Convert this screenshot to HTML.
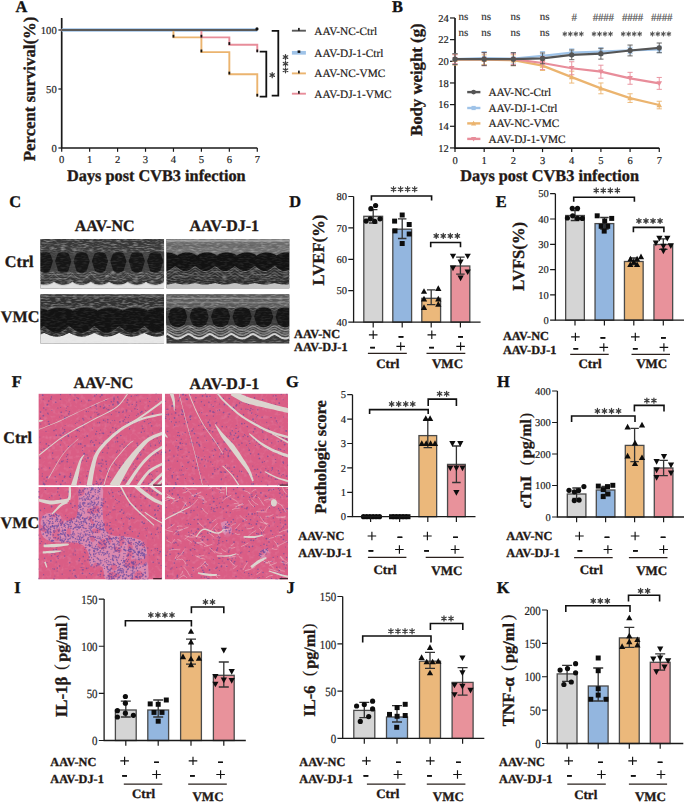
<!DOCTYPE html>
<html><head><meta charset="utf-8"><style>
html,body{margin:0;padding:0;background:#fff;overflow:hidden;}
svg{display:block;font-family:"Liberation Serif",serif;text-rendering:geometricPrecision;}
</style></head><body>
<svg width="685" height="802" viewBox="0 0 685 802" fill="#231815">
<rect width="685" height="802" fill="#fff"/>
<defs>
<linearGradient id="brg" x1="0" y1="0" x2="0" y2="1"><stop offset="0" stop-color="#cfcfcf"/><stop offset="0.5" stop-color="#efefef"/><stop offset="1" stop-color="#bdbdbd"/></linearGradient>
<filter id="echoNoise" x="0" y="0" width="100%" height="100%"><feTurbulence type="fractalNoise" baseFrequency="0.18 0.7" numOctaves="2" seed="3"/><feColorMatrix type="matrix" values="0 0 0 0 0.62  0 0 0 0 0.62  0 0 0 0 0.62  2.2 0 0 0 -0.95"/></filter>
<filter id="histNoise" x="0" y="0" width="100%" height="100%"><feTurbulence type="fractalNoise" baseFrequency="0.25" numOctaves="2" seed="5"/><feColorMatrix type="matrix" values="0 0 0 0 1  0 0 0 0 0.85  0 0 0 0 0.95  1.5 0 0 0 -0.7"/></filter>
</defs><clipPath id="ec1"><rect x="40.3" y="239" width="123.8" height="49.8"/></clipPath><g clip-path="url(#ec1)"><rect x="40.3" y="239" width="123.8" height="49.8" fill="#353535"/><polygon points="40.3,239 164.1,239 164.1,255.7 163.5,255 162.8,254.4 162.1,254 161.4,253.5 160.7,253.2 160,252.8 159.3,252.6 158.6,252.3 157.9,252.1 157.2,252 156.5,251.9 155.8,251.8 155.1,251.8 154.4,251.8 153.7,251.9 153,252 152.3,252.2 151.6,252.4 150.9,252.6 150.2,252.9 149.5,253.3 148.8,253.6 148.1,254.1 147.4,254.6 146.7,255.2 146,256.2 145.3,255.2 144.6,254.6 143.9,254.1 143.2,253.6 142.5,253.3 141.8,252.9 141.1,252.6 140.4,252.4 139.7,252.2 139,252 138.3,251.9 137.6,251.8 136.9,251.8 136.2,251.8 135.5,251.9 134.8,252 134.1,252.1 133.4,252.3 132.7,252.6 132,252.8 131.3,253.2 130.6,253.5 129.9,254 129.2,254.4 128.5,255 127.8,255.8 127.1,255.4 126.4,254.8 125.7,254.2 125,253.8 124.3,253.4 123.6,253 122.9,252.7 122.2,252.4 121.5,252.2 120.8,252.1 120.1,251.9 119.4,251.8 118.7,251.8 118,251.8 117.3,251.9 116.6,251.9 115.9,252.1 115.2,252.3 114.5,252.5 113.8,252.7 113.1,253.1 112.4,253.4 111.7,253.8 111,254.3 110.3,254.8 109.6,255.5 108.9,255.7 108.2,254.9 107.5,254.4 106.8,253.9 106.1,253.5 105.4,253.1 104.7,252.8 104,252.5 103.3,252.3 102.6,252.1 101.9,252 101.2,251.9 100.5,251.8 99.8,251.8 99.1,251.8 98.4,251.9 97.7,252 97,252.2 96.3,252.4 95.6,252.7 94.9,253 94.2,253.3 93.5,253.7 92.8,254.2 92.1,254.7 91.4,255.3 90.7,255.9 90,255.1 89.3,254.5 88.6,254 87.9,253.6 87.2,253.2 86.5,252.9 85.8,252.6 85.1,252.3 84.4,252.2 83.7,252 83,251.9 82.3,251.8 81.6,251.8 80.9,251.8 80.2,251.9 79.5,252 78.8,252.2 78.1,252.3 77.4,252.6 76.7,252.9 76,253.2 75.3,253.6 74.6,254 73.9,254.5 73.2,255.1 72.5,255.9 71.8,255.3 71.1,254.7 70.4,254.2 69.7,253.7 69,253.3 68.3,253 67.6,252.7 66.9,252.4 66.2,252.2 65.5,252 64.8,251.9 64.1,251.8 63.4,251.8 62.7,251.8 62,251.9 61.3,252 60.6,252.1 59.9,252.3 59.2,252.5 58.5,252.8 57.8,253.1 57.1,253.5 56.4,253.9 55.7,254.4 55,254.9 54.3,255.7 53.6,255.5 52.9,254.8 52.2,254.3 51.5,253.8 50.8,253.4 50.1,253.1 49.4,252.7 48.7,252.5 48,252.3 47.3,252.1 46.6,251.9 45.9,251.9 45.2,251.8 44.5,251.8 43.8,251.8 43.1,251.9 42.4,252.1 41.7,252.2 41,252.4 40.3,252.7" fill="#383838"/><polyline points="40.3,250.2 41,249.9 41.7,249.7 42.4,249.6 43.1,249.4 43.8,249.3 44.5,249.3 45.2,249.3 45.9,249.4 46.6,249.4 47.3,249.6 48,249.8 48.7,250 49.4,250.2 50.1,250.6 50.8,250.9 51.5,251.3 52.2,251.8 52.9,252.3 53.6,253 54.3,253.2 55,252.4 55.7,251.9 56.4,251.4 57.1,251 57.8,250.6 58.5,250.3 59.2,250 59.9,249.8 60.6,249.6 61.3,249.5 62,249.4 62.7,249.3 63.4,249.3 64.1,249.3 64.8,249.4 65.5,249.5 66.2,249.7 66.9,249.9 67.6,250.2 68.3,250.5 69,250.8 69.7,251.2 70.4,251.7 71.1,252.2 71.8,252.8 72.5,253.4 73.2,252.6 73.9,252 74.6,251.5 75.3,251.1 76,250.7 76.7,250.4 77.4,250.1 78.1,249.8 78.8,249.7 79.5,249.5 80.2,249.4 80.9,249.3 81.6,249.3 82.3,249.3 83,249.4 83.7,249.5 84.4,249.7 85.1,249.8 85.8,250.1 86.5,250.4 87.2,250.7 87.9,251.1 88.6,251.5 89.3,252 90,252.6 90.7,253.4 91.4,252.8 92.1,252.2 92.8,251.7 93.5,251.2 94.2,250.8 94.9,250.5 95.6,250.2 96.3,249.9 97,249.7 97.7,249.5 98.4,249.4 99.1,249.3 99.8,249.3 100.5,249.3 101.2,249.4 101.9,249.5 102.6,249.6 103.3,249.8 104,250 104.7,250.3 105.4,250.6 106.1,251 106.8,251.4 107.5,251.9 108.2,252.4 108.9,253.2 109.6,253 110.3,252.3 111,251.8 111.7,251.3 112.4,250.9 113.1,250.6 113.8,250.2 114.5,250 115.2,249.8 115.9,249.6 116.6,249.4 117.3,249.4 118,249.3 118.7,249.3 119.4,249.3 120.1,249.4 120.8,249.6 121.5,249.7 122.2,249.9 122.9,250.2 123.6,250.5 124.3,250.9 125,251.3 125.7,251.7 126.4,252.3 127.1,252.9 127.8,253.3 128.5,252.5 129.2,251.9 129.9,251.5 130.6,251 131.3,250.7 132,250.3 132.7,250.1 133.4,249.8 134.1,249.6 134.8,249.5 135.5,249.4 136.2,249.3 136.9,249.3 137.6,249.3 138.3,249.4 139,249.5 139.7,249.7 140.4,249.9 141.1,250.1 141.8,250.4 142.5,250.8 143.2,251.1 143.9,251.6 144.6,252.1 145.3,252.7 146,253.7 146.7,252.7 147.4,252.1 148.1,251.6 148.8,251.1 149.5,250.8 150.2,250.4 150.9,250.1 151.6,249.9 152.3,249.7 153,249.5 153.7,249.4 154.4,249.3 155.1,249.3 155.8,249.3 156.5,249.4 157.2,249.5 157.9,249.6 158.6,249.8 159.3,250.1 160,250.3 160.7,250.7 161.4,251 162.1,251.5 162.8,251.9 163.5,252.5 164.1,253.2" fill="none" stroke="#4c4c4c" stroke-width="1.2"/><polyline points="40.3,246.7 41,246.4 41.7,246.2 42.4,246.1 43.1,245.9 43.8,245.8 44.5,245.8 45.2,245.8 45.9,245.9 46.6,245.9 47.3,246.1 48,246.3 48.7,246.5 49.4,246.7 50.1,247.1 50.8,247.4 51.5,247.8 52.2,248.3 52.9,248.8 53.6,249.5 54.3,249.7 55,248.9 55.7,248.4 56.4,247.9 57.1,247.5 57.8,247.1 58.5,246.8 59.2,246.5 59.9,246.3 60.6,246.1 61.3,246 62,245.9 62.7,245.8 63.4,245.8 64.1,245.8 64.8,245.9 65.5,246 66.2,246.2 66.9,246.4 67.6,246.7 68.3,247 69,247.3 69.7,247.7 70.4,248.2 71.1,248.7 71.8,249.3 72.5,249.9 73.2,249.1 73.9,248.5 74.6,248 75.3,247.6 76,247.2 76.7,246.9 77.4,246.6 78.1,246.3 78.8,246.2 79.5,246 80.2,245.9 80.9,245.8 81.6,245.8 82.3,245.8 83,245.9 83.7,246 84.4,246.2 85.1,246.3 85.8,246.6 86.5,246.9 87.2,247.2 87.9,247.6 88.6,248 89.3,248.5 90,249.1 90.7,249.9 91.4,249.3 92.1,248.7 92.8,248.2 93.5,247.7 94.2,247.3 94.9,247 95.6,246.7 96.3,246.4 97,246.2 97.7,246 98.4,245.9 99.1,245.8 99.8,245.8 100.5,245.8 101.2,245.9 101.9,246 102.6,246.1 103.3,246.3 104,246.5 104.7,246.8 105.4,247.1 106.1,247.5 106.8,247.9 107.5,248.4 108.2,248.9 108.9,249.7 109.6,249.5 110.3,248.8 111,248.3 111.7,247.8 112.4,247.4 113.1,247.1 113.8,246.7 114.5,246.5 115.2,246.3 115.9,246.1 116.6,245.9 117.3,245.9 118,245.8 118.7,245.8 119.4,245.8 120.1,245.9 120.8,246.1 121.5,246.2 122.2,246.4 122.9,246.7 123.6,247 124.3,247.4 125,247.8 125.7,248.2 126.4,248.8 127.1,249.4 127.8,249.8 128.5,249 129.2,248.4 129.9,248 130.6,247.5 131.3,247.2 132,246.8 132.7,246.6 133.4,246.3 134.1,246.1 134.8,246 135.5,245.9 136.2,245.8 136.9,245.8 137.6,245.8 138.3,245.9 139,246 139.7,246.2 140.4,246.4 141.1,246.6 141.8,246.9 142.5,247.3 143.2,247.6 143.9,248.1 144.6,248.6 145.3,249.2 146,250.2 146.7,249.2 147.4,248.6 148.1,248.1 148.8,247.6 149.5,247.3 150.2,246.9 150.9,246.6 151.6,246.4 152.3,246.2 153,246 153.7,245.9 154.4,245.8 155.1,245.8 155.8,245.8 156.5,245.9 157.2,246 157.9,246.1 158.6,246.3 159.3,246.6 160,246.8 160.7,247.2 161.4,247.5 162.1,248 162.8,248.4 163.5,249 164.1,249.7" fill="none" stroke="#444" stroke-width="1.2"/><polyline points="40.3,272.7 41,273 41.7,273.4 42.4,273.6 43.1,273.8 43.8,273.9 44.5,274 45.2,274 45.9,273.9 46.6,273.8 47.3,273.6 48,273.3 48.7,273 49.4,272.6 50.1,272.1 50.8,271.6 51.5,271 52.2,270.3 52.9,269.5 53.6,268.5 54.3,268.3 55,269.4 55.7,270.2 56.4,270.9 57.1,271.5 57.8,272.1 58.5,272.5 59.2,272.9 59.9,273.3 60.6,273.6 61.3,273.8 62,273.9 62.7,274 63.4,274 64.1,273.9 64.8,273.8 65.5,273.6 66.2,273.4 66.9,273.1 67.6,272.7 68.3,272.3 69,271.8 69.7,271.2 70.4,270.5 71.1,269.8 71.8,268.8 72.5,267.9 73.2,269.1 73.9,270 74.6,270.7 75.3,271.4 76,271.9 76.7,272.4 77.4,272.8 78.1,273.2 78.8,273.5 79.5,273.7 80.2,273.9 80.9,274 81.6,274 82.3,274 83,273.9 83.7,273.7 84.4,273.5 85.1,273.2 85.8,272.8 86.5,272.4 87.2,271.9 87.9,271.4 88.6,270.7 89.3,270 90,269.1 90.7,267.9 91.4,268.8 92.1,269.8 92.8,270.5 93.5,271.2 94.2,271.8 94.9,272.3 95.6,272.7 96.3,273.1 97,273.4 97.7,273.6 98.4,273.8 99.1,273.9 99.8,274 100.5,274 101.2,273.9 101.9,273.8 102.6,273.6 103.3,273.3 104,272.9 104.7,272.5 105.4,272.1 106.1,271.5 106.8,270.9 107.5,270.2 108.2,269.4 108.9,268.3 109.6,268.5 110.3,269.5 111,270.3 111.7,271 112.4,271.6 113.1,272.1 113.8,272.6 114.5,273 115.2,273.3 115.9,273.6 116.6,273.8 117.3,273.9 118,274 118.7,274 119.4,273.9 120.1,273.8 120.8,273.6 121.5,273.4 122.2,273 122.9,272.7 123.6,272.2 124.3,271.7 125,271.1 125.7,270.4 126.4,269.6 127.1,268.7 127.8,268.1 128.5,269.2 129.2,270.1 129.9,270.8 130.6,271.4 131.3,272 132,272.5 132.7,272.9 133.4,273.2 134.1,273.5 134.8,273.7 135.5,273.9 136.2,274 136.9,274 137.6,274 138.3,273.9 139,273.7 139.7,273.4 140.4,273.1 141.1,272.8 141.8,272.3 142.5,271.8 143.2,271.3 143.9,270.6 144.6,269.9 145.3,269 146,267.5 146.7,269 147.4,269.9 148.1,270.6 148.8,271.3 149.5,271.8 150.2,272.3 150.9,272.8 151.6,273.1 152.3,273.4 153,273.7 153.7,273.9 154.4,274 155.1,274 155.8,274 156.5,273.9 157.2,273.7 157.9,273.5 158.6,273.2 159.3,272.9 160,272.5 160.7,272 161.4,271.4 162.1,270.8 162.8,270.1 163.5,269.2 164.1,268.3" fill="none" stroke="#555" stroke-width="1.3"/><polyline points="40.3,275.2 41,275.5 41.7,275.9 42.4,276.1 43.1,276.3 43.8,276.4 44.5,276.5 45.2,276.5 45.9,276.4 46.6,276.3 47.3,276.1 48,275.8 48.7,275.5 49.4,275.1 50.1,274.6 50.8,274.1 51.5,273.5 52.2,272.8 52.9,272 53.6,271 54.3,270.8 55,271.9 55.7,272.7 56.4,273.4 57.1,274 57.8,274.6 58.5,275 59.2,275.4 59.9,275.8 60.6,276.1 61.3,276.3 62,276.4 62.7,276.5 63.4,276.5 64.1,276.4 64.8,276.3 65.5,276.1 66.2,275.9 66.9,275.6 67.6,275.2 68.3,274.8 69,274.3 69.7,273.7 70.4,273 71.1,272.3 71.8,271.3 72.5,270.4 73.2,271.6 73.9,272.5 74.6,273.2 75.3,273.9 76,274.4 76.7,274.9 77.4,275.3 78.1,275.7 78.8,276 79.5,276.2 80.2,276.4 80.9,276.5 81.6,276.5 82.3,276.5 83,276.4 83.7,276.2 84.4,276 85.1,275.7 85.8,275.3 86.5,274.9 87.2,274.4 87.9,273.9 88.6,273.2 89.3,272.5 90,271.6 90.7,270.4 91.4,271.3 92.1,272.3 92.8,273 93.5,273.7 94.2,274.3 94.9,274.8 95.6,275.2 96.3,275.6 97,275.9 97.7,276.1 98.4,276.3 99.1,276.4 99.8,276.5 100.5,276.5 101.2,276.4 101.9,276.3 102.6,276.1 103.3,275.8 104,275.4 104.7,275 105.4,274.6 106.1,274 106.8,273.4 107.5,272.7 108.2,271.9 108.9,270.8 109.6,271 110.3,272 111,272.8 111.7,273.5 112.4,274.1 113.1,274.6 113.8,275.1 114.5,275.5 115.2,275.8 115.9,276.1 116.6,276.3 117.3,276.4 118,276.5 118.7,276.5 119.4,276.4 120.1,276.3 120.8,276.1 121.5,275.9 122.2,275.5 122.9,275.2 123.6,274.7 124.3,274.2 125,273.6 125.7,272.9 126.4,272.1 127.1,271.2 127.8,270.6 128.5,271.7 129.2,272.6 129.9,273.3 130.6,273.9 131.3,274.5 132,275 132.7,275.4 133.4,275.7 134.1,276 134.8,276.2 135.5,276.4 136.2,276.5 136.9,276.5 137.6,276.5 138.3,276.4 139,276.2 139.7,275.9 140.4,275.6 141.1,275.3 141.8,274.8 142.5,274.3 143.2,273.8 143.9,273.1 144.6,272.4 145.3,271.5 146,270 146.7,271.5 147.4,272.4 148.1,273.1 148.8,273.8 149.5,274.3 150.2,274.8 150.9,275.3 151.6,275.6 152.3,275.9 153,276.2 153.7,276.4 154.4,276.5 155.1,276.5 155.8,276.5 156.5,276.4 157.2,276.2 157.9,276 158.6,275.7 159.3,275.4 160,275 160.7,274.5 161.4,273.9 162.1,273.3 162.8,272.6 163.5,271.7 164.1,270.8" fill="none" stroke="#4a4a4a" stroke-width="1.2"/><polyline points="40.3,277.7 41,278 41.7,278.4 42.4,278.6 43.1,278.8 43.8,278.9 44.5,279 45.2,279 45.9,278.9 46.6,278.8 47.3,278.6 48,278.3 48.7,278 49.4,277.6 50.1,277.1 50.8,276.6 51.5,276 52.2,275.3 52.9,274.5 53.6,273.5 54.3,273.3 55,274.4 55.7,275.2 56.4,275.9 57.1,276.5 57.8,277.1 58.5,277.5 59.2,277.9 59.9,278.3 60.6,278.6 61.3,278.8 62,278.9 62.7,279 63.4,279 64.1,278.9 64.8,278.8 65.5,278.6 66.2,278.4 66.9,278.1 67.6,277.7 68.3,277.3 69,276.8 69.7,276.2 70.4,275.5 71.1,274.8 71.8,273.8 72.5,272.9 73.2,274.1 73.9,275 74.6,275.7 75.3,276.4 76,276.9 76.7,277.4 77.4,277.8 78.1,278.2 78.8,278.5 79.5,278.7 80.2,278.9 80.9,279 81.6,279 82.3,279 83,278.9 83.7,278.7 84.4,278.5 85.1,278.2 85.8,277.8 86.5,277.4 87.2,276.9 87.9,276.4 88.6,275.7 89.3,275 90,274.1 90.7,272.9 91.4,273.8 92.1,274.8 92.8,275.5 93.5,276.2 94.2,276.8 94.9,277.3 95.6,277.7 96.3,278.1 97,278.4 97.7,278.6 98.4,278.8 99.1,278.9 99.8,279 100.5,279 101.2,278.9 101.9,278.8 102.6,278.6 103.3,278.3 104,277.9 104.7,277.5 105.4,277.1 106.1,276.5 106.8,275.9 107.5,275.2 108.2,274.4 108.9,273.3 109.6,273.5 110.3,274.5 111,275.3 111.7,276 112.4,276.6 113.1,277.1 113.8,277.6 114.5,278 115.2,278.3 115.9,278.6 116.6,278.8 117.3,278.9 118,279 118.7,279 119.4,278.9 120.1,278.8 120.8,278.6 121.5,278.4 122.2,278 122.9,277.7 123.6,277.2 124.3,276.7 125,276.1 125.7,275.4 126.4,274.6 127.1,273.7 127.8,273.1 128.5,274.2 129.2,275.1 129.9,275.8 130.6,276.4 131.3,277 132,277.5 132.7,277.9 133.4,278.2 134.1,278.5 134.8,278.7 135.5,278.9 136.2,279 136.9,279 137.6,279 138.3,278.9 139,278.7 139.7,278.4 140.4,278.1 141.1,277.8 141.8,277.3 142.5,276.8 143.2,276.3 143.9,275.6 144.6,274.9 145.3,274 146,272.5 146.7,274 147.4,274.9 148.1,275.6 148.8,276.3 149.5,276.8 150.2,277.3 150.9,277.8 151.6,278.1 152.3,278.4 153,278.7 153.7,278.9 154.4,279 155.1,279 155.8,279 156.5,278.9 157.2,278.7 157.9,278.5 158.6,278.2 159.3,277.9 160,277.5 160.7,277 161.4,276.4 162.1,275.8 162.8,275.1 163.5,274.2 164.1,273.3" fill="none" stroke="#5a5a5a" stroke-width="1.2"/><polyline points="40.3,280.2 41,280.5 41.7,280.9 42.4,281.1 43.1,281.3 43.8,281.4 44.5,281.5 45.2,281.5 45.9,281.4 46.6,281.3 47.3,281.1 48,280.8 48.7,280.5 49.4,280.1 50.1,279.6 50.8,279.1 51.5,278.5 52.2,277.8 52.9,277 53.6,276 54.3,275.8 55,276.9 55.7,277.7 56.4,278.4 57.1,279 57.8,279.6 58.5,280 59.2,280.4 59.9,280.8 60.6,281.1 61.3,281.3 62,281.4 62.7,281.5 63.4,281.5 64.1,281.4 64.8,281.3 65.5,281.1 66.2,280.9 66.9,280.6 67.6,280.2 68.3,279.8 69,279.3 69.7,278.7 70.4,278 71.1,277.3 71.8,276.3 72.5,275.4 73.2,276.6 73.9,277.5 74.6,278.2 75.3,278.9 76,279.4 76.7,279.9 77.4,280.3 78.1,280.7 78.8,281 79.5,281.2 80.2,281.4 80.9,281.5 81.6,281.5 82.3,281.5 83,281.4 83.7,281.2 84.4,281 85.1,280.7 85.8,280.3 86.5,279.9 87.2,279.4 87.9,278.9 88.6,278.2 89.3,277.5 90,276.6 90.7,275.4 91.4,276.3 92.1,277.3 92.8,278 93.5,278.7 94.2,279.3 94.9,279.8 95.6,280.2 96.3,280.6 97,280.9 97.7,281.1 98.4,281.3 99.1,281.4 99.8,281.5 100.5,281.5 101.2,281.4 101.9,281.3 102.6,281.1 103.3,280.8 104,280.4 104.7,280 105.4,279.6 106.1,279 106.8,278.4 107.5,277.7 108.2,276.9 108.9,275.8 109.6,276 110.3,277 111,277.8 111.7,278.5 112.4,279.1 113.1,279.6 113.8,280.1 114.5,280.5 115.2,280.8 115.9,281.1 116.6,281.3 117.3,281.4 118,281.5 118.7,281.5 119.4,281.4 120.1,281.3 120.8,281.1 121.5,280.9 122.2,280.5 122.9,280.2 123.6,279.7 124.3,279.2 125,278.6 125.7,277.9 126.4,277.1 127.1,276.2 127.8,275.6 128.5,276.7 129.2,277.6 129.9,278.3 130.6,278.9 131.3,279.5 132,280 132.7,280.4 133.4,280.7 134.1,281 134.8,281.2 135.5,281.4 136.2,281.5 136.9,281.5 137.6,281.5 138.3,281.4 139,281.2 139.7,280.9 140.4,280.6 141.1,280.3 141.8,279.8 142.5,279.3 143.2,278.8 143.9,278.1 144.6,277.4 145.3,276.5 146,275 146.7,276.5 147.4,277.4 148.1,278.1 148.8,278.8 149.5,279.3 150.2,279.8 150.9,280.3 151.6,280.6 152.3,280.9 153,281.2 153.7,281.4 154.4,281.5 155.1,281.5 155.8,281.5 156.5,281.4 157.2,281.2 157.9,281 158.6,280.7 159.3,280.4 160,280 160.7,279.5 161.4,278.9 162.1,278.3 162.8,277.6 163.5,276.7 164.1,275.8" fill="none" stroke="#444" stroke-width="1.2"/><rect x="40.3" y="239" width="123.8" height="49.8" filter="url(#echoNoise)" opacity="0.5"/><polygon points="40.3,284.3 41,284.5 41.7,284.7 42.4,284.8 43.1,284.9 43.8,285 44.5,285 45.2,285 45.9,285 46.6,284.9 47.3,284.8 48,284.7 48.7,284.5 49.4,284.3 50.1,284.1 50.8,283.8 51.5,283.5 52.2,283.2 52.9,282.8 53.6,282.3 54.3,282.2 55,282.7 55.7,283.1 56.4,283.5 57.1,283.8 57.8,284 58.5,284.3 59.2,284.5 59.9,284.6 60.6,284.8 61.3,284.9 62,285 62.7,285 63.4,285 64.1,285 64.8,284.9 65.5,284.8 66.2,284.7 66.9,284.6 67.6,284.4 68.3,284.2 69,283.9 69.7,283.6 70.4,283.3 71.1,282.9 71.8,282.4 72.5,282 73.2,282.6 73.9,283 74.6,283.4 75.3,283.7 76,284 76.7,284.2 77.4,284.4 78.1,284.6 78.8,284.7 79.5,284.9 80.2,284.9 80.9,285 81.6,285 82.3,285 83,284.9 83.7,284.9 84.4,284.7 85.1,284.6 85.8,284.4 86.5,284.2 87.2,284 87.9,283.7 88.6,283.4 89.3,283 90,282.6 90.7,282 91.4,282.4 92.1,282.9 92.8,283.3 93.5,283.6 94.2,283.9 94.9,284.2 95.6,284.4 96.3,284.6 97,284.7 97.7,284.8 98.4,284.9 99.1,285 99.8,285 100.5,285 101.2,285 101.9,284.9 102.6,284.8 103.3,284.6 104,284.5 104.7,284.3 105.4,284 106.1,283.8 106.8,283.5 107.5,283.1 108.2,282.7 108.9,282.2 109.6,282.3 110.3,282.8 111,283.2 111.7,283.5 112.4,283.8 113.1,284.1 113.8,284.3 114.5,284.5 115.2,284.7 115.9,284.8 116.6,284.9 117.3,285 118,285 118.7,285 119.4,285 120.1,284.9 120.8,284.8 121.5,284.7 122.2,284.5 122.9,284.3 123.6,284.1 124.3,283.9 125,283.6 125.7,283.2 126.4,282.8 127.1,282.4 127.8,282.1 128.5,282.7 129.2,283.1 129.9,283.4 130.6,283.7 131.3,284 132,284.2 132.7,284.5 133.4,284.6 134.1,284.8 134.8,284.9 135.5,284.9 136.2,285 136.9,285 137.6,285 138.3,284.9 139,284.8 139.7,284.7 140.4,284.6 141.1,284.4 141.8,284.2 142.5,283.9 143.2,283.7 143.9,283.3 144.6,283 145.3,282.5 146,281.8 146.7,282.5 147.4,283 148.1,283.3 148.8,283.7 149.5,283.9 150.2,284.2 150.9,284.4 151.6,284.6 152.3,284.7 153,284.8 153.7,284.9 154.4,285 155.1,285 155.8,285 156.5,284.9 157.2,284.9 157.9,284.8 158.6,284.6 159.3,284.5 160,284.2 160.7,284 161.4,283.7 162.1,283.4 162.8,283.1 163.5,282.7 164.1,282.2 164.1,288.8 40.3,288.8" fill="#e2e2e2"/><polyline points="40.3,284.5 41,284.7 41.7,284.9 42.4,285 43.1,285.1 43.8,285.2 44.5,285.2 45.2,285.2 45.9,285.2 46.6,285.1 47.3,285 48,284.9 48.7,284.7 49.4,284.5 50.1,284.3 50.8,284 51.5,283.7 52.2,283.4 52.9,283 53.6,282.5 54.3,282.4 55,282.9 55.7,283.3 56.4,283.7 57.1,284 57.8,284.2 58.5,284.5 59.2,284.7 59.9,284.8 60.6,285 61.3,285.1 62,285.2 62.7,285.2 63.4,285.2 64.1,285.2 64.8,285.1 65.5,285 66.2,284.9 66.9,284.8 67.6,284.6 68.3,284.4 69,284.1 69.7,283.8 70.4,283.5 71.1,283.1 71.8,282.6 72.5,282.2 73.2,282.8 73.9,283.2 74.6,283.6 75.3,283.9 76,284.2 76.7,284.4 77.4,284.6 78.1,284.8 78.8,284.9 79.5,285.1 80.2,285.1 80.9,285.2 81.6,285.2 82.3,285.2 83,285.1 83.7,285.1 84.4,284.9 85.1,284.8 85.8,284.6 86.5,284.4 87.2,284.2 87.9,283.9 88.6,283.6 89.3,283.2 90,282.8 90.7,282.2 91.4,282.6 92.1,283.1 92.8,283.5 93.5,283.8 94.2,284.1 94.9,284.4 95.6,284.6 96.3,284.8 97,284.9 97.7,285 98.4,285.1 99.1,285.2 99.8,285.2 100.5,285.2 101.2,285.2 101.9,285.1 102.6,285 103.3,284.8 104,284.7 104.7,284.5 105.4,284.2 106.1,284 106.8,283.7 107.5,283.3 108.2,282.9 108.9,282.4 109.6,282.5 110.3,283 111,283.4 111.7,283.7 112.4,284 113.1,284.3 113.8,284.5 114.5,284.7 115.2,284.9 115.9,285 116.6,285.1 117.3,285.2 118,285.2 118.7,285.2 119.4,285.2 120.1,285.1 120.8,285 121.5,284.9 122.2,284.7 122.9,284.5 123.6,284.3 124.3,284.1 125,283.8 125.7,283.4 126.4,283 127.1,282.6 127.8,282.3 128.5,282.9 129.2,283.3 129.9,283.6 130.6,283.9 131.3,284.2 132,284.4 132.7,284.7 133.4,284.8 134.1,285 134.8,285.1 135.5,285.1 136.2,285.2 136.9,285.2 137.6,285.2 138.3,285.1 139,285 139.7,284.9 140.4,284.8 141.1,284.6 141.8,284.4 142.5,284.1 143.2,283.9 143.9,283.5 144.6,283.2 145.3,282.7 146,282 146.7,282.7 147.4,283.2 148.1,283.5 148.8,283.9 149.5,284.1 150.2,284.4 150.9,284.6 151.6,284.8 152.3,284.9 153,285 153.7,285.1 154.4,285.2 155.1,285.2 155.8,285.2 156.5,285.1 157.2,285.1 157.9,285 158.6,284.8 159.3,284.7 160,284.4 160.7,284.2 161.4,283.9 162.1,283.6 162.8,283.3 163.5,282.9 164.1,282.4" fill="none" stroke="#c8c8c8" stroke-width="1"/><polygon points="40.3,252.7 41,252.4 41.7,252.2 42.4,252.1 43.1,251.9 43.8,251.8 44.5,251.8 45.2,251.8 45.9,251.9 46.6,251.9 47.3,252.1 48,252.3 48.7,252.5 49.4,252.7 50.1,253.1 50.8,253.4 51.5,253.8 52.2,254.3 52.9,254.8 53.6,255.5 54.3,255.7 55,254.9 55.7,254.4 56.4,253.9 57.1,253.5 57.8,253.1 58.5,252.8 59.2,252.5 59.9,252.3 60.6,252.1 61.3,252 62,251.9 62.7,251.8 63.4,251.8 64.1,251.8 64.8,251.9 65.5,252 66.2,252.2 66.9,252.4 67.6,252.7 68.3,253 69,253.3 69.7,253.7 70.4,254.2 71.1,254.7 71.8,255.3 72.5,255.9 73.2,255.1 73.9,254.5 74.6,254 75.3,253.6 76,253.2 76.7,252.9 77.4,252.6 78.1,252.3 78.8,252.2 79.5,252 80.2,251.9 80.9,251.8 81.6,251.8 82.3,251.8 83,251.9 83.7,252 84.4,252.2 85.1,252.3 85.8,252.6 86.5,252.9 87.2,253.2 87.9,253.6 88.6,254 89.3,254.5 90,255.1 90.7,255.9 91.4,255.3 92.1,254.7 92.8,254.2 93.5,253.7 94.2,253.3 94.9,253 95.6,252.7 96.3,252.4 97,252.2 97.7,252 98.4,251.9 99.1,251.8 99.8,251.8 100.5,251.8 101.2,251.9 101.9,252 102.6,252.1 103.3,252.3 104,252.5 104.7,252.8 105.4,253.1 106.1,253.5 106.8,253.9 107.5,254.4 108.2,254.9 108.9,255.7 109.6,255.5 110.3,254.8 111,254.3 111.7,253.8 112.4,253.4 113.1,253.1 113.8,252.7 114.5,252.5 115.2,252.3 115.9,252.1 116.6,251.9 117.3,251.9 118,251.8 118.7,251.8 119.4,251.8 120.1,251.9 120.8,252.1 121.5,252.2 122.2,252.4 122.9,252.7 123.6,253 124.3,253.4 125,253.8 125.7,254.2 126.4,254.8 127.1,255.4 127.8,255.8 128.5,255 129.2,254.4 129.9,254 130.6,253.5 131.3,253.2 132,252.8 132.7,252.6 133.4,252.3 134.1,252.1 134.8,252 135.5,251.9 136.2,251.8 136.9,251.8 137.6,251.8 138.3,251.9 139,252 139.7,252.2 140.4,252.4 141.1,252.6 141.8,252.9 142.5,253.3 143.2,253.6 143.9,254.1 144.6,254.6 145.3,255.2 146,256.2 146.7,255.2 147.4,254.6 148.1,254.1 148.8,253.6 149.5,253.3 150.2,252.9 150.9,252.6 151.6,252.4 152.3,252.2 153,252 153.7,251.9 154.4,251.8 155.1,251.8 155.8,251.8 156.5,251.9 157.2,252 157.9,252.1 158.6,252.3 159.3,252.6 160,252.8 160.7,253.2 161.4,253.5 162.1,254 162.8,254.4 163.5,255 164.1,255.7 164.1,266.8 163.5,267.7 162.8,268.6 162.1,269.3 161.4,269.9 160.7,270.5 160,271 159.3,271.4 158.6,271.7 157.9,272 157.2,272.2 156.5,272.4 155.8,272.5 155.1,272.5 154.4,272.5 153.7,272.4 153,272.2 152.3,271.9 151.6,271.6 150.9,271.3 150.2,270.8 149.5,270.3 148.8,269.8 148.1,269.1 147.4,268.4 146.7,267.5 146,266 145.3,267.5 144.6,268.4 143.9,269.1 143.2,269.8 142.5,270.3 141.8,270.8 141.1,271.3 140.4,271.6 139.7,271.9 139,272.2 138.3,272.4 137.6,272.5 136.9,272.5 136.2,272.5 135.5,272.4 134.8,272.2 134.1,272 133.4,271.7 132.7,271.4 132,271 131.3,270.5 130.6,269.9 129.9,269.3 129.2,268.6 128.5,267.7 127.8,266.6 127.1,267.2 126.4,268.1 125.7,268.9 125,269.6 124.3,270.2 123.6,270.7 122.9,271.2 122.2,271.5 121.5,271.9 120.8,272.1 120.1,272.3 119.4,272.4 118.7,272.5 118,272.5 117.3,272.4 116.6,272.3 115.9,272.1 115.2,271.8 114.5,271.5 113.8,271.1 113.1,270.6 112.4,270.1 111.7,269.5 111,268.8 110.3,268 109.6,267 108.9,266.8 108.2,267.9 107.5,268.7 106.8,269.4 106.1,270 105.4,270.6 104.7,271 104,271.4 103.3,271.8 102.6,272.1 101.9,272.3 101.2,272.4 100.5,272.5 99.8,272.5 99.1,272.4 98.4,272.3 97.7,272.1 97,271.9 96.3,271.6 95.6,271.2 94.9,270.8 94.2,270.3 93.5,269.7 92.8,269 92.1,268.3 91.4,267.3 90.7,266.4 90,267.6 89.3,268.5 88.6,269.2 87.9,269.9 87.2,270.4 86.5,270.9 85.8,271.3 85.1,271.7 84.4,272 83.7,272.2 83,272.4 82.3,272.5 81.6,272.5 80.9,272.5 80.2,272.4 79.5,272.2 78.8,272 78.1,271.7 77.4,271.3 76.7,270.9 76,270.4 75.3,269.9 74.6,269.2 73.9,268.5 73.2,267.6 72.5,266.4 71.8,267.3 71.1,268.3 70.4,269 69.7,269.7 69,270.3 68.3,270.8 67.6,271.2 66.9,271.6 66.2,271.9 65.5,272.1 64.8,272.3 64.1,272.4 63.4,272.5 62.7,272.5 62,272.4 61.3,272.3 60.6,272.1 59.9,271.8 59.2,271.4 58.5,271 57.8,270.6 57.1,270 56.4,269.4 55.7,268.7 55,267.9 54.3,266.8 53.6,267 52.9,268 52.2,268.8 51.5,269.5 50.8,270.1 50.1,270.6 49.4,271.1 48.7,271.5 48,271.8 47.3,272.1 46.6,272.3 45.9,272.4 45.2,272.5 44.5,272.5 43.8,272.4 43.1,272.3 42.4,272.1 41.7,271.9 41,271.5 40.3,271.2" fill="#161616"/><path d="M13 252.4L21.4 252.4L18.3 261.1L21.4 271.3L13 271.3L16.1 261.1ZM31.4 252.4L39.8 252.4L36.7 261.1L39.8 271.3L31.4 271.3L34.5 261.1ZM49.8 252.4L58.2 252.4L55.1 261.1L58.2 271.3L49.8 271.3L52.9 261.1ZM68.2 252.4L76.6 252.4L73.5 261.1L76.6 271.3L68.2 271.3L71.3 261.1ZM86.6 252.4L95 252.4L91.9 261.1L95 271.3L86.6 271.3L89.7 261.1ZM105 252.4L113.4 252.4L110.3 261.1L113.4 271.3L105 271.3L108.1 261.1ZM123.4 252.4L131.8 252.4L128.7 261.1L131.8 271.3L123.4 271.3L126.5 261.1ZM141.8 252.4L150.2 252.4L147.1 261.1L150.2 271.3L141.8 271.3L144.9 261.1ZM160.2 252.4L168.6 252.4L165.5 261.1L168.6 271.3L160.2 271.3L163.3 261.1Z" fill="#404040"/><polyline points="40.3,252.7 41,252.4 41.7,252.2 42.4,252.1 43.1,251.9 43.8,251.8 44.5,251.8 45.2,251.8 45.9,251.9 46.6,251.9 47.3,252.1 48,252.3 48.7,252.5 49.4,252.7 50.1,253.1 50.8,253.4 51.5,253.8 52.2,254.3 52.9,254.8 53.6,255.5 54.3,255.7 55,254.9 55.7,254.4 56.4,253.9 57.1,253.5 57.8,253.1 58.5,252.8 59.2,252.5 59.9,252.3 60.6,252.1 61.3,252 62,251.9 62.7,251.8 63.4,251.8 64.1,251.8 64.8,251.9 65.5,252 66.2,252.2 66.9,252.4 67.6,252.7 68.3,253 69,253.3 69.7,253.7 70.4,254.2 71.1,254.7 71.8,255.3 72.5,255.9 73.2,255.1 73.9,254.5 74.6,254 75.3,253.6 76,253.2 76.7,252.9 77.4,252.6 78.1,252.3 78.8,252.2 79.5,252 80.2,251.9 80.9,251.8 81.6,251.8 82.3,251.8 83,251.9 83.7,252 84.4,252.2 85.1,252.3 85.8,252.6 86.5,252.9 87.2,253.2 87.9,253.6 88.6,254 89.3,254.5 90,255.1 90.7,255.9 91.4,255.3 92.1,254.7 92.8,254.2 93.5,253.7 94.2,253.3 94.9,253 95.6,252.7 96.3,252.4 97,252.2 97.7,252 98.4,251.9 99.1,251.8 99.8,251.8 100.5,251.8 101.2,251.9 101.9,252 102.6,252.1 103.3,252.3 104,252.5 104.7,252.8 105.4,253.1 106.1,253.5 106.8,253.9 107.5,254.4 108.2,254.9 108.9,255.7 109.6,255.5 110.3,254.8 111,254.3 111.7,253.8 112.4,253.4 113.1,253.1 113.8,252.7 114.5,252.5 115.2,252.3 115.9,252.1 116.6,251.9 117.3,251.9 118,251.8 118.7,251.8 119.4,251.8 120.1,251.9 120.8,252.1 121.5,252.2 122.2,252.4 122.9,252.7 123.6,253 124.3,253.4 125,253.8 125.7,254.2 126.4,254.8 127.1,255.4 127.8,255.8 128.5,255 129.2,254.4 129.9,254 130.6,253.5 131.3,253.2 132,252.8 132.7,252.6 133.4,252.3 134.1,252.1 134.8,252 135.5,251.9 136.2,251.8 136.9,251.8 137.6,251.8 138.3,251.9 139,252 139.7,252.2 140.4,252.4 141.1,252.6 141.8,252.9 142.5,253.3 143.2,253.6 143.9,254.1 144.6,254.6 145.3,255.2 146,256.2 146.7,255.2 147.4,254.6 148.1,254.1 148.8,253.6 149.5,253.3 150.2,252.9 150.9,252.6 151.6,252.4 152.3,252.2 153,252 153.7,251.9 154.4,251.8 155.1,251.8 155.8,251.8 156.5,251.9 157.2,252 157.9,252.1 158.6,252.3 159.3,252.6 160,252.8 160.7,253.2 161.4,253.5 162.1,254 162.8,254.4 163.5,255 164.1,255.7" fill="none" stroke="#4a4a4a" stroke-width="0.9"/><rect x="40.3" y="239" width="123.8" height="49.8" filter="url(#echoNoise)" opacity="0.14"/></g><clipPath id="ec2"><rect x="166.3" y="239.1" width="123.2" height="49.5"/></clipPath><g clip-path="url(#ec2)"><rect x="166.3" y="239.1" width="123.2" height="49.5" fill="#2c2c2c"/><polygon points="166.3,239.1 289.5,239.1 289.5,252.2 289.5,252.2 288.8,252.1 288.1,252.1 287.4,252 286.7,252 286,252 285.3,252.1 284.6,252.1 283.9,252.2 283.2,252.3 282.5,252.5 281.8,252.7 281.1,252.9 280.4,253.1 279.7,253.4 279,253.7 278.3,254 277.6,254.5 276.9,255 276.2,254.7 275.5,254.3 274.8,253.9 274.1,253.6 273.4,253.3 272.7,253 272,252.8 271.3,252.6 270.6,252.4 269.9,252.3 269.2,252.2 268.5,252.1 267.8,252 267.1,252 266.4,252 265.7,252 265,252.1 264.3,252.2 263.6,252.3 262.9,252.4 262.2,252.6 261.5,252.8 260.8,253 260.1,253.3 259.4,253.6 258.7,253.9 258,254.3 257.3,254.7 256.6,255 255.9,254.5 255.2,254 254.5,253.7 253.8,253.4 253.1,253.1 252.4,252.9 251.7,252.7 251,252.5 250.3,252.3 249.6,252.2 248.9,252.1 248.2,252.1 247.5,252 246.8,252 246.1,252 245.4,252.1 244.7,252.1 244,252.2 243.3,252.4 242.6,252.5 241.9,252.7 241.2,252.9 240.5,253.2 239.8,253.4 239.1,253.7 238.4,254.1 237.7,254.5 237,255.1 236.3,254.7 235.6,254.2 234.9,253.8 234.2,253.5 233.5,253.2 232.8,253 232.1,252.8 231.4,252.6 230.7,252.4 230,252.3 229.3,252.2 228.6,252.1 227.9,252 227.2,252 226.5,252 225.8,252 225.1,252.1 224.4,252.2 223.7,252.3 223,252.4 222.3,252.6 221.6,252.8 220.9,253.1 220.2,253.3 219.5,253.6 218.8,253.9 218.1,254.3 217.4,254.8 216.7,254.9 216,254.4 215.3,254 214.6,253.7 213.9,253.4 213.2,253.1 212.5,252.9 211.8,252.6 211.1,252.5 210.4,252.3 209.7,252.2 209,252.1 208.3,252 207.6,252 206.9,252 206.2,252 205.5,252.1 204.8,252.1 204.1,252.3 203.4,252.4 202.7,252.5 202,252.7 201.3,253 200.6,253.2 199.9,253.5 199.2,253.8 198.5,254.2 197.8,254.6 197.1,255.3 196.4,254.6 195.7,254.2 195,253.8 194.3,253.5 193.6,253.2 192.9,253 192.2,252.7 191.5,252.5 190.8,252.4 190.1,252.3 189.4,252.1 188.7,252.1 188,252 187.3,252 186.6,252 185.9,252 185.2,252.1 184.5,252.2 183.8,252.3 183.1,252.5 182.4,252.6 181.7,252.9 181,253.1 180.3,253.4 179.6,253.7 178.9,254 178.2,254.4 177.5,254.9 176.8,254.8 176.1,254.3 175.4,253.9 174.7,253.6 174,253.3 173.3,253.1 172.6,252.8 171.9,252.6 171.2,252.4 170.5,252.3 169.8,252.2 169.1,252.1 168.4,252 167.7,252 167,252 166.3,252" fill="#6c6c6c"/><rect x="166.3" y="239.6" width="123.2" height="2.0" fill="#9a9a9a"/><polyline points="166.3,249 167,249 167.7,249 168.4,249 169.1,249.1 169.8,249.2 170.5,249.3 171.2,249.4 171.9,249.6 172.6,249.8 173.3,250.1 174,250.3 174.7,250.6 175.4,250.9 176.1,251.3 176.8,251.8 177.5,251.9 178.2,251.4 178.9,251 179.6,250.7 180.3,250.4 181,250.1 181.7,249.9 182.4,249.6 183.1,249.5 183.8,249.3 184.5,249.2 185.2,249.1 185.9,249 186.6,249 187.3,249 188,249 188.7,249.1 189.4,249.1 190.1,249.3 190.8,249.4 191.5,249.5 192.2,249.7 192.9,250 193.6,250.2 194.3,250.5 195,250.8 195.7,251.2 196.4,251.6 197.1,252.3 197.8,251.6 198.5,251.2 199.2,250.8 199.9,250.5 200.6,250.2 201.3,250 202,249.7 202.7,249.5 203.4,249.4 204.1,249.3 204.8,249.1 205.5,249.1 206.2,249 206.9,249 207.6,249 208.3,249 209,249.1 209.7,249.2 210.4,249.3 211.1,249.5 211.8,249.6 212.5,249.9 213.2,250.1 213.9,250.4 214.6,250.7 215.3,251 216,251.4 216.7,251.9 217.4,251.8 218.1,251.3 218.8,250.9 219.5,250.6 220.2,250.3 220.9,250.1 221.6,249.8 222.3,249.6 223,249.4 223.7,249.3 224.4,249.2 225.1,249.1 225.8,249 226.5,249 227.2,249 227.9,249 228.6,249.1 229.3,249.2 230,249.3 230.7,249.4 231.4,249.6 232.1,249.8 232.8,250 233.5,250.2 234.2,250.5 234.9,250.8 235.6,251.2 236.3,251.7 237,252.1 237.7,251.5 238.4,251.1 239.1,250.7 239.8,250.4 240.5,250.2 241.2,249.9 241.9,249.7 242.6,249.5 243.3,249.4 244,249.2 244.7,249.1 245.4,249.1 246.1,249 246.8,249 247.5,249 248.2,249.1 248.9,249.1 249.6,249.2 250.3,249.3 251,249.5 251.7,249.7 252.4,249.9 253.1,250.1 253.8,250.4 254.5,250.7 255.2,251 255.9,251.5 256.6,252 257.3,251.7 258,251.3 258.7,250.9 259.4,250.6 260.1,250.3 260.8,250 261.5,249.8 262.2,249.6 262.9,249.4 263.6,249.3 264.3,249.2 265,249.1 265.7,249 266.4,249 267.1,249 267.8,249 268.5,249.1 269.2,249.2 269.9,249.3 270.6,249.4 271.3,249.6 272,249.8 272.7,250 273.4,250.3 274.1,250.6 274.8,250.9 275.5,251.3 276.2,251.7 276.9,252 277.6,251.5 278.3,251 279,250.7 279.7,250.4 280.4,250.1 281.1,249.9 281.8,249.7 282.5,249.5 283.2,249.3 283.9,249.2 284.6,249.1 285.3,249.1 286,249 286.7,249 287.4,249 288.1,249.1 288.8,249.1 289.5,249.2 289.5,249.2" fill="none" stroke="#777" stroke-width="1.2"/><polyline points="166.3,245 167,245 167.7,245 168.4,245 169.1,245.1 169.8,245.2 170.5,245.3 171.2,245.4 171.9,245.6 172.6,245.8 173.3,246.1 174,246.3 174.7,246.6 175.4,246.9 176.1,247.3 176.8,247.8 177.5,247.9 178.2,247.4 178.9,247 179.6,246.7 180.3,246.4 181,246.1 181.7,245.9 182.4,245.6 183.1,245.5 183.8,245.3 184.5,245.2 185.2,245.1 185.9,245 186.6,245 187.3,245 188,245 188.7,245.1 189.4,245.1 190.1,245.3 190.8,245.4 191.5,245.5 192.2,245.7 192.9,246 193.6,246.2 194.3,246.5 195,246.8 195.7,247.2 196.4,247.6 197.1,248.3 197.8,247.6 198.5,247.2 199.2,246.8 199.9,246.5 200.6,246.2 201.3,246 202,245.7 202.7,245.5 203.4,245.4 204.1,245.3 204.8,245.1 205.5,245.1 206.2,245 206.9,245 207.6,245 208.3,245 209,245.1 209.7,245.2 210.4,245.3 211.1,245.5 211.8,245.6 212.5,245.9 213.2,246.1 213.9,246.4 214.6,246.7 215.3,247 216,247.4 216.7,247.9 217.4,247.8 218.1,247.3 218.8,246.9 219.5,246.6 220.2,246.3 220.9,246.1 221.6,245.8 222.3,245.6 223,245.4 223.7,245.3 224.4,245.2 225.1,245.1 225.8,245 226.5,245 227.2,245 227.9,245 228.6,245.1 229.3,245.2 230,245.3 230.7,245.4 231.4,245.6 232.1,245.8 232.8,246 233.5,246.2 234.2,246.5 234.9,246.8 235.6,247.2 236.3,247.7 237,248.1 237.7,247.5 238.4,247.1 239.1,246.7 239.8,246.4 240.5,246.2 241.2,245.9 241.9,245.7 242.6,245.5 243.3,245.4 244,245.2 244.7,245.1 245.4,245.1 246.1,245 246.8,245 247.5,245 248.2,245.1 248.9,245.1 249.6,245.2 250.3,245.3 251,245.5 251.7,245.7 252.4,245.9 253.1,246.1 253.8,246.4 254.5,246.7 255.2,247 255.9,247.5 256.6,248 257.3,247.7 258,247.3 258.7,246.9 259.4,246.6 260.1,246.3 260.8,246 261.5,245.8 262.2,245.6 262.9,245.4 263.6,245.3 264.3,245.2 265,245.1 265.7,245 266.4,245 267.1,245 267.8,245 268.5,245.1 269.2,245.2 269.9,245.3 270.6,245.4 271.3,245.6 272,245.8 272.7,246 273.4,246.3 274.1,246.6 274.8,246.9 275.5,247.3 276.2,247.7 276.9,248 277.6,247.5 278.3,247 279,246.7 279.7,246.4 280.4,246.1 281.1,245.9 281.8,245.7 282.5,245.5 283.2,245.3 283.9,245.2 284.6,245.1 285.3,245.1 286,245 286.7,245 287.4,245 288.1,245.1 288.8,245.1 289.5,245.2 289.5,245.2" fill="none" stroke="#626262" stroke-width="1.2"/><polyline points="166.3,271.3 167,271.2 167.7,271 168.4,270.7 169.1,270.3 169.8,270 170.5,269.5 171.2,269.1 171.9,268.6 172.6,268.1 173.3,267.6 174,267.1 174.7,266.6 175.4,266.5 176.1,266.9 176.8,267.3 177.5,267.8 178.2,268.3 178.9,268.8 179.6,269.3 180.3,269.8 181,270.2 181.7,270.5 182.4,270.8 183.1,271.1 183.8,271.3 184.5,271.4 185.2,271.4 185.9,271.4 186.6,271.2 187.3,271.1 188,270.8 188.7,270.5 189.4,270.1 190.1,269.7 190.8,269.3 191.5,268.8 192.2,268.3 192.9,267.8 193.6,267.3 194.3,266.8 195,266.4 195.7,266.7 196.4,267.1 197.1,267.6 197.8,268.1 198.5,268.6 199.2,269.1 199.9,269.6 200.6,270 201.3,270.4 202,270.7 202.7,271 203.4,271.2 204.1,271.3 204.8,271.4 205.5,271.4 206.2,271.3 206.9,271.1 207.6,270.9 208.3,270.6 209,270.3 209.7,269.9 210.4,269.5 211.1,269 211.8,268.5 212.5,268 213.2,267.5 213.9,267 214.6,266.6 215.3,266.5 216,266.9 216.7,267.4 217.4,267.9 218.1,268.4 218.8,268.9 219.5,269.4 220.2,269.8 220.9,270.2 221.6,270.6 222.3,270.9 223,271.1 223.7,271.3 224.4,271.4 225.1,271.4 225.8,271.3 226.5,271.2 227.2,271 227.9,270.8 228.6,270.4 229.3,270.1 230,269.7 230.7,269.2 231.4,268.7 232.1,268.2 232.8,267.7 233.5,267.2 234.2,266.8 234.9,266.4 235.6,266.8 236.3,267.2 237,267.7 237.7,268.2 238.4,268.7 239.1,269.2 239.8,269.7 240.5,270.1 241.2,270.4 241.9,270.8 242.6,271 243.3,271.2 244,271.3 244.7,271.4 245.4,271.4 246.1,271.3 246.8,271.1 247.5,270.9 248.2,270.6 248.9,270.2 249.6,269.8 250.3,269.4 251,268.9 251.7,268.4 252.4,267.9 253.1,267.4 253.8,266.9 254.5,266.5 255.2,266.6 255.9,267 256.6,267.5 257.3,268 258,268.5 258.7,269 259.4,269.5 260.1,269.9 260.8,270.3 261.5,270.6 262.2,270.9 262.9,271.1 263.6,271.3 264.3,271.4 265,271.4 265.7,271.3 266.4,271.2 267.1,271 267.8,270.7 268.5,270.4 269.2,270 269.9,269.6 270.6,269.1 271.3,268.6 272,268.1 272.7,267.6 273.4,267.1 274.1,266.7 274.8,266.4 275.5,266.8 276.2,267.3 276.9,267.8 277.6,268.3 278.3,268.8 279,269.3 279.7,269.7 280.4,270.1 281.1,270.5 281.8,270.8 282.5,271.1 283.2,271.2 283.9,271.4 284.6,271.4 285.3,271.4 286,271.3 286.7,271.1 287.4,270.8 288.1,270.5 288.8,270.2 289.5,269.8 289.5,269.8" fill="none" stroke="#555" stroke-width="1.3"/><polyline points="166.3,274 167,273.9 167.7,273.7 168.4,273.4 169.1,273 169.8,272.7 170.5,272.2 171.2,271.8 171.9,271.3 172.6,270.8 173.3,270.3 174,269.8 174.7,269.3 175.4,269.2 176.1,269.6 176.8,270 177.5,270.5 178.2,271 178.9,271.5 179.6,272 180.3,272.5 181,272.9 181.7,273.2 182.4,273.5 183.1,273.8 183.8,274 184.5,274.1 185.2,274.1 185.9,274.1 186.6,273.9 187.3,273.8 188,273.5 188.7,273.2 189.4,272.8 190.1,272.4 190.8,272 191.5,271.5 192.2,271 192.9,270.5 193.6,270 194.3,269.5 195,269.1 195.7,269.4 196.4,269.8 197.1,270.3 197.8,270.8 198.5,271.3 199.2,271.8 199.9,272.3 200.6,272.7 201.3,273.1 202,273.4 202.7,273.7 203.4,273.9 204.1,274 204.8,274.1 205.5,274.1 206.2,274 206.9,273.8 207.6,273.6 208.3,273.3 209,273 209.7,272.6 210.4,272.2 211.1,271.7 211.8,271.2 212.5,270.7 213.2,270.2 213.9,269.7 214.6,269.3 215.3,269.2 216,269.6 216.7,270.1 217.4,270.6 218.1,271.1 218.8,271.6 219.5,272.1 220.2,272.5 220.9,272.9 221.6,273.3 222.3,273.6 223,273.8 223.7,274 224.4,274.1 225.1,274.1 225.8,274 226.5,273.9 227.2,273.7 227.9,273.5 228.6,273.1 229.3,272.8 230,272.4 230.7,271.9 231.4,271.4 232.1,270.9 232.8,270.4 233.5,269.9 234.2,269.5 234.9,269.1 235.6,269.5 236.3,269.9 237,270.4 237.7,270.9 238.4,271.4 239.1,271.9 239.8,272.4 240.5,272.8 241.2,273.1 241.9,273.5 242.6,273.7 243.3,273.9 244,274 244.7,274.1 245.4,274.1 246.1,274 246.8,273.8 247.5,273.6 248.2,273.3 248.9,272.9 249.6,272.5 250.3,272.1 251,271.6 251.7,271.1 252.4,270.6 253.1,270.1 253.8,269.6 254.5,269.2 255.2,269.3 255.9,269.7 256.6,270.2 257.3,270.7 258,271.2 258.7,271.7 259.4,272.2 260.1,272.6 260.8,273 261.5,273.3 262.2,273.6 262.9,273.8 263.6,274 264.3,274.1 265,274.1 265.7,274 266.4,273.9 267.1,273.7 267.8,273.4 268.5,273.1 269.2,272.7 269.9,272.3 270.6,271.8 271.3,271.3 272,270.8 272.7,270.3 273.4,269.8 274.1,269.4 274.8,269.1 275.5,269.5 276.2,270 276.9,270.5 277.6,271 278.3,271.5 279,272 279.7,272.4 280.4,272.8 281.1,273.2 281.8,273.5 282.5,273.8 283.2,273.9 283.9,274.1 284.6,274.1 285.3,274.1 286,274 286.7,273.8 287.4,273.5 288.1,273.2 288.8,272.9 289.5,272.5 289.5,272.5" fill="none" stroke="#4a4a4a" stroke-width="1.3"/><polyline points="166.3,277 167,276.9 167.7,276.7 168.4,276.4 169.1,276 169.8,275.7 170.5,275.2 171.2,274.8 171.9,274.3 172.6,273.8 173.3,273.3 174,272.8 174.7,272.3 175.4,272.2 176.1,272.6 176.8,273 177.5,273.5 178.2,274 178.9,274.5 179.6,275 180.3,275.5 181,275.9 181.7,276.2 182.4,276.5 183.1,276.8 183.8,277 184.5,277.1 185.2,277.1 185.9,277.1 186.6,276.9 187.3,276.8 188,276.5 188.7,276.2 189.4,275.8 190.1,275.4 190.8,275 191.5,274.5 192.2,274 192.9,273.5 193.6,273 194.3,272.5 195,272.1 195.7,272.4 196.4,272.8 197.1,273.3 197.8,273.8 198.5,274.3 199.2,274.8 199.9,275.3 200.6,275.7 201.3,276.1 202,276.4 202.7,276.7 203.4,276.9 204.1,277 204.8,277.1 205.5,277.1 206.2,277 206.9,276.8 207.6,276.6 208.3,276.3 209,276 209.7,275.6 210.4,275.2 211.1,274.7 211.8,274.2 212.5,273.7 213.2,273.2 213.9,272.7 214.6,272.3 215.3,272.2 216,272.6 216.7,273.1 217.4,273.6 218.1,274.1 218.8,274.6 219.5,275.1 220.2,275.5 220.9,275.9 221.6,276.3 222.3,276.6 223,276.8 223.7,277 224.4,277.1 225.1,277.1 225.8,277 226.5,276.9 227.2,276.7 227.9,276.5 228.6,276.1 229.3,275.8 230,275.4 230.7,274.9 231.4,274.4 232.1,273.9 232.8,273.4 233.5,272.9 234.2,272.5 234.9,272.1 235.6,272.5 236.3,272.9 237,273.4 237.7,273.9 238.4,274.4 239.1,274.9 239.8,275.4 240.5,275.8 241.2,276.1 241.9,276.5 242.6,276.7 243.3,276.9 244,277 244.7,277.1 245.4,277.1 246.1,277 246.8,276.8 247.5,276.6 248.2,276.3 248.9,275.9 249.6,275.5 250.3,275.1 251,274.6 251.7,274.1 252.4,273.6 253.1,273.1 253.8,272.6 254.5,272.2 255.2,272.3 255.9,272.7 256.6,273.2 257.3,273.7 258,274.2 258.7,274.7 259.4,275.2 260.1,275.6 260.8,276 261.5,276.3 262.2,276.6 262.9,276.8 263.6,277 264.3,277.1 265,277.1 265.7,277 266.4,276.9 267.1,276.7 267.8,276.4 268.5,276.1 269.2,275.7 269.9,275.3 270.6,274.8 271.3,274.3 272,273.8 272.7,273.3 273.4,272.8 274.1,272.4 274.8,272.1 275.5,272.5 276.2,273 276.9,273.5 277.6,274 278.3,274.5 279,275 279.7,275.4 280.4,275.8 281.1,276.2 281.8,276.5 282.5,276.8 283.2,276.9 283.9,277.1 284.6,277.1 285.3,277.1 286,277 286.7,276.8 287.4,276.5 288.1,276.2 288.8,275.9 289.5,275.5 289.5,275.5" fill="none" stroke="#505050" stroke-width="1.3"/><polyline points="166.3,280 167,279.9 167.7,279.7 168.4,279.4 169.1,279 169.8,278.7 170.5,278.2 171.2,277.8 171.9,277.3 172.6,276.8 173.3,276.3 174,275.8 174.7,275.3 175.4,275.2 176.1,275.6 176.8,276 177.5,276.5 178.2,277 178.9,277.5 179.6,278 180.3,278.5 181,278.9 181.7,279.2 182.4,279.5 183.1,279.8 183.8,280 184.5,280.1 185.2,280.1 185.9,280.1 186.6,279.9 187.3,279.8 188,279.5 188.7,279.2 189.4,278.8 190.1,278.4 190.8,278 191.5,277.5 192.2,277 192.9,276.5 193.6,276 194.3,275.5 195,275.1 195.7,275.4 196.4,275.8 197.1,276.3 197.8,276.8 198.5,277.3 199.2,277.8 199.9,278.3 200.6,278.7 201.3,279.1 202,279.4 202.7,279.7 203.4,279.9 204.1,280 204.8,280.1 205.5,280.1 206.2,280 206.9,279.8 207.6,279.6 208.3,279.3 209,279 209.7,278.6 210.4,278.2 211.1,277.7 211.8,277.2 212.5,276.7 213.2,276.2 213.9,275.7 214.6,275.3 215.3,275.2 216,275.6 216.7,276.1 217.4,276.6 218.1,277.1 218.8,277.6 219.5,278.1 220.2,278.5 220.9,278.9 221.6,279.3 222.3,279.6 223,279.8 223.7,280 224.4,280.1 225.1,280.1 225.8,280 226.5,279.9 227.2,279.7 227.9,279.5 228.6,279.1 229.3,278.8 230,278.4 230.7,277.9 231.4,277.4 232.1,276.9 232.8,276.4 233.5,275.9 234.2,275.5 234.9,275.1 235.6,275.5 236.3,275.9 237,276.4 237.7,276.9 238.4,277.4 239.1,277.9 239.8,278.4 240.5,278.8 241.2,279.1 241.9,279.5 242.6,279.7 243.3,279.9 244,280 244.7,280.1 245.4,280.1 246.1,280 246.8,279.8 247.5,279.6 248.2,279.3 248.9,278.9 249.6,278.5 250.3,278.1 251,277.6 251.7,277.1 252.4,276.6 253.1,276.1 253.8,275.6 254.5,275.2 255.2,275.3 255.9,275.7 256.6,276.2 257.3,276.7 258,277.2 258.7,277.7 259.4,278.2 260.1,278.6 260.8,279 261.5,279.3 262.2,279.6 262.9,279.8 263.6,280 264.3,280.1 265,280.1 265.7,280 266.4,279.9 267.1,279.7 267.8,279.4 268.5,279.1 269.2,278.7 269.9,278.3 270.6,277.8 271.3,277.3 272,276.8 272.7,276.3 273.4,275.8 274.1,275.4 274.8,275.1 275.5,275.5 276.2,276 276.9,276.5 277.6,277 278.3,277.5 279,278 279.7,278.4 280.4,278.8 281.1,279.2 281.8,279.5 282.5,279.8 283.2,279.9 283.9,280.1 284.6,280.1 285.3,280.1 286,280 286.7,279.8 287.4,279.5 288.1,279.2 288.8,278.9 289.5,278.5 289.5,278.5" fill="none" stroke="#454545" stroke-width="1.2"/><rect x="166.3" y="239.1" width="123.2" height="49.5" filter="url(#echoNoise)" opacity="0.4"/><polygon points="166.3,284.6 167,284.5 167.7,284.5 168.4,284.4 169.1,284.3 169.8,284.2 170.5,284 171.2,283.9 171.9,283.7 172.6,283.6 173.3,283.4 174,283.3 174.7,283.2 175.4,283.1 176.1,283.2 176.8,283.4 177.5,283.5 178.2,283.7 178.9,283.8 179.6,284 180.3,284.1 181,284.2 181.7,284.3 182.4,284.4 183.1,284.5 183.8,284.6 184.5,284.6 185.2,284.6 185.9,284.6 186.6,284.6 187.3,284.5 188,284.4 188.7,284.3 189.4,284.2 190.1,284.1 190.8,284 191.5,283.8 192.2,283.7 192.9,283.5 193.6,283.4 194.3,283.2 195,283.1 195.7,283.2 196.4,283.3 197.1,283.5 197.8,283.6 198.5,283.8 199.2,283.9 199.9,284.1 200.6,284.2 201.3,284.3 202,284.4 202.7,284.5 203.4,284.5 204.1,284.6 204.8,284.6 205.5,284.6 206.2,284.6 206.9,284.5 207.6,284.5 208.3,284.4 209,284.3 209.7,284.1 210.4,284 211.1,283.9 211.8,283.7 212.5,283.6 213.2,283.4 213.9,283.3 214.6,283.2 215.3,283.1 216,283.3 216.7,283.4 217.4,283.6 218.1,283.7 218.8,283.9 219.5,284 220.2,284.1 220.9,284.3 221.6,284.4 222.3,284.4 223,284.5 223.7,284.6 224.4,284.6 225.1,284.6 225.8,284.6 226.5,284.5 227.2,284.5 227.9,284.4 228.6,284.3 229.3,284.2 230,284.1 230.7,283.9 231.4,283.8 232.1,283.6 232.8,283.5 233.5,283.3 234.2,283.2 234.9,283.1 235.6,283.2 236.3,283.3 237,283.5 237.7,283.6 238.4,283.8 239.1,283.9 239.8,284.1 240.5,284.2 241.2,284.3 241.9,284.4 242.6,284.5 243.3,284.5 244,284.6 244.7,284.6 245.4,284.6 246.1,284.6 246.8,284.5 247.5,284.4 248.2,284.4 248.9,284.3 249.6,284.1 250.3,284 251,283.9 251.7,283.7 252.4,283.6 253.1,283.4 253.8,283.3 254.5,283.1 255.2,283.2 255.9,283.3 256.6,283.4 257.3,283.6 258,283.7 258.7,283.9 259.4,284 260.1,284.1 260.8,284.3 261.5,284.4 262.2,284.5 262.9,284.5 263.6,284.6 264.3,284.6 265,284.6 265.7,284.6 266.4,284.5 267.1,284.5 267.8,284.4 268.5,284.3 269.2,284.2 269.9,284.1 270.6,283.9 271.3,283.8 272,283.6 272.7,283.5 273.4,283.3 274.1,283.2 274.8,283.1 275.5,283.2 276.2,283.4 276.9,283.5 277.6,283.7 278.3,283.8 279,284 279.7,284.1 280.4,284.2 281.1,284.3 281.8,284.4 282.5,284.5 283.2,284.6 283.9,284.6 284.6,284.6 285.3,284.6 286,284.6 286.7,284.5 287.4,284.4 288.1,284.3 288.8,284.2 289.5,284.1 289.5,284.1 289.5,288.6 166.3,288.6" fill="#c4c4c4"/><polygon points="166.3,252 167,252 167.7,252 168.4,252 169.1,252.1 169.8,252.2 170.5,252.3 171.2,252.4 171.9,252.6 172.6,252.8 173.3,253.1 174,253.3 174.7,253.6 175.4,253.9 176.1,254.3 176.8,254.8 177.5,254.9 178.2,254.4 178.9,254 179.6,253.7 180.3,253.4 181,253.1 181.7,252.9 182.4,252.6 183.1,252.5 183.8,252.3 184.5,252.2 185.2,252.1 185.9,252 186.6,252 187.3,252 188,252 188.7,252.1 189.4,252.1 190.1,252.3 190.8,252.4 191.5,252.5 192.2,252.7 192.9,253 193.6,253.2 194.3,253.5 195,253.8 195.7,254.2 196.4,254.6 197.1,255.3 197.8,254.6 198.5,254.2 199.2,253.8 199.9,253.5 200.6,253.2 201.3,253 202,252.7 202.7,252.5 203.4,252.4 204.1,252.3 204.8,252.1 205.5,252.1 206.2,252 206.9,252 207.6,252 208.3,252 209,252.1 209.7,252.2 210.4,252.3 211.1,252.5 211.8,252.6 212.5,252.9 213.2,253.1 213.9,253.4 214.6,253.7 215.3,254 216,254.4 216.7,254.9 217.4,254.8 218.1,254.3 218.8,253.9 219.5,253.6 220.2,253.3 220.9,253.1 221.6,252.8 222.3,252.6 223,252.4 223.7,252.3 224.4,252.2 225.1,252.1 225.8,252 226.5,252 227.2,252 227.9,252 228.6,252.1 229.3,252.2 230,252.3 230.7,252.4 231.4,252.6 232.1,252.8 232.8,253 233.5,253.2 234.2,253.5 234.9,253.8 235.6,254.2 236.3,254.7 237,255.1 237.7,254.5 238.4,254.1 239.1,253.7 239.8,253.4 240.5,253.2 241.2,252.9 241.9,252.7 242.6,252.5 243.3,252.4 244,252.2 244.7,252.1 245.4,252.1 246.1,252 246.8,252 247.5,252 248.2,252.1 248.9,252.1 249.6,252.2 250.3,252.3 251,252.5 251.7,252.7 252.4,252.9 253.1,253.1 253.8,253.4 254.5,253.7 255.2,254 255.9,254.5 256.6,255 257.3,254.7 258,254.3 258.7,253.9 259.4,253.6 260.1,253.3 260.8,253 261.5,252.8 262.2,252.6 262.9,252.4 263.6,252.3 264.3,252.2 265,252.1 265.7,252 266.4,252 267.1,252 267.8,252 268.5,252.1 269.2,252.2 269.9,252.3 270.6,252.4 271.3,252.6 272,252.8 272.7,253 273.4,253.3 274.1,253.6 274.8,253.9 275.5,254.3 276.2,254.7 276.9,255 277.6,254.5 278.3,254 279,253.7 279.7,253.4 280.4,253.1 281.1,252.9 281.8,252.7 282.5,252.5 283.2,252.3 283.9,252.2 284.6,252.1 285.3,252.1 286,252 286.7,252 287.4,252 288.1,252.1 288.8,252.1 289.5,252.2 289.5,252.2 289.5,269.5 289.5,269.5 288.8,269.9 288.1,270.2 287.4,270.5 286.7,270.8 286,271 285.3,271.1 284.6,271.1 283.9,271.1 283.2,270.9 282.5,270.8 281.8,270.5 281.1,270.2 280.4,269.8 279.7,269.4 279,269 278.3,268.5 277.6,268 276.9,267.5 276.2,267 275.5,266.5 274.8,266.1 274.1,266.4 273.4,266.8 272.7,267.3 272,267.8 271.3,268.3 270.6,268.8 269.9,269.3 269.2,269.7 268.5,270.1 267.8,270.4 267.1,270.7 266.4,270.9 265.7,271 265,271.1 264.3,271.1 263.6,271 262.9,270.8 262.2,270.6 261.5,270.3 260.8,270 260.1,269.6 259.4,269.2 258.7,268.7 258,268.2 257.3,267.7 256.6,267.2 255.9,266.7 255.2,266.3 254.5,266.2 253.8,266.6 253.1,267.1 252.4,267.6 251.7,268.1 251,268.6 250.3,269.1 249.6,269.5 248.9,269.9 248.2,270.3 247.5,270.6 246.8,270.8 246.1,271 245.4,271.1 244.7,271.1 244,271 243.3,270.9 242.6,270.7 241.9,270.5 241.2,270.1 240.5,269.8 239.8,269.4 239.1,268.9 238.4,268.4 237.7,267.9 237,267.4 236.3,266.9 235.6,266.5 234.9,266.1 234.2,266.5 233.5,266.9 232.8,267.4 232.1,267.9 231.4,268.4 230.7,268.9 230,269.4 229.3,269.8 228.6,270.1 227.9,270.5 227.2,270.7 226.5,270.9 225.8,271 225.1,271.1 224.4,271.1 223.7,271 223,270.8 222.3,270.6 221.6,270.3 220.9,269.9 220.2,269.5 219.5,269.1 218.8,268.6 218.1,268.1 217.4,267.6 216.7,267.1 216,266.6 215.3,266.2 214.6,266.3 213.9,266.7 213.2,267.2 212.5,267.7 211.8,268.2 211.1,268.7 210.4,269.2 209.7,269.6 209,270 208.3,270.3 207.6,270.6 206.9,270.8 206.2,271 205.5,271.1 204.8,271.1 204.1,271 203.4,270.9 202.7,270.7 202,270.4 201.3,270.1 200.6,269.7 199.9,269.3 199.2,268.8 198.5,268.3 197.8,267.8 197.1,267.3 196.4,266.8 195.7,266.4 195,266.1 194.3,266.5 193.6,267 192.9,267.5 192.2,268 191.5,268.5 190.8,269 190.1,269.4 189.4,269.8 188.7,270.2 188,270.5 187.3,270.8 186.6,270.9 185.9,271.1 185.2,271.1 184.5,271.1 183.8,271 183.1,270.8 182.4,270.5 181.7,270.2 181,269.9 180.3,269.5 179.6,269 178.9,268.5 178.2,268 177.5,267.5 176.8,267 176.1,266.6 175.4,266.2 174.7,266.3 174,266.8 173.3,267.3 172.6,267.8 171.9,268.3 171.2,268.8 170.5,269.2 169.8,269.7 169.1,270 168.4,270.4 167.7,270.7 167,270.9 166.3,271" fill="#121212"/><polyline points="166.3,252 167,252 167.7,252 168.4,252 169.1,252.1 169.8,252.2 170.5,252.3 171.2,252.4 171.9,252.6 172.6,252.8 173.3,253.1 174,253.3 174.7,253.6 175.4,253.9 176.1,254.3 176.8,254.8 177.5,254.9 178.2,254.4 178.9,254 179.6,253.7 180.3,253.4 181,253.1 181.7,252.9 182.4,252.6 183.1,252.5 183.8,252.3 184.5,252.2 185.2,252.1 185.9,252 186.6,252 187.3,252 188,252 188.7,252.1 189.4,252.1 190.1,252.3 190.8,252.4 191.5,252.5 192.2,252.7 192.9,253 193.6,253.2 194.3,253.5 195,253.8 195.7,254.2 196.4,254.6 197.1,255.3 197.8,254.6 198.5,254.2 199.2,253.8 199.9,253.5 200.6,253.2 201.3,253 202,252.7 202.7,252.5 203.4,252.4 204.1,252.3 204.8,252.1 205.5,252.1 206.2,252 206.9,252 207.6,252 208.3,252 209,252.1 209.7,252.2 210.4,252.3 211.1,252.5 211.8,252.6 212.5,252.9 213.2,253.1 213.9,253.4 214.6,253.7 215.3,254 216,254.4 216.7,254.9 217.4,254.8 218.1,254.3 218.8,253.9 219.5,253.6 220.2,253.3 220.9,253.1 221.6,252.8 222.3,252.6 223,252.4 223.7,252.3 224.4,252.2 225.1,252.1 225.8,252 226.5,252 227.2,252 227.9,252 228.6,252.1 229.3,252.2 230,252.3 230.7,252.4 231.4,252.6 232.1,252.8 232.8,253 233.5,253.2 234.2,253.5 234.9,253.8 235.6,254.2 236.3,254.7 237,255.1 237.7,254.5 238.4,254.1 239.1,253.7 239.8,253.4 240.5,253.2 241.2,252.9 241.9,252.7 242.6,252.5 243.3,252.4 244,252.2 244.7,252.1 245.4,252.1 246.1,252 246.8,252 247.5,252 248.2,252.1 248.9,252.1 249.6,252.2 250.3,252.3 251,252.5 251.7,252.7 252.4,252.9 253.1,253.1 253.8,253.4 254.5,253.7 255.2,254 255.9,254.5 256.6,255 257.3,254.7 258,254.3 258.7,253.9 259.4,253.6 260.1,253.3 260.8,253 261.5,252.8 262.2,252.6 262.9,252.4 263.6,252.3 264.3,252.2 265,252.1 265.7,252 266.4,252 267.1,252 267.8,252 268.5,252.1 269.2,252.2 269.9,252.3 270.6,252.4 271.3,252.6 272,252.8 272.7,253 273.4,253.3 274.1,253.6 274.8,253.9 275.5,254.3 276.2,254.7 276.9,255 277.6,254.5 278.3,254 279,253.7 279.7,253.4 280.4,253.1 281.1,252.9 281.8,252.7 282.5,252.5 283.2,252.3 283.9,252.2 284.6,252.1 285.3,252.1 286,252 286.7,252 287.4,252 288.1,252.1 288.8,252.1 289.5,252.2 289.5,252.2" fill="none" stroke="#777" stroke-width="0.9"/><rect x="166.3" y="239.1" width="123.2" height="49.5" filter="url(#echoNoise)" opacity="0.14"/></g><clipPath id="ec3"><rect x="40.3" y="294.2" width="123.8" height="49.5"/></clipPath><g clip-path="url(#ec3)"><rect x="40.3" y="294.2" width="123.8" height="49.5" fill="#2c2c2c"/><polygon points="40.3,294.2 164.1,294.2 164.1,307.5 163.5,307.4 162.8,307.3 162.1,307.3 161.4,307.2 160.7,307.2 160,307.2 159.3,307.2 158.6,307.2 157.9,307.3 157.2,307.4 156.5,307.5 155.8,307.6 155.1,307.7 154.4,307.8 153.7,308 153,308.2 152.3,308.4 151.6,308.6 150.9,308.8 150.2,309 149.5,309.3 148.8,309.6 148.1,309.9 147.4,310 146.7,309.6 146,309.3 145.3,309.1 144.6,308.8 143.9,308.6 143.2,308.4 142.5,308.2 141.8,308 141.1,307.8 140.4,307.7 139.7,307.6 139,307.5 138.3,307.4 137.6,307.3 136.9,307.3 136.2,307.2 135.5,307.2 134.8,307.2 134.1,307.2 133.4,307.3 132.7,307.3 132,307.4 131.3,307.5 130.6,307.6 129.9,307.7 129.2,307.9 128.5,308 127.8,308.2 127.1,308.4 126.4,308.6 125.7,308.9 125,309.1 124.3,309.4 123.6,309.7 122.9,310 122.2,309.9 121.5,309.5 120.8,309.3 120.1,309 119.4,308.8 118.7,308.5 118,308.3 117.3,308.1 116.6,308 115.9,307.8 115.2,307.7 114.5,307.5 113.8,307.4 113.1,307.4 112.4,307.3 111.7,307.2 111,307.2 110.3,307.2 109.6,307.2 108.9,307.2 108.2,307.3 107.5,307.3 106.8,307.4 106.1,307.5 105.4,307.6 104.7,307.8 104,307.9 103.3,308.1 102.6,308.3 101.9,308.5 101.2,308.7 100.5,308.9 99.8,309.2 99.1,309.5 98.4,309.8 97.7,310.2 97,309.8 96.3,309.5 95.6,309.2 94.9,308.9 94.2,308.7 93.5,308.5 92.8,308.3 92.1,308.1 91.4,307.9 90.7,307.8 90,307.6 89.3,307.5 88.6,307.4 87.9,307.3 87.2,307.3 86.5,307.2 85.8,307.2 85.1,307.2 84.4,307.2 83.7,307.2 83,307.3 82.3,307.4 81.6,307.4 80.9,307.5 80.2,307.7 79.5,307.8 78.8,308 78.1,308.1 77.4,308.3 76.7,308.5 76,308.8 75.3,309 74.6,309.3 73.9,309.5 73.2,309.9 72.5,310 71.8,309.7 71.1,309.4 70.4,309.1 69.7,308.9 69,308.6 68.3,308.4 67.6,308.2 66.9,308 66.2,307.9 65.5,307.7 64.8,307.6 64.1,307.5 63.4,307.4 62.7,307.3 62,307.3 61.3,307.2 60.6,307.2 59.9,307.2 59.2,307.2 58.5,307.3 57.8,307.3 57.1,307.4 56.4,307.5 55.7,307.6 55,307.7 54.3,307.8 53.6,308 52.9,308.2 52.2,308.4 51.5,308.6 50.8,308.8 50.1,309.1 49.4,309.3 48.7,309.6 48,310 47.3,309.9 46.6,309.6 45.9,309.3 45.2,309 44.5,308.8 43.8,308.6 43.1,308.4 42.4,308.2 41.7,308 41,307.8 40.3,307.7" fill="#323232"/><rect x="40.3" y="295.7" width="123.8" height="1.6" fill="#555"/><polyline points="40.3,306.8 41,306.9 41.7,307.1 42.4,307.3 43.1,307.5 43.8,307.7 44.5,307.9 45.2,308.1 45.9,308.4 46.6,308.7 47.3,309 48,309.1 48.7,308.7 49.4,308.4 50.1,308.2 50.8,307.9 51.5,307.7 52.2,307.5 52.9,307.3 53.6,307.1 54.3,306.9 55,306.8 55.7,306.7 56.4,306.6 57.1,306.5 57.8,306.4 58.5,306.4 59.2,306.3 59.9,306.3 60.6,306.3 61.3,306.3 62,306.4 62.7,306.4 63.4,306.5 64.1,306.6 64.8,306.7 65.5,306.8 66.2,307 66.9,307.1 67.6,307.3 68.3,307.5 69,307.7 69.7,308 70.4,308.2 71.1,308.5 71.8,308.8 72.5,309.1 73.2,309 73.9,308.6 74.6,308.4 75.3,308.1 76,307.9 76.7,307.6 77.4,307.4 78.1,307.2 78.8,307.1 79.5,306.9 80.2,306.8 80.9,306.6 81.6,306.5 82.3,306.5 83,306.4 83.7,306.3 84.4,306.3 85.1,306.3 85.8,306.3 86.5,306.3 87.2,306.4 87.9,306.4 88.6,306.5 89.3,306.6 90,306.7 90.7,306.9 91.4,307 92.1,307.2 92.8,307.4 93.5,307.6 94.2,307.8 94.9,308 95.6,308.3 96.3,308.6 97,308.9 97.7,309.3 98.4,308.9 99.1,308.6 99.8,308.3 100.5,308 101.2,307.8 101.9,307.6 102.6,307.4 103.3,307.2 104,307 104.7,306.9 105.4,306.7 106.1,306.6 106.8,306.5 107.5,306.4 108.2,306.4 108.9,306.3 109.6,306.3 110.3,306.3 111,306.3 111.7,306.3 112.4,306.4 113.1,306.5 113.8,306.5 114.5,306.6 115.2,306.8 115.9,306.9 116.6,307.1 117.3,307.2 118,307.4 118.7,307.6 119.4,307.9 120.1,308.1 120.8,308.4 121.5,308.6 122.2,309 122.9,309.1 123.6,308.8 124.3,308.5 125,308.2 125.7,308 126.4,307.7 127.1,307.5 127.8,307.3 128.5,307.1 129.2,307 129.9,306.8 130.6,306.7 131.3,306.6 132,306.5 132.7,306.4 133.4,306.4 134.1,306.3 134.8,306.3 135.5,306.3 136.2,306.3 136.9,306.4 137.6,306.4 138.3,306.5 139,306.6 139.7,306.7 140.4,306.8 141.1,306.9 141.8,307.1 142.5,307.3 143.2,307.5 143.9,307.7 144.6,307.9 145.3,308.2 146,308.4 146.7,308.7 147.4,309.1 148.1,309 148.8,308.7 149.5,308.4 150.2,308.1 150.9,307.9 151.6,307.7 152.3,307.5 153,307.3 153.7,307.1 154.4,306.9 155.1,306.8 155.8,306.7 156.5,306.6 157.2,306.5 157.9,306.4 158.6,306.3 159.3,306.3 160,306.3 160.7,306.3 161.4,306.3 162.1,306.4 162.8,306.4 163.5,306.5 164.1,306.6" fill="none" stroke="#555" stroke-width="1.4"/><polyline points="40.3,329.5 41,328.9 41.7,328.4 42.4,327.8 43.1,327.2 43.8,326.6 44.5,326.5 45.2,327.1 45.9,327.7 46.6,328.3 47.3,328.9 48,329.4 48.7,330 49.4,330.5 50.1,330.9 50.8,331.4 51.5,331.8 52.2,332.1 52.9,332.4 53.6,332.7 54.3,332.9 55,333 55.7,333.1 56.4,333.2 57.1,333.2 57.8,333.1 58.5,333 59.2,332.9 59.9,332.6 60.6,332.4 61.3,332.1 62,331.7 62.7,331.3 63.4,330.9 64.1,330.4 64.8,329.9 65.5,329.3 66.2,328.8 66.9,328.2 67.6,327.6 68.3,327 69,326.4 69.7,326.6 70.4,327.3 71.1,327.9 71.8,328.4 72.5,329 73.2,329.6 73.9,330.1 74.6,330.6 75.3,331.1 76,331.5 76.7,331.9 77.4,332.2 78.1,332.5 78.8,332.7 79.5,332.9 80.2,333.1 80.9,333.2 81.6,333.2 82.3,333.2 83,333.1 83.7,333 84.4,332.8 85.1,332.6 85.8,332.3 86.5,332 87.2,331.6 87.9,331.2 88.6,330.7 89.3,330.2 90,329.7 90.7,329.2 91.4,328.6 92.1,328 92.8,327.4 93.5,326.8 94.2,326.2 94.9,326.8 95.6,327.4 96.3,328 97,328.6 97.7,329.2 98.4,329.7 99.1,330.2 99.8,330.7 100.5,331.2 101.2,331.6 101.9,332 102.6,332.3 103.3,332.6 104,332.8 104.7,333 105.4,333.1 106.1,333.2 106.8,333.2 107.5,333.2 108.2,333.1 108.9,332.9 109.6,332.7 110.3,332.5 111,332.2 111.7,331.9 112.4,331.5 113.1,331.1 113.8,330.6 114.5,330.1 115.2,329.6 115.9,329 116.6,328.4 117.3,327.9 118,327.3 118.7,326.6 119.4,326.4 120.1,327 120.8,327.6 121.5,328.2 122.2,328.8 122.9,329.3 123.6,329.9 124.3,330.4 125,330.9 125.7,331.3 126.4,331.7 127.1,332.1 127.8,332.4 128.5,332.6 129.2,332.9 129.9,333 130.6,333.1 131.3,333.2 132,333.2 132.7,333.1 133.4,333 134.1,332.9 134.8,332.7 135.5,332.4 136.2,332.1 136.9,331.8 137.6,331.4 138.3,330.9 139,330.5 139.7,330 140.4,329.4 141.1,328.9 141.8,328.3 142.5,327.7 143.2,327.1 143.9,326.5 144.6,326.6 145.3,327.2 146,327.8 146.7,328.4 147.4,328.9 148.1,329.5 148.8,330 149.5,330.5 150.2,331 150.9,331.4 151.6,331.8 152.3,332.2 153,332.5 153.7,332.7 154.4,332.9 155.1,333.1 155.8,333.2 156.5,333.2 157.2,333.2 157.9,333.1 158.6,333 159.3,332.8 160,332.6 160.7,332.3 161.4,332 162.1,331.6 162.8,331.2 163.5,330.8 164.1,330.4" fill="none" stroke="#3a3a3a" stroke-width="1.2"/><rect x="40.3" y="294.2" width="123.8" height="49.5" filter="url(#echoNoise)" opacity="0.45"/><polygon points="40.3,334.7 41,334.4 41.7,334.1 42.4,333.8 43.1,333.4 43.8,333.1 44.5,333 45.2,333.4 45.9,333.7 46.6,334 47.3,334.3 48,334.6 48.7,334.9 49.4,335.2 50.1,335.5 50.8,335.7 51.5,335.9 52.2,336.1 52.9,336.3 53.6,336.4 54.3,336.5 55,336.6 55.7,336.7 56.4,336.7 57.1,336.7 57.8,336.7 58.5,336.6 59.2,336.5 59.9,336.4 60.6,336.3 61.3,336.1 62,335.9 62.7,335.7 63.4,335.4 64.1,335.2 64.8,334.9 65.5,334.6 66.2,334.3 66.9,334 67.6,333.7 68.3,333.3 69,333 69.7,333.1 70.4,333.5 71.1,333.8 71.8,334.1 72.5,334.4 73.2,334.7 73.9,335 74.6,335.3 75.3,335.5 76,335.8 76.7,336 77.4,336.2 78.1,336.3 78.8,336.5 79.5,336.6 80.2,336.6 80.9,336.7 81.6,336.7 82.3,336.7 83,336.6 83.7,336.6 84.4,336.5 85.1,336.4 85.8,336.2 86.5,336 87.2,335.8 87.9,335.6 88.6,335.4 89.3,335.1 90,334.8 90.7,334.5 91.4,334.2 92.1,333.9 92.8,333.6 93.5,333.2 94.2,332.9 94.9,333.2 95.6,333.6 96.3,333.9 97,334.2 97.7,334.5 98.4,334.8 99.1,335.1 99.8,335.4 100.5,335.6 101.2,335.8 101.9,336 102.6,336.2 103.3,336.4 104,336.5 104.7,336.6 105.4,336.6 106.1,336.7 106.8,336.7 107.5,336.7 108.2,336.6 108.9,336.6 109.6,336.5 110.3,336.3 111,336.2 111.7,336 112.4,335.8 113.1,335.5 113.8,335.3 114.5,335 115.2,334.7 115.9,334.4 116.6,334.1 117.3,333.8 118,333.5 118.7,333.1 119.4,333 120.1,333.3 120.8,333.7 121.5,334 122.2,334.3 122.9,334.6 123.6,334.9 124.3,335.2 125,335.4 125.7,335.7 126.4,335.9 127.1,336.1 127.8,336.3 128.5,336.4 129.2,336.5 129.9,336.6 130.6,336.7 131.3,336.7 132,336.7 132.7,336.7 133.4,336.6 134.1,336.5 134.8,336.4 135.5,336.3 136.2,336.1 136.9,335.9 137.6,335.7 138.3,335.5 139,335.2 139.7,334.9 140.4,334.6 141.1,334.3 141.8,334 142.5,333.7 143.2,333.4 143.9,333 144.6,333.1 145.3,333.4 146,333.8 146.7,334.1 147.4,334.4 148.1,334.7 148.8,335 149.5,335.2 150.2,335.5 150.9,335.7 151.6,335.9 152.3,336.1 153,336.3 153.7,336.4 154.4,336.5 155.1,336.6 155.8,336.7 156.5,336.7 157.2,336.7 157.9,336.7 158.6,336.6 159.3,336.5 160,336.4 160.7,336.2 161.4,336.1 162.1,335.9 162.8,335.6 163.5,335.4 164.1,335.2 164.1,343.7 40.3,343.7" fill="#e8e8e8"/><polygon points="40.3,307.7 41,307.8 41.7,308 42.4,308.2 43.1,308.4 43.8,308.6 44.5,308.8 45.2,309 45.9,309.3 46.6,309.6 47.3,309.9 48,310 48.7,309.6 49.4,309.3 50.1,309.1 50.8,308.8 51.5,308.6 52.2,308.4 52.9,308.2 53.6,308 54.3,307.8 55,307.7 55.7,307.6 56.4,307.5 57.1,307.4 57.8,307.3 58.5,307.3 59.2,307.2 59.9,307.2 60.6,307.2 61.3,307.2 62,307.3 62.7,307.3 63.4,307.4 64.1,307.5 64.8,307.6 65.5,307.7 66.2,307.9 66.9,308 67.6,308.2 68.3,308.4 69,308.6 69.7,308.9 70.4,309.1 71.1,309.4 71.8,309.7 72.5,310 73.2,309.9 73.9,309.5 74.6,309.3 75.3,309 76,308.8 76.7,308.5 77.4,308.3 78.1,308.1 78.8,308 79.5,307.8 80.2,307.7 80.9,307.5 81.6,307.4 82.3,307.4 83,307.3 83.7,307.2 84.4,307.2 85.1,307.2 85.8,307.2 86.5,307.2 87.2,307.3 87.9,307.3 88.6,307.4 89.3,307.5 90,307.6 90.7,307.8 91.4,307.9 92.1,308.1 92.8,308.3 93.5,308.5 94.2,308.7 94.9,308.9 95.6,309.2 96.3,309.5 97,309.8 97.7,310.2 98.4,309.8 99.1,309.5 99.8,309.2 100.5,308.9 101.2,308.7 101.9,308.5 102.6,308.3 103.3,308.1 104,307.9 104.7,307.8 105.4,307.6 106.1,307.5 106.8,307.4 107.5,307.3 108.2,307.3 108.9,307.2 109.6,307.2 110.3,307.2 111,307.2 111.7,307.2 112.4,307.3 113.1,307.4 113.8,307.4 114.5,307.5 115.2,307.7 115.9,307.8 116.6,308 117.3,308.1 118,308.3 118.7,308.5 119.4,308.8 120.1,309 120.8,309.3 121.5,309.5 122.2,309.9 122.9,310 123.6,309.7 124.3,309.4 125,309.1 125.7,308.9 126.4,308.6 127.1,308.4 127.8,308.2 128.5,308 129.2,307.9 129.9,307.7 130.6,307.6 131.3,307.5 132,307.4 132.7,307.3 133.4,307.3 134.1,307.2 134.8,307.2 135.5,307.2 136.2,307.2 136.9,307.3 137.6,307.3 138.3,307.4 139,307.5 139.7,307.6 140.4,307.7 141.1,307.8 141.8,308 142.5,308.2 143.2,308.4 143.9,308.6 144.6,308.8 145.3,309.1 146,309.3 146.7,309.6 147.4,310 148.1,309.9 148.8,309.6 149.5,309.3 150.2,309 150.9,308.8 151.6,308.6 152.3,308.4 153,308.2 153.7,308 154.4,307.8 155.1,307.7 155.8,307.6 156.5,307.5 157.2,307.4 157.9,307.3 158.6,307.2 159.3,307.2 160,307.2 160.7,307.2 161.4,307.2 162.1,307.3 162.8,307.3 163.5,307.4 164.1,307.5 164.1,329.9 163.5,330.3 162.8,330.7 162.1,331.1 161.4,331.5 160.7,331.8 160,332.1 159.3,332.3 158.6,332.5 157.9,332.6 157.2,332.7 156.5,332.7 155.8,332.7 155.1,332.6 154.4,332.4 153.7,332.2 153,332 152.3,331.7 151.6,331.3 150.9,330.9 150.2,330.5 149.5,330 148.8,329.5 148.1,329 147.4,328.4 146.7,327.9 146,327.3 145.3,326.7 144.6,326.1 143.9,326 143.2,326.6 142.5,327.2 141.8,327.8 141.1,328.4 140.4,328.9 139.7,329.5 139,330 138.3,330.4 137.6,330.9 136.9,331.3 136.2,331.6 135.5,331.9 134.8,332.2 134.1,332.4 133.4,332.5 132.7,332.6 132,332.7 131.3,332.7 130.6,332.6 129.9,332.5 129.2,332.4 128.5,332.1 127.8,331.9 127.1,331.6 126.4,331.2 125.7,330.8 125,330.4 124.3,329.9 123.6,329.4 122.9,328.8 122.2,328.3 121.5,327.7 120.8,327.1 120.1,326.5 119.4,325.9 118.7,326.1 118,326.8 117.3,327.4 116.6,327.9 115.9,328.5 115.2,329.1 114.5,329.6 113.8,330.1 113.1,330.6 112.4,331 111.7,331.4 111,331.7 110.3,332 109.6,332.2 108.9,332.4 108.2,332.6 107.5,332.7 106.8,332.7 106.1,332.7 105.4,332.6 104.7,332.5 104,332.3 103.3,332.1 102.6,331.8 101.9,331.5 101.2,331.1 100.5,330.7 99.8,330.2 99.1,329.7 98.4,329.2 97.7,328.7 97,328.1 96.3,327.5 95.6,326.9 94.9,326.3 94.2,325.7 93.5,326.3 92.8,326.9 92.1,327.5 91.4,328.1 90.7,328.7 90,329.2 89.3,329.7 88.6,330.2 87.9,330.7 87.2,331.1 86.5,331.5 85.8,331.8 85.1,332.1 84.4,332.3 83.7,332.5 83,332.6 82.3,332.7 81.6,332.7 80.9,332.7 80.2,332.6 79.5,332.4 78.8,332.2 78.1,332 77.4,331.7 76.7,331.4 76,331 75.3,330.6 74.6,330.1 73.9,329.6 73.2,329.1 72.5,328.5 71.8,327.9 71.1,327.4 70.4,326.8 69.7,326.1 69,325.9 68.3,326.5 67.6,327.1 66.9,327.7 66.2,328.3 65.5,328.8 64.8,329.4 64.1,329.9 63.4,330.4 62.7,330.8 62,331.2 61.3,331.6 60.6,331.9 59.9,332.1 59.2,332.4 58.5,332.5 57.8,332.6 57.1,332.7 56.4,332.7 55.7,332.6 55,332.5 54.3,332.4 53.6,332.2 52.9,331.9 52.2,331.6 51.5,331.3 50.8,330.9 50.1,330.4 49.4,330 48.7,329.5 48,328.9 47.3,328.4 46.6,327.8 45.9,327.2 45.2,326.6 44.5,326 43.8,326.1 43.1,326.7 42.4,327.3 41.7,327.9 41,328.4 40.3,329" fill="#131313"/><polyline points="40.3,307.7 41,307.8 41.7,308 42.4,308.2 43.1,308.4 43.8,308.6 44.5,308.8 45.2,309 45.9,309.3 46.6,309.6 47.3,309.9 48,310 48.7,309.6 49.4,309.3 50.1,309.1 50.8,308.8 51.5,308.6 52.2,308.4 52.9,308.2 53.6,308 54.3,307.8 55,307.7 55.7,307.6 56.4,307.5 57.1,307.4 57.8,307.3 58.5,307.3 59.2,307.2 59.9,307.2 60.6,307.2 61.3,307.2 62,307.3 62.7,307.3 63.4,307.4 64.1,307.5 64.8,307.6 65.5,307.7 66.2,307.9 66.9,308 67.6,308.2 68.3,308.4 69,308.6 69.7,308.9 70.4,309.1 71.1,309.4 71.8,309.7 72.5,310 73.2,309.9 73.9,309.5 74.6,309.3 75.3,309 76,308.8 76.7,308.5 77.4,308.3 78.1,308.1 78.8,308 79.5,307.8 80.2,307.7 80.9,307.5 81.6,307.4 82.3,307.4 83,307.3 83.7,307.2 84.4,307.2 85.1,307.2 85.8,307.2 86.5,307.2 87.2,307.3 87.9,307.3 88.6,307.4 89.3,307.5 90,307.6 90.7,307.8 91.4,307.9 92.1,308.1 92.8,308.3 93.5,308.5 94.2,308.7 94.9,308.9 95.6,309.2 96.3,309.5 97,309.8 97.7,310.2 98.4,309.8 99.1,309.5 99.8,309.2 100.5,308.9 101.2,308.7 101.9,308.5 102.6,308.3 103.3,308.1 104,307.9 104.7,307.8 105.4,307.6 106.1,307.5 106.8,307.4 107.5,307.3 108.2,307.3 108.9,307.2 109.6,307.2 110.3,307.2 111,307.2 111.7,307.2 112.4,307.3 113.1,307.4 113.8,307.4 114.5,307.5 115.2,307.7 115.9,307.8 116.6,308 117.3,308.1 118,308.3 118.7,308.5 119.4,308.8 120.1,309 120.8,309.3 121.5,309.5 122.2,309.9 122.9,310 123.6,309.7 124.3,309.4 125,309.1 125.7,308.9 126.4,308.6 127.1,308.4 127.8,308.2 128.5,308 129.2,307.9 129.9,307.7 130.6,307.6 131.3,307.5 132,307.4 132.7,307.3 133.4,307.3 134.1,307.2 134.8,307.2 135.5,307.2 136.2,307.2 136.9,307.3 137.6,307.3 138.3,307.4 139,307.5 139.7,307.6 140.4,307.7 141.1,307.8 141.8,308 142.5,308.2 143.2,308.4 143.9,308.6 144.6,308.8 145.3,309.1 146,309.3 146.7,309.6 147.4,310 148.1,309.9 148.8,309.6 149.5,309.3 150.2,309 150.9,308.8 151.6,308.6 152.3,308.4 153,308.2 153.7,308 154.4,307.8 155.1,307.7 155.8,307.6 156.5,307.5 157.2,307.4 157.9,307.3 158.6,307.2 159.3,307.2 160,307.2 160.7,307.2 161.4,307.2 162.1,307.3 162.8,307.3 163.5,307.4 164.1,307.5" fill="none" stroke="#5a5a5a" stroke-width="0.9"/><rect x="40.3" y="294.2" width="123.8" height="49.5" filter="url(#echoNoise)" opacity="0.14"/></g><clipPath id="ec4"><rect x="166.3" y="294.2" width="123.2" height="49.5"/></clipPath><g clip-path="url(#ec4)"><rect x="166.3" y="294.2" width="123.2" height="49.5" fill="#3c3c3c"/><polygon points="166.3,294.2 289.5,294.2 289.5,307.7 289.5,307.7 288.8,307.5 288.1,307.3 287.4,307.2 286.7,307.1 286,307 285.3,307 284.6,307 283.9,307.1 283.2,307.1 282.5,307.3 281.8,307.4 281.1,307.6 280.4,307.8 279.7,308 279,308.3 278.3,308.6 277.6,308.9 276.9,309.3 276.2,309.7 275.5,310.1 274.8,310.5 274.1,310.6 273.4,310.1 272.7,309.7 272,309.3 271.3,309 270.6,308.7 269.9,308.4 269.2,308.1 268.5,307.8 267.8,307.6 267.1,307.4 266.4,307.3 265.7,307.2 265,307.1 264.3,307 263.6,307 262.9,307 262.2,307.1 261.5,307.2 260.8,307.3 260.1,307.5 259.4,307.6 258.7,307.9 258,308.1 257.3,308.4 256.6,308.7 255.9,309 255.2,309.4 254.5,309.8 253.8,310.2 253.1,310.6 252.4,310.4 251.7,310 251,309.6 250.3,309.2 249.6,308.9 248.9,308.6 248.2,308.3 247.5,308 246.8,307.8 246.1,307.6 245.4,307.4 244.7,307.2 244,307.1 243.3,307 242.6,307 241.9,307 241.2,307 240.5,307.1 239.8,307.2 239.1,307.3 238.4,307.5 237.7,307.7 237,307.9 236.3,308.2 235.6,308.5 234.9,308.8 234.2,309.1 233.5,309.5 232.8,309.9 232.1,310.3 231.4,310.8 230.7,310.3 230,309.9 229.3,309.5 228.6,309.1 227.9,308.8 227.2,308.5 226.5,308.2 225.8,307.9 225.1,307.7 224.4,307.5 223.7,307.3 223,307.2 222.3,307.1 221.6,307 220.9,307 220.2,307 219.5,307 218.8,307.1 218.1,307.2 217.4,307.4 216.7,307.6 216,307.8 215.3,308 214.6,308.3 213.9,308.6 213.2,308.9 212.5,309.2 211.8,309.6 211.1,310 210.4,310.4 209.7,310.6 209,310.2 208.3,309.8 207.6,309.4 206.9,309 206.2,308.7 205.5,308.4 204.8,308.1 204.1,307.9 203.4,307.6 202.7,307.5 202,307.3 201.3,307.2 200.6,307.1 199.9,307 199.2,307 198.5,307 197.8,307.1 197.1,307.2 196.4,307.3 195.7,307.4 195,307.6 194.3,307.8 193.6,308.1 192.9,308.4 192.2,308.7 191.5,309 190.8,309.3 190.1,309.7 189.4,310.1 188.7,310.6 188,310.5 187.3,310.1 186.6,309.7 185.9,309.3 185.2,308.9 184.5,308.6 183.8,308.3 183.1,308 182.4,307.8 181.7,307.6 181,307.4 180.3,307.3 179.6,307.1 178.9,307.1 178.2,307 177.5,307 176.8,307 176.1,307.1 175.4,307.2 174.7,307.3 174,307.5 173.3,307.7 172.6,307.9 171.9,308.2 171.2,308.4 170.5,308.8 169.8,309.1 169.1,309.5 168.4,309.8 167.7,310.3 167,310.7 166.3,310.4" fill="#5a5a5a"/><rect x="166.3" y="297.7" width="123.2" height="1.2" fill="#8a8a8a"/><rect x="166.3" y="301.7" width="123.2" height="1.5" fill="#7a7a7a"/><polyline points="166.3,308.9 167,309.2 167.7,308.8 168.4,308.3 169.1,308 169.8,307.6 170.5,307.3 171.2,306.9 171.9,306.7 172.6,306.4 173.3,306.2 174,306 174.7,305.8 175.4,305.7 176.1,305.6 176.8,305.5 177.5,305.5 178.2,305.5 178.9,305.6 179.6,305.6 180.3,305.8 181,305.9 181.7,306.1 182.4,306.3 183.1,306.5 183.8,306.8 184.5,307.1 185.2,307.4 185.9,307.8 186.6,308.2 187.3,308.6 188,309 188.7,309.1 189.4,308.6 190.1,308.2 190.8,307.8 191.5,307.5 192.2,307.2 192.9,306.9 193.6,306.6 194.3,306.3 195,306.1 195.7,305.9 196.4,305.8 197.1,305.7 197.8,305.6 198.5,305.5 199.2,305.5 199.9,305.5 200.6,305.6 201.3,305.7 202,305.8 202.7,306 203.4,306.1 204.1,306.4 204.8,306.6 205.5,306.9 206.2,307.2 206.9,307.5 207.6,307.9 208.3,308.3 209,308.7 209.7,309.1 210.4,308.9 211.1,308.5 211.8,308.1 212.5,307.7 213.2,307.4 213.9,307.1 214.6,306.8 215.3,306.5 216,306.3 216.7,306.1 217.4,305.9 218.1,305.7 218.8,305.6 219.5,305.5 220.2,305.5 220.9,305.5 221.6,305.5 222.3,305.6 223,305.7 223.7,305.8 224.4,306 225.1,306.2 225.8,306.4 226.5,306.7 227.2,307 227.9,307.3 228.6,307.6 229.3,308 230,308.4 230.7,308.8 231.4,309.3 232.1,308.8 232.8,308.4 233.5,308 234.2,307.6 234.9,307.3 235.6,307 236.3,306.7 237,306.4 237.7,306.2 238.4,306 239.1,305.8 239.8,305.7 240.5,305.6 241.2,305.5 241.9,305.5 242.6,305.5 243.3,305.5 244,305.6 244.7,305.7 245.4,305.9 246.1,306.1 246.8,306.3 247.5,306.5 248.2,306.8 248.9,307.1 249.6,307.4 250.3,307.7 251,308.1 251.7,308.5 252.4,308.9 253.1,309.1 253.8,308.7 254.5,308.3 255.2,307.9 255.9,307.5 256.6,307.2 257.3,306.9 258,306.6 258.7,306.4 259.4,306.1 260.1,306 260.8,305.8 261.5,305.7 262.2,305.6 262.9,305.5 263.6,305.5 264.3,305.5 265,305.6 265.7,305.7 266.4,305.8 267.1,305.9 267.8,306.1 268.5,306.3 269.2,306.6 269.9,306.9 270.6,307.2 271.3,307.5 272,307.8 272.7,308.2 273.4,308.6 274.1,309.1 274.8,309 275.5,308.6 276.2,308.2 276.9,307.8 277.6,307.4 278.3,307.1 279,306.8 279.7,306.5 280.4,306.3 281.1,306.1 281.8,305.9 282.5,305.8 283.2,305.6 283.9,305.6 284.6,305.5 285.3,305.5 286,305.5 286.7,305.6 287.4,305.7 288.1,305.8 288.8,306 289.5,306.2 289.5,306.2" fill="none" stroke="#6a6a6a" stroke-width="1.2"/><polyline points="166.3,323.3 167,323.2 167.7,323.4 168.4,323.7 169.1,324.1 169.8,324.5 170.5,324.9 171.2,325.3 171.9,325.8 172.6,326.2 173.3,326.5 174,326.9 174.7,327.1 175.4,327.4 176.1,327.5 176.8,327.7 177.5,327.7 178.2,327.7 178.9,327.6 179.6,327.4 180.3,327.2 181,327 181.7,326.7 182.4,326.3 183.1,325.9 183.8,325.5 184.5,325.1 185.2,324.7 185.9,324.3 186.6,323.9 187.3,323.5 188,323.3 188.7,323.3 189.4,323.5 190.1,323.8 190.8,324.2 191.5,324.6 192.2,325 192.9,325.5 193.6,325.9 194.3,326.3 195,326.6 195.7,326.9 196.4,327.2 197.1,327.4 197.8,327.6 198.5,327.7 199.2,327.7 199.9,327.7 200.6,327.6 201.3,327.4 202,327.2 202.7,326.9 203.4,326.6 204.1,326.2 204.8,325.8 205.5,325.4 206.2,325 206.9,324.6 207.6,324.2 208.3,323.8 209,323.5 209.7,323.2 210.4,323.3 211.1,323.6 211.8,323.9 212.5,324.3 213.2,324.7 213.9,325.2 214.6,325.6 215.3,326 216,326.4 216.7,326.7 217.4,327 218.1,327.3 218.8,327.5 219.5,327.6 220.2,327.7 220.9,327.7 221.6,327.6 222.3,327.5 223,327.3 223.7,327.1 224.4,326.8 225.1,326.5 225.8,326.1 226.5,325.7 227.2,325.3 227.9,324.9 228.6,324.4 229.3,324 230,323.7 230.7,323.4 231.4,323.2 232.1,323.4 232.8,323.7 233.5,324 234.2,324.4 234.9,324.9 235.6,325.3 236.3,325.7 237,326.1 237.7,326.5 238.4,326.8 239.1,327.1 239.8,327.3 240.5,327.5 241.2,327.6 241.9,327.7 242.6,327.7 243.3,327.6 244,327.5 244.7,327.3 245.4,327 246.1,326.7 246.8,326.4 247.5,326 248.2,325.6 248.9,325.2 249.6,324.7 250.3,324.3 251,323.9 251.7,323.6 252.4,323.3 253.1,323.2 253.8,323.5 254.5,323.8 255.2,324.2 255.9,324.6 256.6,325 257.3,325.4 258,325.8 258.7,326.2 259.4,326.6 260.1,326.9 260.8,327.2 261.5,327.4 262.2,327.6 262.9,327.7 263.6,327.7 264.3,327.7 265,327.6 265.7,327.4 266.4,327.2 267.1,326.9 267.8,326.6 268.5,326.3 269.2,325.9 269.9,325.5 270.6,325 271.3,324.6 272,324.2 272.7,323.8 273.4,323.5 274.1,323.3 274.8,323.3 275.5,323.5 276.2,323.9 276.9,324.3 277.6,324.7 278.3,325.1 279,325.5 279.7,325.9 280.4,326.3 281.1,326.7 281.8,327 282.5,327.2 283.2,327.4 283.9,327.6 284.6,327.7 285.3,327.7 286,327.7 286.7,327.5 287.4,327.4 288.1,327.1 288.8,326.9 289.5,326.5 289.5,326.5" fill="none" stroke="#6a6a6a" stroke-width="1.3"/><polyline points="166.3,325.8 167,325.7 167.7,325.9 168.4,326.2 169.1,326.6 169.8,327 170.5,327.4 171.2,327.8 171.9,328.3 172.6,328.7 173.3,329 174,329.4 174.7,329.6 175.4,329.9 176.1,330 176.8,330.2 177.5,330.2 178.2,330.2 178.9,330.1 179.6,329.9 180.3,329.7 181,329.5 181.7,329.2 182.4,328.8 183.1,328.4 183.8,328 184.5,327.6 185.2,327.2 185.9,326.8 186.6,326.4 187.3,326 188,325.8 188.7,325.8 189.4,326 190.1,326.3 190.8,326.7 191.5,327.1 192.2,327.5 192.9,328 193.6,328.4 194.3,328.8 195,329.1 195.7,329.4 196.4,329.7 197.1,329.9 197.8,330.1 198.5,330.2 199.2,330.2 199.9,330.2 200.6,330.1 201.3,329.9 202,329.7 202.7,329.4 203.4,329.1 204.1,328.7 204.8,328.3 205.5,327.9 206.2,327.5 206.9,327.1 207.6,326.7 208.3,326.3 209,326 209.7,325.7 210.4,325.8 211.1,326.1 211.8,326.4 212.5,326.8 213.2,327.2 213.9,327.7 214.6,328.1 215.3,328.5 216,328.9 216.7,329.2 217.4,329.5 218.1,329.8 218.8,330 219.5,330.1 220.2,330.2 220.9,330.2 221.6,330.1 222.3,330 223,329.8 223.7,329.6 224.4,329.3 225.1,329 225.8,328.6 226.5,328.2 227.2,327.8 227.9,327.4 228.6,326.9 229.3,326.5 230,326.2 230.7,325.9 231.4,325.7 232.1,325.9 232.8,326.2 233.5,326.5 234.2,326.9 234.9,327.4 235.6,327.8 236.3,328.2 237,328.6 237.7,329 238.4,329.3 239.1,329.6 239.8,329.8 240.5,330 241.2,330.1 241.9,330.2 242.6,330.2 243.3,330.1 244,330 244.7,329.8 245.4,329.5 246.1,329.2 246.8,328.9 247.5,328.5 248.2,328.1 248.9,327.7 249.6,327.2 250.3,326.8 251,326.4 251.7,326.1 252.4,325.8 253.1,325.7 253.8,326 254.5,326.3 255.2,326.7 255.9,327.1 256.6,327.5 257.3,327.9 258,328.3 258.7,328.7 259.4,329.1 260.1,329.4 260.8,329.7 261.5,329.9 262.2,330.1 262.9,330.2 263.6,330.2 264.3,330.2 265,330.1 265.7,329.9 266.4,329.7 267.1,329.4 267.8,329.1 268.5,328.8 269.2,328.4 269.9,328 270.6,327.5 271.3,327.1 272,326.7 272.7,326.3 273.4,326 274.1,325.8 274.8,325.8 275.5,326 276.2,326.4 276.9,326.8 277.6,327.2 278.3,327.6 279,328 279.7,328.4 280.4,328.8 281.1,329.2 281.8,329.5 282.5,329.7 283.2,329.9 283.9,330.1 284.6,330.2 285.3,330.2 286,330.2 286.7,330 287.4,329.9 288.1,329.6 288.8,329.4 289.5,329 289.5,329" fill="none" stroke="#858585" stroke-width="1.4"/><polyline points="166.3,328.3 167,328.2 167.7,328.4 168.4,328.7 169.1,329.1 169.8,329.5 170.5,329.9 171.2,330.3 171.9,330.8 172.6,331.2 173.3,331.5 174,331.9 174.7,332.1 175.4,332.4 176.1,332.5 176.8,332.7 177.5,332.7 178.2,332.7 178.9,332.6 179.6,332.4 180.3,332.2 181,332 181.7,331.7 182.4,331.3 183.1,330.9 183.8,330.5 184.5,330.1 185.2,329.7 185.9,329.3 186.6,328.9 187.3,328.5 188,328.3 188.7,328.3 189.4,328.5 190.1,328.8 190.8,329.2 191.5,329.6 192.2,330 192.9,330.5 193.6,330.9 194.3,331.3 195,331.6 195.7,331.9 196.4,332.2 197.1,332.4 197.8,332.6 198.5,332.7 199.2,332.7 199.9,332.7 200.6,332.6 201.3,332.4 202,332.2 202.7,331.9 203.4,331.6 204.1,331.2 204.8,330.8 205.5,330.4 206.2,330 206.9,329.6 207.6,329.2 208.3,328.8 209,328.5 209.7,328.2 210.4,328.3 211.1,328.6 211.8,328.9 212.5,329.3 213.2,329.7 213.9,330.2 214.6,330.6 215.3,331 216,331.4 216.7,331.7 217.4,332 218.1,332.3 218.8,332.5 219.5,332.6 220.2,332.7 220.9,332.7 221.6,332.6 222.3,332.5 223,332.3 223.7,332.1 224.4,331.8 225.1,331.5 225.8,331.1 226.5,330.7 227.2,330.3 227.9,329.9 228.6,329.4 229.3,329 230,328.7 230.7,328.4 231.4,328.2 232.1,328.4 232.8,328.7 233.5,329 234.2,329.4 234.9,329.9 235.6,330.3 236.3,330.7 237,331.1 237.7,331.5 238.4,331.8 239.1,332.1 239.8,332.3 240.5,332.5 241.2,332.6 241.9,332.7 242.6,332.7 243.3,332.6 244,332.5 244.7,332.3 245.4,332 246.1,331.7 246.8,331.4 247.5,331 248.2,330.6 248.9,330.2 249.6,329.7 250.3,329.3 251,328.9 251.7,328.6 252.4,328.3 253.1,328.2 253.8,328.5 254.5,328.8 255.2,329.2 255.9,329.6 256.6,330 257.3,330.4 258,330.8 258.7,331.2 259.4,331.6 260.1,331.9 260.8,332.2 261.5,332.4 262.2,332.6 262.9,332.7 263.6,332.7 264.3,332.7 265,332.6 265.7,332.4 266.4,332.2 267.1,331.9 267.8,331.6 268.5,331.3 269.2,330.9 269.9,330.5 270.6,330 271.3,329.6 272,329.2 272.7,328.8 273.4,328.5 274.1,328.3 274.8,328.3 275.5,328.5 276.2,328.9 276.9,329.3 277.6,329.7 278.3,330.1 279,330.5 279.7,330.9 280.4,331.3 281.1,331.7 281.8,332 282.5,332.2 283.2,332.4 283.9,332.6 284.6,332.7 285.3,332.7 286,332.7 286.7,332.5 287.4,332.4 288.1,332.1 288.8,331.9 289.5,331.5 289.5,331.5" fill="none" stroke="#6e6e6e" stroke-width="1.3"/><polyline points="166.3,330.8 167,330.7 167.7,330.9 168.4,331.2 169.1,331.6 169.8,332 170.5,332.4 171.2,332.8 171.9,333.3 172.6,333.7 173.3,334 174,334.4 174.7,334.6 175.4,334.9 176.1,335 176.8,335.2 177.5,335.2 178.2,335.2 178.9,335.1 179.6,334.9 180.3,334.7 181,334.5 181.7,334.2 182.4,333.8 183.1,333.4 183.8,333 184.5,332.6 185.2,332.2 185.9,331.8 186.6,331.4 187.3,331 188,330.8 188.7,330.8 189.4,331 190.1,331.3 190.8,331.7 191.5,332.1 192.2,332.5 192.9,333 193.6,333.4 194.3,333.8 195,334.1 195.7,334.4 196.4,334.7 197.1,334.9 197.8,335.1 198.5,335.2 199.2,335.2 199.9,335.2 200.6,335.1 201.3,334.9 202,334.7 202.7,334.4 203.4,334.1 204.1,333.7 204.8,333.3 205.5,332.9 206.2,332.5 206.9,332.1 207.6,331.7 208.3,331.3 209,331 209.7,330.7 210.4,330.8 211.1,331.1 211.8,331.4 212.5,331.8 213.2,332.2 213.9,332.7 214.6,333.1 215.3,333.5 216,333.9 216.7,334.2 217.4,334.5 218.1,334.8 218.8,335 219.5,335.1 220.2,335.2 220.9,335.2 221.6,335.1 222.3,335 223,334.8 223.7,334.6 224.4,334.3 225.1,334 225.8,333.6 226.5,333.2 227.2,332.8 227.9,332.4 228.6,331.9 229.3,331.5 230,331.2 230.7,330.9 231.4,330.7 232.1,330.9 232.8,331.2 233.5,331.5 234.2,331.9 234.9,332.4 235.6,332.8 236.3,333.2 237,333.6 237.7,334 238.4,334.3 239.1,334.6 239.8,334.8 240.5,335 241.2,335.1 241.9,335.2 242.6,335.2 243.3,335.1 244,335 244.7,334.8 245.4,334.5 246.1,334.2 246.8,333.9 247.5,333.5 248.2,333.1 248.9,332.7 249.6,332.2 250.3,331.8 251,331.4 251.7,331.1 252.4,330.8 253.1,330.7 253.8,331 254.5,331.3 255.2,331.7 255.9,332.1 256.6,332.5 257.3,332.9 258,333.3 258.7,333.7 259.4,334.1 260.1,334.4 260.8,334.7 261.5,334.9 262.2,335.1 262.9,335.2 263.6,335.2 264.3,335.2 265,335.1 265.7,334.9 266.4,334.7 267.1,334.4 267.8,334.1 268.5,333.8 269.2,333.4 269.9,333 270.6,332.5 271.3,332.1 272,331.7 272.7,331.3 273.4,331 274.1,330.8 274.8,330.8 275.5,331 276.2,331.4 276.9,331.8 277.6,332.2 278.3,332.6 279,333 279.7,333.4 280.4,333.8 281.1,334.2 281.8,334.5 282.5,334.7 283.2,334.9 283.9,335.1 284.6,335.2 285.3,335.2 286,335.2 286.7,335 287.4,334.9 288.1,334.6 288.8,334.4 289.5,334 289.5,334" fill="none" stroke="#8a8a8a" stroke-width="1.4"/><polyline points="166.3,333.3 167,333.2 167.7,333.4 168.4,333.7 169.1,334.1 169.8,334.5 170.5,334.9 171.2,335.3 171.9,335.8 172.6,336.2 173.3,336.5 174,336.9 174.7,337.1 175.4,337.4 176.1,337.5 176.8,337.7 177.5,337.7 178.2,337.7 178.9,337.6 179.6,337.4 180.3,337.2 181,337 181.7,336.7 182.4,336.3 183.1,335.9 183.8,335.5 184.5,335.1 185.2,334.7 185.9,334.3 186.6,333.9 187.3,333.5 188,333.3 188.7,333.3 189.4,333.5 190.1,333.8 190.8,334.2 191.5,334.6 192.2,335 192.9,335.5 193.6,335.9 194.3,336.3 195,336.6 195.7,336.9 196.4,337.2 197.1,337.4 197.8,337.6 198.5,337.7 199.2,337.7 199.9,337.7 200.6,337.6 201.3,337.4 202,337.2 202.7,336.9 203.4,336.6 204.1,336.2 204.8,335.8 205.5,335.4 206.2,335 206.9,334.6 207.6,334.2 208.3,333.8 209,333.5 209.7,333.2 210.4,333.3 211.1,333.6 211.8,333.9 212.5,334.3 213.2,334.7 213.9,335.2 214.6,335.6 215.3,336 216,336.4 216.7,336.7 217.4,337 218.1,337.3 218.8,337.5 219.5,337.6 220.2,337.7 220.9,337.7 221.6,337.6 222.3,337.5 223,337.3 223.7,337.1 224.4,336.8 225.1,336.5 225.8,336.1 226.5,335.7 227.2,335.3 227.9,334.9 228.6,334.4 229.3,334 230,333.7 230.7,333.4 231.4,333.2 232.1,333.4 232.8,333.7 233.5,334 234.2,334.4 234.9,334.9 235.6,335.3 236.3,335.7 237,336.1 237.7,336.5 238.4,336.8 239.1,337.1 239.8,337.3 240.5,337.5 241.2,337.6 241.9,337.7 242.6,337.7 243.3,337.6 244,337.5 244.7,337.3 245.4,337 246.1,336.7 246.8,336.4 247.5,336 248.2,335.6 248.9,335.2 249.6,334.7 250.3,334.3 251,333.9 251.7,333.6 252.4,333.3 253.1,333.2 253.8,333.5 254.5,333.8 255.2,334.2 255.9,334.6 256.6,335 257.3,335.4 258,335.8 258.7,336.2 259.4,336.6 260.1,336.9 260.8,337.2 261.5,337.4 262.2,337.6 262.9,337.7 263.6,337.7 264.3,337.7 265,337.6 265.7,337.4 266.4,337.2 267.1,336.9 267.8,336.6 268.5,336.3 269.2,335.9 269.9,335.5 270.6,335 271.3,334.6 272,334.2 272.7,333.8 273.4,333.5 274.1,333.3 274.8,333.3 275.5,333.5 276.2,333.9 276.9,334.3 277.6,334.7 278.3,335.1 279,335.5 279.7,335.9 280.4,336.3 281.1,336.7 281.8,337 282.5,337.2 283.2,337.4 283.9,337.6 284.6,337.7 285.3,337.7 286,337.7 286.7,337.5 287.4,337.4 288.1,337.1 288.8,336.9 289.5,336.5 289.5,336.5" fill="none" stroke="#6a6a6a" stroke-width="1.2"/><rect x="166.3" y="294.2" width="123.2" height="49.5" filter="url(#echoNoise)" opacity="0.4"/><polyline points="166.3,334.1 167,334 167.7,334.2 168.4,334.5 169.1,334.9 169.8,335.3 170.5,335.7 171.2,336.1 171.9,336.6 172.6,337 173.3,337.3 174,337.7 174.7,337.9 175.4,338.2 176.1,338.3 176.8,338.5 177.5,338.5 178.2,338.5 178.9,338.4 179.6,338.2 180.3,338 181,337.8 181.7,337.5 182.4,337.1 183.1,336.7 183.8,336.3 184.5,335.9 185.2,335.5 185.9,335.1 186.6,334.7 187.3,334.3 188,334.1 188.7,334.1 189.4,334.3 190.1,334.6 190.8,335 191.5,335.4 192.2,335.8 192.9,336.3 193.6,336.7 194.3,337.1 195,337.4 195.7,337.7 196.4,338 197.1,338.2 197.8,338.4 198.5,338.5 199.2,338.5 199.9,338.5 200.6,338.4 201.3,338.2 202,338 202.7,337.7 203.4,337.4 204.1,337 204.8,336.6 205.5,336.2 206.2,335.8 206.9,335.4 207.6,335 208.3,334.6 209,334.3 209.7,334 210.4,334.1 211.1,334.4 211.8,334.7 212.5,335.1 213.2,335.5 213.9,336 214.6,336.4 215.3,336.8 216,337.2 216.7,337.5 217.4,337.8 218.1,338.1 218.8,338.3 219.5,338.4 220.2,338.5 220.9,338.5 221.6,338.4 222.3,338.3 223,338.1 223.7,337.9 224.4,337.6 225.1,337.3 225.8,336.9 226.5,336.5 227.2,336.1 227.9,335.7 228.6,335.2 229.3,334.8 230,334.5 230.7,334.2 231.4,334 232.1,334.2 232.8,334.5 233.5,334.8 234.2,335.2 234.9,335.7 235.6,336.1 236.3,336.5 237,336.9 237.7,337.3 238.4,337.6 239.1,337.9 239.8,338.1 240.5,338.3 241.2,338.4 241.9,338.5 242.6,338.5 243.3,338.4 244,338.3 244.7,338.1 245.4,337.8 246.1,337.5 246.8,337.2 247.5,336.8 248.2,336.4 248.9,336 249.6,335.5 250.3,335.1 251,334.7 251.7,334.4 252.4,334.1 253.1,334 253.8,334.3 254.5,334.6 255.2,335 255.9,335.4 256.6,335.8 257.3,336.2 258,336.6 258.7,337 259.4,337.4 260.1,337.7 260.8,338 261.5,338.2 262.2,338.4 262.9,338.5 263.6,338.5 264.3,338.5 265,338.4 265.7,338.2 266.4,338 267.1,337.7 267.8,337.4 268.5,337.1 269.2,336.7 269.9,336.3 270.6,335.8 271.3,335.4 272,335 272.7,334.6 273.4,334.3 274.1,334.1 274.8,334.1 275.5,334.3 276.2,334.7 276.9,335.1 277.6,335.5 278.3,335.9 279,336.3 279.7,336.7 280.4,337.1 281.1,337.5 281.8,337.8 282.5,338 283.2,338.2 283.9,338.4 284.6,338.5 285.3,338.5 286,338.5 286.7,338.3 287.4,338.2 288.1,337.9 288.8,337.7 289.5,337.3 289.5,337.3" fill="none" stroke="#d4d4d4" stroke-width="1.9"/><polyline points="166.3,336.7 167,336.6 167.7,336.8 168.4,337.1 169.1,337.5 169.8,337.9 170.5,338.3 171.2,338.7 171.9,339.2 172.6,339.6 173.3,339.9 174,340.3 174.7,340.5 175.4,340.8 176.1,340.9 176.8,341.1 177.5,341.1 178.2,341.1 178.9,341 179.6,340.8 180.3,340.6 181,340.4 181.7,340.1 182.4,339.7 183.1,339.3 183.8,338.9 184.5,338.5 185.2,338.1 185.9,337.7 186.6,337.3 187.3,336.9 188,336.7 188.7,336.7 189.4,336.9 190.1,337.2 190.8,337.6 191.5,338 192.2,338.4 192.9,338.9 193.6,339.3 194.3,339.7 195,340 195.7,340.3 196.4,340.6 197.1,340.8 197.8,341 198.5,341.1 199.2,341.1 199.9,341.1 200.6,341 201.3,340.8 202,340.6 202.7,340.3 203.4,340 204.1,339.6 204.8,339.2 205.5,338.8 206.2,338.4 206.9,338 207.6,337.6 208.3,337.2 209,336.9 209.7,336.6 210.4,336.7 211.1,337 211.8,337.3 212.5,337.7 213.2,338.1 213.9,338.6 214.6,339 215.3,339.4 216,339.8 216.7,340.1 217.4,340.4 218.1,340.7 218.8,340.9 219.5,341 220.2,341.1 220.9,341.1 221.6,341 222.3,340.9 223,340.7 223.7,340.5 224.4,340.2 225.1,339.9 225.8,339.5 226.5,339.1 227.2,338.7 227.9,338.3 228.6,337.8 229.3,337.4 230,337.1 230.7,336.8 231.4,336.6 232.1,336.8 232.8,337.1 233.5,337.4 234.2,337.8 234.9,338.3 235.6,338.7 236.3,339.1 237,339.5 237.7,339.9 238.4,340.2 239.1,340.5 239.8,340.7 240.5,340.9 241.2,341 241.9,341.1 242.6,341.1 243.3,341 244,340.9 244.7,340.7 245.4,340.4 246.1,340.1 246.8,339.8 247.5,339.4 248.2,339 248.9,338.6 249.6,338.1 250.3,337.7 251,337.3 251.7,337 252.4,336.7 253.1,336.6 253.8,336.9 254.5,337.2 255.2,337.6 255.9,338 256.6,338.4 257.3,338.8 258,339.2 258.7,339.6 259.4,340 260.1,340.3 260.8,340.6 261.5,340.8 262.2,341 262.9,341.1 263.6,341.1 264.3,341.1 265,341 265.7,340.8 266.4,340.6 267.1,340.3 267.8,340 268.5,339.7 269.2,339.3 269.9,338.9 270.6,338.4 271.3,338 272,337.6 272.7,337.2 273.4,336.9 274.1,336.7 274.8,336.7 275.5,336.9 276.2,337.3 276.9,337.7 277.6,338.1 278.3,338.5 279,338.9 279.7,339.3 280.4,339.7 281.1,340.1 281.8,340.4 282.5,340.6 283.2,340.8 283.9,341 284.6,341.1 285.3,341.1 286,341.1 286.7,340.9 287.4,340.8 288.1,340.5 288.8,340.3 289.5,339.9 289.5,339.9" fill="none" stroke="#333" stroke-width="1.6"/><polygon points="166.3,310.4 167,310.7 167.7,310.3 168.4,309.8 169.1,309.5 169.8,309.1 170.5,308.8 171.2,308.4 171.9,308.2 172.6,307.9 173.3,307.7 174,307.5 174.7,307.3 175.4,307.2 176.1,307.1 176.8,307 177.5,307 178.2,307 178.9,307.1 179.6,307.1 180.3,307.3 181,307.4 181.7,307.6 182.4,307.8 183.1,308 183.8,308.3 184.5,308.6 185.2,308.9 185.9,309.3 186.6,309.7 187.3,310.1 188,310.5 188.7,310.6 189.4,310.1 190.1,309.7 190.8,309.3 191.5,309 192.2,308.7 192.9,308.4 193.6,308.1 194.3,307.8 195,307.6 195.7,307.4 196.4,307.3 197.1,307.2 197.8,307.1 198.5,307 199.2,307 199.9,307 200.6,307.1 201.3,307.2 202,307.3 202.7,307.5 203.4,307.6 204.1,307.9 204.8,308.1 205.5,308.4 206.2,308.7 206.9,309 207.6,309.4 208.3,309.8 209,310.2 209.7,310.6 210.4,310.4 211.1,310 211.8,309.6 212.5,309.2 213.2,308.9 213.9,308.6 214.6,308.3 215.3,308 216,307.8 216.7,307.6 217.4,307.4 218.1,307.2 218.8,307.1 219.5,307 220.2,307 220.9,307 221.6,307 222.3,307.1 223,307.2 223.7,307.3 224.4,307.5 225.1,307.7 225.8,307.9 226.5,308.2 227.2,308.5 227.9,308.8 228.6,309.1 229.3,309.5 230,309.9 230.7,310.3 231.4,310.8 232.1,310.3 232.8,309.9 233.5,309.5 234.2,309.1 234.9,308.8 235.6,308.5 236.3,308.2 237,307.9 237.7,307.7 238.4,307.5 239.1,307.3 239.8,307.2 240.5,307.1 241.2,307 241.9,307 242.6,307 243.3,307 244,307.1 244.7,307.2 245.4,307.4 246.1,307.6 246.8,307.8 247.5,308 248.2,308.3 248.9,308.6 249.6,308.9 250.3,309.2 251,309.6 251.7,310 252.4,310.4 253.1,310.6 253.8,310.2 254.5,309.8 255.2,309.4 255.9,309 256.6,308.7 257.3,308.4 258,308.1 258.7,307.9 259.4,307.6 260.1,307.5 260.8,307.3 261.5,307.2 262.2,307.1 262.9,307 263.6,307 264.3,307 265,307.1 265.7,307.2 266.4,307.3 267.1,307.4 267.8,307.6 268.5,307.8 269.2,308.1 269.9,308.4 270.6,308.7 271.3,309 272,309.3 272.7,309.7 273.4,310.1 274.1,310.6 274.8,310.5 275.5,310.1 276.2,309.7 276.9,309.3 277.6,308.9 278.3,308.6 279,308.3 279.7,308 280.4,307.8 281.1,307.6 281.8,307.4 282.5,307.3 283.2,307.1 283.9,307.1 284.6,307 285.3,307 286,307 286.7,307.1 287.4,307.2 288.1,307.3 288.8,307.5 289.5,307.7 289.5,307.7 289.5,326 289.5,326 288.8,326.4 288.1,326.6 287.4,326.9 286.7,327 286,327.2 285.3,327.2 284.6,327.2 283.9,327.1 283.2,326.9 282.5,326.7 281.8,326.5 281.1,326.2 280.4,325.8 279.7,325.4 279,325 278.3,324.6 277.6,324.2 276.9,323.8 276.2,323.4 275.5,323 274.8,322.8 274.1,322.8 273.4,323 272.7,323.3 272,323.7 271.3,324.1 270.6,324.5 269.9,325 269.2,325.4 268.5,325.8 267.8,326.1 267.1,326.4 266.4,326.7 265.7,326.9 265,327.1 264.3,327.2 263.6,327.2 262.9,327.2 262.2,327.1 261.5,326.9 260.8,326.7 260.1,326.4 259.4,326.1 258.7,325.7 258,325.3 257.3,324.9 256.6,324.5 255.9,324.1 255.2,323.7 254.5,323.3 253.8,323 253.1,322.7 252.4,322.8 251.7,323.1 251,323.4 250.3,323.8 249.6,324.2 248.9,324.7 248.2,325.1 247.5,325.5 246.8,325.9 246.1,326.2 245.4,326.5 244.7,326.8 244,327 243.3,327.1 242.6,327.2 241.9,327.2 241.2,327.1 240.5,327 239.8,326.8 239.1,326.6 238.4,326.3 237.7,326 237,325.6 236.3,325.2 235.6,324.8 234.9,324.4 234.2,323.9 233.5,323.5 232.8,323.2 232.1,322.9 231.4,322.7 230.7,322.9 230,323.2 229.3,323.5 228.6,323.9 227.9,324.4 227.2,324.8 226.5,325.2 225.8,325.6 225.1,326 224.4,326.3 223.7,326.6 223,326.8 222.3,327 221.6,327.1 220.9,327.2 220.2,327.2 219.5,327.1 218.8,327 218.1,326.8 217.4,326.5 216.7,326.2 216,325.9 215.3,325.5 214.6,325.1 213.9,324.7 213.2,324.2 212.5,323.8 211.8,323.4 211.1,323.1 210.4,322.8 209.7,322.7 209,323 208.3,323.3 207.6,323.7 206.9,324.1 206.2,324.5 205.5,324.9 204.8,325.3 204.1,325.7 203.4,326.1 202.7,326.4 202,326.7 201.3,326.9 200.6,327.1 199.9,327.2 199.2,327.2 198.5,327.2 197.8,327.1 197.1,326.9 196.4,326.7 195.7,326.4 195,326.1 194.3,325.8 193.6,325.4 192.9,325 192.2,324.5 191.5,324.1 190.8,323.7 190.1,323.3 189.4,323 188.7,322.8 188,322.8 187.3,323 186.6,323.4 185.9,323.8 185.2,324.2 184.5,324.6 183.8,325 183.1,325.4 182.4,325.8 181.7,326.2 181,326.5 180.3,326.7 179.6,326.9 178.9,327.1 178.2,327.2 177.5,327.2 176.8,327.2 176.1,327 175.4,326.9 174.7,326.6 174,326.4 173.3,326 172.6,325.7 171.9,325.3 171.2,324.8 170.5,324.4 169.8,324 169.1,323.6 168.4,323.2 167.7,322.9 167,322.7 166.3,322.8" fill="#141414"/><path d="M119.9 308.1L127.9 308.1L125.1 316.7L127.9 325.2L119.9 325.2L122.7 316.7ZM141.4 308.1L149.4 308.1L146.6 316.7L149.4 325.2L141.4 325.2L144.2 316.7ZM162.9 308.1L170.9 308.1L168.1 316.7L170.9 325.2L162.9 325.2L165.7 316.7ZM184.4 308.1L192.4 308.1L189.6 316.7L192.4 325.2L184.4 325.2L187.2 316.7ZM205.9 308.1L213.9 308.1L211.1 316.7L213.9 325.2L205.9 325.2L208.7 316.7ZM227.4 308.1L235.4 308.1L232.6 316.8L235.4 325.2L227.4 325.2L230.2 316.8ZM248.9 308.1L256.9 308.1L254.1 316.8L256.9 325.2L248.9 325.2L251.7 316.8ZM270.4 308.1L278.4 308.1L275.6 316.7L278.4 325.2L270.4 325.2L273.2 316.7Z" fill="#3a3a3a"/><polyline points="166.3,310.4 167,310.7 167.7,310.3 168.4,309.8 169.1,309.5 169.8,309.1 170.5,308.8 171.2,308.4 171.9,308.2 172.6,307.9 173.3,307.7 174,307.5 174.7,307.3 175.4,307.2 176.1,307.1 176.8,307 177.5,307 178.2,307 178.9,307.1 179.6,307.1 180.3,307.3 181,307.4 181.7,307.6 182.4,307.8 183.1,308 183.8,308.3 184.5,308.6 185.2,308.9 185.9,309.3 186.6,309.7 187.3,310.1 188,310.5 188.7,310.6 189.4,310.1 190.1,309.7 190.8,309.3 191.5,309 192.2,308.7 192.9,308.4 193.6,308.1 194.3,307.8 195,307.6 195.7,307.4 196.4,307.3 197.1,307.2 197.8,307.1 198.5,307 199.2,307 199.9,307 200.6,307.1 201.3,307.2 202,307.3 202.7,307.5 203.4,307.6 204.1,307.9 204.8,308.1 205.5,308.4 206.2,308.7 206.9,309 207.6,309.4 208.3,309.8 209,310.2 209.7,310.6 210.4,310.4 211.1,310 211.8,309.6 212.5,309.2 213.2,308.9 213.9,308.6 214.6,308.3 215.3,308 216,307.8 216.7,307.6 217.4,307.4 218.1,307.2 218.8,307.1 219.5,307 220.2,307 220.9,307 221.6,307 222.3,307.1 223,307.2 223.7,307.3 224.4,307.5 225.1,307.7 225.8,307.9 226.5,308.2 227.2,308.5 227.9,308.8 228.6,309.1 229.3,309.5 230,309.9 230.7,310.3 231.4,310.8 232.1,310.3 232.8,309.9 233.5,309.5 234.2,309.1 234.9,308.8 235.6,308.5 236.3,308.2 237,307.9 237.7,307.7 238.4,307.5 239.1,307.3 239.8,307.2 240.5,307.1 241.2,307 241.9,307 242.6,307 243.3,307 244,307.1 244.7,307.2 245.4,307.4 246.1,307.6 246.8,307.8 247.5,308 248.2,308.3 248.9,308.6 249.6,308.9 250.3,309.2 251,309.6 251.7,310 252.4,310.4 253.1,310.6 253.8,310.2 254.5,309.8 255.2,309.4 255.9,309 256.6,308.7 257.3,308.4 258,308.1 258.7,307.9 259.4,307.6 260.1,307.5 260.8,307.3 261.5,307.2 262.2,307.1 262.9,307 263.6,307 264.3,307 265,307.1 265.7,307.2 266.4,307.3 267.1,307.4 267.8,307.6 268.5,307.8 269.2,308.1 269.9,308.4 270.6,308.7 271.3,309 272,309.3 272.7,309.7 273.4,310.1 274.1,310.6 274.8,310.5 275.5,310.1 276.2,309.7 276.9,309.3 277.6,308.9 278.3,308.6 279,308.3 279.7,308 280.4,307.8 281.1,307.6 281.8,307.4 282.5,307.3 283.2,307.1 283.9,307.1 284.6,307 285.3,307 286,307 286.7,307.1 287.4,307.2 288.1,307.3 288.8,307.5 289.5,307.7 289.5,307.7" fill="none" stroke="#6a6a6a" stroke-width="0.9"/><rect x="166.3" y="294.2" width="123.2" height="49.5" filter="url(#echoNoise)" opacity="0.14"/></g><clipPath id="hc1"><rect x="38.4" y="393.6" width="123.8" height="91.9"/></clipPath><g clip-path="url(#hc1)"><rect x="38.4" y="393.6" width="123.8" height="91.9" fill="#da5d85"/><rect x="38.4" y="393.6" width="123.8" height="91.9" filter="url(#histNoise)" opacity="0.22"/><g fill="#6a4b9e" opacity="0.7"><circle cx="94.4" cy="445" r="0.9"/><circle cx="96" cy="440.3" r="0.7"/><circle cx="61.3" cy="440.6" r="0.7"/><circle cx="136.6" cy="402.2" r="0.6"/><circle cx="49.6" cy="468" r="0.8"/><circle cx="43.6" cy="483.9" r="0.9"/><circle cx="119.4" cy="450.2" r="0.5"/><circle cx="40.3" cy="442.2" r="0.5"/><circle cx="61.9" cy="415.8" r="0.5"/><circle cx="95.8" cy="434.1" r="0.8"/><circle cx="102.7" cy="452.4" r="0.7"/><circle cx="120.4" cy="435.6" r="0.6"/><circle cx="161.9" cy="485.1" r="0.8"/><circle cx="126" cy="422.6" r="0.6"/><circle cx="74.2" cy="400.1" r="0.8"/><circle cx="88" cy="471.4" r="0.6"/><circle cx="157" cy="471.5" r="0.5"/><circle cx="64.4" cy="477.3" r="0.7"/><circle cx="159.8" cy="430.1" r="0.5"/><circle cx="116.3" cy="465.1" r="0.6"/><circle cx="49.2" cy="424.2" r="0.9"/><circle cx="132.2" cy="404.4" r="0.6"/><circle cx="50.9" cy="399.1" r="0.8"/><circle cx="60.4" cy="445" r="0.7"/><circle cx="62" cy="460.9" r="0.5"/><circle cx="118.1" cy="404.3" r="0.6"/><circle cx="64.8" cy="418.4" r="0.9"/><circle cx="137.9" cy="421.6" r="0.8"/><circle cx="64.5" cy="429.8" r="0.8"/><circle cx="117.9" cy="402.8" r="0.9"/><circle cx="64.8" cy="417.3" r="0.8"/><circle cx="79.1" cy="420.8" r="0.5"/><circle cx="49.6" cy="447.2" r="0.6"/><circle cx="112.8" cy="427.8" r="0.7"/><circle cx="157.1" cy="438.1" r="0.7"/><circle cx="145.7" cy="410.4" r="0.5"/><circle cx="150.9" cy="468.8" r="0.6"/><circle cx="61.9" cy="461.6" r="0.9"/><circle cx="62.7" cy="480.9" r="0.8"/><circle cx="113.1" cy="432.3" r="0.5"/><circle cx="43.2" cy="482.1" r="0.6"/><circle cx="125.6" cy="417.2" r="0.8"/><circle cx="112.2" cy="420.6" r="0.5"/><circle cx="127.6" cy="399.9" r="0.6"/><circle cx="107.6" cy="471.9" r="0.7"/><circle cx="73.1" cy="477.9" r="0.5"/><circle cx="40.5" cy="418.3" r="0.7"/><circle cx="45.9" cy="409.8" r="0.6"/><circle cx="109.2" cy="405.7" r="0.6"/><circle cx="148.7" cy="483.7" r="0.7"/><circle cx="124" cy="447.3" r="0.5"/><circle cx="42.7" cy="395.2" r="0.9"/><circle cx="125.2" cy="482.1" r="0.5"/><circle cx="117.2" cy="437.9" r="0.8"/><circle cx="77.9" cy="485.4" r="0.5"/><circle cx="106" cy="461.3" r="0.9"/><circle cx="129.7" cy="458.3" r="0.8"/><circle cx="151.7" cy="425.9" r="0.8"/><circle cx="149.9" cy="473.7" r="0.6"/><circle cx="136.3" cy="473" r="0.7"/><circle cx="115.8" cy="428.7" r="0.7"/><circle cx="113.8" cy="401" r="0.7"/><circle cx="161.4" cy="474.5" r="0.8"/><circle cx="86.5" cy="461.2" r="0.7"/><circle cx="92.9" cy="470.6" r="0.5"/><circle cx="131.3" cy="396.3" r="0.7"/><circle cx="97.9" cy="414.8" r="0.8"/><circle cx="100" cy="450.1" r="0.9"/><circle cx="70.1" cy="394.6" r="0.6"/><circle cx="122.4" cy="412.2" r="0.5"/><circle cx="150.5" cy="454.3" r="0.6"/><circle cx="148.8" cy="423.6" r="0.7"/><circle cx="63" cy="433.2" r="0.8"/><circle cx="151.6" cy="474.5" r="0.6"/><circle cx="110.6" cy="422.7" r="0.5"/><circle cx="99.9" cy="470.5" r="0.8"/><circle cx="126.4" cy="480.9" r="0.6"/><circle cx="59.3" cy="435" r="0.6"/><circle cx="64.9" cy="431.6" r="0.7"/><circle cx="99.5" cy="422.6" r="0.8"/><circle cx="160" cy="435.2" r="0.5"/><circle cx="42.3" cy="473.8" r="0.5"/><circle cx="126.1" cy="446" r="0.6"/><circle cx="136.4" cy="395.4" r="0.5"/><circle cx="94.7" cy="395.9" r="0.8"/><circle cx="67.8" cy="406.5" r="0.5"/><circle cx="116.3" cy="434.6" r="0.7"/><circle cx="119.5" cy="467.8" r="0.9"/><circle cx="123.1" cy="411.9" r="0.7"/><circle cx="60.5" cy="394.6" r="0.7"/><circle cx="126.8" cy="410.1" r="0.6"/><circle cx="81.2" cy="457.7" r="0.7"/><circle cx="114.5" cy="463.1" r="0.6"/><circle cx="136.4" cy="476.9" r="0.5"/><circle cx="153.9" cy="460" r="0.5"/><circle cx="94.5" cy="451.1" r="0.9"/><circle cx="85" cy="445.9" r="0.8"/><circle cx="137" cy="480.4" r="0.7"/><circle cx="119" cy="412.4" r="0.8"/><circle cx="139.7" cy="452.6" r="0.8"/><circle cx="64.8" cy="476.3" r="0.9"/><circle cx="159.4" cy="442.9" r="0.8"/><circle cx="78.1" cy="477.2" r="0.8"/><circle cx="81.5" cy="401.2" r="0.6"/><circle cx="106.5" cy="464.2" r="0.7"/><circle cx="41.9" cy="468" r="0.5"/><circle cx="137.4" cy="409.5" r="0.6"/><circle cx="135.9" cy="406.5" r="0.5"/><circle cx="102.3" cy="460.1" r="0.8"/><circle cx="123.7" cy="480.5" r="0.7"/><circle cx="155.9" cy="401.5" r="0.5"/><circle cx="103.6" cy="420.3" r="0.8"/><circle cx="117.5" cy="441.6" r="0.8"/><circle cx="107.7" cy="422.2" r="0.6"/><circle cx="143" cy="476.4" r="0.5"/><circle cx="143.7" cy="482.6" r="0.7"/><circle cx="109.3" cy="412.1" r="0.7"/><circle cx="100.7" cy="449.2" r="0.5"/><circle cx="158.4" cy="441" r="0.6"/><circle cx="137.6" cy="445.3" r="0.7"/><circle cx="123.9" cy="399.7" r="0.7"/><circle cx="89.6" cy="481.5" r="0.9"/><circle cx="71.7" cy="437.1" r="0.5"/><circle cx="92.1" cy="468.6" r="0.9"/><circle cx="97.4" cy="422.8" r="0.5"/><circle cx="114.9" cy="478.6" r="0.5"/><circle cx="134.9" cy="395.7" r="0.5"/><circle cx="66.5" cy="456.7" r="0.6"/><circle cx="82.4" cy="450.6" r="0.5"/><circle cx="128.9" cy="404.9" r="0.7"/><circle cx="69.4" cy="411.8" r="0.7"/><circle cx="92.5" cy="428.1" r="0.6"/><circle cx="103.9" cy="408.3" r="0.5"/><circle cx="116.6" cy="452.3" r="0.7"/><circle cx="143.8" cy="449.8" r="0.8"/><circle cx="67.2" cy="461.7" r="0.8"/><circle cx="150.2" cy="422.6" r="0.6"/><circle cx="152.6" cy="413.6" r="0.9"/><circle cx="148.3" cy="405.9" r="0.6"/><circle cx="128.4" cy="417.4" r="0.5"/><circle cx="141.4" cy="432.3" r="0.8"/><circle cx="54" cy="430.6" r="0.8"/><circle cx="40.6" cy="412.1" r="0.8"/><circle cx="151.2" cy="482.6" r="0.5"/><circle cx="101" cy="463.3" r="0.7"/><circle cx="123.3" cy="411" r="0.5"/><circle cx="51.5" cy="397" r="0.7"/><circle cx="102.1" cy="445.9" r="0.5"/><circle cx="61.2" cy="412.3" r="0.8"/><circle cx="161" cy="478.8" r="0.5"/><circle cx="46.1" cy="481" r="0.7"/><circle cx="133.1" cy="423.6" r="0.7"/><circle cx="102.2" cy="433.1" r="0.7"/><circle cx="40" cy="458" r="0.8"/><circle cx="60.8" cy="435.3" r="0.8"/><circle cx="88.6" cy="411.5" r="0.5"/><circle cx="101.9" cy="395" r="0.9"/><circle cx="137.7" cy="458.4" r="0.8"/><circle cx="116.3" cy="430.8" r="0.7"/><circle cx="100.8" cy="483.9" r="0.8"/><circle cx="70.4" cy="477.3" r="0.8"/><circle cx="134.7" cy="468.5" r="0.6"/><circle cx="149.4" cy="474.5" r="0.8"/><circle cx="133.4" cy="463.9" r="0.6"/><circle cx="127.9" cy="400.1" r="0.6"/><circle cx="96.4" cy="394.6" r="0.6"/><circle cx="117.5" cy="450.9" r="0.6"/><circle cx="155.4" cy="454.8" r="0.6"/><circle cx="120.1" cy="445.9" r="0.7"/><circle cx="86.6" cy="485.5" r="0.7"/><circle cx="125.2" cy="463.6" r="0.9"/><circle cx="41.2" cy="450.2" r="0.8"/><circle cx="70.2" cy="430.5" r="0.5"/><circle cx="62.6" cy="428.1" r="0.5"/><circle cx="69.5" cy="476.8" r="0.7"/><circle cx="101.3" cy="482.5" r="0.7"/><circle cx="161.6" cy="452.2" r="0.8"/><circle cx="47.8" cy="448.5" r="0.8"/><circle cx="44" cy="479.1" r="0.5"/><circle cx="96.8" cy="409.1" r="0.7"/><circle cx="114.1" cy="399" r="0.9"/><circle cx="90.5" cy="442" r="0.7"/><circle cx="83.7" cy="419.9" r="0.7"/><circle cx="107.8" cy="419.7" r="0.8"/><circle cx="75" cy="394.9" r="0.6"/><circle cx="43.7" cy="408" r="0.8"/><circle cx="86.7" cy="476.1" r="0.8"/><circle cx="44.6" cy="484.5" r="0.9"/><circle cx="47.5" cy="476.8" r="0.6"/><circle cx="97.5" cy="483" r="0.6"/><circle cx="103.2" cy="479.7" r="0.8"/><circle cx="96.4" cy="483.6" r="0.8"/><circle cx="113.1" cy="404.2" r="0.7"/><circle cx="94.8" cy="412.3" r="0.5"/><circle cx="103.8" cy="405" r="0.6"/><circle cx="121.1" cy="435.5" r="0.6"/><circle cx="110.5" cy="432.2" r="0.8"/><circle cx="104.1" cy="485.3" r="0.9"/><circle cx="129.3" cy="415.5" r="0.5"/><circle cx="148.9" cy="465.7" r="0.7"/><circle cx="82.9" cy="418.6" r="0.8"/><circle cx="108.3" cy="448" r="0.7"/><circle cx="131.7" cy="411" r="0.6"/><circle cx="159.7" cy="477.8" r="0.8"/><circle cx="43.3" cy="399.2" r="0.6"/><circle cx="91" cy="450.9" r="0.5"/><circle cx="105.5" cy="400.3" r="0.5"/><circle cx="122.1" cy="444.2" r="0.7"/><circle cx="84.6" cy="437.6" r="0.5"/><circle cx="81" cy="462" r="0.8"/><circle cx="47.6" cy="404.6" r="0.8"/><circle cx="115.6" cy="464.2" r="0.5"/><circle cx="90.9" cy="417.3" r="0.8"/><circle cx="84.1" cy="453.7" r="0.9"/><circle cx="78.7" cy="444" r="0.8"/><circle cx="152.4" cy="432.9" r="0.6"/><circle cx="50.4" cy="474" r="0.5"/><circle cx="48.7" cy="445.5" r="0.7"/><circle cx="123.2" cy="421.1" r="0.8"/><circle cx="47.8" cy="413.2" r="0.7"/><circle cx="48.5" cy="421.5" r="0.8"/><circle cx="124.3" cy="419.6" r="0.5"/><circle cx="82.7" cy="460.3" r="0.6"/><circle cx="52.9" cy="458.8" r="0.7"/><circle cx="152.1" cy="480" r="0.9"/><circle cx="92.6" cy="467.4" r="0.6"/><circle cx="77.7" cy="430.3" r="0.9"/><circle cx="149.2" cy="416.4" r="0.6"/><circle cx="83.7" cy="427" r="0.6"/><circle cx="86.4" cy="411.5" r="0.7"/><circle cx="137.1" cy="443.3" r="0.8"/><circle cx="108.1" cy="409.8" r="0.8"/><circle cx="147.5" cy="419.5" r="0.5"/><circle cx="102.2" cy="443.6" r="0.7"/><circle cx="158" cy="453.4" r="0.8"/><circle cx="46.3" cy="443.9" r="0.8"/><circle cx="48.8" cy="401.1" r="0.8"/><circle cx="149.7" cy="401.4" r="0.7"/><circle cx="56.2" cy="462.1" r="0.7"/><circle cx="68.8" cy="413.9" r="0.8"/><circle cx="103" cy="463.9" r="0.6"/><circle cx="80.2" cy="482.6" r="0.8"/><circle cx="99.5" cy="443" r="0.8"/><circle cx="126.1" cy="477.7" r="0.6"/><circle cx="140.7" cy="454.9" r="0.8"/><circle cx="138.2" cy="470.2" r="0.8"/><circle cx="157" cy="452.4" r="0.7"/><circle cx="126.3" cy="467.3" r="0.6"/><circle cx="90.5" cy="407" r="0.8"/><circle cx="161.1" cy="428.1" r="0.5"/><circle cx="63.7" cy="432.7" r="0.6"/><circle cx="158.5" cy="399" r="0.6"/><circle cx="52.6" cy="453.1" r="0.8"/><circle cx="60.6" cy="399.3" r="0.7"/><circle cx="110.7" cy="477.2" r="0.5"/><circle cx="51.9" cy="410.6" r="0.5"/><circle cx="67.5" cy="459.5" r="0.7"/><circle cx="66.1" cy="410.6" r="0.6"/><circle cx="59.8" cy="463.2" r="0.6"/><circle cx="106.3" cy="468.7" r="0.7"/><circle cx="70.6" cy="475.2" r="0.9"/><circle cx="80.7" cy="443.9" r="0.9"/><circle cx="98.1" cy="413.9" r="0.5"/><circle cx="155.7" cy="467.3" r="0.6"/><circle cx="103.7" cy="441" r="0.6"/><circle cx="161" cy="454" r="0.6"/><circle cx="39.7" cy="437" r="0.6"/><circle cx="137" cy="459.2" r="0.7"/><circle cx="57.9" cy="408" r="0.6"/><circle cx="70.5" cy="473.5" r="0.7"/><circle cx="117.3" cy="484.9" r="0.6"/><circle cx="104.6" cy="407.4" r="0.8"/><circle cx="38.6" cy="469.1" r="0.8"/><circle cx="140.2" cy="401.2" r="0.6"/><circle cx="127.1" cy="402.5" r="0.7"/><circle cx="96.4" cy="481.4" r="0.7"/><circle cx="144.5" cy="421.5" r="0.8"/><circle cx="90" cy="477.9" r="0.5"/><circle cx="140.7" cy="412.8" r="0.7"/><circle cx="103.5" cy="408.1" r="0.8"/><circle cx="77" cy="422.2" r="0.5"/><circle cx="76.2" cy="436.5" r="0.8"/><circle cx="82.9" cy="456.7" r="0.5"/><circle cx="87.2" cy="436" r="0.9"/><circle cx="141.1" cy="453.7" r="0.5"/><circle cx="85.1" cy="458.8" r="0.6"/><circle cx="108.2" cy="435.7" r="0.5"/><circle cx="161.2" cy="467.1" r="0.5"/><circle cx="114.7" cy="420.3" r="0.6"/><circle cx="105.2" cy="421" r="0.6"/><circle cx="87" cy="454.9" r="0.6"/><circle cx="63.2" cy="460.8" r="0.6"/><circle cx="155.4" cy="445.3" r="0.8"/><circle cx="79.5" cy="469.6" r="0.5"/><circle cx="55.8" cy="402.3" r="0.8"/><circle cx="126.1" cy="410.1" r="0.6"/><circle cx="142" cy="448.1" r="0.5"/><circle cx="66.5" cy="408" r="0.5"/><circle cx="88.8" cy="400.3" r="0.9"/><circle cx="91.3" cy="440.6" r="0.7"/><circle cx="133.3" cy="469.1" r="0.6"/><circle cx="79.4" cy="431.5" r="0.5"/><circle cx="88" cy="457.9" r="0.9"/><circle cx="136.2" cy="454.3" r="0.7"/><circle cx="40.7" cy="424" r="0.6"/><circle cx="119" cy="403.4" r="0.6"/><circle cx="101.5" cy="466.1" r="0.8"/><circle cx="114.1" cy="408.2" r="0.8"/><circle cx="150.2" cy="444" r="0.6"/><circle cx="100.4" cy="406.6" r="0.8"/><circle cx="160.6" cy="441" r="0.8"/><circle cx="141.8" cy="411.7" r="0.9"/><circle cx="116" cy="411.8" r="0.5"/><circle cx="68.7" cy="446.6" r="0.8"/><circle cx="79.2" cy="479" r="0.6"/><circle cx="95.7" cy="405" r="0.9"/><circle cx="55.2" cy="476.7" r="0.7"/><circle cx="107.8" cy="445.1" r="0.6"/><circle cx="151" cy="484.8" r="0.8"/><circle cx="112.9" cy="404.9" r="0.8"/><circle cx="74.1" cy="476" r="0.6"/><circle cx="109.4" cy="469.9" r="0.5"/><circle cx="106.2" cy="400.6" r="0.5"/><circle cx="60.7" cy="484.3" r="0.9"/><circle cx="119.9" cy="421.9" r="0.8"/><circle cx="129.7" cy="428.7" r="0.7"/><circle cx="137.9" cy="395.1" r="0.5"/><circle cx="96.3" cy="406.7" r="0.6"/><circle cx="108.9" cy="409.6" r="0.7"/><circle cx="71" cy="445.8" r="0.6"/><circle cx="117.8" cy="397.1" r="0.8"/><circle cx="56.3" cy="481.8" r="0.7"/><circle cx="96.6" cy="431.4" r="0.7"/><circle cx="123.7" cy="463.3" r="0.8"/><circle cx="98.5" cy="485" r="0.8"/><circle cx="144.3" cy="431.2" r="0.6"/><circle cx="108.5" cy="476.8" r="0.7"/><circle cx="103.4" cy="433.3" r="0.9"/><circle cx="78.1" cy="398.6" r="0.8"/><circle cx="149.8" cy="460.9" r="0.7"/><circle cx="131.5" cy="421.6" r="0.7"/><circle cx="47" cy="405" r="0.7"/><circle cx="100.6" cy="430.1" r="0.5"/><circle cx="124.4" cy="442" r="0.6"/><circle cx="76.3" cy="429.9" r="0.6"/><circle cx="46.9" cy="477.3" r="0.9"/><circle cx="120.8" cy="473.2" r="0.6"/><circle cx="138.1" cy="414" r="0.8"/><circle cx="108.6" cy="476.6" r="0.5"/><circle cx="136.5" cy="405" r="0.7"/><circle cx="156.1" cy="393.7" r="0.6"/><circle cx="75.4" cy="423.4" r="0.5"/><circle cx="149.2" cy="468.5" r="0.6"/><circle cx="82.5" cy="447.4" r="0.5"/><circle cx="42.3" cy="476.2" r="0.6"/><circle cx="100.1" cy="479.4" r="0.9"/><circle cx="96.9" cy="412.6" r="0.6"/><circle cx="152.6" cy="476" r="0.5"/><circle cx="142.1" cy="426.1" r="0.7"/><circle cx="59.7" cy="474.4" r="0.9"/><circle cx="63.4" cy="451.7" r="0.5"/><circle cx="147.4" cy="398.2" r="0.5"/><circle cx="128.3" cy="422.4" r="0.9"/><circle cx="146.1" cy="459.1" r="0.5"/><circle cx="124.6" cy="479.8" r="0.7"/><circle cx="48.2" cy="414.1" r="0.6"/><circle cx="126.4" cy="411.7" r="0.5"/><circle cx="67.5" cy="454.7" r="0.8"/><circle cx="84.5" cy="454.4" r="0.8"/><circle cx="111.4" cy="414.6" r="0.6"/><circle cx="153.1" cy="454.9" r="0.6"/><circle cx="117.6" cy="401.9" r="0.9"/><circle cx="92.9" cy="442.2" r="0.7"/><circle cx="44" cy="448.7" r="0.6"/><circle cx="69.5" cy="467.4" r="0.5"/><circle cx="73.7" cy="463" r="0.6"/><circle cx="73" cy="444" r="0.5"/><circle cx="149.5" cy="484.4" r="0.5"/><circle cx="95.6" cy="462.6" r="0.6"/><circle cx="153.4" cy="439.5" r="0.5"/><circle cx="107.2" cy="452.9" r="0.6"/><circle cx="119.9" cy="465.6" r="0.7"/><circle cx="101" cy="471.3" r="0.8"/><circle cx="102.8" cy="481" r="0.5"/><circle cx="134.9" cy="408.8" r="0.7"/><circle cx="67.5" cy="434.1" r="0.8"/><circle cx="135.8" cy="466.3" r="0.6"/><circle cx="99" cy="413.9" r="0.7"/><circle cx="100.2" cy="396.8" r="0.7"/><circle cx="126.9" cy="446.2" r="0.8"/><circle cx="60.7" cy="407.6" r="0.5"/><circle cx="99.8" cy="433.5" r="0.6"/><circle cx="71" cy="467" r="0.5"/><circle cx="150.7" cy="445.9" r="0.7"/><circle cx="136.4" cy="415.5" r="0.5"/><circle cx="76.9" cy="397.5" r="0.6"/><circle cx="115.3" cy="441.9" r="0.6"/><circle cx="111.3" cy="401.7" r="0.8"/><circle cx="59.6" cy="417" r="0.5"/><circle cx="123.9" cy="470" r="0.8"/><circle cx="46" cy="431.3" r="0.6"/><circle cx="65.2" cy="482.8" r="0.5"/><circle cx="99" cy="463.6" r="0.9"/><circle cx="56.3" cy="435.4" r="0.8"/><circle cx="43.3" cy="415.7" r="0.9"/><circle cx="55.9" cy="429.7" r="0.6"/><circle cx="90.9" cy="400.6" r="0.5"/><circle cx="161.7" cy="463.7" r="0.8"/><circle cx="66.9" cy="416.9" r="0.7"/><circle cx="68.3" cy="436" r="0.9"/><circle cx="83.5" cy="424.6" r="0.9"/><circle cx="114" cy="397.2" r="0.6"/><circle cx="118.8" cy="399" r="0.6"/><circle cx="124.4" cy="473" r="0.7"/><circle cx="148.1" cy="436.1" r="0.6"/><circle cx="142.8" cy="428.6" r="0.8"/><circle cx="65.1" cy="425.5" r="0.5"/><circle cx="106.4" cy="408.7" r="0.5"/><circle cx="64.9" cy="436.6" r="0.6"/><circle cx="93.8" cy="484.9" r="0.8"/></g><g fill="#dcd5cf"><polygon points="38.7,456 41.4,453.9 45.1,450.9 49.4,447.4 54.2,443.7 59,440.1 63.7,436.9 68.3,434 73,431.2 77.9,428.5 82.8,425.9 87.6,423.3 92.1,420.8 96.6,418.5 101.1,416.3 105.5,414.1 109.7,412 113.5,409.8 116.9,407.5 119.8,404.9 122.3,402.1 124.4,399.3 126.2,396.7 127.7,394.5 128.8,392.9 128,392.3 126.9,393.9 125.4,396.1 123.6,398.7 121.5,401.5 119.1,404.2 116.3,406.7 113,408.9 109.2,411.1 105.1,413.2 100.7,415.4 96.2,417.6 91.7,420 87.1,422.4 82.3,425 77.4,427.6 72.5,430.4 67.7,433.2 63.1,436.1 58.4,439.3 53.6,443 48.8,446.7 44.4,450.1 40.8,453.1 38.1,455.2"/><polygon points="76.1,487.3 76.3,485.9 76.7,483.9 77.2,481.6 77.8,479 78.3,476.5 78.8,474.1 79.3,471.8 79.7,469.3 80.2,466.8 80.6,464.5 81.1,462.3 81.5,460.6 82.1,459.2 82.6,458 83.2,457 83.8,456.1 84.3,455.4 84.6,454.8 84.2,454.4 83.7,454.8 83,455.4 82.2,456.2 81.4,457.1 80.5,458.3 79.7,459.8 78.9,461.6 78.1,463.7 77.3,466.1 76.5,468.5 75.7,470.8 75,473.1 74.2,475.4 73.4,477.9 72.6,480.3 71.9,482.6 71.2,484.5 70.7,485.9"/><polygon points="91.8,487.1 92.1,485.1 92.4,482.3 92.9,479 93.4,475.6 94,472.2 94.6,469.1 95.2,466.3 95.7,463.6 96.3,461 97,458.4 97.9,456 99.1,453.5 100.7,451 102.7,448.4 104.8,445.9 107.2,443.3 109.6,440.9 111.9,438.6 114.3,436.4 116.6,434.4 119.1,432.4 121.6,430.6 124.1,428.8 126.7,427.2 129.4,425.7 132.1,424.2 134.8,422.9 137.7,421.7 140.6,420.6 143.5,419.5 146.8,418.6 150.5,417.7 154.3,416.9 157.9,416.1 160.9,415.5 163.1,415.1 162.7,413.1 160.5,413.5 157.5,414.1 153.9,414.8 150.1,415.6 146.3,416.5 142.9,417.5 139.8,418.5 136.8,419.6 133.9,420.8 131,422.1 128.2,423.5 125.5,425 122.7,426.6 120.1,428.4 117.4,430.2 114.9,432.2 112.3,434.2 109.9,436.4 107.4,438.7 104.9,441.1 102.4,443.7 100.1,446.3 97.9,449 96.1,451.7 94.6,454.4 93.4,457.1 92.5,459.9 91.7,462.6 91,465.3 90.2,468.1 89.4,471.2 88.7,474.7 88,478.2 87.3,481.4 86.8,484.2 86.4,486.1"/><polygon points="103.8,486.7 104.5,484.4 105.4,481.3 106.6,477.6 107.9,473.6 109.5,469.7 111.2,466.1 113.4,462.7 116,459.2 118.8,455.7 121.6,452.5 124.2,449.6 126.4,447.1 128.1,445.3 129.6,443.9 130.9,442.8 132,442 132.9,441.4 133.6,440.8 133.2,440.4 132.5,440.9 131.6,441.5 130.5,442.3 129.2,443.4 127.6,444.8 125.8,446.7 123.7,449.1 121.1,452 118.2,455.3 115.4,458.7 112.8,462.3 110.6,465.7 108.8,469.3 107.2,473.3 105.8,477.3 104.7,481.1 103.7,484.2 103,486.5"/><polygon points="117.8,489 119,486.6 120.7,483.2 122.7,479.3 124.9,475.2 127.1,471.2 129,467.8 130.8,464.9 132.5,462.1 134.3,459.5 136,457 137.7,454.6 139.4,452.3 141.2,450.1 142.9,447.9 144.6,445.9 146.3,444 148,442.3 149.9,440.8 152.1,439.4 154.6,438.1 157.2,437 159.7,436 161.9,435.2 163.5,434.5 162.3,431.7 160.8,432.3 158.6,433 156,434 153.2,435.1 150.4,436.4 147.9,437.8 145.7,439.4 143.5,441.1 141.5,443 139.5,444.9 137.6,447 135.6,449.1 133.6,451.3 131.5,453.5 129.5,455.9 127.4,458.4 125.3,461.1 123.2,464 120.8,467.3 118.2,471.1 115.6,475.1 113.2,478.8 111.1,482 109.6,484.2"/><polygon points="127.7,487.6 128.9,485.6 130.5,483 132.5,479.9 134.6,476.6 136.7,473.4 138.7,470.6 140.5,468.1 142.3,465.8 144.1,463.5 146,461.4 147.9,459.4 149.8,457.4 152.1,455.5 154.7,453.6 157.3,451.8 159.9,450.1 162,448.7 163.6,447.6 162.2,445.6 160.7,446.6 158.5,447.9 155.9,449.6 153.1,451.4 150.4,453.4 148,455.4 145.8,457.4 143.8,459.5 141.9,461.7 140,464 138.2,466.3 136.3,468.8 134.2,471.6 132,474.8 129.8,478.1 127.7,481.2 126,483.8 124.7,485.6"/><polygon points="138.7,487.5 139.9,485.7 141.6,483.3 143.5,480.4 145.6,477.5 147.8,474.8 149.8,472.6 152,470.9 154.6,469.3 157.2,467.8 159.7,466.6 161.9,465.5 163.5,464.7 162.3,462.5 160.8,463.2 158.6,464.2 156,465.5 153.2,467 150.5,468.6 148,470.6 145.7,472.9 143.3,475.8 141.1,478.8 139.1,481.6 137.5,484 136.3,485.7"/><polygon points="149.9,487.7 151.6,486 154,483.6 156.9,480.8 159.7,478.1 162.1,475.7 163.8,474 162,472.2 160.3,473.8 157.8,476.1 154.9,478.9 152.1,481.6 149.6,483.9 147.9,485.5"/><polygon points="157.3,487.5 158.1,486.6 159.2,485.3 160.5,483.9 161.8,482.4 162.9,481.2 163.6,480.3 162.2,478.9 161.4,479.7 160.2,480.9 158.8,482.3 157.5,483.7 156.3,484.9 155.5,485.7"/><polygon points="118.7,430.3 121.3,429 124.8,427.1 128.9,424.8 133.3,422.4 137.7,419.8 141.8,417.4 145.7,414.7 150,411.8 154.1,408.8 158,406 161.2,403.7 163.6,402 162.2,400.2 159.9,402 156.7,404.4 152.9,407.2 148.8,410.2 144.7,413.2 140.8,415.8 136.9,418.4 132.6,421 128.2,423.6 124.1,426 120.7,428 118.3,429.5"/><polygon points="37.5,422.6 38.2,422.3 39.3,422 40.5,421.7 41.7,421.4 42.7,421.1 43.4,420.8 43.4,420.4 42.6,420.2 41.6,420.1 40.3,420 39.1,419.9 38,419.8 37.3,419.6"/><polygon points="38.5,429.9 40.6,429.1 43.5,428 46.9,426.6 50.7,425.1 54.7,423.5 58.5,421.9 62.4,420.1 66.5,418.1 70.7,416 75,413.9 79.3,411.8 83.5,409.8 88,407.8 92.8,405.7 97.6,403.6 102,401.6 105.8,400 108.5,398.8 108.3,398.4 105.6,399.6 101.8,401.2 97.4,403.1 92.6,405.2 87.8,407.4 83.3,409.4 79.1,411.4 74.8,413.4 70.5,415.5 66.2,417.6 62.2,419.6 58.3,421.3 54.4,423 50.5,424.6 46.7,426.1 43.3,427.4 40.4,428.5 38.3,429.3"/><polygon points="48.6,478.7 50.2,475.9 52.5,471.9 55.2,467.2 58.1,462.2 60.9,457.6 63.6,453.8 66.3,450.5 69.1,447.5 72,444.7 74.7,442.3 76.9,440.3 78.5,438.7 78.3,438.5 76.6,440 74.4,442 71.7,444.4 68.8,447.1 65.9,450.2 63.2,453.5 60.5,457.3 57.6,462 54.7,466.9 52.1,471.6 49.8,475.6 48.2,478.5"/></g></g><clipPath id="hc2"><rect x="164.8" y="393.6" width="123.3" height="91.9"/></clipPath><g clip-path="url(#hc2)"><rect x="164.8" y="393.6" width="123.3" height="91.9" fill="#da5d85"/><rect x="164.8" y="393.6" width="123.3" height="91.9" filter="url(#histNoise)" opacity="0.22"/><g fill="#6a4b9e" opacity="0.7"><circle cx="223.3" cy="454" r="0.7"/><circle cx="182.4" cy="394.6" r="0.6"/><circle cx="198.6" cy="468.1" r="0.8"/><circle cx="239" cy="444.9" r="0.7"/><circle cx="182.7" cy="434" r="0.5"/><circle cx="276.5" cy="399" r="0.8"/><circle cx="174" cy="456.7" r="0.6"/><circle cx="214.7" cy="471" r="0.5"/><circle cx="172.3" cy="477.7" r="0.7"/><circle cx="176" cy="484.3" r="0.9"/><circle cx="178.7" cy="432.5" r="0.5"/><circle cx="203.3" cy="450.7" r="0.5"/><circle cx="250.7" cy="398.3" r="0.5"/><circle cx="265.4" cy="430.4" r="0.6"/><circle cx="238.3" cy="437.4" r="0.6"/><circle cx="168.6" cy="460.3" r="0.9"/><circle cx="285.2" cy="454.6" r="0.6"/><circle cx="209.6" cy="457" r="0.8"/><circle cx="178.8" cy="415.2" r="0.6"/><circle cx="227.8" cy="468" r="0.7"/><circle cx="168.3" cy="469.2" r="0.6"/><circle cx="228.8" cy="414" r="0.6"/><circle cx="212.7" cy="464.5" r="0.5"/><circle cx="232.6" cy="410" r="0.8"/><circle cx="169.3" cy="419" r="0.6"/><circle cx="243.3" cy="398.4" r="0.7"/><circle cx="190.5" cy="419.5" r="0.7"/><circle cx="283" cy="437.8" r="0.9"/><circle cx="185.5" cy="478.5" r="0.6"/><circle cx="188.1" cy="462.4" r="0.9"/><circle cx="165.6" cy="418.3" r="0.8"/><circle cx="206.9" cy="415.8" r="0.5"/><circle cx="169.7" cy="450.5" r="0.9"/><circle cx="287.9" cy="439.9" r="0.5"/><circle cx="204.6" cy="466" r="0.8"/><circle cx="243.6" cy="414.7" r="0.7"/><circle cx="223.7" cy="451.2" r="0.6"/><circle cx="281.5" cy="475.8" r="0.5"/><circle cx="200.7" cy="473.8" r="0.6"/><circle cx="281.2" cy="440.9" r="0.8"/><circle cx="251.7" cy="413.3" r="0.6"/><circle cx="196.2" cy="456.4" r="0.8"/><circle cx="181" cy="475.1" r="0.6"/><circle cx="194.5" cy="433.6" r="0.9"/><circle cx="233.8" cy="451" r="0.9"/><circle cx="283.4" cy="463.5" r="0.6"/><circle cx="237.4" cy="476.4" r="0.8"/><circle cx="236.3" cy="425.5" r="0.6"/><circle cx="255.5" cy="445.4" r="0.5"/><circle cx="252.4" cy="476.7" r="0.8"/><circle cx="275.5" cy="477.3" r="0.7"/><circle cx="262.1" cy="428.5" r="0.5"/><circle cx="208.3" cy="422.3" r="0.9"/><circle cx="249.8" cy="443.4" r="0.7"/><circle cx="180.2" cy="442.7" r="0.8"/><circle cx="213.4" cy="416.2" r="0.6"/><circle cx="204.7" cy="456.6" r="0.5"/><circle cx="176" cy="422.3" r="0.8"/><circle cx="258.5" cy="454.2" r="0.9"/><circle cx="209.9" cy="396.3" r="0.7"/><circle cx="219.5" cy="410.1" r="0.8"/><circle cx="206.9" cy="415.5" r="0.6"/><circle cx="281.2" cy="394.3" r="0.6"/><circle cx="199.3" cy="412.1" r="0.6"/><circle cx="192" cy="478" r="0.7"/><circle cx="250.9" cy="408.5" r="0.7"/><circle cx="239.6" cy="471.1" r="0.6"/><circle cx="221.5" cy="472.2" r="0.8"/><circle cx="192.9" cy="443" r="0.8"/><circle cx="213.5" cy="455.5" r="0.7"/><circle cx="284.7" cy="444.5" r="0.8"/><circle cx="208" cy="460.9" r="0.6"/><circle cx="226.4" cy="426.8" r="0.6"/><circle cx="181.6" cy="414.3" r="0.7"/><circle cx="195.9" cy="397.8" r="0.8"/><circle cx="200" cy="479.6" r="0.7"/><circle cx="212.8" cy="473.8" r="0.9"/><circle cx="204.4" cy="405.2" r="0.7"/><circle cx="268.7" cy="449.5" r="0.8"/><circle cx="215.7" cy="450.4" r="0.6"/><circle cx="215" cy="428.5" r="0.6"/><circle cx="214.1" cy="467.8" r="0.5"/><circle cx="190.1" cy="417" r="0.9"/><circle cx="229.3" cy="398.5" r="0.8"/><circle cx="272.5" cy="469.1" r="0.6"/><circle cx="255.4" cy="421.7" r="0.5"/><circle cx="271.5" cy="470.2" r="0.5"/><circle cx="273.3" cy="395.9" r="0.6"/><circle cx="166.4" cy="409.3" r="0.5"/><circle cx="253.1" cy="420.9" r="0.5"/><circle cx="187.5" cy="422.3" r="0.8"/><circle cx="239.6" cy="403" r="0.8"/><circle cx="230.9" cy="434.8" r="0.7"/><circle cx="245.1" cy="467.2" r="0.7"/><circle cx="243.2" cy="436.5" r="0.7"/><circle cx="212.7" cy="431.7" r="0.7"/><circle cx="253" cy="419.2" r="0.9"/><circle cx="225.4" cy="472.2" r="0.8"/><circle cx="282.7" cy="456.3" r="0.6"/><circle cx="214.8" cy="449.4" r="0.8"/><circle cx="268.3" cy="405.5" r="0.5"/><circle cx="178.1" cy="401.3" r="0.5"/><circle cx="165.8" cy="416.5" r="0.5"/><circle cx="249.3" cy="450.2" r="0.9"/><circle cx="283.2" cy="462.2" r="0.9"/><circle cx="168.3" cy="414.5" r="0.9"/><circle cx="223.4" cy="412.6" r="0.8"/><circle cx="217" cy="443.5" r="0.6"/><circle cx="194.6" cy="401.6" r="0.7"/><circle cx="282.3" cy="484.3" r="0.8"/><circle cx="279.9" cy="426.9" r="0.6"/><circle cx="278.7" cy="448.8" r="0.8"/><circle cx="166.3" cy="414.6" r="0.7"/><circle cx="254.9" cy="469.5" r="0.8"/><circle cx="206.7" cy="428.7" r="0.8"/><circle cx="286.8" cy="438.2" r="0.5"/><circle cx="241.8" cy="442.9" r="0.6"/><circle cx="193.2" cy="429" r="0.7"/><circle cx="180.4" cy="443.3" r="0.9"/><circle cx="256.7" cy="416.8" r="0.6"/><circle cx="177.4" cy="461.3" r="0.7"/><circle cx="186.1" cy="444" r="0.7"/><circle cx="236" cy="428.4" r="0.6"/><circle cx="208.6" cy="485.3" r="0.6"/><circle cx="226.8" cy="435.9" r="0.5"/><circle cx="214.1" cy="412.4" r="0.6"/><circle cx="210.1" cy="425.8" r="0.9"/><circle cx="201.4" cy="424.1" r="0.7"/><circle cx="213.8" cy="441" r="0.7"/><circle cx="173.9" cy="455.3" r="0.5"/><circle cx="195.7" cy="468" r="0.9"/><circle cx="247.9" cy="409.4" r="0.6"/><circle cx="199.6" cy="470.9" r="0.6"/><circle cx="189" cy="452.2" r="0.7"/><circle cx="237.5" cy="437.6" r="0.9"/><circle cx="221.3" cy="479.7" r="0.6"/><circle cx="222.2" cy="426.6" r="0.8"/><circle cx="257.5" cy="415.6" r="0.7"/><circle cx="254.4" cy="439.7" r="0.7"/><circle cx="240.8" cy="459.2" r="0.6"/><circle cx="202.6" cy="395.9" r="0.9"/><circle cx="262.2" cy="429.5" r="0.9"/><circle cx="276.1" cy="407.5" r="0.8"/><circle cx="216.7" cy="422.5" r="0.6"/><circle cx="215.8" cy="398.4" r="0.5"/><circle cx="179.2" cy="421.8" r="0.5"/><circle cx="179.8" cy="470.1" r="0.6"/><circle cx="225.3" cy="448.9" r="0.9"/><circle cx="182.8" cy="414.6" r="0.8"/><circle cx="277" cy="479.2" r="0.7"/><circle cx="210.1" cy="410.9" r="0.9"/><circle cx="259.2" cy="444.3" r="0.8"/><circle cx="196.9" cy="442.6" r="0.9"/><circle cx="178.2" cy="450.3" r="0.5"/><circle cx="268.1" cy="470.7" r="0.7"/><circle cx="218.6" cy="395.6" r="0.7"/><circle cx="209.1" cy="430.4" r="0.5"/><circle cx="278.3" cy="441.6" r="0.7"/><circle cx="268.7" cy="476" r="0.7"/><circle cx="231.9" cy="471.4" r="0.6"/><circle cx="275.8" cy="395.8" r="0.8"/><circle cx="229.9" cy="450.8" r="0.9"/><circle cx="191.9" cy="431" r="0.8"/><circle cx="256.9" cy="441.8" r="0.8"/><circle cx="248.3" cy="473.5" r="0.7"/><circle cx="209.6" cy="420" r="0.5"/><circle cx="180" cy="397.5" r="0.9"/><circle cx="182.1" cy="449" r="0.5"/><circle cx="283.9" cy="442.6" r="0.5"/><circle cx="266.7" cy="472.6" r="0.9"/><circle cx="192.3" cy="430.6" r="0.7"/><circle cx="199.6" cy="445.9" r="0.8"/><circle cx="257.5" cy="469.3" r="0.8"/><circle cx="200" cy="463" r="0.6"/><circle cx="185.7" cy="395.5" r="0.7"/><circle cx="208.9" cy="402.2" r="0.7"/><circle cx="216" cy="423.5" r="0.7"/><circle cx="231.2" cy="442.3" r="0.9"/><circle cx="276.4" cy="421" r="0.8"/><circle cx="203.7" cy="479.7" r="0.5"/><circle cx="204" cy="479.2" r="0.7"/><circle cx="251.9" cy="412.4" r="0.5"/><circle cx="283.1" cy="399.7" r="0.5"/><circle cx="217.9" cy="468.9" r="0.8"/><circle cx="287.9" cy="465.2" r="0.6"/><circle cx="277.2" cy="422.7" r="0.5"/><circle cx="283.1" cy="474.6" r="0.7"/><circle cx="224" cy="412.3" r="0.5"/><circle cx="173.1" cy="402.2" r="0.7"/><circle cx="275.3" cy="479.3" r="0.7"/><circle cx="247.8" cy="436.6" r="0.8"/><circle cx="251.9" cy="484.1" r="0.8"/><circle cx="248.4" cy="447.9" r="0.5"/><circle cx="222.9" cy="434.7" r="0.5"/><circle cx="189.7" cy="431.4" r="0.5"/><circle cx="241.8" cy="423.7" r="0.9"/><circle cx="249.1" cy="441.1" r="0.6"/><circle cx="213.1" cy="412" r="0.9"/><circle cx="277.4" cy="453.3" r="0.7"/><circle cx="182.6" cy="443.4" r="0.5"/><circle cx="204.8" cy="447.6" r="0.5"/><circle cx="193.5" cy="460.7" r="0.7"/><circle cx="274.5" cy="408.2" r="0.5"/><circle cx="280.5" cy="449.5" r="0.8"/><circle cx="233.4" cy="407.3" r="0.9"/><circle cx="225.9" cy="477.2" r="0.5"/><circle cx="198.7" cy="444.1" r="0.6"/><circle cx="270.8" cy="417.6" r="0.5"/><circle cx="184.9" cy="418.6" r="0.9"/><circle cx="273.1" cy="455.1" r="0.6"/><circle cx="169.9" cy="470" r="0.5"/><circle cx="189.5" cy="433.6" r="0.8"/><circle cx="187.3" cy="399.3" r="0.9"/><circle cx="165.8" cy="461.1" r="0.5"/><circle cx="201.7" cy="412.7" r="0.6"/><circle cx="278.4" cy="470.8" r="0.7"/><circle cx="175.6" cy="409.7" r="0.6"/><circle cx="262.7" cy="477.8" r="0.5"/><circle cx="206" cy="481.8" r="0.5"/><circle cx="174.6" cy="418" r="0.9"/><circle cx="197.2" cy="459.9" r="0.5"/><circle cx="245.9" cy="409.1" r="0.7"/><circle cx="256.4" cy="474.3" r="0.6"/><circle cx="286.2" cy="430.9" r="0.9"/><circle cx="277.5" cy="485.4" r="0.5"/><circle cx="198.5" cy="457.6" r="0.8"/><circle cx="196.5" cy="464.2" r="0.7"/><circle cx="165.3" cy="401.4" r="0.5"/><circle cx="193" cy="479.3" r="0.8"/><circle cx="271.2" cy="477.8" r="0.6"/><circle cx="250.6" cy="453.7" r="0.8"/><circle cx="176.2" cy="475.3" r="0.5"/><circle cx="219.7" cy="456.8" r="0.8"/><circle cx="266.7" cy="422.3" r="0.6"/><circle cx="254.5" cy="397.9" r="0.8"/><circle cx="203.7" cy="429.7" r="0.6"/><circle cx="252.8" cy="409.6" r="0.5"/><circle cx="173" cy="405.6" r="0.7"/><circle cx="286.7" cy="394.1" r="0.7"/><circle cx="208.6" cy="422.1" r="0.6"/><circle cx="178.1" cy="432.5" r="0.6"/><circle cx="172.2" cy="406" r="0.9"/><circle cx="253.4" cy="483.9" r="0.8"/><circle cx="255.8" cy="414.4" r="0.5"/><circle cx="286.1" cy="456.5" r="0.8"/><circle cx="182.5" cy="466.4" r="0.7"/><circle cx="175.6" cy="412.9" r="0.9"/><circle cx="241.6" cy="401.9" r="0.5"/><circle cx="257.3" cy="426" r="0.7"/><circle cx="181.7" cy="410" r="0.7"/><circle cx="217.5" cy="410.7" r="0.5"/><circle cx="219.6" cy="404" r="0.5"/><circle cx="223.2" cy="398.3" r="0.8"/><circle cx="259.5" cy="458.4" r="0.9"/><circle cx="185.2" cy="432.4" r="0.6"/><circle cx="173.7" cy="472.6" r="0.5"/><circle cx="286" cy="455.7" r="0.9"/><circle cx="172.2" cy="475.7" r="0.9"/><circle cx="260.8" cy="446.9" r="0.7"/><circle cx="224.2" cy="472" r="0.7"/><circle cx="232.3" cy="430.8" r="0.7"/><circle cx="237.1" cy="480" r="0.8"/><circle cx="205.5" cy="459.8" r="0.6"/><circle cx="224.2" cy="441.9" r="0.8"/><circle cx="173.7" cy="407.1" r="0.5"/><circle cx="241.2" cy="409.3" r="0.7"/><circle cx="273.5" cy="432.9" r="0.6"/><circle cx="238.4" cy="431.4" r="0.6"/><circle cx="186.8" cy="456.3" r="0.6"/><circle cx="286.3" cy="439.2" r="0.8"/><circle cx="278.8" cy="484" r="0.5"/><circle cx="279.2" cy="403.1" r="0.9"/><circle cx="262.1" cy="417.2" r="0.8"/><circle cx="234.2" cy="435.2" r="0.7"/><circle cx="221.1" cy="454" r="0.8"/><circle cx="165.5" cy="452.3" r="0.8"/><circle cx="271.7" cy="442.9" r="0.7"/><circle cx="182.7" cy="411.6" r="0.9"/><circle cx="172.5" cy="476.4" r="0.5"/><circle cx="212.2" cy="450.8" r="0.5"/><circle cx="219.9" cy="467" r="0.6"/><circle cx="186.5" cy="399.1" r="0.9"/><circle cx="177.7" cy="455.1" r="0.7"/><circle cx="199.3" cy="444.9" r="0.8"/><circle cx="190.4" cy="416.1" r="0.9"/><circle cx="190.4" cy="438.5" r="0.7"/><circle cx="260.7" cy="472.4" r="0.8"/><circle cx="242" cy="443.3" r="0.5"/><circle cx="235.6" cy="433.4" r="0.8"/><circle cx="211.2" cy="404.8" r="0.6"/><circle cx="267.3" cy="439.2" r="0.8"/><circle cx="171.8" cy="414" r="0.6"/><circle cx="224.5" cy="404.5" r="0.9"/><circle cx="205.6" cy="393.7" r="0.6"/><circle cx="226.7" cy="450.2" r="0.8"/><circle cx="175.5" cy="482.8" r="0.8"/><circle cx="228.2" cy="453.1" r="0.6"/><circle cx="183.1" cy="394.5" r="0.9"/><circle cx="274.6" cy="434.6" r="0.7"/><circle cx="223.6" cy="456.9" r="0.5"/><circle cx="257.8" cy="409.7" r="0.7"/><circle cx="241.6" cy="471.5" r="0.7"/><circle cx="186.8" cy="468.5" r="0.6"/><circle cx="234.2" cy="467.2" r="0.9"/><circle cx="177.6" cy="435.4" r="0.6"/><circle cx="269.2" cy="430.2" r="0.9"/><circle cx="262.7" cy="432.1" r="0.8"/><circle cx="248.6" cy="404.4" r="0.6"/><circle cx="181.5" cy="470.1" r="0.6"/><circle cx="201.9" cy="459.5" r="0.9"/><circle cx="182.2" cy="457.1" r="0.6"/><circle cx="262.4" cy="462.2" r="0.8"/><circle cx="236.7" cy="404.9" r="0.8"/><circle cx="178.4" cy="446.9" r="0.9"/><circle cx="197.9" cy="437.8" r="0.8"/><circle cx="244.5" cy="423.3" r="0.6"/><circle cx="275.3" cy="459.4" r="0.5"/><circle cx="248.6" cy="471.9" r="0.7"/><circle cx="275.1" cy="417.9" r="0.6"/><circle cx="271.5" cy="417.2" r="0.5"/><circle cx="183.1" cy="474.7" r="0.8"/><circle cx="189.2" cy="461.8" r="0.5"/><circle cx="241.4" cy="394.6" r="0.7"/><circle cx="257.3" cy="440" r="0.7"/><circle cx="179.3" cy="435.7" r="0.8"/><circle cx="210.8" cy="462" r="0.7"/><circle cx="264.4" cy="461.5" r="0.6"/><circle cx="265.8" cy="468.7" r="0.6"/><circle cx="253.4" cy="431.7" r="0.7"/><circle cx="204.8" cy="436" r="0.6"/><circle cx="275.1" cy="449.9" r="0.7"/><circle cx="229.3" cy="436.3" r="0.5"/><circle cx="244.6" cy="434.6" r="0.6"/><circle cx="228" cy="405.6" r="0.7"/><circle cx="261.3" cy="427.3" r="0.5"/><circle cx="284.2" cy="450.6" r="0.6"/><circle cx="175.9" cy="446.3" r="0.5"/><circle cx="275.6" cy="459.5" r="0.6"/><circle cx="215" cy="401.6" r="0.6"/><circle cx="233.6" cy="474.7" r="0.6"/><circle cx="283.5" cy="417.1" r="0.5"/><circle cx="268.3" cy="428.3" r="0.6"/><circle cx="219.6" cy="449.8" r="0.5"/><circle cx="177.9" cy="448.5" r="0.7"/><circle cx="233.9" cy="408.3" r="0.8"/><circle cx="217.8" cy="443.4" r="0.8"/><circle cx="181.3" cy="439.2" r="0.6"/><circle cx="243.5" cy="414.3" r="0.6"/><circle cx="192.8" cy="444.9" r="0.6"/><circle cx="279.1" cy="473.6" r="0.8"/><circle cx="214.9" cy="469.4" r="0.7"/><circle cx="261.3" cy="481.3" r="0.5"/><circle cx="258.7" cy="476.7" r="0.6"/><circle cx="206.9" cy="396.5" r="0.9"/><circle cx="190.3" cy="394.4" r="0.5"/><circle cx="228.3" cy="456.3" r="0.9"/><circle cx="246.7" cy="402.9" r="0.9"/><circle cx="272.3" cy="467.8" r="0.9"/><circle cx="267.8" cy="456.4" r="0.8"/><circle cx="167.6" cy="484.6" r="0.5"/><circle cx="217.3" cy="445.9" r="0.7"/><circle cx="206.6" cy="440.3" r="0.6"/><circle cx="246.4" cy="396.4" r="0.6"/><circle cx="245.1" cy="435.6" r="0.5"/><circle cx="221.4" cy="478.9" r="0.7"/><circle cx="254.9" cy="428.8" r="0.9"/><circle cx="229.6" cy="468.1" r="0.7"/><circle cx="265.1" cy="429.7" r="0.9"/><circle cx="286.6" cy="476.1" r="0.9"/><circle cx="209.7" cy="424.7" r="0.9"/><circle cx="266.6" cy="447.9" r="0.7"/><circle cx="166.3" cy="445" r="0.5"/><circle cx="229.7" cy="414.1" r="0.7"/><circle cx="184.3" cy="423.7" r="0.8"/><circle cx="236.2" cy="405.8" r="0.9"/><circle cx="167.5" cy="431.5" r="0.8"/><circle cx="236.5" cy="453.6" r="0.9"/><circle cx="176.6" cy="440.3" r="0.6"/><circle cx="238.7" cy="436.3" r="0.7"/><circle cx="263.5" cy="439.7" r="0.6"/><circle cx="233.4" cy="409" r="0.9"/><circle cx="212.9" cy="439.4" r="0.8"/><circle cx="267.6" cy="485.3" r="0.8"/><circle cx="230.3" cy="433.1" r="0.8"/><circle cx="241.3" cy="394.6" r="0.7"/><circle cx="247.3" cy="426.6" r="0.8"/><circle cx="256.2" cy="475" r="0.6"/><circle cx="246.4" cy="445.2" r="0.6"/><circle cx="201.5" cy="401.7" r="0.8"/><circle cx="198.8" cy="425.4" r="0.6"/><circle cx="233.4" cy="439" r="0.8"/><circle cx="174.6" cy="425.1" r="0.8"/><circle cx="262.7" cy="399.5" r="0.7"/><circle cx="287.2" cy="483.6" r="0.6"/><circle cx="256.6" cy="424" r="0.5"/><circle cx="275.4" cy="405.1" r="0.9"/><circle cx="220.5" cy="472" r="0.7"/><circle cx="275.8" cy="462.2" r="0.5"/><circle cx="167.8" cy="409.3" r="0.7"/><circle cx="178.4" cy="400.4" r="0.6"/><circle cx="171.4" cy="421.8" r="0.7"/><circle cx="192.8" cy="466.3" r="0.6"/><circle cx="209.8" cy="430.7" r="0.8"/><circle cx="170.7" cy="468.2" r="0.5"/><circle cx="284.5" cy="444.7" r="0.8"/><circle cx="228.3" cy="455.2" r="0.8"/><circle cx="182.8" cy="411.4" r="0.9"/><circle cx="191.8" cy="415.9" r="0.5"/><circle cx="252.8" cy="466" r="0.5"/><circle cx="271.1" cy="404.1" r="0.7"/><circle cx="228.2" cy="416.8" r="0.6"/><circle cx="225.4" cy="465.6" r="0.6"/><circle cx="193.5" cy="483.4" r="0.6"/><circle cx="177.6" cy="479.2" r="0.9"/><circle cx="191.2" cy="442.2" r="0.8"/><circle cx="204.4" cy="424.9" r="0.5"/><circle cx="180.8" cy="449.4" r="0.7"/><circle cx="271.1" cy="434.5" r="0.6"/><circle cx="213.3" cy="406.4" r="0.7"/><circle cx="250.1" cy="410.5" r="0.7"/></g><g fill="#dcd5cf"><polygon points="169.5,393.2 169.9,394.1 170.4,395.4 171,397 171.6,398.6 172.1,400.3 172.6,401.8 172.9,403.3 173.2,405.1 173.5,406.8 173.7,408.5 173.8,409.9 174.1,410.9 174.3,410.9 174.5,409.9 174.7,408.5 174.8,406.8 175,405 175,403.1 175,401.4 174.8,399.7 174.5,397.9 174.1,396.1 173.8,394.4 173.5,393 173.3,392"/><polygon points="188.1,392.8 189.1,395 190.3,398.2 191.8,401.9 193.5,405.8 195.1,409.7 196.6,413 198.1,415.8 199.5,418.5 200.9,421 202.3,423.5 203.7,425.8 205.2,428.2 206.8,430.5 208.4,432.8 210,435 211.7,437.1 213.3,439.2 214.8,441.4 216.3,443.6 217.8,446 219.3,448.4 220.6,450.5 221.8,452.4 222.6,453.7 223,453.5 222.2,452.1 221,450.3 219.7,448.1 218.2,445.7 216.7,443.3 215.2,441 213.8,438.9 212.2,436.7 210.6,434.6 208.9,432.4 207.3,430.1 205.8,427.8 204.3,425.5 202.9,423.1 201.5,420.7 200.1,418.1 198.8,415.5 197.4,412.6 195.9,409.3 194.2,405.5 192.6,401.6 191.1,397.9 189.8,394.7 188.9,392.4"/><polygon points="178.6,392.7 179.4,396 180.6,400.7 182.1,406.3 183.6,412.3 185.1,418.2 186.6,423.7 187.9,428.7 189.2,433.6 190.6,438.5 191.9,443.5 193.2,448.5 194.6,453.7 196,459.4 197.5,465.7 199.1,472 200.5,478 201.7,483 202.6,486.7 203,486.5 202.2,482.9 201,477.9 199.5,471.9 198,465.5 196.5,459.2 195,453.5 193.7,448.4 192.4,443.4 191,438.4 189.7,433.5 188.4,428.6 187,423.5 185.6,418.1 184.1,412.1 182.5,406.2 181.1,400.6 179.9,395.9 179,392.5"/><polygon points="214.8,424.3 215.4,425.7 216.3,427.6 217.4,429.7 218.6,432.1 219.9,434.4 221.2,436.7 222.6,438.7 224,440.7 225.5,442.6 227,444.6 228.5,446.5 229.9,448.6 231.6,450.6 233.2,452.8 234.9,455 236.6,457.2 238.2,459.4 239.8,461.5 241.3,463.5 242.8,465.4 244.2,467.2 245.6,469 246.8,470.7 247.9,472.3 248.8,474 249.7,475.7 250.5,477.5 251.2,479 251.8,480.4 252.3,481.4 253.7,480.8 253.5,479.8 253.1,478.4 252.6,476.7 252,474.8 251.3,472.8 250.5,470.9 249.6,469 248.5,467.1 247.3,465.1 246.1,463.1 244.8,461 243.4,458.9 242,456.7 240.6,454.5 239,452.1 237.4,449.7 235.8,447.4 234.3,445.2 232.5,443.3 230.7,441.4 228.9,439.6 227.2,437.9 225.6,436.3 224,434.5 222.4,432.7 220.7,430.7 219,428.6 217.5,426.8 216.2,425.2 215.2,424.1"/><polygon points="230.7,395.2 232.1,396 234.1,397.2 236.4,398.6 239,400 241.7,401.4 244.2,402.5 246.6,403.3 248.9,404 251.1,404.6 253.4,405.1 255.6,405.7 257.9,406.2 260.4,406.8 262.9,407.3 265.5,407.9 268.1,408.4 270.7,409 273.3,409.5 276,410.2 279,410.9 282,411.5 284.7,412.2 287.1,412.7 288.8,413.1 289.8,408.7 288.2,408.3 285.9,407.6 283.1,406.9 280.2,406.2 277.2,405.4 274.5,404.7 271.9,404 269.4,403.2 266.8,402.5 264.3,401.8 261.8,401.1 259.5,400.4 257.1,399.8 254.9,399.2 252.7,398.6 250.7,398 248.6,397.3 246.6,396.5 244.4,395.5 241.9,394.4 239.4,393.1 237,391.8 235,390.7 233.5,390"/><polygon points="216.3,393.1 217,394 218,395.2 219.1,396.7 220.5,398.4 222.1,400.2 223.9,402 226,404.1 228.4,406.3 231,408.7 233.7,411.1 236.5,413.4 239.1,415.5 241.7,417.4 244.2,419.1 246.8,420.7 249.3,422.2 251.8,423.7 254.4,425.2 256.8,426.6 259.3,428 261.7,429.3 264.2,430.6 266.8,431.8 269.7,433 272.9,434.1 276.6,435.2 280.3,436.3 283.8,437.3 286.8,438.1 289,438.7 289.6,436.3 287.5,435.7 284.5,434.9 281,433.9 277.3,432.9 273.7,431.7 270.5,430.6 267.8,429.5 265.3,428.4 262.8,427.2 260.4,425.9 257.9,424.6 255.4,423.2 252.9,421.8 250.4,420.4 247.8,418.9 245.3,417.4 242.8,415.7 240.3,413.9 237.7,411.9 235,409.6 232.3,407.3 229.6,405 227.2,402.7 225.1,400.8 223.3,399 221.8,397.2 220.4,395.6 219.2,394.2 218.2,393 217.5,392.1"/><polygon points="248.9,434 250,435.1 251.6,436.7 253.5,438.5 255.7,440.4 257.8,442.3 260,444 262.1,445.5 264.2,446.9 266.4,448.2 268.6,449.5 270.9,450.8 273.3,452 276,453.1 278.9,454.3 281.9,455.4 284.8,456.4 287.1,457.2 288.8,457.8 289.8,455 288.1,454.4 285.7,453.6 282.9,452.7 279.9,451.6 277.1,450.5 274.5,449.4 272.1,448.4 269.9,447.2 267.6,446.1 265.4,444.8 263.3,443.5 261.2,442.2 259.1,440.7 256.8,439 254.6,437.3 252.5,435.6 250.8,434.2 249.5,433.2"/><polygon points="271.8,434 273.8,435.3 276.8,437 280.3,439 283.8,441 286.8,442.8 288.8,444 289.8,442.2 287.7,441.2 284.6,439.6 281,437.7 277.4,435.8 274.4,434.2 272.2,433.2"/><polygon points="222.3,466.2 223.4,467.2 224.8,468.6 226.6,470.3 228.4,472.1 230.2,473.9 231.7,475.7 233.1,477.6 234.6,479.7 236,481.9 237.3,483.9 238.4,485.7 239.2,486.9 240.2,486.3 239.4,485 238.3,483.3 237,481.3 235.5,479.1 234,477 232.5,475.1 230.9,473.3 229.1,471.4 227.2,469.6 225.4,468 223.9,466.6 222.9,465.6"/><polygon points="162.7,434.6 163.3,435 164.1,435.5 165.1,436.2 166,436.9 166.8,437.4 167.4,437.8 167.8,437.4 167.5,436.8 167,436 166.3,435 165.7,434 165.2,433.2 164.9,432.6"/><polygon points="264.6,472 265.8,472.8 267.6,473.7 269.7,474.9 272,476.1 274.3,477.3 276.5,478.3 278.7,479.2 281.1,480 283.5,480.8 285.8,481.5 287.7,482.1 289,482.6 289.6,480.6 288.2,480.3 286.3,479.8 284.1,479.1 281.6,478.4 279.3,477.7 277.1,476.9 274.9,476 272.6,474.9 270.3,473.8 268.2,472.7 266.4,471.8 265,471.2"/></g></g><clipPath id="hc3"><rect x="38.4" y="486.9" width="123.8" height="92.7"/></clipPath><g clip-path="url(#hc3)"><rect x="38.4" y="486.9" width="123.8" height="92.7" fill="#da5d85"/><rect x="38.4" y="486.9" width="123.8" height="92.7" filter="url(#histNoise)" opacity="0.22"/><polygon points="78.4,484.9 85.2,484.1 94.5,483.3 101.4,484.9 103.3,490.7 102.8,498.9 102.4,506.9 102.8,514.2 103.4,521.2 104.4,526.9 105.7,530.7 107.4,533.1 110.4,534.9 115.6,535.9 122.1,536.2 128.4,536.9 134.4,538.1 140.1,539.8 144.4,542.9 146.5,548.2 147.3,555 147.4,561.9 148.4,569.2 148.8,576.7 145.4,581.9 134.5,583.9 119.7,583.8 108.4,581.9 104.3,577.5 103.7,571.4 102.4,566.9 98.5,566 93.9,566.6 90.4,565.9 89.3,562.3 89.3,557.5 88.4,552.9 86.3,549 83.2,545.5 78.4,542.9 70.4,542.2 60.5,542.4 52.4,541.9 47.2,540.1 43.6,537.6 41.4,533.9 40.4,528.1 40.7,521.2 42.4,515.9 46.3,513.4 51.5,512.5 56.4,512.9 60,515.2 63.2,518.7 66.4,520.9 70,520.9 73.7,519.5 76.4,516.9 77.7,512.8 78.2,507.5 78.4,501.9 78.5,495.8 78.5,489.4 78.4,484.9" fill="#dc9cc0" opacity="0.7"/><g fill="#d9668e" opacity="0.85"><ellipse cx="113.9" cy="567.3" rx="2.7" ry="2.2" transform="rotate(26 113.9 567.3)"/><ellipse cx="55.2" cy="536.4" rx="2.7" ry="2.4" transform="rotate(77 55.2 536.4)"/><ellipse cx="130.2" cy="543.9" rx="2.1" ry="2.3" transform="rotate(26 130.2 543.9)"/><ellipse cx="133.8" cy="563.4" rx="4.8" ry="4" transform="rotate(134 133.8 563.4)"/><ellipse cx="142" cy="561.9" rx="2.9" ry="4" transform="rotate(87 142 561.9)"/><ellipse cx="121.4" cy="539.6" rx="3.5" ry="2.6" transform="rotate(77 121.4 539.6)"/><ellipse cx="128.3" cy="562.3" rx="5.4" ry="3.6" transform="rotate(99 128.3 562.3)"/><ellipse cx="96.8" cy="509.5" rx="3.6" ry="3.3" transform="rotate(71 96.8 509.5)"/><ellipse cx="55.3" cy="532.5" rx="2.8" ry="2.2" transform="rotate(35 55.3 532.5)"/><ellipse cx="80.2" cy="492" rx="4.3" ry="4.4" transform="rotate(70 80.2 492)"/><ellipse cx="117.6" cy="575.4" rx="2.2" ry="1.9" transform="rotate(145 117.6 575.4)"/><ellipse cx="130.2" cy="546.9" rx="2.6" ry="2.7" transform="rotate(156 130.2 546.9)"/><ellipse cx="135.3" cy="562.8" rx="2.7" ry="4.1" transform="rotate(67 135.3 562.8)"/><ellipse cx="144.4" cy="543.4" rx="4.5" ry="2.1" transform="rotate(111 144.4 543.4)"/><ellipse cx="103" cy="542.2" rx="3.3" ry="3.7" transform="rotate(61 103 542.2)"/><ellipse cx="109.6" cy="538.8" rx="3.9" ry="1.6" transform="rotate(79 109.6 538.8)"/><ellipse cx="54.3" cy="514.1" rx="2.9" ry="3.3" transform="rotate(13 54.3 514.1)"/><ellipse cx="91.2" cy="520.5" rx="4.9" ry="1.5" transform="rotate(60 91.2 520.5)"/><ellipse cx="96.2" cy="530.9" rx="4.3" ry="2.4" transform="rotate(5 96.2 530.9)"/><ellipse cx="113.9" cy="567.3" rx="2.9" ry="3.3" transform="rotate(64 113.9 567.3)"/><ellipse cx="63" cy="518.9" rx="2.1" ry="2.7" transform="rotate(15 63 518.9)"/><ellipse cx="121.8" cy="543.1" rx="2" ry="3.8" transform="rotate(34 121.8 543.1)"/><ellipse cx="92.4" cy="538.7" rx="3.2" ry="2.4" transform="rotate(78 92.4 538.7)"/><ellipse cx="82.6" cy="488.1" rx="2.4" ry="2.6" transform="rotate(79 82.6 488.1)"/><ellipse cx="134.3" cy="580.9" rx="2.2" ry="3.1" transform="rotate(23 134.3 580.9)"/><ellipse cx="57.3" cy="531.4" rx="3.3" ry="2.5" transform="rotate(144 57.3 531.4)"/><ellipse cx="112.1" cy="575.6" rx="3.8" ry="4.3" transform="rotate(79 112.1 575.6)"/><ellipse cx="102.2" cy="545.1" rx="4.9" ry="4.2" transform="rotate(20 102.2 545.1)"/><ellipse cx="55.9" cy="536.7" rx="4.8" ry="3.1" transform="rotate(53 55.9 536.7)"/><ellipse cx="133.2" cy="581.9" rx="4.8" ry="2.8" transform="rotate(111 133.2 581.9)"/><ellipse cx="129.7" cy="554.4" rx="3" ry="3.8" transform="rotate(19 129.7 554.4)"/><ellipse cx="91.4" cy="510.9" rx="4.7" ry="2.9" transform="rotate(0 91.4 510.9)"/><ellipse cx="146.7" cy="558.8" rx="3.7" ry="2.3" transform="rotate(82 146.7 558.8)"/><ellipse cx="62" cy="521.3" rx="3.7" ry="2.1" transform="rotate(103 62 521.3)"/><ellipse cx="96.7" cy="565.8" rx="2.8" ry="3.7" transform="rotate(116 96.7 565.8)"/><ellipse cx="68.7" cy="532.1" rx="4.1" ry="2.2" transform="rotate(95 68.7 532.1)"/><ellipse cx="42.4" cy="528.5" rx="4.7" ry="2.5" transform="rotate(39 42.4 528.5)"/><ellipse cx="138.3" cy="575.3" rx="4.9" ry="4" transform="rotate(122 138.3 575.3)"/><ellipse cx="117.8" cy="549.6" rx="4.1" ry="2.3" transform="rotate(24 117.8 549.6)"/></g><g fill="#6a4b9e" opacity="0.7"><circle cx="128.3" cy="542.2" r="0.5"/><circle cx="117.8" cy="543.5" r="0.7"/><circle cx="134.3" cy="568.1" r="0.6"/><circle cx="139.3" cy="533.2" r="0.7"/><circle cx="89.6" cy="573.4" r="0.7"/><circle cx="156.3" cy="518.3" r="0.8"/><circle cx="151.4" cy="550.3" r="0.6"/><circle cx="48" cy="531.2" r="0.6"/><circle cx="139.2" cy="559.6" r="0.9"/><circle cx="93.8" cy="525" r="0.7"/><circle cx="131.2" cy="494.3" r="0.5"/><circle cx="56.4" cy="517" r="0.6"/><circle cx="158.3" cy="506.2" r="0.9"/><circle cx="74.9" cy="505.8" r="0.9"/><circle cx="49.4" cy="497.4" r="0.5"/><circle cx="46.7" cy="522.7" r="0.5"/><circle cx="58.1" cy="488.4" r="0.8"/><circle cx="44.5" cy="508.4" r="0.7"/><circle cx="147.8" cy="548" r="0.8"/><circle cx="125.1" cy="560.8" r="0.8"/><circle cx="57.6" cy="491.9" r="0.7"/><circle cx="102.6" cy="535.2" r="0.8"/><circle cx="60" cy="552.4" r="0.6"/><circle cx="90.6" cy="509.6" r="0.6"/><circle cx="110.1" cy="538.3" r="0.9"/><circle cx="73.1" cy="553.2" r="0.5"/><circle cx="119.1" cy="501.8" r="0.8"/><circle cx="157.9" cy="510.5" r="0.8"/><circle cx="65.6" cy="515.2" r="0.5"/><circle cx="93.1" cy="496.6" r="0.8"/><circle cx="109.6" cy="525.8" r="0.8"/><circle cx="67.3" cy="517.6" r="0.6"/><circle cx="38.7" cy="569.1" r="0.5"/><circle cx="50.9" cy="560.9" r="0.8"/><circle cx="93.8" cy="526" r="0.5"/><circle cx="38.6" cy="535.1" r="0.6"/><circle cx="57.1" cy="570.9" r="0.5"/><circle cx="83.3" cy="556.6" r="0.8"/><circle cx="51.6" cy="555.7" r="0.7"/><circle cx="116.4" cy="574.3" r="0.8"/><circle cx="112.6" cy="558.3" r="0.7"/><circle cx="106.7" cy="562.7" r="0.7"/><circle cx="85" cy="488.8" r="0.8"/><circle cx="80.5" cy="526.7" r="0.6"/><circle cx="107.2" cy="524.1" r="0.8"/><circle cx="112" cy="538.7" r="0.8"/><circle cx="92.9" cy="536.6" r="0.8"/><circle cx="127.8" cy="555.8" r="0.9"/><circle cx="107.5" cy="538.4" r="0.5"/><circle cx="68.3" cy="527.2" r="0.7"/><circle cx="149.7" cy="490.9" r="0.6"/><circle cx="130" cy="529.4" r="0.8"/><circle cx="58.2" cy="558.4" r="0.6"/><circle cx="108.7" cy="492.2" r="0.6"/><circle cx="137.8" cy="555" r="0.7"/><circle cx="90.8" cy="490.5" r="0.8"/><circle cx="93.7" cy="554" r="0.7"/><circle cx="88.2" cy="568" r="0.5"/><circle cx="157.1" cy="494.9" r="0.9"/><circle cx="111" cy="528.4" r="0.9"/><circle cx="101.8" cy="534" r="0.5"/><circle cx="137.1" cy="546.2" r="0.6"/><circle cx="52.5" cy="525.8" r="0.9"/><circle cx="146.2" cy="530" r="0.5"/><circle cx="141" cy="505.6" r="0.8"/><circle cx="100.2" cy="576.2" r="0.5"/><circle cx="136.7" cy="553.7" r="0.5"/><circle cx="108.4" cy="514.2" r="0.8"/><circle cx="157.4" cy="548.6" r="0.7"/><circle cx="113.1" cy="509.9" r="0.7"/><circle cx="52.8" cy="553.7" r="0.5"/><circle cx="103.6" cy="503.5" r="0.7"/><circle cx="45.4" cy="489.4" r="0.7"/><circle cx="127.5" cy="569.2" r="0.8"/><circle cx="161.7" cy="500.1" r="0.7"/><circle cx="117.2" cy="503.2" r="0.5"/><circle cx="68.2" cy="535.4" r="0.8"/><circle cx="126.4" cy="539.9" r="0.5"/><circle cx="127.8" cy="534.4" r="0.5"/><circle cx="114.9" cy="509.7" r="0.6"/><circle cx="94.3" cy="556.5" r="0.5"/><circle cx="93.2" cy="508.7" r="0.8"/><circle cx="139.4" cy="511.4" r="0.8"/><circle cx="95.8" cy="507.1" r="0.6"/><circle cx="105" cy="561.7" r="0.7"/><circle cx="38.5" cy="559.3" r="0.7"/><circle cx="90.7" cy="509.3" r="0.6"/><circle cx="124.1" cy="512" r="0.5"/><circle cx="147.2" cy="527.9" r="0.5"/><circle cx="148.7" cy="497" r="0.6"/><circle cx="115" cy="548.5" r="0.9"/><circle cx="60.2" cy="539.7" r="0.8"/><circle cx="96.3" cy="553.1" r="0.7"/><circle cx="127.1" cy="575.7" r="0.6"/><circle cx="129.6" cy="518.9" r="0.8"/><circle cx="133" cy="566.4" r="0.8"/><circle cx="112.1" cy="575" r="0.5"/><circle cx="109.4" cy="493.8" r="0.7"/><circle cx="123.5" cy="513.3" r="0.8"/><circle cx="90.1" cy="505.2" r="0.5"/><circle cx="110" cy="522.5" r="0.5"/><circle cx="76.3" cy="577.2" r="0.7"/><circle cx="123" cy="526.4" r="0.5"/><circle cx="114.2" cy="506.4" r="0.5"/><circle cx="114.8" cy="549.5" r="0.5"/><circle cx="155.5" cy="488.8" r="0.5"/><circle cx="79.1" cy="560.8" r="0.8"/><circle cx="130.4" cy="526.7" r="0.9"/><circle cx="54.9" cy="576" r="0.5"/><circle cx="57.4" cy="556.5" r="0.8"/><circle cx="121.7" cy="509.9" r="0.8"/><circle cx="102.2" cy="506" r="0.5"/><circle cx="160.8" cy="492.1" r="0.5"/><circle cx="82.5" cy="569.7" r="0.8"/><circle cx="142.6" cy="545.4" r="0.5"/><circle cx="129.8" cy="504.6" r="0.9"/><circle cx="158.5" cy="493" r="0.8"/><circle cx="68.3" cy="496.6" r="0.8"/><circle cx="93.2" cy="514.2" r="0.7"/><circle cx="46.4" cy="526.2" r="0.7"/><circle cx="145.4" cy="498.3" r="0.9"/><circle cx="51.4" cy="506" r="0.6"/><circle cx="59.3" cy="495.3" r="0.7"/><circle cx="87.8" cy="504.5" r="0.7"/><circle cx="53.7" cy="550.1" r="0.9"/><circle cx="96.2" cy="526" r="0.6"/><circle cx="83.8" cy="525.2" r="0.5"/><circle cx="75.1" cy="550.9" r="0.7"/><circle cx="46.8" cy="500.4" r="0.8"/><circle cx="82.1" cy="563.8" r="0.7"/><circle cx="115.8" cy="519.9" r="0.7"/><circle cx="89.8" cy="534.8" r="0.9"/><circle cx="51.7" cy="506.7" r="0.9"/><circle cx="153.2" cy="562.2" r="0.8"/><circle cx="51.2" cy="553.5" r="0.5"/><circle cx="143.4" cy="523.6" r="0.7"/><circle cx="102.8" cy="506" r="0.7"/><circle cx="145.2" cy="528.5" r="0.6"/><circle cx="83.8" cy="504.6" r="0.6"/><circle cx="142.1" cy="576.4" r="0.6"/><circle cx="74" cy="518.2" r="0.8"/><circle cx="70.9" cy="503.8" r="0.6"/><circle cx="49.1" cy="500.5" r="0.6"/><circle cx="119" cy="573" r="0.6"/><circle cx="74.7" cy="541.3" r="0.5"/><circle cx="49.4" cy="540.1" r="0.7"/><circle cx="81.9" cy="525.4" r="0.5"/><circle cx="70.6" cy="503.3" r="0.6"/><circle cx="47" cy="562.5" r="0.5"/><circle cx="89.7" cy="502.8" r="0.5"/><circle cx="132.4" cy="576" r="0.9"/><circle cx="79.4" cy="537.1" r="0.6"/><circle cx="48.3" cy="526.1" r="0.7"/><circle cx="87.8" cy="559.7" r="0.7"/><circle cx="74.8" cy="569.9" r="0.7"/><circle cx="70" cy="570.7" r="0.7"/><circle cx="113.1" cy="530.3" r="0.8"/><circle cx="129" cy="527.9" r="0.6"/><circle cx="134" cy="564.5" r="0.7"/><circle cx="146.5" cy="535.8" r="0.6"/><circle cx="77.6" cy="511.9" r="0.5"/><circle cx="152.7" cy="538.1" r="0.5"/><circle cx="64.2" cy="526.2" r="0.8"/><circle cx="144.4" cy="557.3" r="0.6"/><circle cx="91.3" cy="574.7" r="0.6"/><circle cx="118.8" cy="491.6" r="0.7"/><circle cx="101.1" cy="571.2" r="0.9"/><circle cx="131.5" cy="517.7" r="0.8"/><circle cx="151.7" cy="494" r="0.6"/><circle cx="106.6" cy="515.2" r="0.6"/><circle cx="135.6" cy="506.3" r="0.7"/><circle cx="40.9" cy="529.7" r="0.9"/><circle cx="38.9" cy="496.9" r="0.9"/><circle cx="151.6" cy="533.8" r="0.6"/><circle cx="75.3" cy="554.9" r="0.7"/><circle cx="93.7" cy="551" r="0.5"/><circle cx="86.6" cy="568.3" r="0.9"/><circle cx="98.5" cy="559.4" r="0.8"/><circle cx="103" cy="500.1" r="0.5"/><circle cx="121.5" cy="518.5" r="0.7"/><circle cx="43.6" cy="574.7" r="0.6"/><circle cx="116.9" cy="544.6" r="0.6"/><circle cx="64.3" cy="539" r="0.6"/><circle cx="47.9" cy="503.2" r="0.5"/><circle cx="149.6" cy="505.7" r="0.9"/><circle cx="115" cy="575.6" r="0.7"/><circle cx="70" cy="494.7" r="0.7"/><circle cx="124.5" cy="549.9" r="0.9"/><circle cx="50.6" cy="546.7" r="0.8"/><circle cx="154.9" cy="510.1" r="0.9"/><circle cx="41.6" cy="541.5" r="0.6"/><circle cx="102.6" cy="503" r="0.6"/><circle cx="81.6" cy="529.9" r="0.6"/><circle cx="65.4" cy="502.5" r="0.7"/><circle cx="161.1" cy="565.5" r="0.5"/><circle cx="116.9" cy="500.5" r="0.6"/><circle cx="161.7" cy="518.3" r="0.5"/><circle cx="107.9" cy="541.3" r="0.7"/><circle cx="155.7" cy="534.4" r="0.6"/><circle cx="64.2" cy="540.8" r="0.8"/><circle cx="100.7" cy="523.1" r="0.6"/><circle cx="143" cy="578.8" r="0.7"/><circle cx="126.4" cy="517" r="0.5"/><circle cx="45.4" cy="544.1" r="0.9"/><circle cx="123.9" cy="549.3" r="0.8"/><circle cx="89.4" cy="526.6" r="0.6"/><circle cx="141.3" cy="550.9" r="0.7"/><circle cx="134.8" cy="571.5" r="0.5"/><circle cx="65.6" cy="530.2" r="0.8"/><circle cx="68.3" cy="527.9" r="0.7"/><circle cx="74.8" cy="549" r="0.5"/><circle cx="89.5" cy="546.1" r="0.8"/><circle cx="101.7" cy="548.5" r="0.7"/><circle cx="118.6" cy="528.7" r="0.6"/><circle cx="54.2" cy="569.1" r="0.8"/><circle cx="119" cy="556.7" r="0.6"/><circle cx="60.3" cy="536.2" r="0.7"/><circle cx="118.7" cy="567.8" r="0.6"/><circle cx="84.7" cy="552.2" r="0.8"/><circle cx="108.5" cy="542" r="0.9"/><circle cx="152.4" cy="491.1" r="0.9"/><circle cx="50.2" cy="538" r="0.7"/><circle cx="159.6" cy="508.6" r="0.5"/><circle cx="157.1" cy="529.3" r="0.7"/><circle cx="91.2" cy="512.6" r="0.5"/><circle cx="107.3" cy="506.9" r="0.7"/><circle cx="161.7" cy="578.1" r="0.6"/><circle cx="79.8" cy="498.2" r="0.7"/><circle cx="60.6" cy="498.6" r="0.9"/><circle cx="107.6" cy="569.4" r="0.5"/><circle cx="60.3" cy="540.5" r="0.8"/><circle cx="60.5" cy="533.4" r="0.7"/><circle cx="100.2" cy="516" r="0.7"/><circle cx="52" cy="496" r="0.5"/><circle cx="141.6" cy="510" r="0.8"/><circle cx="52.6" cy="568.8" r="0.5"/><circle cx="138.1" cy="536.2" r="0.9"/><circle cx="148.6" cy="488" r="0.5"/><circle cx="69.3" cy="491" r="0.8"/><circle cx="56.2" cy="549.6" r="0.9"/><circle cx="125.3" cy="579.2" r="0.7"/><circle cx="86.5" cy="577.1" r="0.5"/><circle cx="107" cy="525.4" r="0.7"/><circle cx="75.3" cy="575.9" r="0.9"/><circle cx="124.9" cy="533" r="0.9"/><circle cx="155.7" cy="491.4" r="0.8"/><circle cx="51.8" cy="495.6" r="0.6"/><circle cx="84.3" cy="531.8" r="0.9"/><circle cx="56.9" cy="546.8" r="0.7"/><circle cx="54" cy="579.2" r="0.9"/><circle cx="81.2" cy="567.6" r="0.7"/><circle cx="121.8" cy="572.9" r="0.7"/><circle cx="83.1" cy="491.8" r="0.7"/><circle cx="110" cy="512.2" r="0.7"/><circle cx="40.4" cy="510.3" r="0.7"/><circle cx="98.1" cy="552.4" r="0.6"/><circle cx="73.2" cy="554.8" r="0.6"/><circle cx="57" cy="544.6" r="0.6"/><circle cx="111.3" cy="576.7" r="0.9"/><circle cx="136.4" cy="577.1" r="0.8"/><circle cx="82.9" cy="573.4" r="0.5"/><circle cx="64.3" cy="533.8" r="0.5"/><circle cx="113.1" cy="537.5" r="0.5"/><circle cx="130.4" cy="494.6" r="0.7"/><circle cx="72.4" cy="573.8" r="0.5"/><circle cx="85.5" cy="553" r="0.6"/><circle cx="140.9" cy="497.4" r="0.5"/><circle cx="40" cy="538.5" r="0.7"/><circle cx="104.7" cy="530.7" r="0.8"/><circle cx="65.2" cy="500.5" r="0.6"/><circle cx="141.5" cy="562.1" r="0.5"/><circle cx="38.5" cy="578.6" r="0.9"/><circle cx="72.5" cy="536.2" r="0.5"/><circle cx="101.4" cy="502.9" r="0.8"/><circle cx="57.7" cy="539.2" r="0.6"/><circle cx="98.1" cy="575" r="0.7"/><circle cx="159.1" cy="553.7" r="0.6"/><circle cx="69.7" cy="562.7" r="0.8"/><circle cx="56.2" cy="562" r="0.6"/><circle cx="108.6" cy="569.6" r="0.9"/><circle cx="60" cy="500.1" r="0.6"/><circle cx="113.4" cy="576.4" r="0.7"/><circle cx="132.8" cy="563.1" r="0.7"/><circle cx="84.9" cy="560.9" r="0.7"/><circle cx="147.8" cy="579.3" r="0.7"/><circle cx="81" cy="498.8" r="0.7"/><circle cx="77.4" cy="516.1" r="0.7"/><circle cx="128.6" cy="550" r="0.7"/><circle cx="119" cy="545.1" r="0.9"/><circle cx="123" cy="565.6" r="0.6"/><circle cx="143.8" cy="487.5" r="0.8"/><circle cx="40.2" cy="543.4" r="0.6"/><circle cx="58.5" cy="555.8" r="0.5"/><circle cx="122.6" cy="494.5" r="0.5"/><circle cx="87.4" cy="539.8" r="0.7"/><circle cx="82.9" cy="567.2" r="0.5"/><circle cx="62.3" cy="523.3" r="0.7"/><circle cx="119.4" cy="569.1" r="0.6"/><circle cx="117.8" cy="550.9" r="0.5"/><circle cx="83.9" cy="528" r="0.7"/><circle cx="103.9" cy="499.7" r="0.5"/><circle cx="79" cy="495" r="0.8"/><circle cx="149.3" cy="554.9" r="0.5"/><circle cx="111.2" cy="489.9" r="0.5"/><circle cx="69.9" cy="542.3" r="0.7"/><circle cx="105.4" cy="501.8" r="0.7"/><circle cx="130.9" cy="567.8" r="0.6"/><circle cx="94" cy="567.6" r="0.5"/><circle cx="113.1" cy="496.4" r="0.8"/><circle cx="122" cy="493.5" r="0.5"/><circle cx="154.9" cy="515.3" r="0.7"/><circle cx="110.2" cy="522.4" r="0.5"/><circle cx="128" cy="517.9" r="0.6"/><circle cx="137.6" cy="573.9" r="0.6"/><circle cx="79.7" cy="558.8" r="0.7"/><circle cx="148.9" cy="521.5" r="0.5"/><circle cx="73.7" cy="570.2" r="0.7"/><circle cx="159" cy="563.1" r="0.8"/><circle cx="60.6" cy="525.4" r="0.5"/><circle cx="79.8" cy="507.1" r="0.9"/><circle cx="57.7" cy="518.9" r="0.5"/><circle cx="57.4" cy="551.4" r="0.6"/><circle cx="100.9" cy="562.9" r="0.8"/><circle cx="64.7" cy="556.1" r="0.8"/><circle cx="111.3" cy="533.4" r="0.9"/><circle cx="112.6" cy="492.5" r="0.8"/><circle cx="120.1" cy="511.6" r="0.8"/><circle cx="153.7" cy="554.9" r="0.7"/><circle cx="140.8" cy="494.4" r="0.5"/><circle cx="88.5" cy="535" r="0.7"/><circle cx="119.8" cy="534.9" r="0.6"/><circle cx="129.2" cy="538.6" r="0.5"/><circle cx="109.8" cy="529.4" r="0.8"/><circle cx="125.4" cy="578.2" r="0.8"/><circle cx="101.8" cy="549" r="0.6"/><circle cx="106.9" cy="578.8" r="0.5"/><circle cx="91" cy="526.8" r="0.8"/><circle cx="61.9" cy="550.3" r="0.5"/><circle cx="157.7" cy="494.4" r="0.7"/><circle cx="131.1" cy="538.2" r="0.6"/><circle cx="83.2" cy="569.7" r="0.7"/><circle cx="108" cy="575.4" r="0.7"/><circle cx="139.1" cy="542.5" r="0.8"/><circle cx="115.6" cy="499.4" r="0.6"/><circle cx="72.6" cy="507.4" r="0.7"/><circle cx="90.2" cy="520.8" r="0.5"/><circle cx="160.5" cy="531.9" r="0.5"/><circle cx="120.4" cy="495.3" r="0.5"/><circle cx="155.2" cy="548.7" r="0.6"/><circle cx="54.9" cy="554.2" r="0.6"/><circle cx="78.9" cy="512.9" r="0.7"/><circle cx="68.5" cy="491.9" r="0.8"/><circle cx="103.9" cy="498.6" r="0.5"/><circle cx="151.3" cy="534.2" r="0.7"/><circle cx="149.9" cy="489.1" r="0.5"/><circle cx="64" cy="551.7" r="0.5"/><circle cx="108" cy="560.4" r="0.6"/><circle cx="120.8" cy="490.8" r="0.7"/><circle cx="84.7" cy="549.5" r="0.6"/><circle cx="120.2" cy="570.2" r="0.9"/><circle cx="139" cy="552.4" r="0.9"/><circle cx="91.6" cy="488.8" r="0.8"/><circle cx="82.9" cy="518" r="0.9"/><circle cx="88" cy="499.2" r="0.9"/><circle cx="38.8" cy="491.7" r="0.8"/><circle cx="59.8" cy="553.8" r="0.5"/><circle cx="74.5" cy="523.6" r="0.7"/><circle cx="130.5" cy="549.7" r="0.5"/><circle cx="144.1" cy="491.9" r="0.6"/><circle cx="44.6" cy="558.2" r="0.7"/><circle cx="92.8" cy="573.6" r="0.6"/><circle cx="119.4" cy="551.5" r="0.5"/><circle cx="133.8" cy="518.5" r="0.8"/><circle cx="131.6" cy="518" r="0.6"/><circle cx="89.3" cy="496.2" r="0.7"/><circle cx="128.2" cy="575.9" r="0.6"/><circle cx="106.2" cy="546.2" r="0.8"/><circle cx="120.6" cy="575.6" r="0.8"/><circle cx="157.8" cy="527.9" r="0.7"/><circle cx="59.2" cy="534.5" r="0.7"/><circle cx="82.4" cy="573.4" r="0.8"/><circle cx="139.9" cy="514.6" r="0.7"/><circle cx="144.4" cy="523.2" r="0.7"/><circle cx="62.2" cy="574.1" r="0.7"/><circle cx="94.1" cy="566.5" r="0.6"/><circle cx="104.2" cy="524.9" r="0.9"/><circle cx="100.3" cy="574.6" r="0.8"/><circle cx="52.2" cy="541.3" r="0.7"/><circle cx="57.3" cy="568.1" r="0.8"/><circle cx="158.6" cy="532.2" r="0.5"/><circle cx="119.4" cy="564.6" r="0.6"/><circle cx="132.4" cy="531.6" r="0.6"/><circle cx="160.1" cy="551.7" r="0.9"/><circle cx="134.3" cy="563.7" r="0.5"/><circle cx="130.7" cy="496.1" r="0.8"/><circle cx="123.6" cy="524" r="0.7"/><circle cx="157.6" cy="550.3" r="0.6"/><circle cx="157.7" cy="559.3" r="0.6"/><circle cx="90.1" cy="518.8" r="0.6"/><circle cx="142.2" cy="522.1" r="0.9"/><circle cx="76.4" cy="519.8" r="0.6"/><circle cx="136" cy="497" r="0.5"/><circle cx="138.7" cy="555.9" r="0.5"/><circle cx="90.8" cy="492.4" r="0.8"/><circle cx="147" cy="490.6" r="0.8"/><circle cx="69" cy="578.1" r="0.5"/><circle cx="155.5" cy="514.3" r="0.7"/><circle cx="106.4" cy="560.7" r="0.6"/><circle cx="135.2" cy="561.1" r="0.7"/><circle cx="44.8" cy="528.6" r="0.5"/><circle cx="161.6" cy="525.9" r="0.8"/><circle cx="90.1" cy="510.9" r="0.5"/><circle cx="127.1" cy="496.3" r="0.7"/><circle cx="104" cy="575.4" r="0.8"/><circle cx="47" cy="520.1" r="0.6"/><circle cx="134.4" cy="496.6" r="0.8"/><circle cx="74.4" cy="543.1" r="0.6"/><circle cx="59.6" cy="566" r="0.8"/><circle cx="82.8" cy="521.4" r="0.5"/><circle cx="81.7" cy="525.3" r="0.5"/></g><g fill="#5a44a0" opacity="0.7"><circle cx="58.5" cy="530.9" r="0.7"/><circle cx="99" cy="517.1" r="0.8"/><circle cx="67.2" cy="521.7" r="0.8"/><circle cx="133.5" cy="563.2" r="0.8"/><circle cx="93.4" cy="526.2" r="0.9"/><circle cx="76.9" cy="524.9" r="0.8"/><circle cx="138.3" cy="552.8" r="0.9"/><circle cx="95.4" cy="518.2" r="0.7"/><circle cx="96.1" cy="499.4" r="0.6"/><circle cx="130.9" cy="551.5" r="0.8"/><circle cx="57.5" cy="526.6" r="0.8"/><circle cx="144.1" cy="554" r="0.9"/><circle cx="87.7" cy="496.6" r="0.7"/><circle cx="92" cy="539" r="0.5"/><circle cx="136.7" cy="545.6" r="0.6"/><circle cx="138.3" cy="559.3" r="0.7"/><circle cx="94.2" cy="551.9" r="0.6"/><circle cx="89.8" cy="487.2" r="0.5"/><circle cx="104.9" cy="536.2" r="0.8"/><circle cx="109" cy="556.7" r="0.8"/><circle cx="143" cy="574.9" r="0.8"/><circle cx="101.3" cy="529.6" r="0.8"/><circle cx="103" cy="565.5" r="0.7"/><circle cx="64.7" cy="534.9" r="0.6"/><circle cx="48.8" cy="532.9" r="0.7"/><circle cx="101" cy="543.2" r="0.6"/><circle cx="92.3" cy="505.3" r="0.8"/><circle cx="109.2" cy="553.6" r="0.6"/><circle cx="90" cy="518.5" r="0.5"/><circle cx="92.1" cy="547.2" r="0.7"/><circle cx="114.7" cy="564.4" r="0.8"/><circle cx="129.4" cy="566.9" r="0.8"/><circle cx="45.4" cy="516.6" r="0.6"/><circle cx="122.8" cy="576.6" r="0.9"/><circle cx="54.3" cy="526.9" r="0.8"/><circle cx="88.2" cy="507" r="0.7"/><circle cx="135.4" cy="542.5" r="0.6"/><circle cx="95.7" cy="549" r="0.5"/><circle cx="70.2" cy="522.2" r="0.6"/><circle cx="120.5" cy="563.6" r="0.5"/><circle cx="79" cy="522.6" r="0.7"/><circle cx="100.7" cy="529.3" r="0.9"/><circle cx="118.1" cy="541.8" r="0.8"/><circle cx="89.9" cy="506.7" r="0.7"/><circle cx="111.9" cy="580.9" r="0.8"/><circle cx="95.8" cy="521.2" r="0.8"/><circle cx="118.7" cy="548.3" r="0.7"/><circle cx="69.9" cy="538.8" r="0.7"/><circle cx="99.9" cy="564" r="0.7"/><circle cx="101.2" cy="507.4" r="0.5"/><circle cx="110.2" cy="571" r="0.5"/><circle cx="90.7" cy="514.1" r="0.7"/><circle cx="64.5" cy="534.6" r="0.8"/><circle cx="80.2" cy="505.3" r="0.8"/><circle cx="116.5" cy="557.4" r="0.9"/><circle cx="78.8" cy="542.3" r="0.7"/><circle cx="85.2" cy="528.6" r="0.7"/><circle cx="83.1" cy="527.4" r="0.8"/><circle cx="108.1" cy="571.8" r="0.9"/><circle cx="55.6" cy="521.2" r="0.7"/><circle cx="76.8" cy="521.1" r="0.8"/><circle cx="121.4" cy="546.9" r="0.8"/><circle cx="128.2" cy="540.1" r="0.6"/><circle cx="89.7" cy="560.3" r="0.9"/><circle cx="137.3" cy="575.9" r="0.6"/><circle cx="92.3" cy="502.5" r="0.8"/><circle cx="123.1" cy="575.7" r="0.7"/><circle cx="64.9" cy="530" r="0.7"/><circle cx="95.2" cy="539.7" r="0.7"/><circle cx="81.3" cy="537.8" r="0.9"/><circle cx="110.7" cy="559.5" r="0.6"/><circle cx="86.1" cy="522.4" r="0.6"/><circle cx="88.7" cy="519.8" r="0.7"/><circle cx="43.5" cy="533.9" r="0.6"/><circle cx="133.6" cy="562.4" r="0.5"/><circle cx="138.4" cy="555" r="0.7"/><circle cx="108.7" cy="579.3" r="0.7"/><circle cx="119.2" cy="566.5" r="0.8"/><circle cx="84.9" cy="503" r="0.8"/><circle cx="114.6" cy="545.1" r="0.8"/><circle cx="122.5" cy="568.8" r="0.7"/><circle cx="81.8" cy="513.2" r="0.6"/><circle cx="124.2" cy="549.5" r="0.7"/><circle cx="139.8" cy="549" r="0.5"/><circle cx="107.5" cy="551.6" r="0.9"/><circle cx="85.5" cy="534.2" r="0.9"/><circle cx="52.6" cy="521.7" r="0.6"/><circle cx="52.3" cy="518.8" r="0.9"/><circle cx="138.9" cy="552.5" r="0.7"/><circle cx="94" cy="550.8" r="0.9"/><circle cx="138.4" cy="544.1" r="0.9"/><circle cx="86.3" cy="531" r="0.8"/><circle cx="133.1" cy="564.2" r="0.7"/><circle cx="47.1" cy="535.6" r="0.8"/><circle cx="91.6" cy="543.1" r="0.8"/><circle cx="68.9" cy="536" r="0.8"/><circle cx="144.2" cy="572.4" r="0.5"/><circle cx="107.1" cy="552.3" r="0.8"/><circle cx="85.6" cy="494" r="0.8"/><circle cx="120.7" cy="568.4" r="0.6"/><circle cx="78.3" cy="539.9" r="0.7"/><circle cx="138.7" cy="580.4" r="0.8"/><circle cx="95.6" cy="516.4" r="0.9"/><circle cx="93.2" cy="519.9" r="0.7"/><circle cx="54" cy="528.3" r="0.6"/><circle cx="74.6" cy="527.8" r="0.6"/><circle cx="58.4" cy="538.3" r="0.8"/><circle cx="104" cy="552.7" r="0.7"/><circle cx="137.1" cy="554.6" r="0.8"/><circle cx="111.9" cy="549" r="0.6"/><circle cx="136.7" cy="567.2" r="0.8"/><circle cx="144.4" cy="558.6" r="0.6"/><circle cx="139.3" cy="551.4" r="0.9"/><circle cx="91.9" cy="487.4" r="0.6"/><circle cx="100.3" cy="528.7" r="0.6"/><circle cx="130" cy="580.3" r="0.7"/><circle cx="124.2" cy="574.6" r="0.9"/><circle cx="56.9" cy="515.5" r="0.8"/><circle cx="106.5" cy="538.7" r="0.6"/><circle cx="139.2" cy="558.1" r="0.5"/><circle cx="76.3" cy="541.7" r="0.8"/><circle cx="94.9" cy="548.5" r="0.9"/><circle cx="116.5" cy="580.9" r="0.7"/><circle cx="130.4" cy="549.2" r="0.9"/><circle cx="83" cy="490.4" r="0.8"/><circle cx="97.2" cy="550.1" r="0.8"/><circle cx="145.1" cy="550.6" r="0.9"/><circle cx="50.5" cy="534.6" r="0.8"/><circle cx="134.2" cy="539.5" r="0.9"/><circle cx="80.5" cy="515.4" r="0.8"/><circle cx="105.8" cy="548" r="0.7"/><circle cx="143.1" cy="574.5" r="0.7"/><circle cx="126.5" cy="567.3" r="0.7"/><circle cx="125.1" cy="578.2" r="0.8"/><circle cx="85.9" cy="498.9" r="0.6"/><circle cx="81.3" cy="485.4" r="0.6"/><circle cx="56.2" cy="519.7" r="0.8"/><circle cx="54.9" cy="525.8" r="0.7"/><circle cx="43.4" cy="516.6" r="0.9"/><circle cx="88.7" cy="492.1" r="0.8"/><circle cx="77.1" cy="529.8" r="0.8"/><circle cx="80.3" cy="534.3" r="0.7"/><circle cx="124" cy="560.9" r="0.8"/><circle cx="81" cy="533.1" r="0.7"/><circle cx="75.5" cy="524.4" r="0.6"/><circle cx="64.2" cy="524.5" r="0.9"/><circle cx="95.6" cy="486.1" r="0.5"/><circle cx="65.5" cy="527.6" r="0.5"/><circle cx="131.7" cy="562.7" r="0.9"/><circle cx="90.3" cy="529.9" r="0.8"/><circle cx="124.4" cy="538" r="0.5"/><circle cx="49.1" cy="514.7" r="0.8"/><circle cx="138.4" cy="557.5" r="0.5"/><circle cx="107.1" cy="535.5" r="0.7"/><circle cx="109.5" cy="578.4" r="0.6"/><circle cx="79.3" cy="499.1" r="0.6"/><circle cx="141.8" cy="543.4" r="0.8"/><circle cx="89.7" cy="545.3" r="0.9"/><circle cx="143" cy="545.3" r="0.8"/><circle cx="45.7" cy="532.5" r="0.9"/><circle cx="56" cy="525.3" r="0.6"/><circle cx="81.4" cy="485.3" r="0.8"/><circle cx="62.9" cy="534.3" r="0.6"/><circle cx="64.8" cy="525.3" r="0.5"/><circle cx="87.5" cy="488.8" r="0.7"/><circle cx="134.1" cy="572.9" r="0.7"/><circle cx="48.2" cy="529.7" r="0.9"/><circle cx="92.7" cy="533.8" r="0.7"/><circle cx="101.9" cy="544.7" r="0.7"/><circle cx="43.5" cy="522.9" r="0.6"/><circle cx="133.7" cy="561.7" r="0.6"/><circle cx="79.9" cy="504.3" r="0.6"/><circle cx="102.3" cy="526.3" r="0.5"/><circle cx="114.1" cy="538.4" r="0.7"/><circle cx="57.2" cy="519.3" r="0.8"/><circle cx="61.1" cy="533.7" r="0.6"/><circle cx="86.1" cy="506.1" r="0.6"/><circle cx="63.3" cy="533.3" r="0.6"/><circle cx="97.2" cy="558.1" r="0.8"/><circle cx="89.5" cy="552" r="0.6"/><circle cx="121.4" cy="570.4" r="0.7"/><circle cx="62.4" cy="522.1" r="0.8"/><circle cx="95.5" cy="546.4" r="0.7"/><circle cx="121.5" cy="539.3" r="0.8"/><circle cx="47.3" cy="530.5" r="0.7"/><circle cx="101.7" cy="504.9" r="0.9"/><circle cx="96.6" cy="504.9" r="0.9"/><circle cx="96.6" cy="498" r="0.7"/><circle cx="137.6" cy="577.7" r="0.7"/><circle cx="133.7" cy="550.5" r="0.9"/><circle cx="56.6" cy="514.6" r="0.6"/><circle cx="119.5" cy="555.1" r="0.8"/><circle cx="77.9" cy="517.1" r="0.7"/><circle cx="129.1" cy="575.6" r="0.6"/><circle cx="78.7" cy="527.1" r="0.8"/><circle cx="131" cy="544.3" r="0.6"/><circle cx="136.9" cy="564.8" r="0.5"/><circle cx="131.9" cy="577.7" r="0.6"/><circle cx="114.2" cy="580.8" r="0.7"/><circle cx="137.5" cy="543.5" r="0.8"/><circle cx="91.3" cy="531" r="0.8"/><circle cx="107.6" cy="564.3" r="0.6"/><circle cx="90.4" cy="562.7" r="0.5"/><circle cx="59.5" cy="529.9" r="0.6"/><circle cx="43.8" cy="528.8" r="0.5"/><circle cx="123.9" cy="553.6" r="0.7"/><circle cx="113.3" cy="560.3" r="0.9"/><circle cx="90.5" cy="554.6" r="0.8"/><circle cx="70.2" cy="522.1" r="0.5"/><circle cx="53.3" cy="535" r="0.8"/><circle cx="146" cy="554.5" r="0.6"/><circle cx="103.1" cy="528.6" r="0.8"/><circle cx="97.2" cy="538.2" r="0.7"/><circle cx="60.6" cy="520.1" r="0.6"/><circle cx="132.6" cy="562" r="0.6"/><circle cx="106.3" cy="558.6" r="0.7"/><circle cx="117.9" cy="573" r="0.8"/><circle cx="94.7" cy="503.3" r="0.8"/><circle cx="118.7" cy="550.6" r="0.7"/><circle cx="142.4" cy="555.6" r="0.6"/><circle cx="139.6" cy="576.9" r="0.8"/><circle cx="97.5" cy="528.5" r="0.7"/><circle cx="114.5" cy="544" r="0.7"/><circle cx="100.1" cy="537.2" r="0.6"/><circle cx="77.3" cy="517.4" r="0.9"/><circle cx="124.6" cy="566.6" r="0.6"/><circle cx="97.9" cy="563.6" r="0.9"/><circle cx="79.3" cy="541.8" r="0.8"/><circle cx="102.5" cy="537.2" r="0.6"/><circle cx="109.2" cy="546.5" r="0.5"/><circle cx="130.9" cy="540.4" r="0.5"/><circle cx="124.2" cy="565.2" r="0.9"/><circle cx="126.3" cy="559.4" r="0.6"/><circle cx="89.5" cy="542.1" r="0.9"/><circle cx="89.1" cy="549.7" r="0.6"/><circle cx="92.9" cy="489.8" r="0.7"/><circle cx="98.3" cy="487.8" r="0.8"/><circle cx="142.7" cy="552.5" r="0.7"/><circle cx="80.5" cy="536.1" r="0.7"/><circle cx="117.6" cy="580" r="0.8"/><circle cx="101.5" cy="554.8" r="0.6"/><circle cx="94.5" cy="551.2" r="0.8"/><circle cx="55.3" cy="537.7" r="0.8"/><circle cx="82.5" cy="537.3" r="0.9"/><circle cx="72.9" cy="541.9" r="0.8"/><circle cx="98" cy="516.2" r="0.6"/><circle cx="113.7" cy="578.1" r="0.6"/><circle cx="110.6" cy="562.2" r="0.6"/><circle cx="99.7" cy="489.2" r="0.9"/><circle cx="111" cy="549.2" r="0.5"/><circle cx="127.8" cy="538.8" r="0.8"/><circle cx="99.8" cy="527.3" r="0.7"/><circle cx="134.5" cy="552.2" r="0.9"/><circle cx="98" cy="495.7" r="0.5"/><circle cx="138.7" cy="552.7" r="0.9"/><circle cx="132.9" cy="557.1" r="0.6"/><circle cx="85.6" cy="547.6" r="0.7"/><circle cx="103.4" cy="530.2" r="0.8"/><circle cx="82.5" cy="525.5" r="0.7"/><circle cx="91.6" cy="524.4" r="0.6"/><circle cx="138.5" cy="564.9" r="0.6"/><circle cx="141.4" cy="581" r="0.6"/><circle cx="126.6" cy="556" r="0.6"/><circle cx="84.8" cy="520.5" r="0.7"/><circle cx="133" cy="566.9" r="0.6"/><circle cx="118.4" cy="538.3" r="0.6"/><circle cx="82.1" cy="498" r="0.8"/><circle cx="50.2" cy="521.6" r="0.5"/><circle cx="118.2" cy="557.7" r="0.7"/><circle cx="116.3" cy="537.1" r="0.7"/><circle cx="80.4" cy="516.8" r="0.7"/><circle cx="143.7" cy="554.7" r="0.6"/><circle cx="90.4" cy="559.9" r="0.6"/><circle cx="126.4" cy="574.8" r="0.8"/><circle cx="117.5" cy="578.9" r="0.6"/><circle cx="113.5" cy="537.9" r="0.7"/><circle cx="99.6" cy="529.4" r="0.8"/><circle cx="90.3" cy="545.7" r="0.9"/><circle cx="114.6" cy="571.6" r="0.9"/><circle cx="75.8" cy="527.4" r="0.8"/><circle cx="86.6" cy="498.1" r="0.6"/><circle cx="53.8" cy="541.9" r="0.5"/><circle cx="83.7" cy="536" r="0.8"/><circle cx="123.1" cy="536.6" r="0.8"/><circle cx="115.7" cy="537.5" r="0.8"/><circle cx="85.5" cy="494" r="0.5"/><circle cx="99.3" cy="491.5" r="0.8"/><circle cx="141" cy="558.8" r="0.7"/><circle cx="80.7" cy="507.4" r="0.6"/><circle cx="112.9" cy="578.2" r="0.8"/><circle cx="98.4" cy="511.1" r="0.8"/><circle cx="97.4" cy="515.3" r="0.8"/><circle cx="88.7" cy="497.9" r="0.6"/><circle cx="140.7" cy="544.9" r="0.8"/><circle cx="76.3" cy="526" r="0.7"/><circle cx="90" cy="499.8" r="0.8"/><circle cx="135.8" cy="546.9" r="0.8"/><circle cx="95.1" cy="554" r="0.5"/><circle cx="103.1" cy="541.8" r="0.7"/><circle cx="111.8" cy="578.4" r="0.7"/><circle cx="63" cy="538.3" r="0.5"/><circle cx="53.9" cy="530.8" r="0.9"/><circle cx="103.1" cy="525.3" r="0.8"/><circle cx="113" cy="557.1" r="0.7"/><circle cx="86.6" cy="523.2" r="0.7"/><circle cx="140.9" cy="576.3" r="0.5"/><circle cx="68.1" cy="539.5" r="0.9"/><circle cx="90.2" cy="536.6" r="0.8"/><circle cx="80.8" cy="494.5" r="0.8"/><circle cx="81" cy="521.6" r="0.6"/><circle cx="60.3" cy="540" r="0.6"/><circle cx="130.9" cy="574.4" r="0.6"/><circle cx="83.9" cy="511.3" r="0.6"/><circle cx="53.6" cy="540.5" r="0.7"/><circle cx="73.4" cy="537.3" r="0.9"/><circle cx="97.1" cy="563.8" r="0.5"/><circle cx="61.7" cy="542" r="0.7"/><circle cx="98" cy="492.5" r="0.7"/><circle cx="70.2" cy="526.6" r="0.8"/><circle cx="80" cy="522.8" r="0.5"/><circle cx="137.1" cy="549.1" r="0.8"/><circle cx="65.3" cy="536.2" r="0.7"/><circle cx="84.6" cy="489" r="0.5"/><circle cx="80.6" cy="509.5" r="0.8"/><circle cx="58.7" cy="535.1" r="0.7"/><circle cx="89.4" cy="494.8" r="0.7"/><circle cx="119.8" cy="550.4" r="0.6"/><circle cx="106.1" cy="538.4" r="0.7"/><circle cx="72" cy="536.6" r="0.7"/><circle cx="62.4" cy="540.2" r="0.8"/><circle cx="56.7" cy="525.9" r="0.7"/><circle cx="138.2" cy="551.6" r="0.8"/><circle cx="86" cy="528.5" r="0.8"/><circle cx="111.1" cy="580.2" r="0.9"/><circle cx="95" cy="548.3" r="0.6"/><circle cx="51.3" cy="540.9" r="0.8"/><circle cx="130.4" cy="566.9" r="0.5"/><circle cx="52.3" cy="523.5" r="0.8"/><circle cx="122.4" cy="570.3" r="0.5"/><circle cx="65.9" cy="538.5" r="0.5"/><circle cx="90.1" cy="486.6" r="0.6"/><circle cx="144.2" cy="579.7" r="0.6"/><circle cx="44.6" cy="529.8" r="0.6"/><circle cx="116.6" cy="537.7" r="0.7"/><circle cx="73.3" cy="531.9" r="0.8"/><circle cx="93.4" cy="524.4" r="0.6"/><circle cx="85.5" cy="522.1" r="0.9"/><circle cx="145.4" cy="565.3" r="0.9"/><circle cx="61.8" cy="539.8" r="0.7"/><circle cx="93" cy="548" r="0.5"/><circle cx="89.5" cy="553.6" r="0.7"/><circle cx="56.7" cy="517.9" r="0.8"/><circle cx="75.8" cy="527.5" r="0.7"/><circle cx="88" cy="485.4" r="0.5"/><circle cx="103.7" cy="555.2" r="0.6"/><circle cx="53.9" cy="526.4" r="0.6"/><circle cx="99.6" cy="547.9" r="0.7"/><circle cx="93.7" cy="554.3" r="0.7"/><circle cx="93.7" cy="496.1" r="0.8"/><circle cx="49.6" cy="514.6" r="0.6"/><circle cx="88.3" cy="512.2" r="0.8"/><circle cx="86.6" cy="523.8" r="0.7"/><circle cx="122.8" cy="562.7" r="0.7"/><circle cx="82.1" cy="525.6" r="0.8"/><circle cx="144.7" cy="557" r="0.7"/><circle cx="79.4" cy="537.3" r="0.5"/><circle cx="139.9" cy="541.4" r="0.7"/><circle cx="83.8" cy="521.8" r="0.9"/><circle cx="108.1" cy="580.6" r="0.9"/><circle cx="143.4" cy="543.1" r="0.8"/><circle cx="88.8" cy="503.9" r="0.9"/><circle cx="81.1" cy="540.1" r="0.8"/><circle cx="94.7" cy="502.8" r="0.8"/><circle cx="46" cy="516.4" r="0.5"/><circle cx="145.3" cy="564.5" r="0.6"/><circle cx="67.7" cy="534.6" r="0.7"/><circle cx="44.6" cy="525.3" r="0.9"/><circle cx="79" cy="528.2" r="0.8"/><circle cx="62.1" cy="531.3" r="0.7"/><circle cx="81" cy="492.2" r="0.8"/><circle cx="113.6" cy="578.5" r="0.8"/><circle cx="93.3" cy="548.6" r="0.5"/><circle cx="99.7" cy="542.7" r="0.7"/><circle cx="53.1" cy="523.3" r="0.7"/><circle cx="47.7" cy="532.2" r="0.9"/><circle cx="54.2" cy="532.2" r="0.8"/><circle cx="135.4" cy="544.8" r="0.6"/><circle cx="83" cy="508.8" r="0.8"/><circle cx="131.9" cy="549.5" r="0.9"/><circle cx="109.6" cy="573.5" r="0.6"/><circle cx="89.3" cy="544.3" r="0.9"/><circle cx="83.8" cy="496.7" r="0.7"/><circle cx="95.8" cy="546" r="0.6"/><circle cx="98.7" cy="542.1" r="0.8"/><circle cx="79.9" cy="543.3" r="0.9"/><circle cx="107.1" cy="532.4" r="0.6"/><circle cx="43.9" cy="525.5" r="0.6"/><circle cx="123.2" cy="558.6" r="0.6"/><circle cx="103.5" cy="532.5" r="0.6"/><circle cx="65.2" cy="530.2" r="0.7"/><circle cx="91.4" cy="536.7" r="0.6"/><circle cx="75.1" cy="521.8" r="0.5"/><circle cx="145.1" cy="569.4" r="0.7"/><circle cx="98" cy="558.7" r="0.6"/><circle cx="97.1" cy="521.3" r="0.6"/><circle cx="128.8" cy="554" r="0.8"/><circle cx="104.4" cy="568.4" r="0.6"/><circle cx="113.3" cy="555.9" r="0.9"/><circle cx="57.8" cy="519.1" r="0.7"/><circle cx="96.3" cy="565.6" r="0.5"/><circle cx="55.6" cy="514.1" r="0.8"/><circle cx="139.1" cy="573.9" r="0.7"/><circle cx="87.5" cy="509.8" r="0.5"/><circle cx="132.6" cy="539.8" r="0.6"/><circle cx="103.9" cy="524.1" r="0.6"/><circle cx="43.5" cy="517.1" r="0.6"/><circle cx="139" cy="568.1" r="0.6"/><circle cx="89.2" cy="528.3" r="0.8"/><circle cx="79.6" cy="539.4" r="0.8"/><circle cx="88.4" cy="492.9" r="0.9"/><circle cx="82" cy="543.4" r="0.6"/><circle cx="71.6" cy="520.1" r="0.7"/><circle cx="97.9" cy="503.9" r="0.8"/><circle cx="112.4" cy="555.3" r="0.6"/><circle cx="69.8" cy="520.2" r="0.8"/><circle cx="65.5" cy="533.1" r="0.7"/><circle cx="87.1" cy="534.3" r="0.7"/><circle cx="88" cy="503.1" r="0.7"/><circle cx="99" cy="518.3" r="0.5"/><circle cx="109.7" cy="570.5" r="0.8"/><circle cx="116" cy="537.9" r="0.8"/><circle cx="121.4" cy="560.4" r="0.6"/><circle cx="45.1" cy="524.5" r="0.9"/><circle cx="139.5" cy="542.5" r="0.5"/><circle cx="71.3" cy="535" r="0.7"/><circle cx="70.9" cy="528.2" r="0.7"/><circle cx="120.2" cy="540.6" r="0.6"/><circle cx="62" cy="534.1" r="0.9"/><circle cx="83" cy="502.9" r="0.8"/><circle cx="136.4" cy="568.2" r="0.6"/><circle cx="88.9" cy="525.8" r="0.6"/><circle cx="111.8" cy="577.1" r="0.7"/><circle cx="94.9" cy="491.2" r="0.6"/><circle cx="100.8" cy="487.6" r="0.6"/><circle cx="62.5" cy="530.4" r="0.6"/><circle cx="109" cy="564.7" r="0.9"/><circle cx="96.6" cy="566" r="0.6"/><circle cx="104.6" cy="544.1" r="0.8"/><circle cx="77.8" cy="514.2" r="0.8"/><circle cx="80.2" cy="519.5" r="0.8"/><circle cx="129.4" cy="549.5" r="0.7"/><circle cx="107.2" cy="540" r="0.8"/><circle cx="111.7" cy="539.6" r="0.7"/><circle cx="135.9" cy="564.9" r="0.5"/><circle cx="41.9" cy="528.8" r="0.7"/><circle cx="91.5" cy="501.4" r="0.9"/><circle cx="73.4" cy="528.5" r="0.8"/><circle cx="127.9" cy="550.5" r="0.6"/><circle cx="101.9" cy="514.2" r="0.8"/><circle cx="44.1" cy="523.1" r="0.8"/><circle cx="85.7" cy="520.7" r="0.5"/><circle cx="61.6" cy="525.1" r="0.6"/><circle cx="142.7" cy="574.2" r="0.7"/><circle cx="93.4" cy="559.4" r="0.7"/><circle cx="130.9" cy="578.7" r="0.7"/><circle cx="101.9" cy="513.1" r="0.7"/><circle cx="112.6" cy="559.4" r="0.9"/><circle cx="69.9" cy="538.4" r="0.6"/><circle cx="129.7" cy="547.3" r="0.9"/><circle cx="144" cy="555.5" r="0.9"/><circle cx="45.1" cy="517.7" r="0.7"/><circle cx="103.3" cy="547.8" r="0.9"/><circle cx="48.1" cy="520.7" r="0.5"/><circle cx="129.1" cy="581.1" r="0.8"/><circle cx="106.8" cy="539.7" r="0.6"/><circle cx="142.7" cy="555.1" r="0.7"/><circle cx="95.4" cy="553.8" r="0.6"/><circle cx="50.8" cy="526.9" r="0.9"/><circle cx="92" cy="564.9" r="0.8"/><circle cx="95.2" cy="494.4" r="0.5"/><circle cx="136.4" cy="576.7" r="0.8"/><circle cx="91.1" cy="526.1" r="0.7"/><circle cx="128.3" cy="555" r="0.9"/><circle cx="97.9" cy="549.3" r="0.9"/><circle cx="78.4" cy="536.1" r="0.9"/><circle cx="117" cy="541" r="0.8"/><circle cx="84.1" cy="519.5" r="0.6"/><circle cx="123.7" cy="556.7" r="0.6"/><circle cx="129.6" cy="538.3" r="0.6"/><circle cx="71.4" cy="526.3" r="0.7"/><circle cx="102.4" cy="522.6" r="0.6"/><circle cx="133.6" cy="543.9" r="0.7"/><circle cx="131.9" cy="575" r="0.8"/><circle cx="65.1" cy="525.8" r="0.7"/><circle cx="82.4" cy="503.8" r="0.6"/><circle cx="115.4" cy="539.5" r="0.6"/><circle cx="100.6" cy="526.4" r="0.8"/><circle cx="115.1" cy="551.1" r="0.8"/><circle cx="56.6" cy="520.1" r="0.6"/><circle cx="71.3" cy="519" r="0.8"/><circle cx="81.2" cy="514.9" r="0.8"/><circle cx="109.1" cy="543.9" r="0.6"/><circle cx="72.4" cy="522.5" r="0.7"/><circle cx="128.1" cy="565" r="0.8"/><circle cx="108" cy="539.3" r="0.6"/><circle cx="86.8" cy="540.6" r="0.6"/><circle cx="101.1" cy="505.3" r="0.6"/><circle cx="59" cy="515.7" r="0.8"/><circle cx="114.5" cy="575.8" r="0.6"/><circle cx="125.6" cy="544.3" r="0.8"/><circle cx="139.5" cy="563.8" r="0.7"/><circle cx="102.2" cy="529.5" r="0.7"/><circle cx="98.4" cy="502.1" r="0.8"/><circle cx="98" cy="498.8" r="0.9"/><circle cx="114.8" cy="571.3" r="0.5"/><circle cx="140.7" cy="555.5" r="0.7"/><circle cx="111.5" cy="568.6" r="0.8"/><circle cx="48.4" cy="528.6" r="0.8"/><circle cx="43.2" cy="524.1" r="0.7"/><circle cx="132" cy="573.8" r="0.8"/><circle cx="104.5" cy="540.6" r="0.8"/><circle cx="91.5" cy="489.8" r="0.7"/><circle cx="125.7" cy="566.4" r="0.8"/><circle cx="107.6" cy="553.6" r="0.5"/><circle cx="143" cy="553.7" r="0.6"/><circle cx="85.2" cy="500" r="0.9"/><circle cx="88.4" cy="499" r="0.5"/><circle cx="103.9" cy="541.1" r="0.8"/><circle cx="50.9" cy="532.4" r="0.6"/><circle cx="101" cy="552.6" r="0.5"/><circle cx="94.2" cy="514.4" r="0.6"/><circle cx="113.4" cy="563.4" r="0.6"/><circle cx="146.3" cy="564.1" r="0.7"/><circle cx="89.5" cy="532.5" r="0.8"/><circle cx="119.4" cy="577.2" r="0.6"/><circle cx="129.3" cy="563.9" r="0.8"/><circle cx="145.2" cy="550.4" r="0.9"/><circle cx="49.3" cy="539.4" r="0.6"/><circle cx="92.4" cy="513.4" r="0.8"/><circle cx="85.9" cy="545.1" r="0.8"/><circle cx="104.1" cy="543.3" r="0.9"/><circle cx="132.8" cy="556.6" r="0.7"/><circle cx="118.4" cy="563.6" r="0.7"/><circle cx="95.2" cy="537.2" r="0.9"/><circle cx="89.5" cy="519" r="0.6"/><circle cx="65.5" cy="539.4" r="0.6"/><circle cx="50.6" cy="518.3" r="0.6"/><circle cx="114.2" cy="547.7" r="0.8"/><circle cx="103.8" cy="523.7" r="0.6"/><circle cx="100.4" cy="508.2" r="0.6"/><circle cx="135.9" cy="559" r="0.5"/><circle cx="101.6" cy="540.2" r="0.5"/><circle cx="84.4" cy="512.9" r="0.7"/><circle cx="123.1" cy="571.6" r="0.8"/><circle cx="56" cy="526.4" r="0.5"/><circle cx="89.6" cy="549.8" r="0.5"/><circle cx="75.4" cy="538.7" r="0.8"/><circle cx="81.5" cy="523.1" r="0.8"/><circle cx="79.6" cy="489.9" r="0.6"/><circle cx="67" cy="541.6" r="0.7"/><circle cx="49.8" cy="516.1" r="0.7"/><circle cx="58.8" cy="531" r="0.7"/><circle cx="98.3" cy="511" r="0.6"/><circle cx="108.9" cy="576" r="0.9"/><circle cx="143" cy="566.3" r="0.8"/><circle cx="94.1" cy="500" r="0.6"/><circle cx="115.1" cy="556.1" r="0.8"/><circle cx="141.4" cy="573.4" r="0.6"/><circle cx="71.2" cy="520.9" r="0.9"/><circle cx="46.8" cy="531" r="0.6"/><circle cx="126.7" cy="566" r="0.6"/><circle cx="89.1" cy="545.5" r="0.6"/><circle cx="97.4" cy="530.6" r="0.9"/><circle cx="141.4" cy="562" r="0.5"/><circle cx="43.9" cy="527.8" r="0.9"/><circle cx="111.5" cy="574.3" r="0.6"/><circle cx="53.9" cy="537.6" r="0.7"/><circle cx="107.9" cy="576.9" r="0.5"/><circle cx="48.8" cy="523.9" r="0.6"/><circle cx="58.6" cy="523.9" r="0.7"/><circle cx="50.5" cy="529.4" r="0.8"/><circle cx="50.5" cy="526.9" r="0.8"/><circle cx="128.4" cy="542.8" r="0.5"/><circle cx="95.3" cy="537.2" r="0.6"/><circle cx="142" cy="552.9" r="0.5"/><circle cx="102" cy="500.1" r="0.6"/><circle cx="110.8" cy="564.3" r="0.7"/><circle cx="74.1" cy="533.8" r="0.7"/><circle cx="93.8" cy="504.6" r="0.9"/><circle cx="89.6" cy="512.7" r="0.6"/><circle cx="81.4" cy="521.8" r="0.7"/><circle cx="95.1" cy="561.7" r="0.5"/><circle cx="61.8" cy="527.3" r="0.6"/><circle cx="107.8" cy="533.1" r="0.6"/><circle cx="43.4" cy="527.2" r="0.6"/><circle cx="102.7" cy="552.7" r="0.9"/><circle cx="102" cy="560.7" r="0.6"/><circle cx="67.3" cy="524.3" r="0.8"/><circle cx="77.4" cy="517.3" r="0.6"/><circle cx="78.7" cy="521.3" r="0.5"/><circle cx="120.9" cy="568.8" r="0.7"/><circle cx="108.8" cy="561.7" r="0.7"/><circle cx="95.4" cy="492.6" r="0.6"/><circle cx="92.6" cy="496.9" r="0.6"/><circle cx="97.4" cy="510.2" r="0.7"/><circle cx="56.8" cy="528.1" r="0.6"/><circle cx="111.6" cy="564.8" r="0.6"/><circle cx="95.6" cy="532.3" r="0.8"/><circle cx="116.1" cy="574.1" r="0.6"/><circle cx="119.1" cy="552.6" r="0.7"/><circle cx="130.7" cy="555.2" r="0.6"/><circle cx="135.8" cy="576.8" r="0.7"/><circle cx="100.8" cy="524.7" r="0.6"/><circle cx="132.5" cy="570.7" r="0.8"/><circle cx="100.2" cy="543.8" r="0.8"/><circle cx="144.4" cy="549.6" r="0.8"/><circle cx="43.6" cy="522.3" r="0.8"/><circle cx="89.2" cy="557.1" r="0.8"/><circle cx="115.9" cy="576.2" r="0.8"/><circle cx="79.2" cy="507.4" r="0.5"/><circle cx="119.9" cy="548.1" r="0.8"/><circle cx="123.6" cy="570" r="0.7"/><circle cx="119.2" cy="548.5" r="0.6"/><circle cx="132.6" cy="562.7" r="0.8"/><circle cx="96.6" cy="525.9" r="0.8"/><circle cx="103.6" cy="529.4" r="0.8"/><circle cx="70" cy="522.6" r="0.9"/><circle cx="78.7" cy="508.3" r="0.6"/><circle cx="126.4" cy="572" r="0.9"/><circle cx="84.2" cy="485.9" r="0.8"/><circle cx="144.3" cy="565" r="0.8"/><circle cx="116.3" cy="565.5" r="0.6"/><circle cx="46.6" cy="535.7" r="0.8"/><circle cx="120.3" cy="564.4" r="0.6"/><circle cx="70.3" cy="534.8" r="0.5"/><circle cx="77.8" cy="527.1" r="0.9"/><circle cx="131.9" cy="581.2" r="0.6"/><circle cx="119.4" cy="577" r="0.8"/><circle cx="90" cy="518.1" r="0.8"/><circle cx="91.1" cy="565.9" r="0.7"/><circle cx="116.3" cy="550.9" r="0.9"/><circle cx="79.3" cy="492.7" r="0.9"/><circle cx="138.4" cy="581" r="0.8"/><circle cx="49.8" cy="521.8" r="0.9"/><circle cx="90.8" cy="528.8" r="0.6"/><circle cx="121.5" cy="537" r="0.8"/><circle cx="81.5" cy="515.2" r="0.7"/><circle cx="145.3" cy="573.4" r="0.6"/><circle cx="135.4" cy="562.7" r="0.6"/><circle cx="94.3" cy="502.2" r="0.8"/><circle cx="106.9" cy="577.3" r="0.5"/><circle cx="127.4" cy="561.2" r="0.8"/><circle cx="133.6" cy="556.6" r="0.9"/><circle cx="93" cy="520.1" r="0.8"/><circle cx="83.6" cy="505.6" r="0.6"/><circle cx="107.2" cy="566.9" r="0.8"/><circle cx="123.1" cy="542.7" r="0.9"/><circle cx="50.6" cy="532.5" r="0.9"/><circle cx="96.5" cy="540.7" r="0.6"/><circle cx="136" cy="542.8" r="0.7"/><circle cx="114.3" cy="578.8" r="0.6"/><circle cx="91.5" cy="498.1" r="0.9"/><circle cx="88.6" cy="539.7" r="0.8"/><circle cx="95.3" cy="489.7" r="0.8"/><circle cx="109.3" cy="547.7" r="0.6"/><circle cx="77.2" cy="539.2" r="0.7"/><circle cx="87.6" cy="538.2" r="0.6"/><circle cx="77.9" cy="532.9" r="0.5"/><circle cx="54.6" cy="528.8" r="0.7"/><circle cx="78.8" cy="525.9" r="0.5"/><circle cx="78.8" cy="491.3" r="0.5"/><circle cx="93.8" cy="506.7" r="0.8"/><circle cx="104.6" cy="566.4" r="0.5"/><circle cx="100.1" cy="524.6" r="0.5"/><circle cx="101.9" cy="505.4" r="0.7"/><circle cx="58.2" cy="525.5" r="0.9"/><circle cx="91.5" cy="511.5" r="0.7"/><circle cx="97.4" cy="532.3" r="0.6"/><circle cx="94" cy="550.2" r="0.6"/><circle cx="144.7" cy="569.7" r="0.6"/><circle cx="107.4" cy="568.3" r="0.7"/><circle cx="113.3" cy="564.8" r="0.7"/><circle cx="109.5" cy="577.1" r="0.6"/><circle cx="118.7" cy="541.8" r="0.8"/><circle cx="61.3" cy="524.8" r="0.8"/><circle cx="142.8" cy="553.5" r="0.6"/><circle cx="79.5" cy="538.3" r="0.6"/><circle cx="55.9" cy="537.8" r="0.5"/><circle cx="117.1" cy="560.8" r="0.7"/><circle cx="140.1" cy="544.9" r="0.6"/><circle cx="133" cy="571.2" r="0.5"/><circle cx="118.6" cy="577.7" r="0.9"/><circle cx="43" cy="534.2" r="0.7"/><circle cx="129.3" cy="543.2" r="0.9"/><circle cx="83" cy="534.8" r="0.5"/><circle cx="68.8" cy="541.4" r="0.5"/><circle cx="131" cy="570.3" r="0.5"/><circle cx="49.8" cy="519" r="0.7"/><circle cx="131.1" cy="542.5" r="0.7"/><circle cx="67.1" cy="541.7" r="0.6"/><circle cx="99.8" cy="552" r="0.6"/><circle cx="136.5" cy="542.4" r="0.6"/><circle cx="93.2" cy="536.4" r="0.7"/><circle cx="110" cy="574.2" r="0.6"/><circle cx="70.7" cy="524.1" r="0.7"/><circle cx="98.2" cy="490.7" r="0.8"/><circle cx="93.5" cy="559.4" r="0.6"/><circle cx="49.5" cy="523.6" r="0.8"/><circle cx="100.4" cy="550.9" r="0.8"/><circle cx="88.5" cy="550.7" r="0.5"/><circle cx="140.1" cy="578.1" r="0.8"/><circle cx="128.6" cy="550.9" r="0.7"/><circle cx="97.6" cy="509.4" r="0.5"/><circle cx="142.3" cy="549.4" r="0.9"/><circle cx="142.9" cy="575.6" r="0.6"/><circle cx="113.2" cy="544.2" r="0.9"/><circle cx="95.5" cy="511.1" r="0.5"/><circle cx="54.2" cy="515.9" r="0.7"/><circle cx="86.2" cy="541.6" r="0.8"/><circle cx="98.5" cy="522.4" r="0.6"/><circle cx="123.3" cy="572.8" r="0.7"/><circle cx="58.4" cy="516.6" r="0.6"/><circle cx="99.8" cy="493.9" r="0.5"/><circle cx="145.5" cy="580.5" r="0.9"/><circle cx="103.8" cy="526.9" r="0.5"/><circle cx="92" cy="532.1" r="0.8"/><circle cx="87.9" cy="494" r="0.7"/><circle cx="116" cy="547.1" r="0.6"/><circle cx="90.8" cy="555.8" r="0.6"/><circle cx="87.3" cy="497.3" r="0.5"/><circle cx="137.6" cy="570.8" r="0.7"/><circle cx="52.6" cy="525.8" r="0.7"/><circle cx="97.6" cy="549.1" r="0.6"/><circle cx="94" cy="537.6" r="0.7"/><circle cx="80.7" cy="527.3" r="0.6"/><circle cx="125" cy="542.3" r="0.6"/><circle cx="53.5" cy="515.3" r="0.7"/><circle cx="80.8" cy="540.4" r="0.8"/><circle cx="74.9" cy="527.4" r="0.7"/><circle cx="103.3" cy="564.6" r="0.5"/><circle cx="103.7" cy="550.2" r="0.6"/><circle cx="94.4" cy="524.8" r="0.6"/><circle cx="58.1" cy="534.7" r="0.9"/><circle cx="83.9" cy="539.5" r="0.8"/><circle cx="93.3" cy="507.8" r="0.5"/><circle cx="72.5" cy="521.5" r="0.5"/><circle cx="84" cy="502.6" r="0.8"/><circle cx="121.6" cy="572" r="0.8"/><circle cx="137.5" cy="548.2" r="0.6"/><circle cx="72.5" cy="522.3" r="0.6"/><circle cx="134.4" cy="580.3" r="0.7"/><circle cx="62.5" cy="529.1" r="0.5"/><circle cx="124.1" cy="561.6" r="0.9"/><circle cx="100.3" cy="560.7" r="0.9"/><circle cx="99.1" cy="525.3" r="0.8"/><circle cx="134.2" cy="539.8" r="0.9"/><circle cx="65.2" cy="532.5" r="0.6"/><circle cx="67.9" cy="521.3" r="0.7"/><circle cx="107.1" cy="567" r="0.9"/><circle cx="126.5" cy="578" r="0.6"/><circle cx="47.7" cy="531.7" r="0.6"/><circle cx="43.1" cy="520.8" r="0.7"/><circle cx="100.3" cy="560.1" r="0.7"/><circle cx="93.9" cy="517.2" r="0.5"/><circle cx="74" cy="519" r="0.6"/><circle cx="72.5" cy="537.7" r="0.5"/><circle cx="92.5" cy="488.8" r="0.8"/><circle cx="88.7" cy="537.5" r="0.6"/><circle cx="124.8" cy="547.1" r="0.6"/><circle cx="91.2" cy="503" r="0.6"/><circle cx="43.5" cy="526.3" r="0.8"/><circle cx="96.6" cy="544.6" r="0.6"/><circle cx="133" cy="553.5" r="0.8"/><circle cx="91" cy="509.4" r="0.7"/><circle cx="84.9" cy="519.1" r="0.9"/><circle cx="65" cy="535.3" r="0.7"/><circle cx="42.9" cy="517.7" r="0.7"/><circle cx="61.8" cy="540.6" r="0.6"/><circle cx="52.1" cy="517.8" r="0.6"/><circle cx="111" cy="568" r="0.6"/><circle cx="107.7" cy="566.6" r="0.6"/><circle cx="79.8" cy="490.6" r="0.9"/><circle cx="98.9" cy="553" r="0.7"/><circle cx="122.8" cy="576.5" r="0.8"/><circle cx="47.2" cy="527.4" r="0.6"/><circle cx="123.7" cy="560.4" r="0.6"/><circle cx="141.1" cy="543.9" r="0.8"/><circle cx="79.2" cy="492.3" r="0.6"/><circle cx="103.6" cy="532.1" r="0.7"/><circle cx="84.3" cy="499" r="0.7"/><circle cx="89.8" cy="550.1" r="0.8"/><circle cx="53.4" cy="513.7" r="0.6"/><circle cx="119" cy="580.4" r="0.5"/><circle cx="88.4" cy="537.9" r="0.5"/><circle cx="82.7" cy="500.1" r="0.8"/><circle cx="130.1" cy="543.5" r="0.5"/><circle cx="48.9" cy="537.8" r="0.6"/><circle cx="72.8" cy="533.2" r="0.8"/><circle cx="84" cy="503.3" r="0.8"/><circle cx="79.1" cy="514.7" r="0.9"/><circle cx="98.5" cy="508.9" r="0.7"/><circle cx="118.7" cy="569.5" r="0.6"/><circle cx="144.3" cy="556.6" r="0.6"/><circle cx="78" cy="512.9" r="0.6"/><circle cx="141.1" cy="553.4" r="0.9"/><circle cx="114.8" cy="580" r="0.5"/><circle cx="139" cy="541.6" r="0.8"/><circle cx="60.9" cy="523.3" r="0.9"/><circle cx="105.8" cy="544" r="0.7"/><circle cx="113.9" cy="552.2" r="0.6"/><circle cx="90.8" cy="504" r="0.8"/><circle cx="112.5" cy="541.2" r="0.6"/><circle cx="101.3" cy="505.1" r="0.7"/><circle cx="64.5" cy="530" r="0.9"/><circle cx="116.3" cy="537.6" r="0.5"/><circle cx="51.8" cy="515.6" r="0.8"/><circle cx="102.8" cy="547.9" r="0.9"/><circle cx="109.7" cy="538.5" r="0.9"/><circle cx="128" cy="541.6" r="0.7"/><circle cx="128.5" cy="576.3" r="0.7"/><circle cx="111.6" cy="538.7" r="0.7"/><circle cx="93.5" cy="510.8" r="0.7"/><circle cx="52.2" cy="540.5" r="0.9"/><circle cx="68.4" cy="524.9" r="0.8"/><circle cx="59.9" cy="521.8" r="0.8"/><circle cx="127" cy="570.8" r="0.5"/><circle cx="81.1" cy="506.5" r="0.7"/><circle cx="78.8" cy="505.4" r="0.6"/><circle cx="86.2" cy="495.1" r="0.7"/><circle cx="72.6" cy="534.3" r="0.6"/><circle cx="94.5" cy="524.2" r="0.8"/><circle cx="116.4" cy="537.6" r="0.9"/><circle cx="104.2" cy="554.2" r="0.8"/><circle cx="108.9" cy="536.7" r="0.8"/><circle cx="82.4" cy="518.2" r="0.6"/><circle cx="86" cy="547.3" r="0.6"/><circle cx="143.9" cy="555.4" r="0.7"/><circle cx="144.9" cy="555.2" r="0.6"/><circle cx="111" cy="546.4" r="0.7"/><circle cx="79.8" cy="524.5" r="0.8"/><circle cx="124.3" cy="562.5" r="0.5"/><circle cx="97" cy="548.6" r="0.9"/><circle cx="136.2" cy="568.8" r="0.8"/><circle cx="50.1" cy="527.9" r="0.5"/><circle cx="132.2" cy="578.7" r="0.9"/><circle cx="83.2" cy="524" r="0.5"/><circle cx="117.1" cy="571.8" r="0.5"/><circle cx="134.9" cy="551.1" r="0.6"/><circle cx="125.2" cy="538.7" r="0.7"/><circle cx="132.7" cy="573.8" r="0.7"/><circle cx="144.5" cy="564.3" r="0.8"/><circle cx="128" cy="565.8" r="0.7"/><circle cx="117.8" cy="567.6" r="0.7"/><circle cx="136.5" cy="548.3" r="0.5"/><circle cx="127.4" cy="580.2" r="0.6"/><circle cx="74.8" cy="534.8" r="0.6"/><circle cx="127.9" cy="569.4" r="0.5"/><circle cx="135" cy="552.3" r="0.9"/><circle cx="60.8" cy="534.1" r="0.7"/><circle cx="130" cy="551.5" r="0.9"/><circle cx="43" cy="530.1" r="0.6"/><circle cx="70.7" cy="537.1" r="0.7"/><circle cx="98.9" cy="564.7" r="0.8"/><circle cx="46.1" cy="529.4" r="0.7"/><circle cx="83.1" cy="511.3" r="0.5"/><circle cx="89.4" cy="523.7" r="0.7"/><circle cx="73.1" cy="529.3" r="0.6"/><circle cx="104.4" cy="559.6" r="0.6"/><circle cx="93.1" cy="532.3" r="0.7"/><circle cx="97.6" cy="523.6" r="0.5"/><circle cx="93.9" cy="555.9" r="0.7"/><circle cx="128.7" cy="549.2" r="0.6"/><circle cx="137.6" cy="545.8" r="0.5"/><circle cx="97.8" cy="565.2" r="0.6"/><circle cx="78.9" cy="506.4" r="0.6"/><circle cx="99.7" cy="522" r="0.5"/><circle cx="141.6" cy="553.5" r="0.9"/><circle cx="125.9" cy="563.8" r="0.8"/><circle cx="68.7" cy="526.4" r="0.5"/><circle cx="107" cy="539.6" r="0.6"/><circle cx="146" cy="562.9" r="0.6"/><circle cx="52.4" cy="526.1" r="0.5"/><circle cx="119.7" cy="572.3" r="0.8"/><circle cx="91.4" cy="517.7" r="0.8"/><circle cx="101.8" cy="510.6" r="0.5"/><circle cx="98.5" cy="497.1" r="0.7"/><circle cx="58.1" cy="529.9" r="0.6"/><circle cx="130.8" cy="548.3" r="0.8"/><circle cx="59.3" cy="527.9" r="0.5"/><circle cx="126.3" cy="566.9" r="0.7"/><circle cx="78.9" cy="533.6" r="0.6"/><circle cx="97.4" cy="524.4" r="0.7"/><circle cx="82.2" cy="510.1" r="0.7"/><circle cx="144.5" cy="544.5" r="0.5"/><circle cx="115.6" cy="550.3" r="0.7"/><circle cx="83.6" cy="521.3" r="0.7"/><circle cx="57" cy="527.5" r="0.5"/><circle cx="91.8" cy="512.7" r="0.8"/><circle cx="91.2" cy="527.8" r="0.9"/><circle cx="131.6" cy="561.8" r="0.6"/><circle cx="48.9" cy="528.5" r="0.8"/><circle cx="88.6" cy="486.4" r="0.6"/><circle cx="77" cy="537.1" r="0.5"/><circle cx="109.8" cy="579.7" r="0.8"/><circle cx="57.6" cy="521.2" r="0.7"/><circle cx="67.9" cy="541.1" r="0.6"/><circle cx="123.5" cy="538.3" r="0.8"/><circle cx="111.9" cy="579" r="0.8"/><circle cx="133" cy="568.9" r="0.8"/><circle cx="84" cy="488.9" r="0.5"/><circle cx="132.7" cy="567.5" r="0.9"/><circle cx="118.8" cy="570.3" r="0.7"/><circle cx="92.2" cy="495.7" r="0.6"/><circle cx="128.4" cy="541.2" r="0.7"/><circle cx="104.9" cy="534" r="0.5"/><circle cx="99.6" cy="543.3" r="0.8"/><circle cx="73.4" cy="535.1" r="0.5"/><circle cx="91.6" cy="557.7" r="0.6"/><circle cx="91.9" cy="545.1" r="0.6"/><circle cx="99.2" cy="512.6" r="0.7"/><circle cx="79.7" cy="527.4" r="0.8"/><circle cx="69.2" cy="524.8" r="0.6"/><circle cx="128.6" cy="581.4" r="0.7"/><circle cx="105.7" cy="553.7" r="0.9"/><circle cx="79" cy="518.4" r="0.7"/><circle cx="112.5" cy="573" r="0.6"/><circle cx="92.7" cy="527.2" r="0.6"/><circle cx="87.8" cy="545.6" r="0.5"/><circle cx="60.5" cy="537.9" r="0.8"/><circle cx="133" cy="572.3" r="0.6"/><circle cx="82.8" cy="504" r="0.7"/><circle cx="91.1" cy="486.2" r="0.6"/><circle cx="125.6" cy="550.5" r="0.9"/><circle cx="145.7" cy="576.4" r="0.9"/><circle cx="96.2" cy="527.4" r="0.8"/><circle cx="132.2" cy="581.8" r="0.6"/><circle cx="117.7" cy="549.9" r="0.7"/><circle cx="58.2" cy="538" r="0.5"/><circle cx="93.8" cy="561.3" r="0.9"/><circle cx="52.7" cy="518.4" r="0.5"/><circle cx="144.2" cy="550.8" r="0.6"/><circle cx="50.5" cy="516.2" r="0.8"/><circle cx="108.8" cy="555" r="0.7"/><circle cx="117.7" cy="562.5" r="0.7"/><circle cx="112.1" cy="547.7" r="0.8"/><circle cx="122.8" cy="578.7" r="0.8"/><circle cx="118.8" cy="573.8" r="0.6"/><circle cx="120.7" cy="571" r="0.6"/><circle cx="116" cy="574.9" r="0.6"/><circle cx="84.8" cy="506.5" r="0.6"/><circle cx="145.3" cy="572.2" r="0.8"/><circle cx="85" cy="518.7" r="0.9"/><circle cx="93.1" cy="510.4" r="0.8"/><circle cx="145.2" cy="548.1" r="0.5"/><circle cx="119.1" cy="564.2" r="0.6"/><circle cx="95.6" cy="486.8" r="0.5"/><circle cx="98.1" cy="536.5" r="0.6"/><circle cx="133.7" cy="567.8" r="0.6"/><circle cx="85.9" cy="488.6" r="0.5"/><circle cx="116.7" cy="559.8" r="0.7"/><circle cx="80.1" cy="503" r="0.7"/><circle cx="60.6" cy="520" r="0.9"/><circle cx="94.8" cy="508.3" r="0.9"/><circle cx="65.9" cy="523.3" r="0.8"/><circle cx="48.5" cy="520.7" r="0.7"/><circle cx="100.7" cy="539" r="0.8"/><circle cx="95.4" cy="556.8" r="0.5"/><circle cx="53" cy="526.8" r="0.8"/><circle cx="95.4" cy="521.5" r="0.7"/><circle cx="63.1" cy="532.2" r="0.8"/><circle cx="98.6" cy="486.8" r="0.6"/><circle cx="78.7" cy="517.1" r="0.8"/><circle cx="128.6" cy="559.6" r="0.6"/><circle cx="125.6" cy="581.9" r="0.6"/><circle cx="97.4" cy="514.5" r="0.9"/><circle cx="78.9" cy="513" r="0.6"/><circle cx="114.9" cy="557.7" r="0.5"/><circle cx="128.9" cy="580.9" r="0.8"/><circle cx="125.1" cy="553.5" r="0.6"/><circle cx="144.3" cy="547.3" r="0.8"/><circle cx="48.1" cy="533.8" r="0.7"/><circle cx="132.5" cy="577.1" r="0.6"/><circle cx="109.5" cy="543.8" r="0.8"/><circle cx="109.8" cy="576.1" r="0.7"/><circle cx="50.2" cy="531.4" r="0.8"/><circle cx="93.3" cy="488.1" r="0.7"/><circle cx="68.2" cy="536.5" r="0.6"/><circle cx="55.7" cy="531" r="0.5"/><circle cx="139.4" cy="545.3" r="0.6"/><circle cx="101.8" cy="498.9" r="0.7"/><circle cx="79.2" cy="517.6" r="0.6"/><circle cx="86.7" cy="518.3" r="0.9"/><circle cx="63.9" cy="530.6" r="0.6"/><circle cx="140.3" cy="567.2" r="0.7"/><circle cx="130.2" cy="575.7" r="0.7"/><circle cx="107.5" cy="539.3" r="0.7"/><circle cx="98" cy="546.9" r="0.7"/><circle cx="119.2" cy="542.7" r="0.6"/><circle cx="76.4" cy="521.4" r="0.7"/><circle cx="128.4" cy="568.7" r="0.7"/><circle cx="110.7" cy="573.6" r="0.7"/><circle cx="110.8" cy="546.2" r="0.5"/><circle cx="83.7" cy="540.6" r="0.8"/><circle cx="117.7" cy="570.3" r="0.7"/><circle cx="98.7" cy="497.8" r="0.7"/><circle cx="65.9" cy="537" r="0.7"/><circle cx="109.2" cy="547.2" r="0.8"/><circle cx="106.6" cy="542.4" r="0.7"/><circle cx="88.4" cy="544.4" r="0.5"/><circle cx="131.4" cy="538.7" r="0.6"/><circle cx="93.1" cy="515.8" r="0.8"/><circle cx="124.1" cy="547" r="0.5"/><circle cx="99.9" cy="491" r="0.6"/><circle cx="63.3" cy="541.7" r="0.9"/><circle cx="110.4" cy="569.4" r="0.8"/><circle cx="98.3" cy="528.2" r="0.6"/><circle cx="99.1" cy="538.4" r="0.8"/><circle cx="121.9" cy="539.7" r="0.8"/><circle cx="90.4" cy="516.8" r="0.6"/><circle cx="85.8" cy="535.5" r="0.7"/><circle cx="105.2" cy="544.5" r="0.9"/><circle cx="87.6" cy="517.1" r="0.7"/><circle cx="99.2" cy="554.4" r="0.6"/><circle cx="87.9" cy="530.7" r="0.8"/><circle cx="101.6" cy="520.8" r="0.6"/><circle cx="114.5" cy="546.2" r="0.7"/><circle cx="116.2" cy="557.3" r="0.8"/><circle cx="104.1" cy="547.3" r="0.7"/></g><g fill="#dcd5cf"><polygon points="68.8,485.9 68.8,486.9 68.8,488.4 68.7,490.1 68.7,491.9 68.6,493.5 68.6,494.8 68.4,495.9 68.2,496.8 68,497.7 67.7,498.5 67.5,499.1 67.3,499.7 70.3,500.3 70.3,499.8 70.5,499.2 70.6,498.3 70.8,497.3 71,496.2 71,495 71.1,493.6 71,491.9 71,490.1 70.9,488.4 70.9,486.9 70.8,485.9"/><polygon points="37.1,501.1 38.5,501.6 40.6,502.1 42.9,502.8 45.5,503.5 48,504 50.3,504.4 52.3,504.4 54.2,504.3 55.9,504 57.6,503.7 59.1,503.4 60.7,503.1 62.2,502.9 63.9,502.6 65.5,502.2 67,501.9 68.2,501.7 69.1,501.5 68.5,498.5 67.6,498.6 66.4,498.8 64.9,499 63.4,499.3 61.7,499.5 60.1,499.7 58.6,499.9 57,500.1 55.4,500.3 53.8,500.4 52.2,500.5 50.5,500.4 48.5,500.3 46.1,500 43.6,499.6 41.2,499.2 39.1,498.9 37.7,498.7"/><polygon points="66.9,500.5 66.3,500.7 65.5,501 64.5,501.4 63.3,502 62,502.7 60.6,503.7 59.1,505.1 57.4,506.9 55.7,508.9 54,510.8 52.6,512.4 51.6,513.6 52.4,514.4 53.6,513.4 55.2,511.9 57,510.2 58.9,508.4 60.7,506.8 62.2,505.7 63.3,504.9 64.4,504.4 65.5,504 66.4,503.7 67.3,503.5 67.9,503.3"/><polygon points="119.7,486.3 120.7,487.9 121.9,490.3 123.4,493.2 125,496.1 126.7,498.9 128.2,501.3 129.6,503.3 131.1,505 132.6,506.6 134,508.1 135.4,509.5 136.8,510.8 138.1,512.1 139.3,513.2 140.5,514.2 141.7,515.2 143,516.2 144.3,517.3 145.9,518.7 147.7,520.3 149.5,521.9 151.2,523.5 152.7,524.8 153.8,525.7 154.4,524.9 153.4,524 151.9,522.7 150.2,521.1 148.4,519.5 146.6,517.9 145.1,516.5 143.8,515.3 142.5,514.2 141.4,513.2 140.2,512.1 139.1,511 137.8,509.8 136.5,508.4 135.1,507.1 133.7,505.6 132.2,504.1 130.8,502.4 129.4,500.5 127.9,498.2 126.3,495.4 124.7,492.5 123.2,489.6 122,487.2 121.1,485.5"/><polygon points="134.3,487.2 135.3,488.1 136.6,489.3 138.3,490.7 140,492.3 141.8,493.7 143.5,495.1 145.1,496.2 146.7,497.4 148.4,498.5 150,499.6 151.6,500.6 153.2,501.5 155,502.4 156.7,503.1 158.5,503.8 160.1,504.4 161.4,504.9 162.3,505.2 163.5,502.4 162.5,502 161.2,501.4 159.7,500.8 158.1,500.1 156.5,499.3 155,498.5 153.5,497.6 152,496.6 150.5,495.5 149,494.3 147.4,493.1 145.9,491.9 144.3,490.7 142.5,489.3 140.7,487.9 139,486.5 137.6,485.4 136.5,484.6"/><polygon points="149.6,486.9 150.5,487.5 151.6,488.5 153,489.6 154.5,490.7 155.9,491.8 157.1,492.6 158.2,493.3 159.3,493.9 160.3,494.4 161.2,494.8 161.9,495.1 162.4,495.3 163.4,493.5 162.8,493.2 162.1,492.8 161.3,492.4 160.4,491.8 159.5,491.2 158.5,490.6 157.4,489.7 156,488.7 154.6,487.6 153.2,486.5 152,485.6 151.2,484.9"/><polygon points="144.4,512.6 145.4,513.3 146.9,514.4 148.6,515.6 150.4,516.8 152.2,518.1 153.8,519.1 155.5,520.1 157.2,521 158.9,521.9 160.4,522.7 161.7,523.4 162.7,523.8 163.1,523 162.2,522.5 160.9,521.8 159.3,521 157.6,520.1 155.9,519.2 154.4,518.3 152.7,517.2 150.9,516 149.1,514.7 147.4,513.5 146,512.5 145,511.8"/><polygon points="43.6,547.1 45,547.2 47,547.2 49.3,547.2 51.8,547.2 54.2,547.2 56.5,547.1 58.7,546.8 61.1,546.5 63.5,546.1 65.7,545.8 67.5,545.4 68.9,545.1 68.7,543.7 67.4,543.6 65.5,543.6 63.3,543.6 60.9,543.7 58.5,543.7 56.3,543.7 54.1,543.9 51.6,544 49.2,544.2 46.9,544.4 45,544.5 43.6,544.7"/><polygon points="42.7,553.4 43.8,553.4 45.3,553.4 47,553.3 48.9,553.3 50.8,553.2 52.5,553.1 54.2,552.9 55.9,552.6 57.6,552.2 59.2,551.9 60.5,551.6 61.5,551.4 61.3,550.4 60.4,550.4 59,550.4 57.4,550.5 55.7,550.6 53.9,550.6 52.3,550.7 50.6,550.8 48.8,551 46.9,551.1 45.2,551.2 43.7,551.3 42.7,551.4"/><polygon points="44.1,562.2 44.4,562.9 44.8,563.8 45.2,564.9 45.7,566.1 46.1,567 46.4,567.7 47.4,567.3 47.2,566.6 46.9,565.6 46.6,564.5 46.2,563.3 45.9,562.3 45.7,561.6"/></g></g><clipPath id="hc4"><rect x="164.8" y="486.9" width="123.3" height="92.7"/></clipPath><g clip-path="url(#hc4)"><rect x="164.8" y="486.9" width="123.3" height="92.7" fill="#da5d85"/><rect x="164.8" y="486.9" width="123.3" height="92.7" filter="url(#histNoise)" opacity="0.22"/><polygon points="220.8,522.9 222.4,522 224.7,521 226.8,520.9 228.8,522.5 230.7,525.2 231.8,527.9 231.8,530.9 231,533.9 229.8,535.9 228,536.3 225.7,535.6 223.8,533.9 222.5,530.5 221.5,526.1 220.8,522.9" fill="#dc9cc0" opacity="0.7"/><polygon points="259.8,550.9 261.8,550.1 264.5,549 266.8,548.9 268.4,550.4 269.6,552.8 269.8,554.9 268.4,556.6 266,558.2 263.8,558.9 262.2,558.5 260.8,557.3 259.8,555.9 259.5,554.2 259.7,552.3 259.8,550.9" fill="#dc9cc0" opacity="0.7"/><g fill="#d9668e" opacity="0.85"><ellipse cx="228" cy="535" rx="2.9" ry="2.3" transform="rotate(132 228 535)"/><ellipse cx="228" cy="525.4" rx="4.4" ry="2.7" transform="rotate(139 228 525.4)"/><ellipse cx="261" cy="551.1" rx="5.2" ry="2.6" transform="rotate(46 261 551.1)"/><ellipse cx="267.8" cy="555.2" rx="2.5" ry="3.2" transform="rotate(119 267.8 555.2)"/></g><g fill="#6a4b9e" opacity="0.7"><circle cx="185.1" cy="547.3" r="0.5"/><circle cx="206.4" cy="494.6" r="0.5"/><circle cx="285.4" cy="524.3" r="0.9"/><circle cx="218.9" cy="543.2" r="0.8"/><circle cx="249.5" cy="497.2" r="0.7"/><circle cx="242.9" cy="503.7" r="0.5"/><circle cx="272.7" cy="534.5" r="0.5"/><circle cx="220.6" cy="507.1" r="0.8"/><circle cx="226.5" cy="496.4" r="0.8"/><circle cx="175.8" cy="512.9" r="0.5"/><circle cx="256.1" cy="497.5" r="0.7"/><circle cx="176.3" cy="531.4" r="0.8"/><circle cx="230.7" cy="529.1" r="0.7"/><circle cx="218.7" cy="542.1" r="0.5"/><circle cx="223.3" cy="508.8" r="0.8"/><circle cx="280.6" cy="493.1" r="0.5"/><circle cx="251.5" cy="539.9" r="0.5"/><circle cx="251.7" cy="574.4" r="0.6"/><circle cx="207.6" cy="539.7" r="0.9"/><circle cx="197.3" cy="514.9" r="0.5"/><circle cx="242.3" cy="530.4" r="0.6"/><circle cx="212.6" cy="490.1" r="0.6"/><circle cx="286" cy="541.2" r="0.6"/><circle cx="280.2" cy="520.1" r="0.6"/><circle cx="169.1" cy="500.5" r="0.5"/><circle cx="193.2" cy="567.8" r="0.6"/><circle cx="195.5" cy="542.9" r="0.9"/><circle cx="200.7" cy="557.5" r="0.6"/><circle cx="234" cy="542.1" r="0.9"/><circle cx="258.2" cy="534" r="0.8"/><circle cx="210" cy="522.5" r="0.9"/><circle cx="232.1" cy="558.6" r="0.6"/><circle cx="277.7" cy="543.7" r="0.6"/><circle cx="279.9" cy="530.4" r="0.6"/><circle cx="197.2" cy="496.5" r="0.5"/><circle cx="250.2" cy="499.9" r="0.6"/><circle cx="220" cy="537.4" r="0.6"/><circle cx="261.6" cy="510.7" r="0.6"/><circle cx="217.2" cy="498.8" r="0.6"/><circle cx="182.9" cy="554.1" r="0.5"/><circle cx="247.2" cy="507.5" r="0.7"/><circle cx="245.8" cy="519.7" r="0.9"/><circle cx="245.8" cy="538.6" r="0.5"/><circle cx="214.9" cy="511.6" r="0.7"/><circle cx="279.9" cy="567" r="0.5"/><circle cx="248.7" cy="573.5" r="0.7"/><circle cx="176.7" cy="567.3" r="0.6"/><circle cx="285.7" cy="568" r="0.8"/><circle cx="279.6" cy="493.2" r="0.8"/><circle cx="202.4" cy="499.4" r="0.6"/><circle cx="237.4" cy="487.4" r="0.7"/><circle cx="261.5" cy="532.8" r="0.7"/><circle cx="201.3" cy="577" r="0.6"/><circle cx="248.8" cy="546.8" r="0.5"/><circle cx="287.7" cy="508.7" r="0.9"/><circle cx="279.3" cy="570.4" r="0.8"/><circle cx="213.8" cy="528.2" r="0.6"/><circle cx="280.2" cy="489.6" r="0.5"/><circle cx="282.7" cy="561.7" r="0.8"/><circle cx="284.1" cy="535.4" r="0.8"/><circle cx="219.4" cy="570.4" r="0.5"/><circle cx="218.8" cy="540.4" r="0.8"/><circle cx="216.9" cy="550" r="0.9"/><circle cx="216.4" cy="505.4" r="0.5"/><circle cx="271.1" cy="531" r="0.6"/><circle cx="228.9" cy="498.1" r="0.5"/><circle cx="193.9" cy="510.5" r="0.8"/><circle cx="195.2" cy="495.3" r="0.8"/><circle cx="233.6" cy="489.5" r="0.8"/><circle cx="249.4" cy="547.1" r="0.8"/><circle cx="217.1" cy="507.7" r="0.8"/><circle cx="241.9" cy="552.1" r="0.5"/><circle cx="210.8" cy="551" r="0.6"/><circle cx="239.1" cy="530.7" r="0.8"/><circle cx="207.8" cy="533.1" r="0.8"/><circle cx="203.1" cy="503.2" r="0.7"/><circle cx="181.2" cy="566.3" r="0.6"/><circle cx="276.3" cy="536.4" r="0.5"/><circle cx="229" cy="550.2" r="0.7"/><circle cx="243.1" cy="521.1" r="0.9"/><circle cx="186.3" cy="560.9" r="0.5"/><circle cx="227.3" cy="493.1" r="0.5"/><circle cx="237.4" cy="570.7" r="0.6"/><circle cx="214.5" cy="531" r="0.7"/><circle cx="208" cy="519.5" r="0.8"/><circle cx="233.3" cy="519.6" r="0.8"/><circle cx="288" cy="527" r="0.5"/><circle cx="202.4" cy="570.2" r="0.5"/><circle cx="189.3" cy="560.3" r="0.5"/><circle cx="269.5" cy="507.9" r="0.6"/><circle cx="238.1" cy="497.3" r="0.8"/><circle cx="218.9" cy="558.3" r="0.8"/><circle cx="174.3" cy="563.1" r="0.8"/><circle cx="194.6" cy="541.7" r="0.5"/><circle cx="231.2" cy="556.6" r="0.6"/><circle cx="230.5" cy="499.1" r="0.8"/><circle cx="242" cy="563.9" r="0.5"/><circle cx="256.7" cy="495.3" r="0.7"/><circle cx="193.3" cy="570.5" r="0.5"/><circle cx="223.1" cy="530.5" r="0.6"/><circle cx="172.8" cy="548.6" r="0.9"/><circle cx="209.3" cy="570.2" r="0.6"/><circle cx="198.5" cy="529.1" r="0.9"/><circle cx="260.9" cy="545.5" r="0.5"/><circle cx="220.5" cy="488.3" r="0.5"/><circle cx="211.2" cy="509.5" r="0.5"/><circle cx="227.9" cy="559.4" r="0.9"/><circle cx="277.7" cy="526.4" r="0.5"/><circle cx="283.6" cy="526.1" r="0.6"/><circle cx="266.4" cy="538.6" r="0.9"/><circle cx="251.3" cy="574.6" r="0.5"/><circle cx="281.1" cy="537.1" r="0.8"/><circle cx="201.9" cy="509.5" r="0.6"/><circle cx="185.8" cy="576" r="0.5"/><circle cx="194.7" cy="545.6" r="0.5"/><circle cx="191.1" cy="510.4" r="0.6"/><circle cx="166.1" cy="555.5" r="0.7"/><circle cx="203" cy="570.3" r="0.7"/><circle cx="191.9" cy="576.4" r="0.6"/><circle cx="264.6" cy="562.6" r="0.5"/><circle cx="269.2" cy="525.9" r="0.7"/><circle cx="281.4" cy="528.8" r="0.6"/><circle cx="170.9" cy="569" r="0.7"/><circle cx="252.5" cy="546.3" r="0.9"/><circle cx="280.2" cy="573.6" r="0.7"/><circle cx="277" cy="515.3" r="0.5"/><circle cx="243.6" cy="489.5" r="0.9"/><circle cx="204.9" cy="526.2" r="0.6"/><circle cx="204.6" cy="536.7" r="0.8"/><circle cx="166.6" cy="518.7" r="0.6"/><circle cx="283" cy="527.6" r="0.6"/><circle cx="280.4" cy="522.8" r="0.6"/><circle cx="214" cy="508.8" r="0.8"/><circle cx="200.2" cy="534.1" r="0.7"/><circle cx="259.3" cy="555.5" r="0.7"/><circle cx="281.9" cy="574.6" r="0.9"/><circle cx="252.9" cy="529" r="0.6"/><circle cx="270.9" cy="530.8" r="0.8"/><circle cx="212.6" cy="520.8" r="0.5"/><circle cx="254.8" cy="513.8" r="0.7"/><circle cx="254.3" cy="564" r="0.9"/><circle cx="246.6" cy="508.5" r="0.9"/><circle cx="171.5" cy="525.1" r="0.9"/><circle cx="269" cy="542" r="0.8"/><circle cx="186.6" cy="490.5" r="0.6"/><circle cx="279.5" cy="490.6" r="0.6"/><circle cx="227.4" cy="506" r="0.8"/><circle cx="178" cy="494.8" r="0.9"/><circle cx="166.3" cy="507.5" r="0.6"/><circle cx="273.3" cy="518" r="0.7"/><circle cx="264" cy="544.2" r="0.8"/><circle cx="166.8" cy="537.1" r="0.5"/><circle cx="269.9" cy="489.3" r="0.5"/><circle cx="217.7" cy="544.5" r="0.5"/><circle cx="243.7" cy="496.4" r="0.6"/><circle cx="170" cy="554.3" r="0.8"/><circle cx="259.7" cy="516.8" r="0.6"/><circle cx="283.5" cy="562.6" r="0.9"/><circle cx="216" cy="568.5" r="0.8"/><circle cx="261.7" cy="534.4" r="0.8"/><circle cx="226.3" cy="512.2" r="0.7"/><circle cx="169.9" cy="549.3" r="0.6"/><circle cx="187.1" cy="560.4" r="0.7"/><circle cx="203.8" cy="572.5" r="0.9"/><circle cx="217.2" cy="537.6" r="0.5"/><circle cx="208.8" cy="578.4" r="0.7"/><circle cx="287.3" cy="489.6" r="0.5"/><circle cx="172.4" cy="493.9" r="0.8"/><circle cx="286.6" cy="557.5" r="0.7"/><circle cx="211.8" cy="522.3" r="0.5"/><circle cx="213.8" cy="498.2" r="0.8"/><circle cx="231.2" cy="521.9" r="0.8"/><circle cx="201.8" cy="567.8" r="0.8"/><circle cx="242.2" cy="542" r="0.7"/><circle cx="276.1" cy="579.2" r="0.7"/><circle cx="283.2" cy="509.6" r="0.9"/><circle cx="273.7" cy="545.9" r="0.5"/><circle cx="274.3" cy="522" r="0.6"/><circle cx="282.1" cy="495" r="0.7"/><circle cx="192.7" cy="567.5" r="0.5"/><circle cx="177.9" cy="532" r="0.7"/><circle cx="257.5" cy="512.9" r="0.6"/><circle cx="201" cy="537.9" r="0.5"/><circle cx="234" cy="563" r="0.8"/><circle cx="196.4" cy="531.4" r="0.5"/><circle cx="222.9" cy="557.4" r="0.5"/><circle cx="244.6" cy="572.3" r="0.6"/><circle cx="204.1" cy="550" r="0.5"/><circle cx="198" cy="544.1" r="0.7"/><circle cx="185.5" cy="505.3" r="0.7"/><circle cx="271.8" cy="505.5" r="0.8"/><circle cx="230.3" cy="512.7" r="0.6"/><circle cx="266.1" cy="496.4" r="0.7"/><circle cx="223.8" cy="497.1" r="0.6"/><circle cx="185.8" cy="524.3" r="0.5"/><circle cx="234.7" cy="561.5" r="0.8"/><circle cx="279.8" cy="510.2" r="0.8"/><circle cx="209" cy="553.2" r="0.7"/><circle cx="256.4" cy="524" r="0.9"/><circle cx="222.3" cy="561" r="0.5"/><circle cx="254.5" cy="506.4" r="0.6"/><circle cx="211.6" cy="548.6" r="0.7"/><circle cx="198.7" cy="573.4" r="0.5"/><circle cx="223.6" cy="499" r="0.5"/><circle cx="191.8" cy="574.5" r="0.5"/><circle cx="253.5" cy="540.5" r="0.8"/><circle cx="269.6" cy="498.3" r="0.9"/><circle cx="182.3" cy="498" r="0.6"/><circle cx="250.9" cy="540.2" r="0.8"/><circle cx="191.4" cy="530.9" r="0.6"/><circle cx="283.4" cy="539.6" r="0.8"/><circle cx="220.1" cy="497.6" r="0.5"/><circle cx="192.6" cy="555.2" r="0.5"/><circle cx="224" cy="518.5" r="0.5"/><circle cx="210.4" cy="532.4" r="0.9"/><circle cx="260.9" cy="527.2" r="0.6"/><circle cx="194.2" cy="519.5" r="0.7"/><circle cx="284.5" cy="493.8" r="0.5"/><circle cx="213.7" cy="539.3" r="0.5"/><circle cx="167.4" cy="538.2" r="0.5"/><circle cx="266.3" cy="549.1" r="0.7"/><circle cx="287.8" cy="531.7" r="0.9"/><circle cx="191.8" cy="494.1" r="0.6"/><circle cx="230.2" cy="548.6" r="0.5"/><circle cx="252.2" cy="514" r="0.9"/><circle cx="263.1" cy="558.6" r="0.5"/><circle cx="172.1" cy="489.9" r="0.6"/><circle cx="169" cy="500.2" r="0.5"/><circle cx="287.4" cy="530.1" r="0.6"/><circle cx="183.3" cy="512.8" r="0.5"/><circle cx="263" cy="572.5" r="0.8"/><circle cx="174.1" cy="543.1" r="0.8"/><circle cx="213.5" cy="559.2" r="0.5"/><circle cx="228.7" cy="555.8" r="0.6"/><circle cx="177.2" cy="576.9" r="0.8"/><circle cx="199.8" cy="554.5" r="0.5"/><circle cx="240.7" cy="552.9" r="0.7"/><circle cx="218.9" cy="563.4" r="0.6"/><circle cx="173.5" cy="501.1" r="0.5"/><circle cx="260.9" cy="492.8" r="0.9"/><circle cx="235.9" cy="493.4" r="0.9"/><circle cx="286.9" cy="508.6" r="0.7"/><circle cx="193.4" cy="499.4" r="0.5"/><circle cx="274" cy="507.5" r="0.5"/><circle cx="186.5" cy="513.3" r="0.9"/><circle cx="190.6" cy="503.9" r="0.5"/><circle cx="252" cy="496.6" r="0.8"/><circle cx="280.8" cy="512.6" r="0.7"/><circle cx="263.8" cy="532.1" r="0.6"/><circle cx="277.7" cy="579.5" r="0.6"/><circle cx="268.8" cy="490.4" r="0.8"/><circle cx="207.3" cy="578.4" r="0.5"/><circle cx="190.6" cy="524.4" r="0.7"/><circle cx="260.3" cy="499.2" r="0.5"/><circle cx="194.6" cy="496.2" r="0.9"/><circle cx="228.3" cy="505.6" r="0.6"/><circle cx="197.4" cy="528.8" r="0.6"/><circle cx="242" cy="506.9" r="0.8"/><circle cx="277.5" cy="556.8" r="0.5"/><circle cx="224.1" cy="562.9" r="0.5"/><circle cx="280.6" cy="497.1" r="0.5"/><circle cx="165.8" cy="566.6" r="0.5"/><circle cx="222.8" cy="541.6" r="0.7"/><circle cx="287.4" cy="542.3" r="0.5"/><circle cx="213.6" cy="501.6" r="0.9"/><circle cx="192.9" cy="548.4" r="0.6"/><circle cx="218.7" cy="536.7" r="0.6"/><circle cx="244.4" cy="542.5" r="0.8"/><circle cx="265.4" cy="496" r="0.8"/><circle cx="204.4" cy="577.1" r="0.7"/><circle cx="189" cy="535.1" r="0.7"/><circle cx="227.7" cy="522.6" r="0.7"/><circle cx="231.4" cy="560.7" r="0.6"/><circle cx="221" cy="487.8" r="0.8"/><circle cx="172" cy="567.9" r="0.7"/><circle cx="235.2" cy="522.9" r="0.7"/><circle cx="177.1" cy="501.4" r="0.7"/><circle cx="201.7" cy="533.6" r="0.7"/><circle cx="285.5" cy="547.1" r="0.5"/><circle cx="246.5" cy="516.4" r="0.5"/><circle cx="209.7" cy="569.9" r="0.8"/><circle cx="221.3" cy="566.7" r="0.7"/><circle cx="183.1" cy="552.5" r="0.8"/><circle cx="248.6" cy="514.2" r="0.7"/><circle cx="180.9" cy="509.7" r="0.5"/><circle cx="283.8" cy="553.7" r="0.7"/><circle cx="249.1" cy="551.4" r="0.7"/><circle cx="195.9" cy="532.6" r="0.7"/><circle cx="211.6" cy="507.7" r="0.7"/><circle cx="244.9" cy="508.3" r="0.5"/><circle cx="257.9" cy="578.2" r="0.8"/><circle cx="266.1" cy="554.1" r="0.6"/><circle cx="236.4" cy="529.6" r="0.9"/><circle cx="178.5" cy="579.1" r="0.5"/><circle cx="202.5" cy="539.9" r="0.9"/><circle cx="273.2" cy="557.4" r="0.7"/><circle cx="257.7" cy="515.3" r="0.5"/><circle cx="237.4" cy="507" r="0.7"/><circle cx="259.5" cy="577.6" r="0.5"/><circle cx="278.5" cy="508.5" r="0.7"/><circle cx="263.6" cy="549.9" r="0.6"/><circle cx="274.9" cy="502.7" r="0.8"/><circle cx="286.5" cy="565" r="0.5"/><circle cx="212.7" cy="496" r="0.6"/><circle cx="214" cy="501.6" r="0.7"/><circle cx="267.6" cy="548.3" r="0.6"/><circle cx="179.6" cy="497.4" r="0.8"/><circle cx="196.7" cy="538.5" r="0.5"/><circle cx="251" cy="494.8" r="0.7"/><circle cx="218.9" cy="534.3" r="0.5"/><circle cx="249.1" cy="575.8" r="0.5"/><circle cx="173.8" cy="512.7" r="0.6"/><circle cx="271.3" cy="490" r="0.5"/><circle cx="230.5" cy="530.2" r="0.5"/><circle cx="249.3" cy="523.6" r="0.9"/><circle cx="191.6" cy="535.5" r="0.5"/><circle cx="177.4" cy="575.4" r="0.8"/><circle cx="256.7" cy="533.5" r="0.8"/><circle cx="192.7" cy="503.9" r="0.5"/><circle cx="197.9" cy="523.8" r="0.7"/><circle cx="198" cy="519.5" r="0.8"/><circle cx="263.3" cy="510.3" r="0.7"/><circle cx="178" cy="545.1" r="0.7"/><circle cx="187" cy="565" r="0.7"/><circle cx="284" cy="511.7" r="0.5"/><circle cx="260.7" cy="556.4" r="0.6"/><circle cx="219.4" cy="503.1" r="0.7"/><circle cx="285.7" cy="511.3" r="0.6"/><circle cx="271.6" cy="578.4" r="0.7"/><circle cx="232.8" cy="533.8" r="0.8"/><circle cx="277.1" cy="571.9" r="0.7"/><circle cx="221.6" cy="566" r="0.8"/><circle cx="287" cy="496.4" r="0.8"/><circle cx="263.4" cy="519.5" r="0.5"/><circle cx="206.3" cy="577" r="0.8"/><circle cx="206.6" cy="565.7" r="0.5"/><circle cx="255.8" cy="538.1" r="0.9"/><circle cx="201.2" cy="519.1" r="0.6"/><circle cx="218.9" cy="529.7" r="0.5"/><circle cx="219.9" cy="491.9" r="0.7"/><circle cx="267.8" cy="516.9" r="0.7"/><circle cx="284.1" cy="564.5" r="0.8"/><circle cx="236" cy="576.5" r="0.7"/><circle cx="241.1" cy="568.8" r="0.6"/><circle cx="217.6" cy="548.1" r="0.8"/><circle cx="251.2" cy="524.6" r="0.6"/><circle cx="259.6" cy="553.7" r="0.7"/><circle cx="196.5" cy="493.5" r="0.7"/><circle cx="276.8" cy="567.3" r="0.8"/><circle cx="217" cy="567.4" r="0.8"/><circle cx="202.6" cy="536.6" r="0.6"/><circle cx="188.7" cy="532.3" r="0.6"/><circle cx="281.6" cy="577.6" r="0.6"/><circle cx="185.3" cy="505.2" r="0.9"/><circle cx="205.4" cy="563.3" r="0.9"/><circle cx="207.3" cy="565.1" r="0.5"/><circle cx="170.2" cy="549.4" r="0.6"/><circle cx="193.3" cy="533.8" r="0.8"/><circle cx="219.3" cy="538" r="0.8"/><circle cx="176.2" cy="534" r="0.5"/><circle cx="189.9" cy="498.4" r="0.5"/><circle cx="278.4" cy="488.6" r="0.7"/><circle cx="174.1" cy="487.9" r="0.9"/><circle cx="226.8" cy="566.4" r="0.7"/><circle cx="235.6" cy="558.1" r="0.5"/><circle cx="190.5" cy="549.9" r="0.9"/><circle cx="188.5" cy="523.6" r="0.8"/><circle cx="235.4" cy="554.8" r="0.5"/><circle cx="194.8" cy="549.5" r="0.8"/><circle cx="246.6" cy="561.5" r="0.8"/><circle cx="164.9" cy="515.1" r="0.5"/><circle cx="180" cy="554.1" r="0.6"/><circle cx="273.5" cy="489.4" r="0.7"/><circle cx="285.1" cy="520.8" r="0.8"/><circle cx="271.9" cy="561.4" r="0.6"/><circle cx="219.8" cy="558.4" r="0.7"/><circle cx="217.3" cy="574.6" r="0.6"/><circle cx="250.6" cy="519.8" r="0.7"/><circle cx="258" cy="569.3" r="0.8"/><circle cx="226.7" cy="540.7" r="0.8"/><circle cx="257.7" cy="572.4" r="0.5"/><circle cx="167.6" cy="575.9" r="0.7"/><circle cx="176.6" cy="514.8" r="0.5"/><circle cx="203.4" cy="500" r="0.8"/><circle cx="183.4" cy="529" r="0.5"/><circle cx="213.5" cy="511" r="0.7"/><circle cx="197.4" cy="507" r="0.6"/><circle cx="281.2" cy="578.7" r="0.5"/><circle cx="256" cy="492.1" r="0.6"/><circle cx="261" cy="554.4" r="0.8"/><circle cx="225.5" cy="528.1" r="0.5"/><circle cx="246.1" cy="546.3" r="0.6"/><circle cx="182.9" cy="510.9" r="0.8"/><circle cx="175.8" cy="542.4" r="0.8"/><circle cx="257.2" cy="521.3" r="0.8"/><circle cx="190.9" cy="512.1" r="0.7"/><circle cx="178.5" cy="534.4" r="0.8"/><circle cx="169.6" cy="491.1" r="0.8"/><circle cx="262.9" cy="576.7" r="0.5"/><circle cx="268.6" cy="539.4" r="0.7"/><circle cx="187" cy="520.6" r="0.5"/><circle cx="167.2" cy="552" r="0.5"/><circle cx="175.6" cy="559.5" r="0.8"/><circle cx="177.3" cy="527.9" r="0.5"/><circle cx="207" cy="529.3" r="0.6"/><circle cx="206.8" cy="529.4" r="0.8"/><circle cx="189.7" cy="502.4" r="0.7"/><circle cx="201" cy="508.7" r="0.5"/><circle cx="265.6" cy="561.5" r="0.5"/><circle cx="245.4" cy="527.8" r="0.5"/><circle cx="174.1" cy="579.6" r="0.5"/><circle cx="228.6" cy="552" r="0.8"/><circle cx="252.1" cy="494" r="0.6"/><circle cx="178.4" cy="553.6" r="0.8"/><circle cx="193.5" cy="541.1" r="0.6"/><circle cx="210.1" cy="504.3" r="0.6"/><circle cx="183.5" cy="488.2" r="0.6"/><circle cx="266.8" cy="545.2" r="0.7"/><circle cx="222.2" cy="502.6" r="0.6"/><circle cx="176.8" cy="543" r="0.5"/></g><g fill="#5a44a0" opacity="0.7"><circle cx="228.8" cy="524.6" r="0.6"/><circle cx="225.8" cy="524.2" r="0.8"/><circle cx="228" cy="527.7" r="0.7"/><circle cx="229.2" cy="530.7" r="0.7"/><circle cx="226.9" cy="527.5" r="0.8"/><circle cx="229.7" cy="532.5" r="0.9"/><circle cx="224.9" cy="528.3" r="0.7"/><circle cx="225.9" cy="531" r="0.7"/><circle cx="223.1" cy="528.2" r="0.8"/><circle cx="225.8" cy="527.8" r="0.6"/><circle cx="225.3" cy="526.7" r="0.6"/><circle cx="227.4" cy="521.9" r="0.6"/><circle cx="225.5" cy="526.6" r="0.8"/><circle cx="229.1" cy="524.6" r="0.8"/><circle cx="223.8" cy="526.3" r="0.5"/><circle cx="226.4" cy="530.5" r="0.6"/><circle cx="263.4" cy="551.4" r="0.8"/><circle cx="263.8" cy="552" r="0.9"/><circle cx="266.2" cy="549.7" r="0.8"/><circle cx="261.6" cy="551.7" r="0.5"/><circle cx="267.6" cy="550.7" r="0.6"/><circle cx="263.4" cy="550.1" r="0.5"/><circle cx="262.3" cy="550.6" r="0.8"/><circle cx="260.1" cy="554" r="0.7"/><circle cx="265.2" cy="552.4" r="0.9"/><circle cx="260.8" cy="551.6" r="0.7"/></g><g fill="#dcd5cf"><polygon points="165,520.2 165.3,520.1 165.5,519.9 165.8,519.7 166.2,519.4 166.9,519 167.9,518.5 169.3,517.8 171,516.9 173,515.9 175.1,514.9 177.3,513.8 179.3,512.8 181.3,511.8 183.5,510.7 185.6,509.5 187.7,508.5 189.4,507.6 190.6,507 190.2,506.2 189,506.8 187.2,507.7 185.2,508.6 183,509.7 180.8,510.8 178.7,511.8 176.7,512.8 174.6,513.8 172.5,514.8 170.5,515.8 168.7,516.7 167.3,517.5 166.3,518.1 165.6,518.5 165.2,518.9 164.9,519.2 164.7,519.4 164.6,519.6"/><polygon points="196.5,537.2 197.3,536.3 198.3,534.8 199.6,533.3 200.9,531.7 202.4,530.6 203.8,530 205.5,530.1 207.6,530.7 210,531.7 212.4,532.7 214.8,533.5 216.9,533.8 218.8,533.5 220.4,532.9 221.9,532 223.1,531 224.1,530.2 224.8,529.7 224.2,528.9 223.4,529.4 222.4,530.1 221.2,530.9 219.8,531.7 218.4,532.2 216.9,532.4 215.2,532.1 213,531.3 210.6,530.3 208.1,529.3 205.8,528.6 203.6,528.6 201.7,529.4 200,530.8 198.6,532.5 197.4,534.2 196.4,535.6 195.7,536.6"/><polygon points="243.5,537.6 244.8,537.7 246.6,537.8 248.7,537.9 251,538 253.1,538 255,537.9 256.6,537.6 258.2,537.1 259.6,536.7 260.9,536.2 261.9,535.8 262.6,535.5 262.4,534.5 261.5,534.7 260.5,534.9 259.2,535.2 257.8,535.5 256.3,535.8 254.8,535.9 253.1,536.1 251,536.1 248.7,536.1 246.6,536.1 244.8,536.1 243.5,536.2"/><polygon points="251.9,568.3 252.7,567.7 253.9,566.8 255.3,565.8 256.7,564.7 258.2,563.7 259.5,562.9 260.7,562 262.1,561.2 263.5,560.4 264.7,559.6 265.8,559 266.6,558.5 266,557.1 265.1,557.4 263.9,557.8 262.5,558.3 261,558.9 259.4,559.6 257.9,560.3 256.5,561.3 255,562.4 253.6,563.6 252.2,564.7 251.1,565.6 250.3,566.3"/><polygon points="197.9,573.7 199.1,574 200.9,574.5 203,574.9 205.2,575.4 207.3,575.8 209.2,576.1 210.8,576.2 212.4,576.1 213.8,576 215.1,575.9 216.1,575.8 216.9,575.6 216.9,574.2 216.1,574.1 215,574.1 213.8,574 212.4,574 210.9,573.8 209.4,573.7 207.7,573.5 205.6,573.3 203.4,573 201.2,572.7 199.4,572.4 198.1,572.3"/><polygon points="216.9,556.4 218.2,556.5 220,556.6 222.1,556.6 224.4,556.7 226.5,556.7 228.4,556.6 230,556.4 231.6,556 233,555.6 234.2,555.1 235.3,554.7 236,554.5 235.8,553.5 235,553.7 233.9,554 232.6,554.3 231.2,554.7 229.7,555 228.2,555.2 226.5,555.3 224.4,555.4 222.1,555.4 220,555.4 218.2,555.4 216.9,555.4"/><polygon points="225.9,486.9 225.9,487.9 226,489.4 226,491 226.1,492.7 226.1,494.2 226.2,495.2 226.7,495.2 226.7,494.2 226.7,492.7 226.8,491 226.8,489.4 226.9,487.9 226.9,486.9"/><polygon points="268.6,571.4 270,571.9 271.8,572.6 274,573.4 276.4,574.3 278.6,575.1 280.5,575.8 282.3,576.3 284,576.7 285.6,577.1 287,577.4 288.2,577.7 289.1,577.9 289.5,575.9 288.6,575.7 287.4,575.5 286,575.2 284.4,574.9 282.7,574.5 281.1,574 279.1,573.5 276.9,572.8 274.5,572.1 272.2,571.4 270.3,570.8 269,570.4"/><polygon points="166.7,497.4 167.6,497.6 169.1,497.9 170.7,498.3 172.3,498.7 173.8,499 174.7,499.2 174.9,498.6 173.9,498.3 172.5,498 170.9,497.5 169.3,497.1 167.9,496.7 166.9,496.4"/></g><path d="M190.6 506.2Q194.9 503.8 197.4 499.6M195.7 555.8Q199.8 558.7 204.9 559.2M232.3 509.6Q235.5 507.6 239.3 508.1M199.1 495.4Q201.7 495.6 203.5 497.6M196.9 542.8Q199.8 543.7 202.4 545.2M165.5 529.8Q169 531.2 172.7 531.8M230 560.9Q231.8 564 235 565.7M183.2 501.6Q185.3 503.5 187 505.8M177.8 539.6Q179.7 539.8 181 541.2M167.8 528.4Q171.3 526.8 174.3 524.3M214.9 529Q218.2 531.9 219.5 536.1M259.2 528.1Q260.7 529.5 262.1 531.1M281.2 556.9Q284.4 561.1 289.1 563.6M244.1 490.6Q247.8 491.1 250.2 493.9M180.4 575.3Q182.4 573.7 182.8 571.2M281.6 505.4Q283.9 508.6 285.9 512M223.6 529Q225.4 530.3 227.6 529.6M212.2 522Q214.2 520.8 215.8 519.2M273.6 500.6Q277.9 503.2 282.2 505.6M269 568.9Q273.5 570.1 277.8 571.6M177.2 526.5Q179.5 525.5 182.1 526.1M215.6 574.3Q215.8 576.6 217.8 578M198.1 521.6Q200.3 525.3 204 527.6M174 534.2Q176.9 530.5 181.4 529.2M214.4 551.2Q217.6 553.8 221.7 553.6M184.8 539.1Q187.1 537.8 188.9 535.9M235.4 528.9Q237.8 526.5 239.8 523.8M241.3 546.5Q244.9 545.2 248.1 543M197.4 568.6Q202.4 566 205.5 561.3M286 488.3Q288 488.6 289.7 487.6M235.5 553.2Q236.4 554.9 238.3 554.6M277.4 546.2Q282.1 543.9 286.8 541.4M274.2 540.8Q276.8 543.5 278.1 547M164.4 498.6Q167.4 498.3 169.1 495.9M178 512.1Q181.4 512.4 184.7 513.1M163.9 501.2Q168.6 499.5 172.9 497M258.6 497.4Q261.4 501.3 263.9 505.4M279.2 532.7Q283 530.2 287.4 529.6M248.6 500.4Q250.3 504.2 253.7 506.7M272.2 548.5Q274.4 549.7 276.9 549.4M263.4 530.7Q265 528.7 266.2 526.3M243.2 569.7Q244.8 565.8 247.5 562.6M197.3 556.4Q200.7 556.3 203.9 555.3M266.1 577.7Q268.9 575.5 272.4 575.3M197.1 542.4Q199.9 542.7 202.6 542M265.8 516.4Q269.7 516.9 273.1 514.8M238.3 505.5Q240.8 504.7 243.3 504.6M231.4 525.5Q233.1 523.8 235.5 523.6M222.7 500.6Q226.3 497.1 231 495.2M267.8 539.7Q270.2 537.6 273.4 537.4M256.7 511.6Q261.5 512.1 266.3 511.9M209.5 547.9Q212.2 550.2 214.6 552.7M232 498.5Q235.8 499.8 238.4 502.8M182 559Q185.1 560.6 185.8 563.9M282.5 487.7Q283.4 491.3 286.3 493.7M185.1 535.8Q190 537.9 195.1 537M177.5 557.6Q182 554.7 184.3 549.9M218 533.6Q221.4 532 225.2 531.6M202.2 499Q204.2 498.7 205.1 500.6M172 542.7Q173.5 541.2 174.7 539.4M260.3 558.1Q263.5 561.7 268 563.4M231.1 545.9Q233 545.5 233.6 543.7M221.6 549.1Q223.4 551.1 226 551.9M183.7 575.6Q185.9 575.8 187 577.7M240.1 515.6Q242.7 519.2 246.9 520.6M188 490.6Q191.3 493 193.5 496.3M198.4 497.4Q201.6 497.5 204.4 498.9M229.1 547.9Q232.2 548.9 235 547.5M239 556.6Q240.1 558.3 242.1 558.1M190.4 534.2Q195.3 536.6 200.8 537.6M235.5 506.9Q239.2 505.5 242.6 503.5M268.3 561.2Q269.9 565.4 273.5 568.1M260 521.9Q263.9 523.5 268 523.7M234.1 503.5Q236.9 502.9 239.3 504.3M259.9 516.4Q262.5 520.8 266 524.4M180.5 511.4Q183.7 507.1 186.2 502.3M200.5 540.3Q203.8 543.6 207.9 545.9M253.5 498.1Q254.6 496.5 255.9 494.9M187.6 539.7Q189.7 540.8 191.6 542.2M264.3 500.4Q268.6 498.2 273.3 498.7M220.5 492.5Q222.2 492.6 223.8 492.9M166.9 540.5Q169.4 541.4 171.2 543.3M224.7 526.2Q226.1 524.7 227.9 523.9M280.9 517Q283.1 517.2 285.2 516.5M256.8 574.6Q258.1 572.6 260.4 571.9M169.1 550.1Q174.4 548.9 179.8 549.8M203.2 502.4Q204.9 501.7 206.7 501.8M219.9 490.9Q221.9 489.1 224.5 489.7M202.3 508.3Q204 511.9 207.5 513.7M188.8 489.3Q192.5 488.6 196.3 489.2M180.2 486.3Q184.9 486.5 188.8 489.2M245.2 570.7Q250.7 570 255.2 566.8M265.9 510.9Q266.9 507.8 269.7 506.2M275.3 536.5Q278.4 534.5 281.9 535.3M262.8 555.8Q265.3 554.5 266.1 551.8M278.7 568.9Q281.1 571.4 284.5 571.3M210.8 531Q213.9 527.1 217.4 523.5M269.6 565.6Q273.1 564.4 276.5 562.8M179.5 530.9Q183.7 528.5 188.2 527.1M183.8 567.1Q187.4 570.6 189.4 575.2M191.5 496Q196.4 494.8 200.8 492.2M204 565.2Q206.2 565.7 206.4 567.9M280.6 556.4Q281.1 558.8 283.2 560.1M260.4 535.1Q262.3 535.1 263.5 536.5M233.6 568.5Q235.7 567.7 236.9 565.7M204.1 561.7Q206.2 563.1 207.9 564.8M171.4 503.6Q174.3 500.2 178.7 499.3M251.8 499.9Q254.1 503.2 257.9 504.7M280.8 562Q285.6 563.1 290.2 564.6M209 532.9Q211.2 534.8 213.5 536.5M216.3 488.1Q218.1 489.5 220.3 489.6M175.2 558.6Q175.3 556.3 177.3 555.1M248.2 536.2Q251.3 532.7 255.6 530.7M204.4 546.4Q208.3 545.9 211.9 544.5M269.1 500Q272.5 500.8 275.5 499.1M209.8 488.4Q212.1 488 213.1 485.8M266 563.2Q268.6 561.6 271.6 561.2M265.1 522.3Q266.4 523.7 267.3 525.3M261.8 535.4Q263.4 535.2 264.9 534.8M247 528.9Q250.8 529.3 253.8 527M174.9 581.4Q179 577.9 183.5 575.2M216.2 574.6Q217.8 575.9 219.9 575.5M183 493Q185.8 493 187.7 491M247.5 580.1Q252.7 579.8 257.9 578.9M166.8 494Q171.6 496.3 174.3 500.8M176.1 559.7Q178.6 558.3 181.2 559.5M235.2 533.4Q237.3 535.3 239.9 534.3M251.8 491.8Q253.1 489.4 255.8 489.5M229.2 557.4Q232.1 556.5 235.2 556.2M276.4 517.1Q280.6 517.2 284.8 517.8" stroke="#ecd0d4" stroke-width="0.8" stroke-linecap="round" fill="none" opacity="0.6"/><ellipse cx="273.9" cy="502.8" rx="3" ry="3.6" fill="#dcd5cf"/></g><path d="M153.2 485.1H161.6M279.6 485.1H288M153.2 578.6H161.6M279.6 578.6H288" stroke="#4a2030" stroke-width="1.1"/>
<text x="15.5" y="11.9" font-size="16.4" font-weight="bold" fill="#111" stroke="#111" stroke-width="0.32">A</text><text x="391.9" y="11.9" font-size="16.4" font-weight="bold" fill="#111" stroke="#111" stroke-width="0.32">B</text><text x="9.3" y="206.6" font-size="16.4" font-weight="bold" fill="#111" stroke="#111" stroke-width="0.32">C</text><text x="289.2" y="206.9" font-size="16.4" font-weight="bold" fill="#111" stroke="#111" stroke-width="0.32">D</text><text x="495.7" y="207.2" font-size="16.4" font-weight="bold" fill="#111" stroke="#111" stroke-width="0.32">E</text><text x="11.7" y="386.8" font-size="16.4" font-weight="bold" fill="#111" stroke="#111" stroke-width="0.32">F</text><text x="286" y="387.2" font-size="16.4" font-weight="bold" fill="#111" stroke="#111" stroke-width="0.32">G</text><text x="496.9" y="387" font-size="16.4" font-weight="bold" fill="#111" stroke="#111" stroke-width="0.32">H</text><text x="14.2" y="592.8" font-size="16.4" font-weight="bold" fill="#111" stroke="#111" stroke-width="0.32">I</text><text x="286.4" y="592.8" font-size="16.4" font-weight="bold" fill="#111" stroke="#111" stroke-width="0.32">J</text><text x="496.7" y="592.8" font-size="16.4" font-weight="bold" fill="#111" stroke="#111" stroke-width="0.32">K</text><g><line x1="58.4" y1="148" x2="61.7" y2="148" stroke="#1a1a1a" stroke-width="1.2"/><text x="56.7" y="151.9" font-size="10.6" text-anchor="end" fill="#222" stroke="#222" stroke-width="0.18">0</text><line x1="58.4" y1="89" x2="61.7" y2="89" stroke="#1a1a1a" stroke-width="1.2"/><text x="56.7" y="92.9" font-size="10.6" text-anchor="end" fill="#222" stroke="#222" stroke-width="0.18">50</text><line x1="58.4" y1="30" x2="61.7" y2="30" stroke="#1a1a1a" stroke-width="1.2"/><text x="56.7" y="33.9" font-size="10.6" text-anchor="end" fill="#222" stroke="#222" stroke-width="0.18">100</text><line x1="61.7" y1="148" x2="61.7" y2="151.8" stroke="#1a1a1a" stroke-width="1.2"/><text x="61.7" y="163.3" font-size="10.6" text-anchor="middle" fill="#222" stroke="#222" stroke-width="0.18">0</text><line x1="89.64" y1="148" x2="89.64" y2="151.8" stroke="#1a1a1a" stroke-width="1.2"/><text x="89.64" y="163.3" font-size="10.6" text-anchor="middle" fill="#222" stroke="#222" stroke-width="0.18">1</text><line x1="117.58" y1="148" x2="117.58" y2="151.8" stroke="#1a1a1a" stroke-width="1.2"/><text x="117.58" y="163.3" font-size="10.6" text-anchor="middle" fill="#222" stroke="#222" stroke-width="0.18">2</text><line x1="145.52" y1="148" x2="145.52" y2="151.8" stroke="#1a1a1a" stroke-width="1.2"/><text x="145.52" y="163.3" font-size="10.6" text-anchor="middle" fill="#222" stroke="#222" stroke-width="0.18">3</text><line x1="173.46" y1="148" x2="173.46" y2="151.8" stroke="#1a1a1a" stroke-width="1.2"/><text x="173.46" y="163.3" font-size="10.6" text-anchor="middle" fill="#222" stroke="#222" stroke-width="0.18">4</text><line x1="201.4" y1="148" x2="201.4" y2="151.8" stroke="#1a1a1a" stroke-width="1.2"/><text x="201.4" y="163.3" font-size="10.6" text-anchor="middle" fill="#222" stroke="#222" stroke-width="0.18">5</text><line x1="229.34" y1="148" x2="229.34" y2="151.8" stroke="#1a1a1a" stroke-width="1.2"/><text x="229.34" y="163.3" font-size="10.6" text-anchor="middle" fill="#222" stroke="#222" stroke-width="0.18">6</text><line x1="257.28" y1="148" x2="257.28" y2="151.8" stroke="#1a1a1a" stroke-width="1.2"/><text x="257.28" y="163.3" font-size="10.6" text-anchor="middle" fill="#222" stroke="#222" stroke-width="0.18">7</text><path d="M61.7 18V148H257.28" stroke="#1a1a1a" stroke-width="1.7" fill="none"/><line x1="61.7" y1="30" x2="257.28" y2="30" stroke="#9fc3e8" stroke-width="3.6"/><polyline points="61.7,30 173.46,30 173.46,37.38 201.4,37.38 201.4,52.12 229.34,52.12 229.34,74.25 257.28,74.25 257.28,96.38" fill="none" stroke="#ebb46f" stroke-width="1.9"/><polyline points="61.7,30 201.4,30 201.4,37.38 229.34,37.38 229.34,44.75 257.28,44.75 257.28,52.12" fill="none" stroke="#e88d9a" stroke-width="1.9"/><line x1="61.7" y1="30" x2="257.28" y2="30" stroke="#5a5a5a" stroke-width="2.0"/><g fill="#111"><rect x="172.56" y="34.77" width="1.8" height="2.8"/><rect x="200.5" y="49.52" width="1.8" height="2.8"/><rect x="200.5" y="34.77" width="1.8" height="2.8"/><rect x="228.44" y="71.65" width="1.8" height="2.8"/><rect x="228.44" y="42.15" width="1.8" height="2.8"/><rect x="256.38" y="93.78" width="1.8" height="2.8"/><rect x="256.38" y="49.52" width="1.8" height="2.8"/></g><circle cx="256.98" cy="28.9" r="1.6" fill="#111"/><path d="M259.7 51.6H266.3V96.6H259.7" stroke="#111" stroke-width="1.8" fill="none"/><path d="M271.7 30.8H278.3V95.7H271.7" stroke="#111" stroke-width="1.8" fill="none"/><path d="M272.2 72.55L272.2 77.65M269.99 73.82L274.41 76.38M274.41 73.82L269.99 76.38" stroke="#3c3c3c" stroke-width="1.25" stroke-linecap="round" fill="none"/><path d="M285.5 67.75L285.5 72.85M283.29 69.02L287.71 71.58M287.71 69.02L283.29 71.58M285.5 61.15L285.5 66.25M283.29 62.43L287.71 64.98M287.71 62.43L283.29 64.98M285.5 54.55L285.5 59.65M283.29 55.83L287.71 58.38M287.71 55.83L283.29 58.38" stroke="#3c3c3c" stroke-width="1.25" stroke-linecap="round" fill="none"/><text transform="translate(34.8,88.9) rotate(-90)" font-size="16.8" font-weight="bold" text-anchor="middle" stroke="#231815" stroke-width="0.32">Percent survival(%)</text><text x="156.35" y="181.2" font-size="16.3" font-weight="bold" text-anchor="middle" stroke="#231815" stroke-width="0.32">Days post CVB3 infection</text><line x1="291.9" y1="30.7" x2="305.9" y2="30.7" stroke="#5a5a5a" stroke-width="1.9"/><rect x="298.1" y="27.9" width="1.6" height="2.8" fill="#111"/><text x="314.3" y="34.5" font-size="11.3" stroke="#231815" stroke-width="0.18">AAV-NC-Ctrl</text><line x1="291.9" y1="52.8" x2="305.9" y2="52.8" stroke="#9fc3e8" stroke-width="3.7"/><rect x="297.6" y="50.4" width="2.7" height="2.5" fill="#111"/><text x="314.3" y="56.6" font-size="11.3" stroke="#231815" stroke-width="0.18">AAV-DJ-1-Ctrl</text><line x1="291.9" y1="73.4" x2="305.9" y2="73.4" stroke="#ebb46f" stroke-width="1.9"/><rect x="298.1" y="70.6" width="1.6" height="2.8" fill="#111"/><text x="314.3" y="77.2" font-size="11.3" stroke="#231815" stroke-width="0.18">AAV-NC-VMC</text><line x1="291.9" y1="93.7" x2="305.9" y2="93.7" stroke="#e88d9a" stroke-width="1.9"/><rect x="298.1" y="90.9" width="1.6" height="2.8" fill="#111"/><text x="314.3" y="97.5" font-size="11.3" stroke="#231815" stroke-width="0.18">AAV-DJ-1-VMC</text></g><g><line x1="450" y1="147.94" x2="455" y2="147.94" stroke="#1a1a1a" stroke-width="1.2"/><text x="448.8" y="151.54" font-size="10.5" text-anchor="end" fill="#222" stroke="#222" stroke-width="0.18">12</text><line x1="450" y1="126.28" x2="455" y2="126.28" stroke="#1a1a1a" stroke-width="1.2"/><text x="448.8" y="129.88" font-size="10.5" text-anchor="end" fill="#222" stroke="#222" stroke-width="0.18">14</text><line x1="450" y1="104.62" x2="455" y2="104.62" stroke="#1a1a1a" stroke-width="1.2"/><text x="448.8" y="108.22" font-size="10.5" text-anchor="end" fill="#222" stroke="#222" stroke-width="0.18">16</text><line x1="450" y1="82.96" x2="455" y2="82.96" stroke="#1a1a1a" stroke-width="1.2"/><text x="448.8" y="86.56" font-size="10.5" text-anchor="end" fill="#222" stroke="#222" stroke-width="0.18">18</text><line x1="450" y1="61.3" x2="455" y2="61.3" stroke="#1a1a1a" stroke-width="1.2"/><text x="448.8" y="64.9" font-size="10.5" text-anchor="end" fill="#222" stroke="#222" stroke-width="0.18">20</text><line x1="450" y1="39.64" x2="455" y2="39.64" stroke="#1a1a1a" stroke-width="1.2"/><text x="448.8" y="43.24" font-size="10.5" text-anchor="end" fill="#222" stroke="#222" stroke-width="0.18">22</text><line x1="450" y1="17.98" x2="455" y2="17.98" stroke="#1a1a1a" stroke-width="1.2"/><text x="448.8" y="21.58" font-size="10.5" text-anchor="end" fill="#222" stroke="#222" stroke-width="0.18">24</text><line x1="455" y1="148.1" x2="455" y2="152.1" stroke="#1a1a1a" stroke-width="1.2"/><text x="455" y="164.4" font-size="10.5" text-anchor="middle" fill="#222" stroke="#222" stroke-width="0.18">0</text><line x1="484.18" y1="148.1" x2="484.18" y2="152.1" stroke="#1a1a1a" stroke-width="1.2"/><text x="484.18" y="164.4" font-size="10.5" text-anchor="middle" fill="#222" stroke="#222" stroke-width="0.18">1</text><line x1="513.36" y1="148.1" x2="513.36" y2="152.1" stroke="#1a1a1a" stroke-width="1.2"/><text x="513.36" y="164.4" font-size="10.5" text-anchor="middle" fill="#222" stroke="#222" stroke-width="0.18">2</text><line x1="542.54" y1="148.1" x2="542.54" y2="152.1" stroke="#1a1a1a" stroke-width="1.2"/><text x="542.54" y="164.4" font-size="10.5" text-anchor="middle" fill="#222" stroke="#222" stroke-width="0.18">3</text><line x1="571.72" y1="148.1" x2="571.72" y2="152.1" stroke="#1a1a1a" stroke-width="1.2"/><text x="571.72" y="164.4" font-size="10.5" text-anchor="middle" fill="#222" stroke="#222" stroke-width="0.18">4</text><line x1="600.9" y1="148.1" x2="600.9" y2="152.1" stroke="#1a1a1a" stroke-width="1.2"/><text x="600.9" y="164.4" font-size="10.5" text-anchor="middle" fill="#222" stroke="#222" stroke-width="0.18">5</text><line x1="630.08" y1="148.1" x2="630.08" y2="152.1" stroke="#1a1a1a" stroke-width="1.2"/><text x="630.08" y="164.4" font-size="10.5" text-anchor="middle" fill="#222" stroke="#222" stroke-width="0.18">6</text><line x1="659.26" y1="148.1" x2="659.26" y2="152.1" stroke="#1a1a1a" stroke-width="1.2"/><text x="659.26" y="164.4" font-size="10.5" text-anchor="middle" fill="#222" stroke="#222" stroke-width="0.18">7</text><path d="M455 17.98V148.1H659.26" stroke="#1a1a1a" stroke-width="1.7" fill="none"/><path d="M455 53.72V64.55M452.4 53.72H457.6M452.4 64.55H457.6M484.18 51.55V64.55M481.58 51.55H486.78M481.58 64.55H486.78M513.36 53.18V64.01M510.76 53.18H515.96M510.76 64.01H515.96M542.54 51.55V60.22M539.94 51.55H545.14M539.94 60.22H545.14M571.72 48.85V56.43M569.12 48.85H574.32M569.12 56.43H574.32M600.9 47.76V55.34M598.3 47.76H603.5M598.3 55.34H603.5M630.08 47.22V53.72M627.48 47.22H632.68M627.48 53.72H632.68M659.26 46.14V52.64M656.66 46.14H661.86M656.66 52.64H661.86" stroke="#9fc3e8" stroke-width="1" fill="none" opacity="0.9"/><polyline points="455,59.13 484.18,58.05 513.36,58.59 542.54,55.88 571.72,52.64 600.9,51.55 630.08,50.47 659.26,49.39" fill="none" stroke="#9fc3e8" stroke-width="2.2"/><g fill="#9fc3e8"><rect x="452.8" y="56.93" width="4.4" height="4.4"/><rect x="481.98" y="55.85" width="4.4" height="4.4"/><rect x="511.16" y="56.39" width="4.4" height="4.4"/><rect x="540.34" y="53.68" width="4.4" height="4.4"/><rect x="569.52" y="50.44" width="4.4" height="4.4"/><rect x="598.7" y="49.35" width="4.4" height="4.4"/><rect x="627.88" y="48.27" width="4.4" height="4.4"/><rect x="657.06" y="47.19" width="4.4" height="4.4"/></g><path d="M455 54.26V65.09M452.4 54.26H457.6M452.4 65.09H457.6M484.18 54.8V64.55M481.58 54.8H486.78M481.58 64.55H486.78M513.36 54.8V65.63M510.76 54.8H515.96M510.76 65.63H515.96M542.54 60.76V70.51M539.94 60.76H545.14M539.94 70.51H545.14M571.72 71.16V83.07M569.12 71.16H574.32M569.12 83.07H574.32M600.9 82.96V93.79M598.3 82.96H603.5M598.3 93.79H603.5M630.08 93.79V102.45M627.48 93.79H632.68M627.48 102.45H632.68M659.26 101.26V108.84M656.66 101.26H661.86M656.66 108.84H661.86" stroke="#ebb46f" stroke-width="1" fill="none" opacity="0.9"/><polyline points="455,59.68 484.18,59.68 513.36,60.22 542.54,65.63 571.72,77.11 600.9,88.38 630.08,98.12 659.26,105.05" fill="none" stroke="#ebb46f" stroke-width="2.2"/><g fill="#ebb46f"><path d="M455 56.88L457.8 61.88L452.2 61.88Z"/><path d="M484.18 56.88L486.98 61.88L481.38 61.88Z"/><path d="M513.36 57.42L516.16 62.42L510.56 62.42Z"/><path d="M542.54 62.83L545.34 67.83L539.74 67.83Z"/><path d="M571.72 74.31L574.52 79.31L568.92 79.31Z"/><path d="M600.9 85.58L603.7 90.58L598.1 90.58Z"/><path d="M630.08 95.32L632.88 100.32L627.28 100.32Z"/><path d="M659.26 102.25L662.06 107.25L656.46 107.25Z"/></g><path d="M455 54.8V63.47M452.4 54.8H457.6M452.4 63.47H457.6M484.18 52.64V65.63M481.58 52.64H486.78M481.58 65.63H486.78M513.36 53.72V64.55M510.76 53.72H515.96M510.76 64.55H515.96M542.54 56.53V69.53M539.94 56.53H545.14M539.94 69.53H545.14M571.72 61.73V74.73M569.12 61.73H574.32M569.12 74.73H574.32M600.9 65.2V78.19M598.3 65.2H603.5M598.3 78.19H603.5M630.08 72.35V84.26M627.48 72.35H632.68M627.48 84.26H632.68M659.26 77.44V89.35M656.66 77.44H661.86M656.66 89.35H661.86" stroke="#e88d9a" stroke-width="1" fill="none" opacity="0.9"/><polyline points="455,59.13 484.18,59.13 513.36,59.13 542.54,63.03 571.72,68.23 600.9,71.7 630.08,78.3 659.26,83.39" fill="none" stroke="#e88d9a" stroke-width="2.2"/><g fill="#e88d9a"><path d="M455 61.93L457.8 56.93L452.2 56.93Z"/><path d="M484.18 61.93L486.98 56.93L481.38 56.93Z"/><path d="M513.36 61.93L516.16 56.93L510.56 56.93Z"/><path d="M542.54 65.83L545.34 60.83L539.74 60.83Z"/><path d="M571.72 71.03L574.52 66.03L568.92 66.03Z"/><path d="M600.9 74.5L603.7 69.5L598.1 69.5Z"/><path d="M630.08 81.1L632.88 76.1L627.28 76.1Z"/><path d="M659.26 86.19L662.06 81.19L656.46 81.19Z"/></g><path d="M455 53.72V64.55M452.4 53.72H457.6M452.4 64.55H457.6M484.18 52.64V65.63M481.58 52.64H486.78M481.58 65.63H486.78M513.36 52.64V65.63M510.76 52.64H515.96M510.76 65.63H515.96M542.54 52.96V63.79M539.94 52.96H545.14M539.94 63.79H545.14M571.72 49.93V59.68M569.12 49.93H574.32M569.12 59.68H574.32M600.9 48.3V59.13M598.3 48.3H603.5M598.3 59.13H603.5M630.08 45.05V55.88M627.48 45.05H632.68M627.48 55.88H632.68M659.26 43V52.74M656.66 43H661.86M656.66 52.74H661.86" stroke="#555555" stroke-width="1" fill="none" opacity="0.9"/><polyline points="455,59.13 484.18,59.13 513.36,59.13 542.54,58.38 571.72,54.8 600.9,53.72 630.08,50.47 659.26,47.87" fill="none" stroke="#555555" stroke-width="2.2"/><g fill="#555555"><circle cx="455" cy="59.13" r="2.6"/><circle cx="484.18" cy="59.13" r="2.6"/><circle cx="513.36" cy="59.13" r="2.6"/><circle cx="542.54" cy="58.38" r="2.6"/><circle cx="571.72" cy="54.8" r="2.6"/><circle cx="600.9" cy="53.72" r="2.6"/><circle cx="630.08" cy="50.47" r="2.6"/><circle cx="659.26" cy="47.87" r="2.6"/></g><text x="463.5" y="19.6" font-size="11" text-anchor="middle" fill="#333" stroke="#333" stroke-width="0.18">ns</text><text x="463.5" y="36.4" font-size="11" text-anchor="middle" fill="#333" stroke="#333" stroke-width="0.18">ns</text><text x="486.18" y="19.6" font-size="11" text-anchor="middle" fill="#333" stroke="#333" stroke-width="0.18">ns</text><text x="486.18" y="36.4" font-size="11" text-anchor="middle" fill="#333" stroke="#333" stroke-width="0.18">ns</text><text x="515.36" y="19.6" font-size="11" text-anchor="middle" fill="#333" stroke="#333" stroke-width="0.18">ns</text><text x="515.36" y="36.4" font-size="11" text-anchor="middle" fill="#333" stroke="#333" stroke-width="0.18">ns</text><text x="544.54" y="19.6" font-size="11" text-anchor="middle" fill="#333" stroke="#333" stroke-width="0.18">ns</text><text x="544.54" y="36.4" font-size="11" text-anchor="middle" fill="#333" stroke="#333" stroke-width="0.18">ns</text><text x="574.12" y="21" font-size="11" text-anchor="middle" fill="#555" stroke="#555" stroke-width="0.18" letter-spacing="-0.2">#</text><path d="M564.87 31.9L564.87 35.9M563.14 32.9L566.6 34.9M566.6 32.9L563.14 34.9M570.37 31.9L570.37 35.9M568.64 32.9L572.1 34.9M572.1 32.9L568.64 34.9M575.87 31.9L575.87 35.9M574.14 32.9L577.6 34.9M577.6 32.9L574.14 34.9M581.37 31.9L581.37 35.9M579.64 32.9L583.1 34.9M583.1 32.9L579.64 34.9" stroke="#555" stroke-width="1.1" stroke-linecap="round" fill="none"/><text x="603.3" y="21" font-size="11" text-anchor="middle" fill="#555" stroke="#555" stroke-width="0.18" letter-spacing="-0.2">####</text><path d="M594.05 31.9L594.05 35.9M592.32 32.9L595.78 34.9M595.78 32.9L592.32 34.9M599.55 31.9L599.55 35.9M597.82 32.9L601.28 34.9M601.28 32.9L597.82 34.9M605.05 31.9L605.05 35.9M603.32 32.9L606.78 34.9M606.78 32.9L603.32 34.9M610.55 31.9L610.55 35.9M608.82 32.9L612.28 34.9M612.28 32.9L608.82 34.9" stroke="#555" stroke-width="1.1" stroke-linecap="round" fill="none"/><text x="632.48" y="21" font-size="11" text-anchor="middle" fill="#555" stroke="#555" stroke-width="0.18" letter-spacing="-0.2">####</text><path d="M623.23 31.9L623.23 35.9M621.5 32.9L624.96 34.9M624.96 32.9L621.5 34.9M628.73 31.9L628.73 35.9M627 32.9L630.46 34.9M630.46 32.9L627 34.9M634.23 31.9L634.23 35.9M632.5 32.9L635.96 34.9M635.96 32.9L632.5 34.9M639.73 31.9L639.73 35.9M638 32.9L641.46 34.9M641.46 32.9L638 34.9" stroke="#555" stroke-width="1.1" stroke-linecap="round" fill="none"/><text x="661.66" y="21" font-size="11" text-anchor="middle" fill="#555" stroke="#555" stroke-width="0.18" letter-spacing="-0.2">####</text><path d="M652.41 31.9L652.41 35.9M650.68 32.9L654.14 34.9M654.14 32.9L650.68 34.9M657.91 31.9L657.91 35.9M656.18 32.9L659.64 34.9M659.64 32.9L656.18 34.9M663.41 31.9L663.41 35.9M661.68 32.9L665.14 34.9M665.14 32.9L661.68 34.9M668.91 31.9L668.91 35.9M667.18 32.9L670.64 34.9M670.64 32.9L667.18 34.9" stroke="#555" stroke-width="1.1" stroke-linecap="round" fill="none"/><text transform="translate(422.4,79.7) rotate(-90)" font-size="16.75" font-weight="bold" text-anchor="middle" stroke="#231815" stroke-width="0.32">Body weight (g)</text><text x="549.7" y="181.2" font-size="16.3" font-weight="bold" text-anchor="middle" stroke="#231815" stroke-width="0.32">Days post CVB3 infection</text><line x1="467.2" y1="92.1" x2="480.4" y2="92.1" stroke="#555555" stroke-width="2.4"/><circle cx="473.6" cy="92.1" r="2.4" fill="#555555"/><text x="488.4" y="95.9" font-size="11.3" stroke="#231815" stroke-width="0.18">AAV-NC-Ctrl</text><line x1="467.2" y1="108" x2="480.4" y2="108" stroke="#9fc3e8" stroke-width="2.4"/><rect x="471.5" y="105.9" width="4.2" height="4.2" fill="#9fc3e8"/><text x="488.4" y="111.8" font-size="11.3" stroke="#231815" stroke-width="0.18">AAV-DJ-1-Ctrl</text><line x1="467.2" y1="123.4" x2="480.4" y2="123.4" stroke="#ebb46f" stroke-width="2.4"/><path d="M473.6 120.8L476.20000000000005 125.4L471.0 125.4Z" fill="#ebb46f"/><text x="488.4" y="127.2" font-size="11.3" stroke="#231815" stroke-width="0.18">AAV-NC-VMC</text><line x1="467.2" y1="138.9" x2="480.4" y2="138.9" stroke="#e88d9a" stroke-width="2.4"/><path d="M473.6 141.5L476.20000000000005 136.9L471.0 136.9Z" fill="#e88d9a"/><text x="488.4" y="142.7" font-size="11.3" stroke="#231815" stroke-width="0.18">AAV-DJ-1-VMC</text></g><g><rect x="363.8" y="216.3" width="18.8" height="105.8" fill="#d5d5d5" stroke="#4a4a4a" stroke-width="1.3"/><rect x="392.8" y="229.2" width="18.8" height="92.9" fill="#93b6df" stroke="#4a4a4a" stroke-width="1.3"/><rect x="421.8" y="298.3" width="18.8" height="23.8" fill="#ebb87b" stroke="#4a4a4a" stroke-width="1.3"/><rect x="451" y="266" width="18.8" height="56.1" fill="#e8929b" stroke="#4a4a4a" stroke-width="1.3"/><path d="M373.2 209.7V223M368.95 209.7H377.45M368.95 223H377.45" stroke="#333" stroke-width="1.3" fill="none"/><path d="M402.2 218.8V238.5M397.95 218.8H406.45M397.95 238.5H406.45" stroke="#333" stroke-width="1.3" fill="none"/><path d="M431.2 289.8V304.6M426.95 289.8H435.45M426.95 304.6H435.45" stroke="#333" stroke-width="1.3" fill="none"/><path d="M460.4 257.1V274.2M456.15 257.1H464.65M456.15 274.2H464.65" stroke="#333" stroke-width="1.3" fill="none"/><g fill="#0d0d0d"><circle cx="375.6" cy="205.5" r="2.59"/><circle cx="370.9" cy="208.7" r="2.59"/><circle cx="366.1" cy="221.1" r="2.59"/><circle cx="370.3" cy="218.8" r="2.59"/><circle cx="374.7" cy="221.4" r="2.59"/><circle cx="380" cy="218.8" r="2.59"/><rect x="399.72" y="212.52" width="4.97" height="4.97"/><rect x="392.12" y="218.62" width="4.97" height="4.97"/><rect x="406.72" y="222.02" width="4.97" height="4.97"/><rect x="392.52" y="228.42" width="4.97" height="4.97"/><rect x="406.72" y="231.52" width="4.97" height="4.97"/><rect x="399.72" y="241.02" width="4.97" height="4.97"/><path d="M424 288.17L427.13 293.81L420.87 293.81Z"/><path d="M438.3 285.27L441.43 290.91L435.17 290.91Z"/><path d="M424 295.87L427.13 301.51L420.87 301.51Z"/><path d="M438.3 295.87L441.43 301.51L435.17 301.51Z"/><path d="M424 304.27L427.13 309.91L420.87 309.91Z"/><path d="M438.3 301.07L441.43 306.71L435.17 306.71Z"/><path d="M453 259.33L456.13 253.69L449.87 253.69Z"/><path d="M467.7 259.33L470.83 253.69L464.57 253.69Z"/><path d="M460.6 265.03L463.73 259.39L457.47 259.39Z"/><path d="M453 271.23L456.13 265.59L449.87 265.59Z"/><path d="M467.7 275.03L470.83 269.39L464.57 269.39Z"/><path d="M460.6 281.13L463.73 275.49L457.47 275.49Z"/></g><path d="M353.6 196.5V322.1H480.6" stroke="#1a1a1a" stroke-width="1.3" fill="none"/><path d="M348.3 322.1H353.6M348.3 290.7H353.6M348.3 259.3H353.6M348.3 227.9H353.6M348.3 196.5H353.6M373.2 322.1V327.4M402.2 322.1V327.4M431.2 322.1V327.4M460.4 322.1V327.4" stroke="#1a1a1a" stroke-width="1.2" fill="none"/><text x="347" y="325.7" font-size="10.5" text-anchor="end" fill="#222" stroke="#222" stroke-width="0.18">40</text><text x="347" y="294.3" font-size="10.5" text-anchor="end" fill="#222" stroke="#222" stroke-width="0.18">50</text><text x="347" y="262.9" font-size="10.5" text-anchor="end" fill="#222" stroke="#222" stroke-width="0.18">60</text><text x="347" y="231.5" font-size="10.5" text-anchor="end" fill="#222" stroke="#222" stroke-width="0.18">70</text><text x="347" y="200.1" font-size="10.5" text-anchor="end" fill="#222" stroke="#222" stroke-width="0.18">80</text><path d="M371.4 200.4V196H431.6V200.4" stroke="#111" stroke-width="1.6" fill="none"/><path d="M393.53 186.65L393.53 191.75M391.32 187.92L395.73 190.47M395.73 187.92L391.32 190.47M400.58 186.65L400.58 191.75M398.37 187.92L402.78 190.47M402.78 187.92L398.37 190.47M407.62 186.65L407.62 191.75M405.42 187.92L409.83 190.47M409.83 187.92L405.42 190.47M414.68 186.65L414.68 191.75M412.47 187.92L416.88 190.47M416.88 187.92L412.47 190.47" stroke="#3c3c3c" stroke-width="1.25" stroke-linecap="round" fill="none"/><path d="M430.7 247.3V242.5H460.5V247.3" stroke="#111" stroke-width="1.6" fill="none"/><path d="M436.23 233.35L436.23 238.45M434.02 234.62L438.43 237.18M438.43 234.62L434.02 237.18M443.28 233.35L443.28 238.45M441.07 234.62L445.48 237.18M445.48 234.62L441.07 237.18M450.32 233.35L450.32 238.45M448.12 234.62L452.53 237.18M452.53 234.62L448.12 237.18M457.38 233.35L457.38 238.45M455.17 234.62L459.58 237.18M459.58 234.62L455.17 237.18" stroke="#3c3c3c" stroke-width="1.25" stroke-linecap="round" fill="none"/><text transform="translate(323.6,250) rotate(-90)" font-size="16.7" font-weight="bold" text-anchor="middle" stroke="#231815" stroke-width="0.32">LVEF(%)</text><text x="294.1" y="337.6" font-size="12.3" font-weight="bold" stroke="#231815" stroke-width="0.32">AAV-NC</text><text x="294.1" y="351" font-size="12.3" font-weight="bold" stroke="#231815" stroke-width="0.32">AAV-DJ-1</text><path d="M368.9 334.8H377.5M373.2 330.6V339M398.6 336.9H403.4M427.5 334.8H436.1M431.8 330.6V339M458.2 336.9H463M370.2 347.6H375M396.4 346.4H405M400.7 342.2V350.6M429.2 347.6H434M456.3 346.4H464.9M460.6 342.2V350.6" stroke="#111" stroke-width="1.15" fill="none"/><path d="M398.6 336.9H403.4M458.2 336.9H463M370.2 347.6H375M429.2 347.6H434" stroke="#111" stroke-width="1.6" fill="none"/><path d="M367.9 353.4H406.8M426.5 353.4H465.3" stroke="#2a201c" stroke-width="1.25"/><text x="387.8" y="367.7" font-size="13" font-weight="bold" text-anchor="middle" stroke="#231815" stroke-width="0.32">Ctrl</text><text x="447.5" y="367.9" font-size="13" font-weight="bold" text-anchor="middle" stroke="#231815" stroke-width="0.32">VMC</text></g><g><rect x="565.65" y="215.5" width="18.7" height="104.7" fill="#d5d5d5" stroke="#4a4a4a" stroke-width="1.3"/><rect x="595.05" y="223.6" width="18.7" height="96.6" fill="#93b6df" stroke="#4a4a4a" stroke-width="1.3"/><rect x="624.45" y="261.5" width="18.7" height="58.7" fill="#ebb87b" stroke="#4a4a4a" stroke-width="1.3"/><rect x="653.95" y="244.5" width="18.7" height="75.7" fill="#e8929b" stroke="#4a4a4a" stroke-width="1.3"/><path d="M575 210.5V220.5M570.75 210.5H579.25M570.75 220.5H579.25" stroke="#333" stroke-width="1.3" fill="none"/><path d="M604.4 217.5V229M600.15 217.5H608.65M600.15 229H608.65" stroke="#333" stroke-width="1.3" fill="none"/><path d="M633.8 258V264.5M629.55 258H638.05M629.55 264.5H638.05" stroke="#333" stroke-width="1.3" fill="none"/><path d="M663.3 238.8V249.3M659.05 238.8H667.55M659.05 249.3H667.55" stroke="#333" stroke-width="1.3" fill="none"/><g fill="#0d0d0d"><circle cx="572.3" cy="208.3" r="2.59"/><circle cx="577.5" cy="208.3" r="2.59"/><circle cx="572.7" cy="215.8" r="2.59"/><circle cx="567.4" cy="218" r="2.59"/><circle cx="577.5" cy="218.4" r="2.59"/><circle cx="582.3" cy="218.4" r="2.59"/><rect x="594.72" y="213.32" width="4.97" height="4.97"/><rect x="609.22" y="215.92" width="4.97" height="4.97"/><rect x="602.22" y="218.52" width="4.97" height="4.97"/><rect x="598.72" y="223.82" width="4.97" height="4.97"/><rect x="605.22" y="223.82" width="4.97" height="4.97"/><rect x="601.72" y="228.62" width="4.97" height="4.97"/><path d="M630.5 255.77L633.63 261.41L627.37 261.41Z"/><path d="M637.1 255.77L640.23 261.41L633.97 261.41Z"/><path d="M641 253.57L644.13 259.21L637.87 259.21Z"/><path d="M630.3 261.47L633.43 267.11L627.17 267.11Z"/><path d="M637.1 261.47L640.23 267.11L633.97 267.11Z"/><path d="M633.8 258.87L636.93 264.51L630.67 264.51Z"/><path d="M659.4 241.43L662.53 235.79L656.27 235.79Z"/><path d="M667.3 241.43L670.43 235.79L664.17 235.79Z"/><path d="M655.9 246.23L659.03 240.59L652.77 240.59Z"/><path d="M663.4 249.33L666.53 243.69L660.27 243.69Z"/><path d="M670.8 248.93L673.93 243.29L667.67 243.29Z"/><path d="M663.4 254.13L666.53 248.49L660.27 248.49Z"/></g><path d="M555.4 193.7V320.2H684" stroke="#1a1a1a" stroke-width="1.3" fill="none"/><path d="M550.1 320.2H555.4M550.1 294.9H555.4M550.1 269.6H555.4M550.1 244.3H555.4M550.1 219H555.4M550.1 193.7H555.4M575 320.2V325.5M604.4 320.2V325.5M633.8 320.2V325.5M663.3 320.2V325.5" stroke="#1a1a1a" stroke-width="1.2" fill="none"/><text x="548.8" y="323.8" font-size="10.5" text-anchor="end" fill="#222" stroke="#222" stroke-width="0.18">0</text><text x="548.8" y="298.5" font-size="10.5" text-anchor="end" fill="#222" stroke="#222" stroke-width="0.18">10</text><text x="548.8" y="273.2" font-size="10.5" text-anchor="end" fill="#222" stroke="#222" stroke-width="0.18">20</text><text x="548.8" y="247.9" font-size="10.5" text-anchor="end" fill="#222" stroke="#222" stroke-width="0.18">30</text><text x="548.8" y="222.6" font-size="10.5" text-anchor="end" fill="#222" stroke="#222" stroke-width="0.18">40</text><text x="548.8" y="197.3" font-size="10.5" text-anchor="end" fill="#222" stroke="#222" stroke-width="0.18">50</text><path d="M573.7 201.8V197.2H634.4V201.8" stroke="#111" stroke-width="1.6" fill="none"/><path d="M596.22 187.95L596.22 193.05M594.02 189.22L598.43 191.78M598.43 189.22L594.02 191.78M603.27 187.95L603.27 193.05M601.07 189.22L605.48 191.78M605.48 189.22L601.07 191.78M610.32 187.95L610.32 193.05M608.12 189.22L612.53 191.78M612.53 189.22L608.12 191.78M617.38 187.95L617.38 193.05M615.17 189.22L619.58 191.78M619.58 189.22L615.17 191.78" stroke="#3c3c3c" stroke-width="1.25" stroke-linecap="round" fill="none"/><path d="M633.4 232.3V227.4H663.9V232.3" stroke="#111" stroke-width="1.6" fill="none"/><path d="M638.92 218.35L638.92 223.45M636.72 219.62L641.13 222.18M641.13 219.62L636.72 222.18M645.98 218.35L645.98 223.45M643.77 219.62L648.18 222.18M648.18 219.62L643.77 222.18M653.02 218.35L653.02 223.45M650.82 219.62L655.23 222.18M655.23 219.62L650.82 222.18M660.08 218.35L660.08 223.45M657.87 219.62L662.28 222.18M662.28 219.62L657.87 222.18" stroke="#3c3c3c" stroke-width="1.25" stroke-linecap="round" fill="none"/><text transform="translate(523.5,256.3) rotate(-90)" font-size="16.7" font-weight="bold" text-anchor="middle" stroke="#231815" stroke-width="0.32">LVFS(%)</text><text x="502.9" y="339.5" font-size="12.3" font-weight="bold" stroke="#231815" stroke-width="0.32">AAV-NC</text><text x="502.9" y="354.2" font-size="12.3" font-weight="bold" stroke="#231815" stroke-width="0.32">AAV-DJ-1</text><path d="M571.1 336.9H579.7M575.4 332.7V341.1M600.5 337.9H605.3M631 336.9H639.6M635.3 332.7V341.1M661 337.9H665.8M573.4 348.8H578.2M599.5 347.4H608.1M603.8 343.2V351.6M632.9 348.8H637.7M659.6 347.4H668.2M663.9 343.2V351.6" stroke="#111" stroke-width="1.15" fill="none"/><path d="M600.5 337.9H605.3M661 337.9H665.8M573.4 348.8H578.2M632.9 348.8H637.7" stroke="#111" stroke-width="1.6" fill="none"/><path d="M570.2 354.4H608.7M631.5 354.4H670" stroke="#2a201c" stroke-width="1.25"/><text x="590" y="367.8" font-size="13" font-weight="bold" text-anchor="middle" stroke="#231815" stroke-width="0.32">Ctrl</text><text x="651.7" y="367.8" font-size="13" font-weight="bold" text-anchor="middle" stroke="#231815" stroke-width="0.32">VMC</text></g><g><rect x="418.95" y="435.6" width="17.7" height="81.1" fill="#ebb87b" stroke="#4a4a4a" stroke-width="1.3"/><rect x="447.55" y="464.4" width="17.7" height="52.3" fill="#e8929b" stroke="#4a4a4a" stroke-width="1.3"/><path d="M427.8 419.4V447.6M423.55 419.4H432.05M423.55 447.6H432.05" stroke="#333" stroke-width="1.3" fill="none"/><path d="M456.4 446V482.5M452.15 446H460.65M452.15 482.5H460.65" stroke="#333" stroke-width="1.3" fill="none"/><g fill="#0d0d0d"><circle cx="363.5" cy="516.7" r="2.59"/><circle cx="366.7" cy="516.7" r="2.59"/><circle cx="369.9" cy="516.7" r="2.59"/><circle cx="373.1" cy="516.7" r="2.59"/><circle cx="376.3" cy="516.7" r="2.59"/><circle cx="379.5" cy="516.7" r="2.59"/><rect x="389.02" y="514.22" width="4.97" height="4.97"/><rect x="392.32" y="514.22" width="4.97" height="4.97"/><rect x="395.62" y="514.22" width="4.97" height="4.97"/><rect x="398.92" y="514.22" width="4.97" height="4.97"/><rect x="402.22" y="514.22" width="4.97" height="4.97"/><rect x="405.52" y="514.22" width="4.97" height="4.97"/><path d="M425.8 415.27L428.93 420.91L422.67 420.91Z"/><path d="M430.1 415.27L433.23 420.91L426.97 420.91Z"/><path d="M421.8 440.37L424.93 446.01L418.67 446.01Z"/><path d="M426.2 440.37L429.33 446.01L423.07 446.01Z"/><path d="M430.6 440.37L433.73 446.01L427.47 446.01Z"/><path d="M435 440.37L438.13 446.01L431.87 446.01Z"/><path d="M452.4 446.63L455.53 440.99L449.27 440.99Z"/><path d="M460.3 446.63L463.43 440.99L457.17 440.99Z"/><path d="M450.3 471.13L453.43 465.49L447.17 465.49Z"/><path d="M456.4 471.13L459.53 465.49L453.27 465.49Z"/><path d="M462.5 471.13L465.63 465.49L459.37 465.49Z"/><path d="M456.4 495.63L459.53 489.99L453.27 489.99Z"/></g><path d="M352.5 394.7V516.7H475.5" stroke="#1a1a1a" stroke-width="1.3" fill="none"/><path d="M347.2 516.7H352.5M347.2 492.3H352.5M347.2 467.9H352.5M347.2 443.5H352.5M347.2 419.1H352.5M347.2 394.7H352.5M370.6 516.7V522M399.6 516.7V522M427.8 516.7V522M456.4 516.7V522" stroke="#1a1a1a" stroke-width="1.2" fill="none"/><text x="345.9" y="520.3" font-size="10.5" text-anchor="end" fill="#222" stroke="#222" stroke-width="0.18">0</text><text x="345.9" y="495.9" font-size="10.5" text-anchor="end" fill="#222" stroke="#222" stroke-width="0.18">1</text><text x="345.9" y="471.5" font-size="10.5" text-anchor="end" fill="#222" stroke="#222" stroke-width="0.18">2</text><text x="345.9" y="447.1" font-size="10.5" text-anchor="end" fill="#222" stroke="#222" stroke-width="0.18">3</text><text x="345.9" y="422.7" font-size="10.5" text-anchor="end" fill="#222" stroke="#222" stroke-width="0.18">4</text><text x="345.9" y="398.3" font-size="10.5" text-anchor="end" fill="#222" stroke="#222" stroke-width="0.18">5</text><path d="M369.6 413.9V409.6H428.2V413.9" stroke="#111" stroke-width="1.6" fill="none"/><path d="M391.62 401.45L391.62 406.55M389.42 402.73L393.83 405.27M393.83 402.73L389.42 405.27M398.68 401.45L398.68 406.55M396.47 402.73L400.88 405.27M400.88 402.73L396.47 405.27M405.72 401.45L405.72 406.55M403.52 402.73L407.93 405.27M407.93 402.73L403.52 405.27M412.77 401.45L412.77 406.55M410.57 402.73L414.98 405.27M414.98 402.73L410.57 405.27" stroke="#3c3c3c" stroke-width="1.25" stroke-linecap="round" fill="none"/><path d="M428.2 406V399.1H456.4V406" stroke="#111" stroke-width="1.6" fill="none"/><path d="M439.58 391.25L439.58 396.35M437.37 392.53L441.78 395.07M441.78 392.53L437.37 395.07M446.62 391.25L446.62 396.35M444.42 392.53L448.83 395.07M448.83 392.53L444.42 395.07" stroke="#3c3c3c" stroke-width="1.25" stroke-linecap="round" fill="none"/><text transform="translate(326,457) rotate(-90)" font-size="16.35" font-weight="bold" text-anchor="middle" stroke="#231815" stroke-width="0.32">Pathologic score</text><text x="298.3" y="540.1" font-size="12.3" font-weight="bold" stroke="#231815" stroke-width="0.32">AAV-NC</text><text x="298.3" y="556.9" font-size="12.3" font-weight="bold" stroke="#231815" stroke-width="0.32">AAV-DJ-1</text><path d="M367.6 536H376.2M371.9 531.8V540.2M397.5 537.3H402.3M423.1 536H431.7M427.4 531.8V540.2M453.1 537.3H457.9M368.5 550.9H373.3M395.1 549.5H403.7M399.4 545.3V553.7M424.2 550.9H429M450.8 549.5H459.4M455.1 545.3V553.7" stroke="#111" stroke-width="1.15" fill="none"/><path d="M397.5 537.3H402.3M453.1 537.3H457.9M368.5 550.9H373.3M424.2 550.9H429" stroke="#111" stroke-width="1.6" fill="none"/><path d="M367.9 557.4H406.4M425.7 557.4H463.7" stroke="#2a201c" stroke-width="1.25"/><text x="385" y="574.1" font-size="13" font-weight="bold" text-anchor="middle" stroke="#231815" stroke-width="0.32">Ctrl</text><text x="446.8" y="574.9" font-size="13" font-weight="bold" text-anchor="middle" stroke="#231815" stroke-width="0.32">VMC</text></g><g><rect x="567.3" y="494" width="18.6" height="23" fill="#d5d5d5" stroke="#4a4a4a" stroke-width="1.3"/><rect x="596.3" y="490" width="18.6" height="27" fill="#93b6df" stroke="#4a4a4a" stroke-width="1.3"/><rect x="625.3" y="445.4" width="18.6" height="71.6" fill="#ebb87b" stroke="#4a4a4a" stroke-width="1.3"/><rect x="654.3" y="468" width="18.6" height="49" fill="#e8929b" stroke="#4a4a4a" stroke-width="1.3"/><path d="M576.6 488V498.5M572.35 488H580.85M572.35 498.5H580.85" stroke="#333" stroke-width="1.3" fill="none"/><path d="M605.6 486.5V494.5M601.35 486.5H609.85M601.35 494.5H609.85" stroke="#333" stroke-width="1.3" fill="none"/><path d="M634.6 428.4V461.6M630.35 428.4H638.85M630.35 461.6H638.85" stroke="#333" stroke-width="1.3" fill="none"/><path d="M663.6 460.4V475.6M659.35 460.4H667.85M659.35 475.6H667.85" stroke="#333" stroke-width="1.3" fill="none"/><g fill="#0d0d0d"><circle cx="569" cy="490.3" r="2.59"/><circle cx="574.3" cy="491.8" r="2.59"/><circle cx="578.6" cy="490.5" r="2.59"/><circle cx="583.9" cy="486.6" r="2.59"/><circle cx="574.3" cy="500.6" r="2.59"/><circle cx="579.1" cy="500.1" r="2.59"/><rect x="595.82" y="483.62" width="4.97" height="4.97"/><rect x="605.02" y="484.12" width="4.97" height="4.97"/><rect x="610.32" y="482.82" width="4.97" height="4.97"/><rect x="600.72" y="487.12" width="4.97" height="4.97"/><rect x="605.52" y="491.52" width="4.97" height="4.97"/><rect x="600.72" y="494.12" width="4.97" height="4.97"/><path d="M627.6 423.87L630.73 429.51L624.47 429.51Z"/><path d="M642 421.87L645.13 427.51L638.87 427.51Z"/><path d="M635 439.87L638.13 445.51L631.87 445.51Z"/><path d="M627.6 452.87L630.73 458.51L624.47 458.51Z"/><path d="M642 454.47L645.13 460.11L638.87 460.11Z"/><path d="M635 460.47L638.13 466.11L631.87 466.11Z"/><path d="M664 459.73L667.13 454.09L660.87 454.09Z"/><path d="M656.6 464.73L659.73 459.09L653.47 459.09Z"/><path d="M671 468.13L674.13 462.49L667.87 462.49Z"/><path d="M656.6 473.13L659.73 467.49L653.47 467.49Z"/><path d="M671 476.13L674.13 470.49L667.87 470.49Z"/><path d="M656.6 480.73L659.73 475.09L653.47 475.09Z"/></g><path d="M557.4 391V517H684" stroke="#1a1a1a" stroke-width="1.3" fill="none"/><path d="M552.1 517H557.4M552.1 485.5H557.4M552.1 454H557.4M552.1 422.5H557.4M552.1 391H557.4M576.6 517V522.3M605.6 517V522.3M634.6 517V522.3M663.6 517V522.3" stroke="#1a1a1a" stroke-width="1.2" fill="none"/><text x="550.8" y="520.6" font-size="10.5" text-anchor="end" fill="#222" stroke="#222" stroke-width="0.18">0</text><text x="550.8" y="489.1" font-size="10.5" text-anchor="end" fill="#222" stroke="#222" stroke-width="0.18">100</text><text x="550.8" y="457.6" font-size="10.5" text-anchor="end" fill="#222" stroke="#222" stroke-width="0.18">200</text><text x="550.8" y="426.1" font-size="10.5" text-anchor="end" fill="#222" stroke="#222" stroke-width="0.18">300</text><text x="550.8" y="394.6" font-size="10.5" text-anchor="end" fill="#222" stroke="#222" stroke-width="0.18">400</text><path d="M571.6 422V416H635V422" stroke="#111" stroke-width="1.6" fill="none"/><path d="M597.42 408.45L597.42 413.55M595.22 409.73L599.63 412.27M599.63 409.73L595.22 412.27M604.48 408.45L604.48 413.55M602.27 409.73L606.68 412.27M606.68 409.73L602.27 412.27M611.52 408.45L611.52 413.55M609.32 409.73L613.73 412.27M613.73 409.73L609.32 412.27M618.58 408.45L618.58 413.55M616.37 409.73L620.78 412.27M620.78 409.73L616.37 412.27" stroke="#3c3c3c" stroke-width="1.25" stroke-linecap="round" fill="none"/><path d="M634.4 411.4V405.4H664V411.4" stroke="#111" stroke-width="1.6" fill="none"/><path d="M646.88 398.05L646.88 403.15M644.67 399.33L649.08 401.88M649.08 399.33L644.67 401.88M653.92 398.05L653.92 403.15M651.72 399.33L656.13 401.88M656.13 399.33L651.72 401.88" stroke="#3c3c3c" stroke-width="1.25" stroke-linecap="round" fill="none"/><text transform="translate(531.2,508.4) rotate(-90)" font-size="15.8" font-weight="bold" stroke="#231815" stroke-width="0.32">cTnI</text><text transform="translate(531.2,458.2) rotate(-90)" font-size="16.0" font-weight="bold" stroke="#231815" stroke-width="0.32">pg/ml</text><text transform="translate(530.9,462.6) rotate(-90)" font-size="15.8" text-anchor="middle" stroke="#231815" stroke-width="0.18">(</text><text transform="translate(530.9,415.7) rotate(-90)" font-size="15.8" text-anchor="middle" stroke="#231815" stroke-width="0.18">)</text><text x="506.3" y="540.1" font-size="12.3" font-weight="bold" stroke="#231815" stroke-width="0.32">AAV-NC</text><text x="506.3" y="556.9" font-size="12.3" font-weight="bold" stroke="#231815" stroke-width="0.32">AAV-DJ-1</text><path d="M575.1 536H583.7M579.4 531.8V540.2M604.6 537.3H609.4M630.8 536H639.4M635.1 531.8V540.2M660.7 537.3H665.5M577.5 550.9H582.3M603.6 549.5H612.2M607.9 545.3V553.7M633 550.9H637.8M659.3 549.5H667.9M663.6 545.3V553.7" stroke="#111" stroke-width="1.15" fill="none"/><path d="M604.6 537.3H609.4M660.7 537.3H665.5M577.5 550.9H582.3M633 550.9H637.8" stroke="#111" stroke-width="1.6" fill="none"/><path d="M574.1 557.6H612.7M628.9 557.6H667.5" stroke="#2a201c" stroke-width="1.25"/><text x="591.2" y="574.1" font-size="13" font-weight="bold" text-anchor="middle" stroke="#231815" stroke-width="0.32">Ctrl</text><text x="651.7" y="574.9" font-size="13" font-weight="bold" text-anchor="middle" stroke="#231815" stroke-width="0.32">VMC</text></g><g><rect x="115.4" y="710" width="20.8" height="30.5" fill="#d5d5d5" stroke="#4a4a4a" stroke-width="1.3"/><rect x="147.8" y="710" width="20.8" height="30.5" fill="#93b6df" stroke="#4a4a4a" stroke-width="1.3"/><rect x="180.6" y="652" width="20.8" height="88.5" fill="#ebb87b" stroke="#4a4a4a" stroke-width="1.3"/><rect x="213.4" y="675.3" width="20.8" height="65.2" fill="#e8929b" stroke="#4a4a4a" stroke-width="1.3"/><path d="M125.8 701.1V717M120.8 701.1H130.8M120.8 717H130.8" stroke="#333" stroke-width="1.3" fill="none"/><path d="M158.2 700V717M153.2 700H163.2M153.2 717H163.2" stroke="#333" stroke-width="1.3" fill="none"/><path d="M191 639.1V664.1M186 639.1H196M186 664.1H196" stroke="#333" stroke-width="1.3" fill="none"/><path d="M223.8 662V687M218.8 662H228.8M218.8 687H228.8" stroke="#333" stroke-width="1.3" fill="none"/><g fill="#0d0d0d"><circle cx="125.4" cy="696.5" r="2.59"/><circle cx="125.4" cy="703.2" r="2.59"/><circle cx="117.4" cy="710.7" r="2.59"/><circle cx="125.4" cy="713.2" r="2.59"/><circle cx="133.4" cy="715.3" r="2.59"/><circle cx="117.4" cy="717" r="2.59"/><rect x="163.82" y="697.52" width="4.97" height="4.97"/><rect x="147.72" y="701.42" width="4.97" height="4.97"/><rect x="155.72" y="701.82" width="4.97" height="4.97"/><rect x="151.52" y="709.92" width="4.97" height="4.97"/><rect x="159.52" y="709.92" width="4.97" height="4.97"/><rect x="155.72" y="718.72" width="4.97" height="4.97"/><path d="M191 628.17L194.13 633.81L187.87 633.81Z"/><path d="M191 638.77L194.13 644.41L187.87 644.41Z"/><path d="M183 653.57L186.13 659.21L179.87 659.21Z"/><path d="M199 655.07L202.13 660.71L195.87 660.71Z"/><path d="M191 655.67L194.13 661.31L187.87 661.31Z"/><path d="M191 661.57L194.13 667.21L187.87 667.21Z"/><path d="M223.8 653.43L226.93 647.79L220.67 647.79Z"/><path d="M231.7 674.63L234.83 668.99L228.57 668.99Z"/><path d="M215.4 679.53L218.53 673.89L212.27 673.89Z"/><path d="M223.8 683.13L226.93 677.49L220.67 677.49Z"/><path d="M231.7 683.73L234.83 678.09L228.57 678.09Z"/><path d="M215.4 687.33L218.53 681.69L212.27 681.69Z"/></g><path d="M104.1 599.1V740.5H245.8" stroke="#1a1a1a" stroke-width="1.3" fill="none"/><path d="M98.8 740.5H104.1M98.8 693.37H104.1M98.8 646.23H104.1M98.8 599.1H104.1M125.8 740.5V745.8M158.2 740.5V745.8M191 740.5V745.8M223.8 740.5V745.8" stroke="#1a1a1a" stroke-width="1.2" fill="none"/><g transform="translate(97.5,745.22) scale(1,1.15)"><text x="0" y="0" font-size="10.85" text-anchor="end" fill="#222" stroke="#222" stroke-width="0.18">0</text></g><g transform="translate(97.5,698.08) scale(1,1.15)"><text x="0" y="0" font-size="10.85" text-anchor="end" fill="#222" stroke="#222" stroke-width="0.18">50</text></g><g transform="translate(97.5,650.95) scale(1,1.15)"><text x="0" y="0" font-size="10.85" text-anchor="end" fill="#222" stroke="#222" stroke-width="0.18">100</text></g><g transform="translate(97.5,603.81) scale(1,1.15)"><text x="0" y="0" font-size="10.85" text-anchor="end" fill="#222" stroke="#222" stroke-width="0.18">150</text></g><path d="M125.4 626.4V620.7H191.4V626.4" stroke="#111" stroke-width="1.6" fill="none"/><path d="M150.83 612.45L150.83 617.55M148.62 613.73L153.03 616.27M153.03 613.73L148.62 616.27M157.88 612.45L157.88 617.55M155.67 613.73L160.08 616.27M160.08 613.73L155.67 616.27M164.93 612.45L164.93 617.55M162.72 613.73L167.13 616.27M167.13 613.73L162.72 616.27M171.97 612.45L171.97 617.55M169.77 613.73L174.18 616.27M174.18 613.73L169.77 616.27" stroke="#3c3c3c" stroke-width="1.25" stroke-linecap="round" fill="none"/><path d="M191.4 613.3V607H223.8V613.3" stroke="#111" stroke-width="1.6" fill="none"/><path d="M205.47 599.45L205.47 604.55M203.27 600.73L207.68 603.27M207.68 600.73L203.27 603.27M212.53 599.45L212.53 604.55M210.32 600.73L214.73 603.27M214.73 600.73L210.32 603.27" stroke="#3c3c3c" stroke-width="1.25" stroke-linecap="round" fill="none"/><text transform="translate(66.7,717.2) rotate(-90)" font-size="16.8" font-weight="bold" stroke="#231815" stroke-width="0.32">IL-1β</text><text transform="translate(66.7,661.7) rotate(-90)" font-size="16.0" font-weight="bold" stroke="#231815" stroke-width="0.32">pg/ml</text><text transform="translate(66.4,667.2) rotate(-90)" font-size="16.8" text-anchor="middle" stroke="#231815" stroke-width="0.18">(</text><text transform="translate(66.4,617.8) rotate(-90)" font-size="16.8" text-anchor="middle" stroke="#231815" stroke-width="0.18">)</text><text x="50.3" y="765.8" font-size="12.3" font-weight="bold" stroke="#231815" stroke-width="0.32">AAV-NC</text><text x="50.3" y="782.6" font-size="12.3" font-weight="bold" stroke="#231815" stroke-width="0.32">AAV-DJ-1</text><path d="M120.3 760.9H128.9M124.6 756.7V765.1M154.1 762.3H158.9M188.7 760.9H197.3M193 756.7V765.1M218.1 762.3H222.9M122.2 775.9H127M152.2 774.5H160.8M156.5 770.3V778.7M190 775.9H194.8M216.3 774.5H224.9M220.6 770.3V778.7" stroke="#111" stroke-width="1.15" fill="none"/><path d="M154.1 762.3H158.9M218.1 762.3H222.9M122.2 775.9H127M190 775.9H194.8" stroke="#111" stroke-width="1.6" fill="none"/><path d="M123.8 784H162.3M188.2 784H226.8" stroke="#2a201c" stroke-width="1.25"/><text x="143.5" y="798.4" font-size="13" font-weight="bold" text-anchor="middle" stroke="#231815" stroke-width="0.32">Ctrl</text><text x="208" y="801" font-size="13" font-weight="bold" text-anchor="middle" stroke="#231815" stroke-width="0.32">VMC</text></g><g><rect x="353.8" y="710.4" width="21" height="28" fill="#d5d5d5" stroke="#4a4a4a" stroke-width="1.3"/><rect x="386.5" y="717" width="21" height="21.4" fill="#93b6df" stroke="#4a4a4a" stroke-width="1.3"/><rect x="419.5" y="661.2" width="21" height="77.2" fill="#ebb87b" stroke="#4a4a4a" stroke-width="1.3"/><rect x="452.1" y="682.4" width="21" height="56" fill="#e8929b" stroke="#4a4a4a" stroke-width="1.3"/><path d="M364.3 702.3V717.7M359.3 702.3H369.3M359.3 717.7H369.3" stroke="#333" stroke-width="1.3" fill="none"/><path d="M397 705.6V722M392 705.6H402M392 722H402" stroke="#333" stroke-width="1.3" fill="none"/><path d="M430 652.4V668.4M425 652.4H435M425 668.4H435" stroke="#333" stroke-width="1.3" fill="none"/><path d="M462.6 667.7V695.1M457.6 667.7H467.6M457.6 695.1H467.6" stroke="#333" stroke-width="1.3" fill="none"/><g fill="#0d0d0d"><circle cx="356.6" cy="706" r="2.59"/><circle cx="364.3" cy="704.5" r="2.59"/><circle cx="372.6" cy="701.2" r="2.59"/><circle cx="372.6" cy="708.9" r="2.59"/><circle cx="368.7" cy="716.6" r="2.59"/><circle cx="360.3" cy="721.4" r="2.59"/><rect x="402.72" y="701.82" width="4.97" height="4.97"/><rect x="394.62" y="705.12" width="4.97" height="4.97"/><rect x="387.02" y="711.92" width="4.97" height="4.97"/><rect x="394.62" y="713.82" width="4.97" height="4.97"/><rect x="402.72" y="713.02" width="4.97" height="4.97"/><rect x="394.22" y="724.82" width="4.97" height="4.97"/><path d="M430 644.27L433.13 649.91L426.87 649.91Z"/><path d="M421.6 654.27L424.73 659.91L418.47 659.91Z"/><path d="M426.7 658.67L429.83 664.31L423.57 664.31Z"/><path d="M432.6 658.67L435.73 664.31L429.47 664.31Z"/><path d="M438.3 658.07L441.43 663.71L435.17 663.71Z"/><path d="M430 669.67L433.13 675.31L426.87 675.31Z"/><path d="M462.4 661.03L465.53 655.39L459.27 655.39Z"/><path d="M462.4 675.93L465.53 670.29L459.27 670.29Z"/><path d="M454.5 688.33L457.63 682.69L451.37 682.69Z"/><path d="M462.4 689.43L465.53 683.79L459.27 683.79Z"/><path d="M470.5 693.43L473.63 687.79L467.37 687.79Z"/><path d="M454.5 697.83L457.63 692.19L451.37 692.19Z"/></g><path d="M342.7 596.5V738.4H484.3" stroke="#1a1a1a" stroke-width="1.3" fill="none"/><path d="M337.4 738.4H342.7M337.4 691.1H342.7M337.4 643.8H342.7M337.4 596.5H342.7M364.3 738.4V743.7M397 738.4V743.7M430 738.4V743.7M462.6 738.4V743.7" stroke="#1a1a1a" stroke-width="1.2" fill="none"/><g transform="translate(336.1,743.12) scale(1,1.15)"><text x="0" y="0" font-size="10.85" text-anchor="end" fill="#222" stroke="#222" stroke-width="0.18">0</text></g><g transform="translate(336.1,695.82) scale(1,1.15)"><text x="0" y="0" font-size="10.85" text-anchor="end" fill="#222" stroke="#222" stroke-width="0.18">50</text></g><g transform="translate(336.1,648.51) scale(1,1.15)"><text x="0" y="0" font-size="10.85" text-anchor="end" fill="#222" stroke="#222" stroke-width="0.18">100</text></g><g transform="translate(336.1,601.22) scale(1,1.15)"><text x="0" y="0" font-size="10.85" text-anchor="end" fill="#222" stroke="#222" stroke-width="0.18">150</text></g><path d="M362.7 642.6V636H431V642.6" stroke="#111" stroke-width="1.6" fill="none"/><path d="M390.93 628.65L390.93 633.75M388.72 629.93L393.13 632.48M393.13 629.93L388.72 632.48M397.98 628.65L397.98 633.75M395.77 629.93L400.18 632.48M400.18 629.93L395.77 632.48M405.02 628.65L405.02 633.75M402.82 629.93L407.23 632.48M407.23 629.93L402.82 632.48M412.07 628.65L412.07 633.75M409.87 629.93L414.28 632.48M414.28 629.93L409.87 632.48" stroke="#3c3c3c" stroke-width="1.25" stroke-linecap="round" fill="none"/><path d="M430.4 629.9V623.5H462.8V629.9" stroke="#111" stroke-width="1.6" fill="none"/><path d="M443.98 615.95L443.98 621.05M441.77 617.23L446.18 619.77M446.18 617.23L441.77 619.77M451.02 615.95L451.02 621.05M448.82 617.23L453.23 619.77M453.23 617.23L448.82 619.77" stroke="#3c3c3c" stroke-width="1.25" stroke-linecap="round" fill="none"/><text transform="translate(314.7,716.7) rotate(-90)" font-size="16.5" font-weight="bold" stroke="#231815" stroke-width="0.32">IL-6</text><text transform="translate(314.7,668.7) rotate(-90)" font-size="16.0" font-weight="bold" stroke="#231815" stroke-width="0.32">pg/ml</text><text transform="translate(314.4,673.5) rotate(-90)" font-size="16.5" text-anchor="middle" stroke="#231815" stroke-width="0.18">(</text><text transform="translate(314.4,626.2) rotate(-90)" font-size="16.5" text-anchor="middle" stroke="#231815" stroke-width="0.18">)</text><text x="299.3" y="765.8" font-size="12.3" font-weight="bold" stroke="#231815" stroke-width="0.32">AAV-NC</text><text x="299.3" y="782.6" font-size="12.3" font-weight="bold" stroke="#231815" stroke-width="0.32">AAV-DJ-1</text><path d="M362.1 760.9H370.7M366.4 756.7V765.1M396 762.3H400.8M426 760.9H434.6M430.3 756.7V765.1M456 762.3H460.8M363.5 775.9H368.3M393.6 774.5H402.2M397.9 770.3V778.7M427.1 775.9H431.9M453.2 774.5H461.8M457.5 770.3V778.7" stroke="#111" stroke-width="1.15" fill="none"/><path d="M396 762.3H400.8M456 762.3H460.8M363.5 775.9H368.3M427.1 775.9H431.9" stroke="#111" stroke-width="1.6" fill="none"/><path d="M366.9 784H405.5M426.8 784H465.4" stroke="#2a201c" stroke-width="1.25"/><text x="387.8" y="798.4" font-size="13" font-weight="bold" text-anchor="middle" stroke="#231815" stroke-width="0.32">Ctrl</text><text x="448.3" y="801" font-size="13" font-weight="bold" text-anchor="middle" stroke="#231815" stroke-width="0.32">VMC</text></g><g><rect x="557.2" y="673.9" width="19.8" height="69.6" fill="#d5d5d5" stroke="#4a4a4a" stroke-width="1.3"/><rect x="588.3" y="686" width="19.8" height="57.5" fill="#93b6df" stroke="#4a4a4a" stroke-width="1.3"/><rect x="619.4" y="637.9" width="19.8" height="105.6" fill="#ebb87b" stroke="#4a4a4a" stroke-width="1.3"/><rect x="650.3" y="662.3" width="19.8" height="81.2" fill="#e8929b" stroke="#4a4a4a" stroke-width="1.3"/><path d="M567.1 665.4V681.3M562.1 665.4H572.1M562.1 681.3H572.1" stroke="#333" stroke-width="1.3" fill="none"/><path d="M598.2 668V701M593.2 668H603.2M593.2 701H603.2" stroke="#333" stroke-width="1.3" fill="none"/><path d="M629.3 627.3V647.4M624.3 627.3H634.3M624.3 647.4H634.3" stroke="#333" stroke-width="1.3" fill="none"/><path d="M660.2 653.8V670.1M655.2 653.8H665.2M655.2 670.1H665.2" stroke="#333" stroke-width="1.3" fill="none"/><g fill="#0d0d0d"><circle cx="560.1" cy="670.1" r="2.59"/><circle cx="567.5" cy="668.6" r="2.59"/><circle cx="575.6" cy="663.7" r="2.59"/><circle cx="575.6" cy="672.8" r="2.59"/><circle cx="571.3" cy="682" r="2.59"/><circle cx="563.9" cy="684.5" r="2.59"/><rect x="595.72" y="655.52" width="4.97" height="4.97"/><rect x="595.72" y="668.22" width="4.97" height="4.97"/><rect x="595.72" y="686.22" width="4.97" height="4.97"/><rect x="595.72" y="692.62" width="4.97" height="4.97"/><rect x="588.32" y="696.82" width="4.97" height="4.97"/><rect x="603.52" y="696.82" width="4.97" height="4.97"/><path d="M629.3 614.67L632.43 620.31L626.17 620.31Z"/><path d="M629.3 632.67L632.43 638.31L626.17 638.31Z"/><path d="M637.4 636.47L640.53 642.11L634.27 642.11Z"/><path d="M629.3 638.57L632.43 644.21L626.17 644.21Z"/><path d="M622.1 643.27L625.23 648.91L618.97 648.91Z"/><path d="M637.4 641.77L640.53 647.41L634.27 647.41Z"/><path d="M660.2 652.23L663.33 646.59L657.07 646.59Z"/><path d="M653.3 662.23L656.43 656.59L650.17 656.59Z"/><path d="M660.2 661.13L663.33 655.49L657.07 655.49Z"/><path d="M668.1 663.93L671.23 658.29L664.97 658.29Z"/><path d="M664.5 670.23L667.63 664.59L661.37 664.59Z"/><path d="M656.4 674.93L659.53 669.29L653.27 669.29Z"/></g><path d="M547.3 610V743.5H683.3" stroke="#1a1a1a" stroke-width="1.3" fill="none"/><path d="M542 743.5H547.3M542 710.12H547.3M542 676.75H547.3M542 643.38H547.3M542 610H547.3M567.1 743.5V748.8M598.2 743.5V748.8M629.3 743.5V748.8M660.2 743.5V748.8" stroke="#1a1a1a" stroke-width="1.2" fill="none"/><g transform="translate(540.7,748.22) scale(1,1.15)"><text x="0" y="0" font-size="10.85" text-anchor="end" fill="#222" stroke="#222" stroke-width="0.18">0</text></g><g transform="translate(540.7,714.84) scale(1,1.15)"><text x="0" y="0" font-size="10.85" text-anchor="end" fill="#222" stroke="#222" stroke-width="0.18">50</text></g><g transform="translate(540.7,681.47) scale(1,1.15)"><text x="0" y="0" font-size="10.85" text-anchor="end" fill="#222" stroke="#222" stroke-width="0.18">100</text></g><g transform="translate(540.7,648.09) scale(1,1.15)"><text x="0" y="0" font-size="10.85" text-anchor="end" fill="#222" stroke="#222" stroke-width="0.18">150</text></g><g transform="translate(540.7,614.72) scale(1,1.15)"><text x="0" y="0" font-size="10.85" text-anchor="end" fill="#222" stroke="#222" stroke-width="0.18">200</text></g><path d="M565.8 612.1V605.7H630V612.1" stroke="#111" stroke-width="1.6" fill="none"/><path d="M593.25 598.35L593.25 603.45M591.04 599.62L595.46 602.17M595.46 599.62L591.04 602.17M600.3 598.35L600.3 603.45M598.09 599.62L602.51 602.17M602.51 599.62L598.09 602.17M607.35 598.35L607.35 603.45M605.14 599.62L609.56 602.17M609.56 599.62L605.14 602.17" stroke="#3c3c3c" stroke-width="1.25" stroke-linecap="round" fill="none"/><path d="M628.5 601.5V595.2H659.6V601.5" stroke="#111" stroke-width="1.6" fill="none"/><path d="M640.58 588.35L640.58 593.45M638.37 589.62L642.78 592.17M642.78 589.62L638.37 592.17M647.62 588.35L647.62 593.45M645.42 589.62L649.83 592.17M649.83 589.62L645.42 592.17" stroke="#3c3c3c" stroke-width="1.25" stroke-linecap="round" fill="none"/><text transform="translate(513.6,726.3) rotate(-90)" font-size="17.0" font-weight="bold" stroke="#231815" stroke-width="0.32">TNF-α</text><text transform="translate(513.6,663.1) rotate(-90)" font-size="16.4" font-weight="bold" stroke="#231815" stroke-width="0.32">pg/ml</text><text transform="translate(513.3,668.2) rotate(-90)" font-size="17.0" text-anchor="middle" stroke="#231815" stroke-width="0.18">(</text><text transform="translate(513.3,617.5) rotate(-90)" font-size="17.0" text-anchor="middle" stroke="#231815" stroke-width="0.18">)</text><text x="499" y="765.8" font-size="12.3" font-weight="bold" stroke="#231815" stroke-width="0.32">AAV-NC</text><text x="499" y="782.6" font-size="12.3" font-weight="bold" stroke="#231815" stroke-width="0.32">AAV-DJ-1</text><path d="M564.4 760.9H573M568.7 756.7V765.1M598.1 762.3H602.9M628.3 760.9H636.9M632.6 756.7V765.1M657.7 762.3H662.5M567 775.9H571.8M597.1 774.5H605.7M601.4 770.3V778.7M630.9 775.9H635.7M656.7 774.5H665.3M661 770.3V778.7" stroke="#111" stroke-width="1.15" fill="none"/><path d="M598.1 762.3H602.9M657.7 762.3H662.5M567 775.9H571.8M630.9 775.9H635.7" stroke="#111" stroke-width="1.6" fill="none"/><path d="M567.3 784H605.8M628.9 784H667.1" stroke="#2a201c" stroke-width="1.25"/><text x="585.7" y="799" font-size="13" font-weight="bold" text-anchor="middle" stroke="#231815" stroke-width="0.32">Ctrl</text><text x="650.4" y="801" font-size="13" font-weight="bold" text-anchor="middle" stroke="#231815" stroke-width="0.32">VMC</text></g><text x="104.6" y="230.9" font-size="16" font-weight="bold" text-anchor="middle" stroke="#231815" stroke-width="0.32">AAV-NC</text><text x="224.3" y="230.9" font-size="16" font-weight="bold" text-anchor="middle" stroke="#231815" stroke-width="0.32">AAV-DJ-1</text><text x="19.2" y="267.2" font-size="16.2" font-weight="bold" text-anchor="middle" stroke="#231815" stroke-width="0.32">Ctrl</text><text x="20.2" y="322.4" font-size="16.2" font-weight="bold" text-anchor="middle" stroke="#231815" stroke-width="0.32">VMC</text><text x="103.5" y="387.6" font-size="16" font-weight="bold" text-anchor="middle" stroke="#231815" stroke-width="0.32">AAV-NC</text><text x="224.4" y="388.8" font-size="16" font-weight="bold" text-anchor="middle" stroke="#231815" stroke-width="0.32">AAV-DJ-1</text><text x="17.6" y="442.6" font-size="16.2" font-weight="bold" text-anchor="middle" stroke="#231815" stroke-width="0.32">Ctrl</text><text x="19.8" y="528" font-size="16.2" font-weight="bold" text-anchor="middle" stroke="#231815" stroke-width="0.32">VMC</text>
</svg>
</body></html>
